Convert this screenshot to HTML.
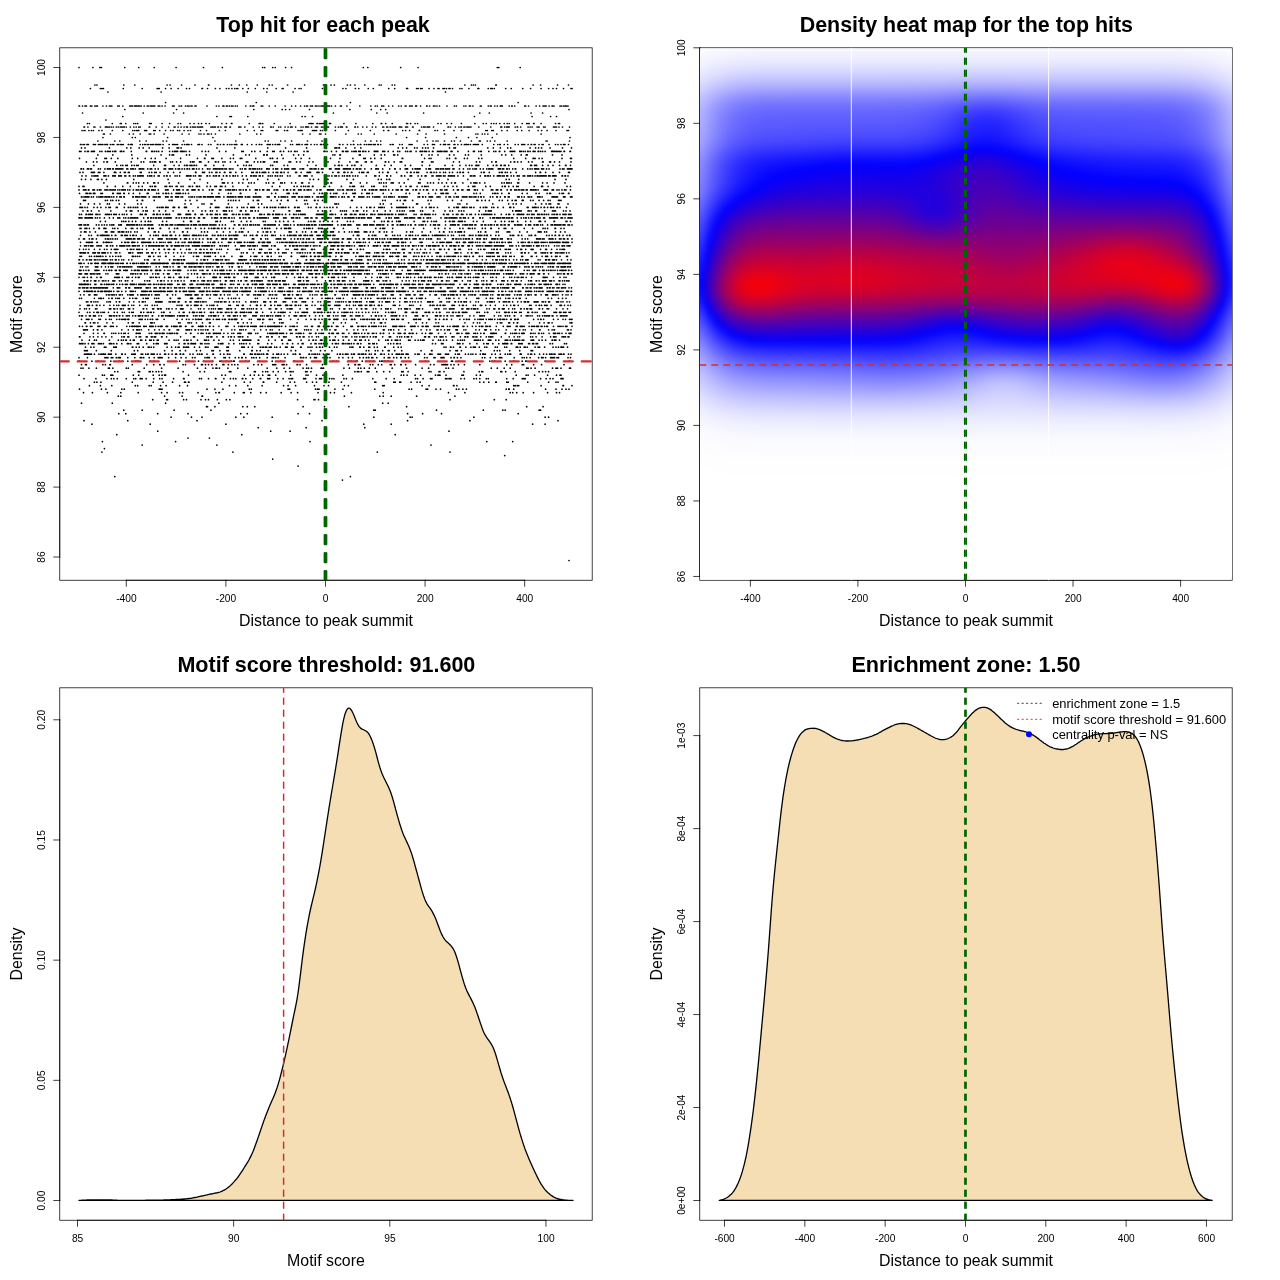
<!DOCTYPE html>
<html lang="en"><head><meta charset="utf-8"><title>Motif enrichment plots</title>
<style>
html,body{margin:0;padding:0;background:#fff}
#page{position:relative;width:1280px;height:1280px;overflow:hidden;background:#fff;font-family:'Liberation Sans', Arial, Helvetica, sans-serif}
#hw{position:absolute;left:700px;top:48px;width:532px;height:532px;overflow:hidden}
#heat{position:absolute;left:0;top:0;width:532px;height:532px;filter:blur(2.5px)}
#heat div{position:absolute;top:-20px;width:4px;height:572px;background-size:100% 532px;background-position:0 20px;background-repeat:no-repeat}
svg{position:absolute;left:0;top:0}
svg text{font-family:'Liberation Sans', Arial, Helvetica, sans-serif;fill:#000}
</style></head><body>
<div id="page">
<svg width="1280" height="1280" viewBox="0 0 1280 1280">
<rect x="699.76" y="47.81" width="532.43" height="532.43" fill="none" stroke="#000" stroke-width="0.75"/>
<text x="966.38" y="31.9" text-anchor="middle" font-weight="bold" font-size="21.43">Density heat map for the top hits</text>
<text x="965.98" y="625.5" text-anchor="middle" font-size="15.9">Distance to peak summit</text>
<text transform="translate(661.5,314.02) rotate(-90)" text-anchor="middle" font-size="15.9">Motif score</text>
<path d="M750.35 580.24H1180.6M750.35 580.24v5.98M857.91 580.24v5.98M965.48 580.24v5.98M1073.04 580.24v5.98M1180.6 580.24v5.98" fill="none" stroke="#000" stroke-width="0.75" stroke-linecap="square"/>
<text x="750.45" y="601.7" text-anchor="middle" font-size="10.2">-400</text>
<text x="858.01" y="601.7" text-anchor="middle" font-size="10.2">-200</text>
<text x="965.58" y="601.7" text-anchor="middle" font-size="10.2">0</text>
<text x="1073.14" y="601.7" text-anchor="middle" font-size="10.2">200</text>
<text x="1180.7" y="601.7" text-anchor="middle" font-size="10.2">400</text>
<path d="M699.76 576.46V47.81M699.76 576.46h-5.98M699.76 500.94h-5.98M699.76 425.42h-5.98M699.76 349.9h-5.98M699.76 274.38h-5.98M699.76 198.85h-5.98M699.76 123.33h-5.98M699.76 47.81h-5.98" fill="none" stroke="#000" stroke-width="0.75" stroke-linecap="square"/>
<text transform="translate(685.4,576.46) rotate(-90)" text-anchor="middle" font-size="10.2">86</text>
<text transform="translate(685.4,500.94) rotate(-90)" text-anchor="middle" font-size="10.2">88</text>
<text transform="translate(685.4,425.42) rotate(-90)" text-anchor="middle" font-size="10.2">90</text>
<text transform="translate(685.4,349.9) rotate(-90)" text-anchor="middle" font-size="10.2">92</text>
<text transform="translate(685.4,274.38) rotate(-90)" text-anchor="middle" font-size="10.2">94</text>
<text transform="translate(685.4,198.85) rotate(-90)" text-anchor="middle" font-size="10.2">96</text>
<text transform="translate(685.4,123.33) rotate(-90)" text-anchor="middle" font-size="10.2">98</text>
<text transform="translate(685.4,47.81) rotate(-90)" text-anchor="middle" font-size="10.2">100</text>
</svg>
<div id="hw"><div id="heat">
<div style="left:-16px;background-image:linear-gradient(#fbfbff,#fafaff,#f7f7ff,#f5f5ff,#f2f2ff,#efefff,#ebebff,#e6e6ff,#e1e1ff,#dbdbff,#d4d4ff,#cdcdff,#c6c6ff,#c0c0ff,#bbbbff,#b7b7ff,#b4b4ff,#b1b1ff,#afafff,#aeaeff,#acacff,#aaaaff,#a8a8ff,#a6a6ff,#a2a2ff,#9e9eff,#9999ff,#9494ff,#9090ff,#8c8cff,#8a8aff,#8888ff,#8686ff,#8484ff,#8181ff,#7e7eff,#7a7aff,#7676ff,#7171ff,#6b6bff,#6565ff,#5f5fff,#5959ff,#5353ff,#4e4eff,#4848ff,#4343ff,#3e3eff,#3939ff,#3434ff,#2f2fff,#2a2aff,#2525ff,#2020ff,#1b1bff,#1717ff,#1212ff,#0f0fff,#0c0cff,#0a0aff,#0b0bff,#0e0eff,#1313ff,#1a1aff,#2323ff,#2d2dff,#3838ff,#4343ff,#4d4dff,#5858ff,#6262ff,#6b6bff,#7575ff,#7e7eff,#8787ff,#9090ff,#9898ff,#a1a1ff,#a9a9ff,#b0b0ff,#b8b8ff,#bebeff,#c5c5ff,#cacaff,#d0d0ff,#d5d5ff,#dadaff,#dfdfff,#e3e3ff,#e8e8ff,#ececff,#efefff,#f2f2ff,#f5f5ff,#f7f7ff,#f9f9ff,#fafaff,#fbfbff,#fcfcff,#fdfdff,#fdfdff,#fefeff,#fefeff,#fefeff,#fefeff,#ffffff,#ffffff,#ffffff,#ffffff,#ffffff,#ffffff,#ffffff,#ffffff,#ffffff,#ffffff,#ffffff,#ffffff,#ffffff,#ffffff,#ffffff,#ffffff,#ffffff,#ffffff,#ffffff,#ffffff,#ffffff,#ffffff,#ffffff,#ffffff,#ffffff,#ffffff,#ffffff,#ffffff,#ffffff)"></div>
<div style="left:-12px;background-image:linear-gradient(#fbfbff,#fafaff,#f7f7ff,#f5f5ff,#f2f2ff,#efefff,#ebebff,#e6e6ff,#e1e1ff,#dbdbff,#d4d4ff,#cdcdff,#c6c6ff,#c0c0ff,#bbbbff,#b7b7ff,#b4b4ff,#b1b1ff,#afafff,#aeaeff,#acacff,#aaaaff,#a8a8ff,#a6a6ff,#a2a2ff,#9e9eff,#9999ff,#9494ff,#9090ff,#8c8cff,#8a8aff,#8888ff,#8686ff,#8484ff,#8181ff,#7e7eff,#7a7aff,#7676ff,#7171ff,#6b6bff,#6565ff,#5f5fff,#5959ff,#5353ff,#4e4eff,#4848ff,#4343ff,#3e3eff,#3939ff,#3434ff,#2f2fff,#2a2aff,#2525ff,#2020ff,#1b1bff,#1717ff,#1212ff,#0f0fff,#0c0cff,#0a0aff,#0b0bff,#0e0eff,#1313ff,#1a1aff,#2323ff,#2d2dff,#3838ff,#4343ff,#4d4dff,#5858ff,#6262ff,#6b6bff,#7575ff,#7e7eff,#8787ff,#9090ff,#9898ff,#a1a1ff,#a9a9ff,#b0b0ff,#b8b8ff,#bebeff,#c5c5ff,#cacaff,#d0d0ff,#d5d5ff,#dadaff,#dfdfff,#e3e3ff,#e8e8ff,#ececff,#efefff,#f2f2ff,#f5f5ff,#f7f7ff,#f9f9ff,#fafaff,#fbfbff,#fcfcff,#fdfdff,#fdfdff,#fefeff,#fefeff,#fefeff,#fefeff,#ffffff,#ffffff,#ffffff,#ffffff,#ffffff,#ffffff,#ffffff,#ffffff,#ffffff,#ffffff,#ffffff,#ffffff,#ffffff,#ffffff,#ffffff,#ffffff,#ffffff,#ffffff,#ffffff,#ffffff,#ffffff,#ffffff,#ffffff,#ffffff,#ffffff,#ffffff,#ffffff,#ffffff,#ffffff)"></div>
<div style="left:-8px;background-image:linear-gradient(#fbfbff,#fafaff,#f7f7ff,#f5f5ff,#f2f2ff,#efefff,#ebebff,#e6e6ff,#e1e1ff,#dbdbff,#d4d4ff,#cdcdff,#c6c6ff,#c0c0ff,#bbbbff,#b7b7ff,#b4b4ff,#b1b1ff,#afafff,#aeaeff,#acacff,#aaaaff,#a8a8ff,#a6a6ff,#a2a2ff,#9e9eff,#9999ff,#9494ff,#9090ff,#8c8cff,#8a8aff,#8888ff,#8686ff,#8484ff,#8181ff,#7e7eff,#7a7aff,#7676ff,#7171ff,#6b6bff,#6565ff,#5f5fff,#5959ff,#5353ff,#4e4eff,#4848ff,#4343ff,#3e3eff,#3939ff,#3434ff,#2f2fff,#2a2aff,#2525ff,#2020ff,#1b1bff,#1717ff,#1212ff,#0f0fff,#0c0cff,#0a0aff,#0b0bff,#0e0eff,#1313ff,#1a1aff,#2323ff,#2d2dff,#3838ff,#4343ff,#4d4dff,#5858ff,#6262ff,#6b6bff,#7575ff,#7e7eff,#8787ff,#9090ff,#9898ff,#a1a1ff,#a9a9ff,#b0b0ff,#b8b8ff,#bebeff,#c5c5ff,#cacaff,#d0d0ff,#d5d5ff,#dadaff,#dfdfff,#e3e3ff,#e8e8ff,#ececff,#efefff,#f2f2ff,#f5f5ff,#f7f7ff,#f9f9ff,#fafaff,#fbfbff,#fcfcff,#fdfdff,#fdfdff,#fefeff,#fefeff,#fefeff,#fefeff,#ffffff,#ffffff,#ffffff,#ffffff,#ffffff,#ffffff,#ffffff,#ffffff,#ffffff,#ffffff,#ffffff,#ffffff,#ffffff,#ffffff,#ffffff,#ffffff,#ffffff,#ffffff,#ffffff,#ffffff,#ffffff,#ffffff,#ffffff,#ffffff,#ffffff,#ffffff,#ffffff,#ffffff,#ffffff)"></div>
<div style="left:-4px;background-image:linear-gradient(#fbfbff,#fafaff,#f7f7ff,#f5f5ff,#f2f2ff,#efefff,#ebebff,#e6e6ff,#e1e1ff,#dbdbff,#d4d4ff,#cdcdff,#c6c6ff,#c0c0ff,#bbbbff,#b7b7ff,#b4b4ff,#b1b1ff,#afafff,#aeaeff,#acacff,#aaaaff,#a8a8ff,#a6a6ff,#a2a2ff,#9e9eff,#9999ff,#9494ff,#9090ff,#8c8cff,#8a8aff,#8888ff,#8686ff,#8484ff,#8181ff,#7e7eff,#7a7aff,#7676ff,#7171ff,#6b6bff,#6565ff,#5f5fff,#5959ff,#5353ff,#4e4eff,#4848ff,#4343ff,#3e3eff,#3939ff,#3434ff,#2f2fff,#2a2aff,#2525ff,#2020ff,#1b1bff,#1717ff,#1212ff,#0f0fff,#0c0cff,#0a0aff,#0b0bff,#0e0eff,#1313ff,#1a1aff,#2323ff,#2d2dff,#3838ff,#4343ff,#4d4dff,#5858ff,#6262ff,#6b6bff,#7575ff,#7e7eff,#8787ff,#9090ff,#9898ff,#a1a1ff,#a9a9ff,#b0b0ff,#b8b8ff,#bebeff,#c5c5ff,#cacaff,#d0d0ff,#d5d5ff,#dadaff,#dfdfff,#e3e3ff,#e8e8ff,#ececff,#efefff,#f2f2ff,#f5f5ff,#f7f7ff,#f9f9ff,#fafaff,#fbfbff,#fcfcff,#fdfdff,#fdfdff,#fefeff,#fefeff,#fefeff,#fefeff,#ffffff,#ffffff,#ffffff,#ffffff,#ffffff,#ffffff,#ffffff,#ffffff,#ffffff,#ffffff,#ffffff,#ffffff,#ffffff,#ffffff,#ffffff,#ffffff,#ffffff,#ffffff,#ffffff,#ffffff,#ffffff,#ffffff,#ffffff,#ffffff,#ffffff,#ffffff,#ffffff,#ffffff,#ffffff)"></div>
<div style="left:0px;background-image:linear-gradient(#fbfbff,#f9f9ff,#f7f7ff,#f5f5ff,#f2f2ff,#eeeeff,#eaeaff,#e5e5ff,#e0e0ff,#dadaff,#d3d3ff,#ccccff,#c5c5ff,#bebeff,#b9b9ff,#b4b4ff,#b1b1ff,#afafff,#adadff,#ababff,#aaaaff,#a8a8ff,#a6a6ff,#a3a3ff,#9f9fff,#9b9bff,#9696ff,#9191ff,#8d8dff,#8989ff,#8686ff,#8484ff,#8282ff,#8080ff,#7e7eff,#7b7bff,#7777ff,#7272ff,#6d6dff,#6767ff,#6161ff,#5a5aff,#5454ff,#4e4eff,#4949ff,#4343ff,#3e3eff,#3838ff,#3333ff,#2e2eff,#2929ff,#2424ff,#1f1fff,#1919ff,#1414ff,#0f0fff,#0b0bff,#0707ff,#0404ff,#0202ff,#0303ff,#0606ff,#0c0cff,#1313ff,#1c1cff,#2727ff,#3232ff,#3d3dff,#4848ff,#5353ff,#5d5dff,#6767ff,#7070ff,#7a7aff,#8383ff,#8c8cff,#9595ff,#9e9eff,#a6a6ff,#aeaeff,#b5b5ff,#bcbcff,#c3c3ff,#c9c9ff,#ceceff,#d4d4ff,#d9d9ff,#dedeff,#e2e2ff,#e7e7ff,#ebebff,#efefff,#f2f2ff,#f4f4ff,#f7f7ff,#f8f8ff,#fafaff,#fbfbff,#fcfcff,#fdfdff,#fdfdff,#fefeff,#fefeff,#fefeff,#fefeff,#ffffff,#ffffff,#ffffff,#ffffff,#ffffff,#ffffff,#ffffff,#ffffff,#ffffff,#ffffff,#ffffff,#ffffff,#ffffff,#ffffff,#ffffff,#ffffff,#ffffff,#ffffff,#ffffff,#ffffff,#ffffff,#ffffff,#ffffff,#ffffff,#ffffff,#ffffff,#ffffff,#ffffff,#ffffff)"></div>
<div style="left:4px;background-image:linear-gradient(#fbfbff,#f9f9ff,#f6f6ff,#f4f4ff,#f0f0ff,#ececff,#e8e8ff,#e2e2ff,#dcdcff,#d5d5ff,#ceceff,#c6c6ff,#bebeff,#b7b7ff,#b1b1ff,#acacff,#a8a8ff,#a6a6ff,#a4a4ff,#a2a2ff,#a0a0ff,#9e9eff,#9b9bff,#9898ff,#9494ff,#8f8fff,#8a8aff,#8484ff,#8080ff,#7c7cff,#7979ff,#7777ff,#7575ff,#7373ff,#7070ff,#6c6cff,#6868ff,#6363ff,#5d5dff,#5656ff,#4f4fff,#4848ff,#4141ff,#3a3aff,#3434ff,#2d2dff,#2727ff,#2121ff,#1c1cff,#1616ff,#1010ff,#0a0aff,#0404ff,#0200fd,#0800f7,#0d00f2,#1300ec,#1800e7,#1b00e4,#1d00e2,#1c00e3,#1900e6,#1300ec,#0b00f4,#0000ff,#0c0cff,#1818ff,#2525ff,#3232ff,#3e3eff,#4949ff,#5555ff,#5f5fff,#6a6aff,#7575ff,#7f7fff,#8989ff,#9393ff,#9c9cff,#a5a5ff,#adadff,#b5b5ff,#bcbcff,#c2c2ff,#c8c8ff,#ceceff,#d4d4ff,#dadaff,#dfdfff,#e4e4ff,#e9e9ff,#ededff,#f0f0ff,#f3f3ff,#f6f6ff,#f8f8ff,#f9f9ff,#fbfbff,#fcfcff,#fdfdff,#fdfdff,#fefeff,#fefeff,#fefeff,#fefeff,#ffffff,#ffffff,#ffffff,#ffffff,#ffffff,#ffffff,#ffffff,#ffffff,#ffffff,#ffffff,#ffffff,#ffffff,#ffffff,#ffffff,#ffffff,#ffffff,#ffffff,#ffffff,#ffffff,#ffffff,#ffffff,#ffffff,#ffffff,#ffffff,#ffffff,#ffffff,#ffffff,#ffffff,#ffffff)"></div>
<div style="left:8px;background-image:linear-gradient(#fafaff,#f8f8ff,#f6f6ff,#f2f2ff,#efefff,#eaeaff,#e5e5ff,#dfdfff,#d9d9ff,#d1d1ff,#c9c9ff,#c0c0ff,#b7b7ff,#afafff,#a9a9ff,#a3a3ff,#9f9fff,#9d9dff,#9a9aff,#9898ff,#9696ff,#9494ff,#9191ff,#8e8eff,#8a8aff,#8484ff,#7e7eff,#7878ff,#7373ff,#6f6fff,#6c6cff,#6a6aff,#6868ff,#6666ff,#6363ff,#5f5fff,#5a5aff,#5454ff,#4d4dff,#4646ff,#3e3eff,#3636ff,#2e2eff,#2727ff,#1f1fff,#1818ff,#1212ff,#0b0bff,#0404ff,#0200fd,#0900f6,#0f00f0,#1600e9,#1d00e2,#2300dc,#2a00d5,#3000cf,#3500ca,#3a00c5,#3c00c3,#3b00c4,#3800c7,#3100ce,#2800d7,#1c00e3,#0f00f0,#0100fe,#0d0dff,#1c1cff,#2929ff,#3636ff,#4343ff,#4f4fff,#5b5bff,#6666ff,#7272ff,#7d7dff,#8888ff,#9292ff,#9b9bff,#a4a4ff,#adadff,#b5b5ff,#bcbcff,#c3c3ff,#c9c9ff,#d0d0ff,#d6d6ff,#dcdcff,#e1e1ff,#e6e6ff,#ebebff,#efefff,#f2f2ff,#f5f5ff,#f7f7ff,#f9f9ff,#fafaff,#fbfbff,#fcfcff,#fdfdff,#fdfdff,#fefeff,#fefeff,#fefeff,#fefeff,#ffffff,#ffffff,#ffffff,#ffffff,#ffffff,#ffffff,#ffffff,#ffffff,#ffffff,#ffffff,#ffffff,#ffffff,#ffffff,#ffffff,#ffffff,#ffffff,#ffffff,#ffffff,#ffffff,#ffffff,#ffffff,#ffffff,#ffffff,#ffffff,#ffffff,#ffffff,#ffffff,#ffffff)"></div>
<div style="left:12px;background-image:linear-gradient(#fafaff,#f7f7ff,#f5f5ff,#f1f1ff,#ededff,#e8e8ff,#e3e3ff,#ddddff,#d5d5ff,#cdcdff,#c4c4ff,#bbbbff,#b1b1ff,#a9a9ff,#a1a1ff,#9b9bff,#9797ff,#9494ff,#9191ff,#8f8fff,#8d8dff,#8b8bff,#8888ff,#8484ff,#7f7fff,#7979ff,#7373ff,#6d6dff,#6767ff,#6363ff,#6060ff,#5e5eff,#5c5cff,#5959ff,#5656ff,#5252ff,#4d4dff,#4646ff,#3f3fff,#3737ff,#2e2eff,#2525ff,#1c1cff,#1414ff,#0c0cff,#0404ff,#0300fc,#0b00f4,#1200ed,#1900e6,#2000df,#2700d8,#2f00d0,#3600c9,#3e00c1,#4500ba,#4c00b3,#5200ad,#5700a8,#5a00a5,#5a00a5,#5600a9,#4f00b0,#4400bb,#3700c8,#2900d6,#1900e6,#0900f6,#0707ff,#1616ff,#2424ff,#3232ff,#3f3fff,#4c4cff,#5959ff,#6565ff,#7171ff,#7d7dff,#8888ff,#9393ff,#9c9cff,#a5a5ff,#aeaeff,#b6b6ff,#bdbdff,#c5c5ff,#cbcbff,#d2d2ff,#d8d8ff,#dedeff,#e4e4ff,#e9e9ff,#ededff,#f1f1ff,#f4f4ff,#f6f6ff,#f8f8ff,#fafaff,#fbfbff,#fcfcff,#fdfdff,#fdfdff,#fefeff,#fefeff,#fefeff,#fefeff,#ffffff,#ffffff,#ffffff,#ffffff,#ffffff,#ffffff,#ffffff,#ffffff,#ffffff,#ffffff,#ffffff,#ffffff,#ffffff,#ffffff,#ffffff,#ffffff,#ffffff,#ffffff,#ffffff,#ffffff,#ffffff,#ffffff,#ffffff,#ffffff,#ffffff,#ffffff,#ffffff,#ffffff)"></div>
<div style="left:16px;background-image:linear-gradient(#f9f9ff,#f7f7ff,#f4f4ff,#f0f0ff,#ececff,#e7e7ff,#e1e1ff,#dadaff,#d2d2ff,#c9c9ff,#c0c0ff,#b5b5ff,#ababff,#a2a2ff,#9a9aff,#9494ff,#8f8fff,#8c8cff,#8989ff,#8787ff,#8484ff,#8282ff,#7f7fff,#7b7bff,#7676ff,#7070ff,#6969ff,#6262ff,#5c5cff,#5858ff,#5454ff,#5252ff,#5050ff,#4e4eff,#4a4aff,#4646ff,#4040ff,#3a3aff,#3131ff,#2828ff,#1f1fff,#1515ff,#0c0cff,#0303ff,#0600f9,#0f00f0,#1700e8,#1e00e1,#2600d9,#2e00d1,#3600c9,#3e00c1,#4600b9,#4e00b1,#5600a9,#5f00a0,#660099,#6d0092,#73008c,#760089,#760089,#72008d,#6a0095,#5f00a0,#5100ae,#4100be,#3000cf,#1e00e1,#0d00f2,#0303ff,#1313ff,#2222ff,#3030ff,#3e3eff,#4c4cff,#5a5aff,#6767ff,#7373ff,#7f7fff,#8a8aff,#9595ff,#9f9fff,#a8a8ff,#b0b0ff,#b8b8ff,#c0c0ff,#c7c7ff,#ceceff,#d5d5ff,#dcdcff,#e2e2ff,#e7e7ff,#ececff,#f0f0ff,#f3f3ff,#f6f6ff,#f8f8ff,#f9f9ff,#fbfbff,#fcfcff,#fdfdff,#fdfdff,#fefeff,#fefeff,#fefeff,#fefeff,#ffffff,#ffffff,#ffffff,#ffffff,#ffffff,#ffffff,#ffffff,#ffffff,#ffffff,#ffffff,#ffffff,#ffffff,#ffffff,#ffffff,#ffffff,#ffffff,#ffffff,#ffffff,#ffffff,#ffffff,#ffffff,#ffffff,#ffffff,#ffffff,#ffffff,#ffffff,#ffffff,#ffffff)"></div>
<div style="left:20px;background-image:linear-gradient(#f9f9ff,#f6f6ff,#f3f3ff,#efefff,#ebebff,#e5e5ff,#dfdfff,#d8d8ff,#cfcfff,#c6c6ff,#bcbcff,#b1b1ff,#a6a6ff,#9c9cff,#9494ff,#8d8dff,#8888ff,#8484ff,#8282ff,#7f7fff,#7d7dff,#7a7aff,#7777ff,#7373ff,#6d6dff,#6666ff,#5f5fff,#5858ff,#5252ff,#4d4dff,#4a4aff,#4848ff,#4545ff,#4343ff,#4040ff,#3b3bff,#3535ff,#2e2eff,#2525ff,#1b1bff,#1111ff,#0707ff,#0400fb,#0d00f2,#1700e8,#2000df,#2800d7,#3100ce,#3900c6,#4100be,#4a00b5,#5200ad,#5b00a4,#64009b,#6d0092,#760089,#7e0081,#860079,#8c0073,#90006f,#90006f,#8c0073,#83007c,#770088,#680097,#5700a8,#4500ba,#3200cd,#1f00e0,#0e00f1,#0303ff,#1313ff,#2323ff,#3232ff,#4141ff,#4f4fff,#5d5dff,#6a6aff,#7777ff,#8383ff,#8e8eff,#9898ff,#a2a2ff,#ababff,#b4b4ff,#bcbcff,#c4c4ff,#cbcbff,#d3d3ff,#d9d9ff,#e0e0ff,#e5e5ff,#eaeaff,#efefff,#f2f2ff,#f5f5ff,#f7f7ff,#f9f9ff,#fafaff,#fcfcff,#fcfcff,#fdfdff,#fdfdff,#fefeff,#fefeff,#fefeff,#fefeff,#ffffff,#ffffff,#ffffff,#ffffff,#ffffff,#ffffff,#ffffff,#ffffff,#ffffff,#ffffff,#ffffff,#ffffff,#ffffff,#ffffff,#ffffff,#ffffff,#ffffff,#ffffff,#ffffff,#ffffff,#ffffff,#ffffff,#ffffff,#ffffff,#ffffff,#ffffff,#ffffff)"></div>
<div style="left:24px;background-image:linear-gradient(#f9f9ff,#f6f6ff,#f3f3ff,#eeeeff,#eaeaff,#e4e4ff,#ddddff,#d6d6ff,#cdcdff,#c3c3ff,#b8b8ff,#adadff,#a1a1ff,#9797ff,#8e8eff,#8787ff,#8282ff,#7e7eff,#7b7bff,#7878ff,#7676ff,#7373ff,#6f6fff,#6b6bff,#6565ff,#5e5eff,#5757ff,#4f4fff,#4949ff,#4444ff,#4040ff,#3e3eff,#3c3cff,#3939ff,#3636ff,#3131ff,#2b2bff,#2323ff,#1a1aff,#0f0fff,#0404ff,#0600f9,#1100ee,#1c00e3,#2600d9,#2f00d0,#3800c7,#4100be,#4a00b5,#5300ac,#5b00a4,#65009a,#6e0091,#780087,#81007e,#8b0074,#94006b,#9c0063,#a3005c,#a70058,#a70058,#a3005c,#9a0065,#8d0072,#7d0082,#6b0094,#5700a8,#4300bc,#3000cf,#1d00e2,#0b00f4,#0606ff,#1717ff,#2727ff,#3636ff,#4545ff,#5454ff,#6262ff,#6f6fff,#7c7cff,#8888ff,#9393ff,#9d9dff,#a6a6ff,#afafff,#b8b8ff,#c0c0ff,#c8c8ff,#d0d0ff,#d7d7ff,#dedeff,#e4e4ff,#e9e9ff,#eeeeff,#f1f1ff,#f4f4ff,#f7f7ff,#f9f9ff,#fafaff,#fbfbff,#fcfcff,#fdfdff,#fdfdff,#fefeff,#fefeff,#fefeff,#fefeff,#ffffff,#ffffff,#ffffff,#ffffff,#ffffff,#ffffff,#ffffff,#ffffff,#ffffff,#ffffff,#ffffff,#ffffff,#ffffff,#ffffff,#ffffff,#ffffff,#ffffff,#ffffff,#ffffff,#ffffff,#ffffff,#ffffff,#ffffff,#ffffff,#ffffff,#ffffff,#ffffff)"></div>
<div style="left:28px;background-image:linear-gradient(#f8f8ff,#f6f6ff,#f2f2ff,#eeeeff,#e9e9ff,#e3e3ff,#dcdcff,#d4d4ff,#cbcbff,#c0c0ff,#b5b5ff,#a9a9ff,#9d9dff,#9292ff,#8989ff,#8282ff,#7c7cff,#7878ff,#7575ff,#7272ff,#7070ff,#6d6dff,#6969ff,#6464ff,#5e5eff,#5757ff,#4f4fff,#4747ff,#4141ff,#3c3cff,#3838ff,#3636ff,#3333ff,#3131ff,#2d2dff,#2828ff,#2121ff,#1919ff,#1010ff,#0505ff,#0700f8,#1200ed,#1d00e2,#2800d7,#3300cc,#3c00c3,#4600b9,#4f00b0,#5800a7,#62009d,#6b0094,#75008a,#7f0080,#890076,#93006c,#9d0062,#a70058,#b0004f,#b70048,#bb0044,#bb0044,#b60049,#ad0052,#a0005f,#8f0070,#7c0083,#670098,#5200ad,#3e00c1,#2a00d5,#1700e8,#0500fa,#0c0cff,#1d1dff,#2d2dff,#3d3dff,#4c4cff,#5b5bff,#6969ff,#7676ff,#8282ff,#8e8eff,#9898ff,#a2a2ff,#ababff,#b4b4ff,#bdbdff,#c6c6ff,#ceceff,#d5d5ff,#dcdcff,#e3e3ff,#e8e8ff,#ededff,#f1f1ff,#f4f4ff,#f6f6ff,#f8f8ff,#fafaff,#fbfbff,#fcfcff,#fdfdff,#fdfdff,#fefeff,#fefeff,#fefeff,#fefeff,#ffffff,#ffffff,#ffffff,#ffffff,#ffffff,#ffffff,#ffffff,#ffffff,#ffffff,#ffffff,#ffffff,#ffffff,#ffffff,#ffffff,#ffffff,#ffffff,#ffffff,#ffffff,#ffffff,#ffffff,#ffffff,#ffffff,#ffffff,#ffffff,#ffffff,#ffffff,#ffffff)"></div>
<div style="left:32px;background-image:linear-gradient(#f8f8ff,#f5f5ff,#f2f2ff,#ededff,#e8e8ff,#e2e2ff,#dadaff,#d2d2ff,#c9c9ff,#bebeff,#b2b2ff,#a6a6ff,#9999ff,#8e8eff,#8585ff,#7d7dff,#7777ff,#7373ff,#7070ff,#6d6dff,#6a6aff,#6767ff,#6464ff,#5f5fff,#5959ff,#5151ff,#4949ff,#4141ff,#3a3aff,#3434ff,#3131ff,#2e2eff,#2c2cff,#2929ff,#2525ff,#2020ff,#1919ff,#1111ff,#0707ff,#0500fa,#1000ef,#1c00e3,#2800d7,#3300cc,#3e00c1,#4800b7,#5200ad,#5b00a4,#65009a,#6e0091,#780087,#82007d,#8d0072,#970068,#a2005d,#ac0053,#b60049,#c0003f,#c70038,#cc0033,#cc0033,#c70038,#be0041,#b0004f,#9e0061,#8a0075,#75008a,#5f00a0,#4900b6,#3500ca,#2100de,#0f00f0,#0303ff,#1515ff,#2626ff,#3636ff,#4646ff,#5555ff,#6363ff,#7171ff,#7d7dff,#8989ff,#9494ff,#9f9fff,#a8a8ff,#b1b1ff,#babaff,#c3c3ff,#ccccff,#d4d4ff,#dbdbff,#e2e2ff,#e7e7ff,#ececff,#f0f0ff,#f3f3ff,#f6f6ff,#f8f8ff,#fafaff,#fbfbff,#fcfcff,#fdfdff,#fdfdff,#fefeff,#fefeff,#fefeff,#fefeff,#ffffff,#ffffff,#ffffff,#ffffff,#ffffff,#ffffff,#ffffff,#ffffff,#ffffff,#ffffff,#ffffff,#ffffff,#ffffff,#ffffff,#ffffff,#ffffff,#ffffff,#ffffff,#ffffff,#ffffff,#ffffff,#ffffff,#ffffff,#ffffff,#ffffff,#ffffff,#ffffff)"></div>
<div style="left:36px;background-image:linear-gradient(#f8f8ff,#f5f5ff,#f1f1ff,#ededff,#e7e7ff,#e1e1ff,#d9d9ff,#d1d1ff,#c7c7ff,#bcbcff,#b0b0ff,#a3a3ff,#9797ff,#8b8bff,#8181ff,#7979ff,#7373ff,#6f6fff,#6c6cff,#6969ff,#6666ff,#6363ff,#5f5fff,#5a5aff,#5454ff,#4c4cff,#4343ff,#3b3bff,#3434ff,#2e2eff,#2a2aff,#2727ff,#2525ff,#2222ff,#1e1eff,#1818ff,#1212ff,#0909ff,#0100fe,#0d00f2,#1900e6,#2500da,#3100ce,#3c00c3,#4700b8,#5200ad,#5c00a3,#660099,#6f0090,#790086,#83007c,#8e0071,#980067,#a3005c,#ae0051,#b90046,#c3003c,#cd0032,#d5002a,#d90026,#d90026,#d5002a,#cb0034,#bd0042,#ab0054,#960069,#80007f,#690096,#5300ac,#3e00c1,#2a00d5,#1600e9,#0400fb,#0e0eff,#1f1fff,#3030ff,#4040ff,#5050ff,#5e5eff,#6c6cff,#7a7aff,#8686ff,#9191ff,#9b9bff,#a5a5ff,#afafff,#b8b8ff,#c1c1ff,#cacaff,#d2d2ff,#dadaff,#e1e1ff,#e6e6ff,#ebebff,#f0f0ff,#f3f3ff,#f6f6ff,#f8f8ff,#fafaff,#fbfbff,#fcfcff,#fdfdff,#fdfdff,#fefeff,#fefeff,#fefeff,#fefeff,#ffffff,#ffffff,#ffffff,#ffffff,#ffffff,#ffffff,#ffffff,#ffffff,#ffffff,#ffffff,#ffffff,#ffffff,#ffffff,#ffffff,#ffffff,#ffffff,#ffffff,#ffffff,#ffffff,#ffffff,#ffffff,#ffffff,#ffffff,#ffffff,#ffffff,#ffffff,#ffffff)"></div>
<div style="left:40px;background-image:linear-gradient(#f8f8ff,#f5f5ff,#f1f1ff,#ececff,#e7e7ff,#e0e0ff,#d9d9ff,#d0d0ff,#c6c6ff,#bbbbff,#aeaeff,#a1a1ff,#9494ff,#8888ff,#7e7eff,#7676ff,#7070ff,#6c6cff,#6868ff,#6565ff,#6262ff,#5f5fff,#5b5bff,#5656ff,#5050ff,#4848ff,#3f3fff,#3636ff,#2f2fff,#2929ff,#2525ff,#2222ff,#1f1fff,#1c1cff,#1717ff,#1212ff,#0b0bff,#0202ff,#0800f7,#1400eb,#2000df,#2c00d3,#3800c7,#4400bb,#4f00b0,#5a00a5,#64009b,#6e0091,#780087,#82007d,#8c0073,#970068,#a2005d,#ad0052,#b80047,#c3003c,#ce0031,#d70028,#df0020,#e4001b,#e4001b,#df0020,#d5002a,#c60039,#b4004b,#9f0060,#880077,#71008e,#5b00a4,#4500ba,#3000cf,#1d00e2,#0a00f5,#0808ff,#1a1aff,#2b2bff,#3c3cff,#4c4cff,#5b5bff,#6969ff,#7676ff,#8383ff,#8e8eff,#9999ff,#a3a3ff,#adadff,#b6b6ff,#c0c0ff,#c9c9ff,#d1d1ff,#d9d9ff,#e0e0ff,#e6e6ff,#ebebff,#efefff,#f3f3ff,#f6f6ff,#f8f8ff,#fafaff,#fbfbff,#fcfcff,#fdfdff,#fdfdff,#fefeff,#fefeff,#fefeff,#fefeff,#ffffff,#ffffff,#ffffff,#ffffff,#ffffff,#ffffff,#ffffff,#ffffff,#ffffff,#ffffff,#ffffff,#ffffff,#ffffff,#ffffff,#ffffff,#ffffff,#ffffff,#ffffff,#ffffff,#ffffff,#ffffff,#ffffff,#ffffff,#ffffff,#ffffff,#ffffff,#ffffff)"></div>
<div style="left:44px;background-image:linear-gradient(#f8f8ff,#f4f4ff,#f1f1ff,#ececff,#e6e6ff,#dfdfff,#d8d8ff,#cfcfff,#c5c5ff,#b9b9ff,#adadff,#9f9fff,#9292ff,#8686ff,#7c7cff,#7474ff,#6e6eff,#6969ff,#6666ff,#6363ff,#6060ff,#5c5cff,#5858ff,#5353ff,#4c4cff,#4444ff,#3b3bff,#3232ff,#2a2aff,#2424ff,#2020ff,#1d1dff,#1a1aff,#1616ff,#1212ff,#0c0cff,#0505ff,#0400fb,#0f00f0,#1a00e5,#2600d9,#3200cd,#3e00c1,#4a00b5,#5500aa,#60009f,#6a0095,#75008a,#7f0080,#890076,#93006c,#9e0061,#a90056,#b4004b,#bf0040,#ca0035,#d5002a,#df0020,#e70018,#eb0014,#eb0014,#e60019,#dc0023,#ce0031,#bb0044,#a60059,#8f0070,#770088,#60009f,#4a00b5,#3600c9,#2200dd,#0f00f0,#0404ff,#1616ff,#2727ff,#3838ff,#4848ff,#5858ff,#6666ff,#7474ff,#8080ff,#8c8cff,#9797ff,#a1a1ff,#ababff,#b5b5ff,#bebeff,#c7c7ff,#d0d0ff,#d8d8ff,#dfdfff,#e5e5ff,#ebebff,#efefff,#f3f3ff,#f5f5ff,#f8f8ff,#f9f9ff,#fbfbff,#fcfcff,#fdfdff,#fdfdff,#fefeff,#fefeff,#fefeff,#fefeff,#ffffff,#ffffff,#ffffff,#ffffff,#ffffff,#ffffff,#ffffff,#ffffff,#ffffff,#ffffff,#ffffff,#ffffff,#ffffff,#ffffff,#ffffff,#ffffff,#ffffff,#ffffff,#ffffff,#ffffff,#ffffff,#ffffff,#ffffff,#ffffff,#ffffff,#ffffff,#ffffff)"></div>
<div style="left:48px;background-image:linear-gradient(#f7f7ff,#f4f4ff,#f0f0ff,#ececff,#e6e6ff,#dfdfff,#d7d7ff,#ceceff,#c4c4ff,#b8b8ff,#acacff,#9e9eff,#9191ff,#8484ff,#7a7aff,#7272ff,#6c6cff,#6767ff,#6464ff,#6060ff,#5d5dff,#5a5aff,#5656ff,#5151ff,#4a4aff,#4141ff,#3838ff,#2f2fff,#2727ff,#2020ff,#1c1cff,#1818ff,#1515ff,#1111ff,#0d0dff,#0707ff,#0100fe,#0900f6,#1400eb,#1f00e0,#2b00d4,#3800c7,#4400bb,#4f00b0,#5a00a5,#65009a,#70008f,#7a0085,#84007b,#8e0071,#990066,#a3005c,#ae0051,#ba0045,#c5003a,#d0002f,#db0024,#e4001b,#ec0013,#f1000e,#f0000f,#eb0014,#e1001e,#d2002d,#bf0040,#aa0055,#93006c,#7c0083,#65009a,#4e00b1,#3900c6,#2500da,#1200ed,#0000ff,#1313ff,#2424ff,#3535ff,#4646ff,#5555ff,#6464ff,#7171ff,#7e7eff,#8a8aff,#9595ff,#9f9fff,#aaaaff,#b3b3ff,#bdbdff,#c6c6ff,#cfcfff,#d7d7ff,#dedeff,#e5e5ff,#eaeaff,#efefff,#f2f2ff,#f5f5ff,#f8f8ff,#f9f9ff,#fbfbff,#fcfcff,#fdfdff,#fdfdff,#fefeff,#fefeff,#fefeff,#fefeff,#ffffff,#ffffff,#ffffff,#ffffff,#ffffff,#ffffff,#ffffff,#ffffff,#ffffff,#ffffff,#ffffff,#ffffff,#ffffff,#ffffff,#ffffff,#ffffff,#ffffff,#ffffff,#ffffff,#ffffff,#ffffff,#ffffff,#ffffff,#ffffff,#ffffff,#ffffff,#ffffff)"></div>
<div style="left:52px;background-image:linear-gradient(#f7f7ff,#f4f4ff,#f0f0ff,#ebebff,#e5e5ff,#dfdfff,#d7d7ff,#ceceff,#c3c3ff,#b8b8ff,#ababff,#9d9dff,#8f8fff,#8383ff,#7878ff,#7070ff,#6a6aff,#6666ff,#6262ff,#5f5fff,#5c5cff,#5858ff,#5454ff,#4f4fff,#4848ff,#3f3fff,#3535ff,#2c2cff,#2424ff,#1d1dff,#1818ff,#1414ff,#1111ff,#0d0dff,#0808ff,#0202ff,#0500fa,#0e00f1,#1900e6,#2400db,#3000cf,#3c00c3,#4800b7,#5300ac,#5e00a1,#690096,#74008b,#7e0081,#880077,#92006d,#9d0062,#a70058,#b2004d,#be0041,#c90036,#d4002b,#de0021,#e80017,#ef0010,#f4000b,#f3000c,#ee0011,#e4001b,#d5002a,#c2003d,#ac0053,#95006a,#7e0081,#670098,#5100ae,#3c00c3,#2800d7,#1500ea,#0200fd,#1010ff,#2222ff,#3333ff,#4444ff,#5353ff,#6262ff,#7070ff,#7d7dff,#8888ff,#9494ff,#9e9eff,#a8a8ff,#b2b2ff,#bcbcff,#c5c5ff,#ceceff,#d7d7ff,#dedeff,#e4e4ff,#eaeaff,#eeeeff,#f2f2ff,#f5f5ff,#f7f7ff,#f9f9ff,#fbfbff,#fcfcff,#fdfdff,#fdfdff,#fefeff,#fefeff,#fefeff,#fefeff,#ffffff,#ffffff,#ffffff,#ffffff,#ffffff,#ffffff,#ffffff,#ffffff,#ffffff,#ffffff,#ffffff,#ffffff,#ffffff,#ffffff,#ffffff,#ffffff,#ffffff,#ffffff,#ffffff,#ffffff,#ffffff,#ffffff,#ffffff,#ffffff,#ffffff,#ffffff,#ffffff)"></div>
<div style="left:56px;background-image:linear-gradient(#f7f7ff,#f4f4ff,#f0f0ff,#ebebff,#e5e5ff,#dedeff,#d7d7ff,#cdcdff,#c3c3ff,#b7b7ff,#aaaaff,#9c9cff,#8f8fff,#8282ff,#7777ff,#6f6fff,#6969ff,#6464ff,#6161ff,#5d5dff,#5a5aff,#5757ff,#5353ff,#4d4dff,#4646ff,#3d3dff,#3434ff,#2a2aff,#2121ff,#1a1aff,#1515ff,#1111ff,#0d0dff,#0909ff,#0404ff,#0200fd,#0a00f5,#1200ed,#1d00e2,#2800d7,#3400cb,#4000bf,#4b00b4,#5700a8,#62009d,#6c0093,#770088,#81007e,#8b0074,#95006a,#a0005f,#aa0055,#b5004a,#c0003f,#cb0034,#d60029,#e0001f,#e90016,#f1000e,#f5000a,#f4000b,#ef0010,#e4001b,#d5002a,#c3003c,#ad0052,#970068,#7f0080,#690096,#5300ac,#3e00c1,#2a00d5,#1600e9,#0400fb,#0f0fff,#2121ff,#3232ff,#4242ff,#5252ff,#6161ff,#6e6eff,#7b7bff,#8787ff,#9393ff,#9d9dff,#a7a7ff,#b1b1ff,#bbbbff,#c5c5ff,#ceceff,#d6d6ff,#dedeff,#e4e4ff,#eaeaff,#eeeeff,#f2f2ff,#f5f5ff,#f7f7ff,#f9f9ff,#fbfbff,#fcfcff,#fcfcff,#fdfdff,#fefeff,#fefeff,#fefeff,#fefeff,#ffffff,#ffffff,#ffffff,#ffffff,#ffffff,#ffffff,#ffffff,#ffffff,#ffffff,#ffffff,#ffffff,#ffffff,#ffffff,#ffffff,#ffffff,#ffffff,#ffffff,#ffffff,#ffffff,#ffffff,#ffffff,#ffffff,#ffffff,#ffffff,#ffffff,#ffffff,#ffffff)"></div>
<div style="left:60px;background-image:linear-gradient(#f7f7ff,#f4f4ff,#f0f0ff,#ebebff,#e5e5ff,#dedeff,#d6d6ff,#cdcdff,#c3c3ff,#b7b7ff,#aaaaff,#9c9cff,#8e8eff,#8181ff,#7777ff,#6e6eff,#6868ff,#6363ff,#6060ff,#5d5dff,#5959ff,#5656ff,#5252ff,#4c4cff,#4545ff,#3c3cff,#3232ff,#2828ff,#1f1fff,#1818ff,#1313ff,#0e0eff,#0a0aff,#0606ff,#0000ff,#0600f9,#0d00f2,#1600e9,#2000df,#2b00d4,#3700c8,#4300bc,#4e00b1,#5900a6,#64009b,#6f0090,#790086,#83007c,#8d0072,#970068,#a2005d,#ac0053,#b70048,#c2003d,#cc0033,#d70028,#e1001e,#ea0015,#f1000e,#f4000b,#f4000b,#ee0011,#e4001b,#d5002a,#c2003d,#ad0052,#970068,#80007f,#690096,#5300ac,#3f00c0,#2b00d4,#1800e7,#0500fa,#0d0dff,#1f1fff,#3131ff,#4141ff,#5151ff,#6060ff,#6d6dff,#7a7aff,#8686ff,#9292ff,#9c9cff,#a7a7ff,#b1b1ff,#bbbbff,#c4c4ff,#cdcdff,#d6d6ff,#ddddff,#e4e4ff,#e9e9ff,#eeeeff,#f2f2ff,#f5f5ff,#f7f7ff,#f9f9ff,#fbfbff,#fcfcff,#fcfcff,#fdfdff,#fefeff,#fefeff,#fefeff,#fefeff,#ffffff,#ffffff,#ffffff,#ffffff,#ffffff,#ffffff,#ffffff,#ffffff,#ffffff,#ffffff,#ffffff,#ffffff,#ffffff,#ffffff,#ffffff,#ffffff,#ffffff,#ffffff,#ffffff,#ffffff,#ffffff,#ffffff,#ffffff,#ffffff,#ffffff,#ffffff,#ffffff)"></div>
<div style="left:64px;background-image:linear-gradient(#f7f7ff,#f4f4ff,#f0f0ff,#ebebff,#e5e5ff,#dedeff,#d6d6ff,#cdcdff,#c2c2ff,#b6b6ff,#a9a9ff,#9b9bff,#8e8eff,#8181ff,#7676ff,#6e6eff,#6767ff,#6363ff,#5f5fff,#5c5cff,#5959ff,#5555ff,#5151ff,#4b4bff,#4444ff,#3b3bff,#3131ff,#2727ff,#1e1eff,#1616ff,#1010ff,#0b0bff,#0707ff,#0202ff,#0300fc,#0900f6,#1100ee,#1a00e5,#2400db,#2e00d1,#3a00c5,#4500ba,#5000af,#5b00a4,#660099,#70008f,#7b0084,#85007a,#8f0070,#990066,#a3005c,#ad0052,#b80047,#c3003c,#cd0032,#d70028,#e1001e,#e90016,#f0000f,#f3000c,#f2000d,#ec0013,#e2001d,#d3002c,#c1003e,#ac0053,#960069,#7f0080,#690096,#5300ac,#3f00c0,#2b00d4,#1800e7,#0600f9,#0d0dff,#1f1fff,#3030ff,#4040ff,#5050ff,#5f5fff,#6d6dff,#7a7aff,#8686ff,#9191ff,#9c9cff,#a6a6ff,#b0b0ff,#babaff,#c4c4ff,#cdcdff,#d5d5ff,#ddddff,#e4e4ff,#e9e9ff,#eeeeff,#f2f2ff,#f5f5ff,#f7f7ff,#f9f9ff,#fbfbff,#fcfcff,#fcfcff,#fdfdff,#fefeff,#fefeff,#fefeff,#fefeff,#ffffff,#ffffff,#ffffff,#ffffff,#ffffff,#ffffff,#ffffff,#ffffff,#ffffff,#ffffff,#ffffff,#ffffff,#ffffff,#ffffff,#ffffff,#ffffff,#ffffff,#ffffff,#ffffff,#ffffff,#ffffff,#ffffff,#ffffff,#ffffff,#ffffff,#ffffff,#ffffff)"></div>
<div style="left:68px;background-image:linear-gradient(#f7f7ff,#f4f4ff,#f0f0ff,#ebebff,#e5e5ff,#dedeff,#d6d6ff,#cdcdff,#c2c2ff,#b6b6ff,#a9a9ff,#9b9bff,#8d8dff,#8181ff,#7676ff,#6d6dff,#6767ff,#6262ff,#5f5fff,#5b5bff,#5858ff,#5555ff,#5050ff,#4b4bff,#4343ff,#3a3aff,#3030ff,#2525ff,#1c1cff,#1414ff,#0e0eff,#0909ff,#0505ff,#0000ff,#0600f9,#0c00f3,#1400eb,#1d00e2,#2600d9,#3100ce,#3c00c3,#4700b8,#5200ad,#5d00a2,#670098,#72008d,#7c0083,#860079,#90006f,#9a0065,#a4005b,#ae0051,#b90046,#c3003c,#cd0032,#d70028,#e0001f,#e80017,#ee0011,#f1000e,#f0000f,#ea0015,#df0020,#d0002f,#be0041,#aa0055,#94006b,#7e0081,#680097,#5300ac,#3f00c0,#2b00d4,#1800e7,#0600f9,#0c0cff,#1e1eff,#2f2fff,#4040ff,#4f4fff,#5e5eff,#6c6cff,#7979ff,#8585ff,#9090ff,#9b9bff,#a5a5ff,#b0b0ff,#babaff,#c3c3ff,#cdcdff,#d5d5ff,#ddddff,#e4e4ff,#e9e9ff,#eeeeff,#f2f2ff,#f5f5ff,#f7f7ff,#f9f9ff,#fbfbff,#fcfcff,#fcfcff,#fdfdff,#fefeff,#fefeff,#fefeff,#fefeff,#ffffff,#ffffff,#ffffff,#ffffff,#ffffff,#ffffff,#ffffff,#ffffff,#ffffff,#ffffff,#ffffff,#ffffff,#ffffff,#ffffff,#ffffff,#ffffff,#ffffff,#ffffff,#ffffff,#ffffff,#ffffff,#ffffff,#ffffff,#ffffff,#ffffff,#ffffff,#ffffff)"></div>
<div style="left:72px;background-image:linear-gradient(#f7f7ff,#f4f4ff,#f0f0ff,#ebebff,#e5e5ff,#dedeff,#d6d6ff,#cdcdff,#c2c2ff,#b6b6ff,#a9a9ff,#9b9bff,#8d8dff,#8080ff,#7575ff,#6d6dff,#6767ff,#6262ff,#5e5eff,#5b5bff,#5858ff,#5454ff,#5050ff,#4a4aff,#4343ff,#3939ff,#2f2fff,#2424ff,#1b1bff,#1313ff,#0d0dff,#0707ff,#0202ff,#0300fc,#0900f6,#0f00f0,#1700e8,#1f00e0,#2900d6,#3300cc,#3e00c1,#4900b6,#5300ac,#5e00a1,#680097,#73008c,#7d0082,#870078,#90006f,#9a0065,#a4005b,#af0050,#b90046,#c3003c,#cc0033,#d60029,#de0021,#e60019,#ec0013,#ee0011,#ed0012,#e60019,#dc0023,#cd0032,#bc0043,#a70058,#92006d,#7c0083,#670098,#5200ad,#3e00c1,#2b00d4,#1800e7,#0600f9,#0c0cff,#1e1eff,#2f2fff,#3f3fff,#4f4fff,#5e5eff,#6c6cff,#7979ff,#8585ff,#9090ff,#9b9bff,#a5a5ff,#afafff,#b9b9ff,#c3c3ff,#ccccff,#d5d5ff,#ddddff,#e3e3ff,#e9e9ff,#eeeeff,#f2f2ff,#f5f5ff,#f7f7ff,#f9f9ff,#fbfbff,#fcfcff,#fcfcff,#fdfdff,#fefeff,#fefeff,#fefeff,#fefeff,#ffffff,#ffffff,#ffffff,#ffffff,#ffffff,#ffffff,#ffffff,#ffffff,#ffffff,#ffffff,#ffffff,#ffffff,#ffffff,#ffffff,#ffffff,#ffffff,#ffffff,#ffffff,#ffffff,#ffffff,#ffffff,#ffffff,#ffffff,#ffffff,#ffffff,#ffffff,#ffffff)"></div>
<div style="left:76px;background-image:linear-gradient(#f7f7ff,#f4f4ff,#f0f0ff,#ebebff,#e5e5ff,#dedeff,#d6d6ff,#cdcdff,#c2c2ff,#b6b6ff,#a9a9ff,#9b9bff,#8d8dff,#8080ff,#7575ff,#6d6dff,#6666ff,#6262ff,#5e5eff,#5b5bff,#5858ff,#5454ff,#5050ff,#4a4aff,#4242ff,#3939ff,#2e2eff,#2424ff,#1a1aff,#1212ff,#0b0bff,#0505ff,#0000ff,#0500fa,#0b00f4,#1100ee,#1900e6,#2100de,#2b00d4,#3500ca,#4000bf,#4a00b5,#5500aa,#5f00a0,#690096,#73008c,#7d0082,#870078,#91006e,#9b0064,#a5005a,#af0050,#b90046,#c2003d,#cc0033,#d5002a,#dd0022,#e4001b,#e90016,#eb0014,#e90016,#e3001c,#d90026,#ca0035,#b90046,#a5005a,#90006f,#7a0085,#65009a,#5100ae,#3d00c2,#2b00d4,#1800e7,#0600f9,#0c0cff,#1d1dff,#2f2fff,#3f3fff,#4f4fff,#5d5dff,#6b6bff,#7878ff,#8484ff,#8f8fff,#9a9aff,#a5a5ff,#afafff,#b9b9ff,#c3c3ff,#ccccff,#d5d5ff,#dcdcff,#e3e3ff,#e9e9ff,#eeeeff,#f2f2ff,#f5f5ff,#f7f7ff,#f9f9ff,#fbfbff,#fcfcff,#fcfcff,#fdfdff,#fefeff,#fefeff,#fefeff,#fefeff,#ffffff,#ffffff,#ffffff,#ffffff,#ffffff,#ffffff,#ffffff,#ffffff,#ffffff,#ffffff,#ffffff,#ffffff,#ffffff,#ffffff,#ffffff,#ffffff,#ffffff,#ffffff,#ffffff,#ffffff,#ffffff,#ffffff,#ffffff,#ffffff,#ffffff,#ffffff,#ffffff)"></div>
<div style="left:80px;background-image:linear-gradient(#f7f7ff,#f4f4ff,#f0f0ff,#ebebff,#e5e5ff,#dedeff,#d6d6ff,#cdcdff,#c2c2ff,#b6b6ff,#a9a9ff,#9b9bff,#8d8dff,#8080ff,#7575ff,#6d6dff,#6666ff,#6262ff,#5e5eff,#5b5bff,#5757ff,#5454ff,#4f4fff,#4949ff,#4242ff,#3838ff,#2e2eff,#2323ff,#1919ff,#1010ff,#0a0aff,#0404ff,#0200fd,#0700f8,#0d00f2,#1400eb,#1b00e4,#2300dc,#2d00d2,#3700c8,#4100be,#4b00b4,#5600a9,#60009f,#6a0095,#74008b,#7e0081,#870078,#91006e,#9b0064,#a5005a,#af0050,#b80047,#c2003d,#cb0034,#d3002c,#db0024,#e2001d,#e60019,#e80017,#e60019,#e0001f,#d5002a,#c70038,#b5004a,#a2005d,#8d0072,#780087,#64009b,#5000af,#3d00c2,#2a00d5,#1800e7,#0600f9,#0c0cff,#1d1dff,#2e2eff,#3f3fff,#4e4eff,#5d5dff,#6b6bff,#7878ff,#8484ff,#8f8fff,#9a9aff,#a4a4ff,#aeaeff,#b9b9ff,#c2c2ff,#ccccff,#d5d5ff,#dcdcff,#e3e3ff,#e9e9ff,#eeeeff,#f2f2ff,#f5f5ff,#f7f7ff,#f9f9ff,#fbfbff,#fcfcff,#fcfcff,#fdfdff,#fefeff,#fefeff,#fefeff,#fefeff,#ffffff,#ffffff,#ffffff,#ffffff,#ffffff,#ffffff,#ffffff,#ffffff,#ffffff,#ffffff,#ffffff,#ffffff,#ffffff,#ffffff,#ffffff,#ffffff,#ffffff,#ffffff,#ffffff,#ffffff,#ffffff,#ffffff,#ffffff,#ffffff,#ffffff,#ffffff,#ffffff)"></div>
<div style="left:84px;background-image:linear-gradient(#f7f7ff,#f4f4ff,#f0f0ff,#ebebff,#e5e5ff,#dedeff,#d6d6ff,#cdcdff,#c2c2ff,#b6b6ff,#a9a9ff,#9b9bff,#8d8dff,#8080ff,#7575ff,#6d6dff,#6666ff,#6262ff,#5e5eff,#5b5bff,#5757ff,#5353ff,#4f4fff,#4949ff,#4141ff,#3838ff,#2d2dff,#2222ff,#1818ff,#0f0fff,#0808ff,#0202ff,#0300fc,#0900f6,#0f00f0,#1500ea,#1d00e2,#2500da,#2e00d1,#3800c7,#4200bd,#4c00b3,#5600a9,#60009f,#6a0095,#74008b,#7e0081,#880077,#91006e,#9b0064,#a5005a,#ae0051,#b80047,#c1003e,#ca0035,#d2002d,#d90026,#e0001f,#e4001b,#e5001a,#e3001c,#dc0023,#d2002d,#c3003c,#b2004d,#9f0060,#8b0074,#760089,#62009d,#4f00b0,#3c00c3,#2a00d5,#1800e7,#0600f9,#0c0cff,#1d1dff,#2e2eff,#3e3eff,#4e4eff,#5d5dff,#6b6bff,#7777ff,#8383ff,#8f8fff,#9999ff,#a4a4ff,#aeaeff,#b8b8ff,#c2c2ff,#ccccff,#d4d4ff,#dcdcff,#e3e3ff,#e9e9ff,#eeeeff,#f2f2ff,#f5f5ff,#f7f7ff,#f9f9ff,#fbfbff,#fcfcff,#fcfcff,#fdfdff,#fefeff,#fefeff,#fefeff,#fefeff,#ffffff,#ffffff,#ffffff,#ffffff,#ffffff,#ffffff,#ffffff,#ffffff,#ffffff,#ffffff,#ffffff,#ffffff,#ffffff,#ffffff,#ffffff,#ffffff,#ffffff,#ffffff,#ffffff,#ffffff,#ffffff,#ffffff,#ffffff,#ffffff,#ffffff,#ffffff,#ffffff)"></div>
<div style="left:88px;background-image:linear-gradient(#f7f7ff,#f4f4ff,#f0f0ff,#ebebff,#e5e5ff,#dedeff,#d6d6ff,#cdcdff,#c2c2ff,#b6b6ff,#a8a8ff,#9a9aff,#8d8dff,#8080ff,#7575ff,#6d6dff,#6666ff,#6262ff,#5e5eff,#5a5aff,#5757ff,#5353ff,#4f4fff,#4949ff,#4141ff,#3737ff,#2c2cff,#2121ff,#1717ff,#0e0eff,#0707ff,#0101ff,#0500fa,#0a00f5,#1000ef,#1700e8,#1e00e1,#2700d8,#3000cf,#3900c6,#4300bc,#4d00b2,#5700a8,#61009e,#6b0094,#75008a,#7e0081,#880077,#92006d,#9b0064,#a5005a,#ae0051,#b80047,#c1003e,#c90036,#d1002e,#d80027,#de0021,#e1001e,#e2001d,#e0001f,#d90026,#ce0031,#c0003f,#af0050,#9c0063,#890076,#75008a,#61009e,#4e00b1,#3b00c4,#2900d6,#1700e8,#0600f9,#0c0cff,#1d1dff,#2e2eff,#3e3eff,#4e4eff,#5d5dff,#6a6aff,#7777ff,#8383ff,#8e8eff,#9999ff,#a4a4ff,#aeaeff,#b8b8ff,#c2c2ff,#cbcbff,#d4d4ff,#dcdcff,#e3e3ff,#e9e9ff,#eeeeff,#f2f2ff,#f5f5ff,#f7f7ff,#f9f9ff,#fbfbff,#fcfcff,#fcfcff,#fdfdff,#fefeff,#fefeff,#fefeff,#fefeff,#ffffff,#ffffff,#ffffff,#ffffff,#ffffff,#ffffff,#ffffff,#ffffff,#ffffff,#ffffff,#ffffff,#ffffff,#ffffff,#ffffff,#ffffff,#ffffff,#ffffff,#ffffff,#ffffff,#ffffff,#ffffff,#ffffff,#ffffff,#ffffff,#ffffff,#ffffff,#ffffff)"></div>
<div style="left:92px;background-image:linear-gradient(#f7f7ff,#f4f4ff,#f0f0ff,#ebebff,#e5e5ff,#dedeff,#d6d6ff,#cdcdff,#c2c2ff,#b6b6ff,#a8a8ff,#9a9aff,#8d8dff,#8080ff,#7575ff,#6c6cff,#6666ff,#6161ff,#5e5eff,#5a5aff,#5757ff,#5353ff,#4f4fff,#4949ff,#4141ff,#3737ff,#2c2cff,#2121ff,#1616ff,#0d0dff,#0606ff,#0000ff,#0600f9,#0c00f3,#1200ed,#1800e7,#2000df,#2800d7,#3100ce,#3a00c5,#4400bb,#4e00b1,#5800a7,#61009e,#6b0094,#75008a,#7e0081,#880077,#92006d,#9b0064,#a5005a,#ae0051,#b70048,#c0003f,#c80037,#d0002f,#d60029,#dc0023,#df0020,#e0001f,#dd0022,#d60029,#cb0034,#bd0042,#ac0053,#9a0065,#860079,#73008c,#5f00a0,#4c00b3,#3a00c5,#2800d7,#1700e8,#0500fa,#0c0cff,#1d1dff,#2e2eff,#3e3eff,#4e4eff,#5c5cff,#6a6aff,#7777ff,#8383ff,#8e8eff,#9999ff,#a3a3ff,#aeaeff,#b8b8ff,#c2c2ff,#cbcbff,#d4d4ff,#dcdcff,#e3e3ff,#e9e9ff,#eeeeff,#f2f2ff,#f5f5ff,#f7f7ff,#f9f9ff,#fbfbff,#fcfcff,#fcfcff,#fdfdff,#fefeff,#fefeff,#fefeff,#fefeff,#ffffff,#ffffff,#ffffff,#ffffff,#ffffff,#ffffff,#ffffff,#ffffff,#ffffff,#ffffff,#ffffff,#ffffff,#ffffff,#ffffff,#ffffff,#ffffff,#ffffff,#ffffff,#ffffff,#ffffff,#ffffff,#ffffff,#ffffff,#ffffff,#ffffff,#ffffff,#ffffff)"></div>
<div style="left:96px;background-image:linear-gradient(#f7f7ff,#f4f4ff,#f0f0ff,#ebebff,#e5e5ff,#dedeff,#d6d6ff,#cdcdff,#c2c2ff,#b6b6ff,#a8a8ff,#9a9aff,#8d8dff,#8080ff,#7575ff,#6c6cff,#6666ff,#6161ff,#5e5eff,#5a5aff,#5757ff,#5353ff,#4e4eff,#4848ff,#4040ff,#3636ff,#2b2bff,#2020ff,#1515ff,#0c0cff,#0505ff,#0100fe,#0700f8,#0d00f2,#1300ec,#1900e6,#2100de,#2900d6,#3200cd,#3b00c4,#4500ba,#4e00b1,#5800a7,#62009d,#6b0094,#75008a,#7f0080,#880077,#92006d,#9b0064,#a5005a,#ae0051,#b70048,#c0003f,#c80037,#cf0030,#d5002a,#da0025,#dd0022,#de0021,#da0025,#d3002c,#c90036,#bb0044,#aa0055,#980067,#84007b,#71008e,#5e00a1,#4b00b4,#3900c6,#2800d7,#1600e9,#0500fa,#0c0cff,#1d1dff,#2e2eff,#3e3eff,#4e4eff,#5c5cff,#6a6aff,#7777ff,#8383ff,#8e8eff,#9999ff,#a3a3ff,#adadff,#b8b8ff,#c2c2ff,#cbcbff,#d4d4ff,#dcdcff,#e3e3ff,#e9e9ff,#eeeeff,#f2f2ff,#f5f5ff,#f7f7ff,#f9f9ff,#fbfbff,#fcfcff,#fcfcff,#fdfdff,#fefeff,#fefeff,#fefeff,#fefeff,#ffffff,#ffffff,#ffffff,#ffffff,#ffffff,#ffffff,#ffffff,#ffffff,#ffffff,#ffffff,#ffffff,#ffffff,#ffffff,#ffffff,#ffffff,#ffffff,#ffffff,#ffffff,#ffffff,#ffffff,#ffffff,#ffffff,#ffffff,#ffffff,#ffffff,#ffffff,#ffffff)"></div>
<div style="left:100px;background-image:linear-gradient(#f7f7ff,#f4f4ff,#f0f0ff,#ebebff,#e5e5ff,#dedeff,#d6d6ff,#cdcdff,#c2c2ff,#b6b6ff,#a8a8ff,#9a9aff,#8d8dff,#8080ff,#7575ff,#6c6cff,#6666ff,#6161ff,#5e5eff,#5a5aff,#5757ff,#5353ff,#4e4eff,#4848ff,#4040ff,#3636ff,#2b2bff,#1f1fff,#1515ff,#0c0cff,#0404ff,#0200fd,#0800f7,#0e00f1,#1400eb,#1a00e5,#2200dd,#2a00d5,#3200cd,#3c00c3,#4500ba,#4f00b0,#5800a7,#62009d,#6c0093,#75008a,#7f0080,#880077,#92006d,#9b0064,#a5005a,#ae0051,#b70048,#c0003f,#c70038,#ce0031,#d4002b,#d90026,#dc0023,#dc0023,#d80027,#d1002e,#c60039,#b80047,#a80057,#960069,#83007c,#70008f,#5d00a2,#4a00b5,#3900c6,#2700d8,#1600e9,#0500fa,#0c0cff,#1d1dff,#2e2eff,#3e3eff,#4d4dff,#5c5cff,#6a6aff,#7676ff,#8282ff,#8d8dff,#9898ff,#a3a3ff,#adadff,#b7b7ff,#c1c1ff,#cbcbff,#d4d4ff,#dcdcff,#e3e3ff,#e9e9ff,#eeeeff,#f1f1ff,#f5f5ff,#f7f7ff,#f9f9ff,#fbfbff,#fcfcff,#fcfcff,#fdfdff,#fefeff,#fefeff,#fefeff,#fefeff,#ffffff,#ffffff,#ffffff,#ffffff,#ffffff,#ffffff,#ffffff,#ffffff,#ffffff,#ffffff,#ffffff,#ffffff,#ffffff,#ffffff,#ffffff,#ffffff,#ffffff,#ffffff,#ffffff,#ffffff,#ffffff,#ffffff,#ffffff,#ffffff,#ffffff,#ffffff,#ffffff)"></div>
<div style="left:104px;background-image:linear-gradient(#f7f7ff,#f4f4ff,#f0f0ff,#ebebff,#e5e5ff,#dedeff,#d6d6ff,#cdcdff,#c2c2ff,#b6b6ff,#a8a8ff,#9a9aff,#8d8dff,#8080ff,#7575ff,#6c6cff,#6666ff,#6161ff,#5e5eff,#5a5aff,#5757ff,#5353ff,#4e4eff,#4848ff,#3f3fff,#3535ff,#2a2aff,#1e1eff,#1414ff,#0b0bff,#0303ff,#0300fc,#0900f6,#0f00f0,#1500ea,#1b00e4,#2300dc,#2a00d5,#3300cc,#3c00c3,#4600b9,#4f00b0,#5900a6,#62009d,#6c0093,#75008a,#7f0080,#890076,#92006d,#9c0063,#a5005a,#ae0051,#b70048,#c0003f,#c70038,#ce0031,#d4002b,#d80027,#db0024,#da0025,#d70028,#cf0030,#c4003b,#b60049,#a60059,#94006b,#81007e,#6e0091,#5c00a3,#4a00b5,#3800c7,#2700d8,#1600e9,#0500fa,#0c0cff,#1d1dff,#2e2eff,#3e3eff,#4d4dff,#5c5cff,#6969ff,#7676ff,#8282ff,#8d8dff,#9898ff,#a2a2ff,#adadff,#b7b7ff,#c1c1ff,#cbcbff,#d4d4ff,#dcdcff,#e3e3ff,#e9e9ff,#ededff,#f1f1ff,#f5f5ff,#f7f7ff,#f9f9ff,#fbfbff,#fcfcff,#fcfcff,#fdfdff,#fefeff,#fefeff,#fefeff,#fefeff,#ffffff,#ffffff,#ffffff,#ffffff,#ffffff,#ffffff,#ffffff,#ffffff,#ffffff,#ffffff,#ffffff,#ffffff,#ffffff,#ffffff,#ffffff,#ffffff,#ffffff,#ffffff,#ffffff,#ffffff,#ffffff,#ffffff,#ffffff,#ffffff,#ffffff,#ffffff,#ffffff)"></div>
<div style="left:108px;background-image:linear-gradient(#f7f7ff,#f4f4ff,#f0f0ff,#ebebff,#e5e5ff,#dedeff,#d6d6ff,#cdcdff,#c2c2ff,#b6b6ff,#a8a8ff,#9a9aff,#8d8dff,#8080ff,#7575ff,#6c6cff,#6666ff,#6161ff,#5e5eff,#5a5aff,#5656ff,#5353ff,#4e4eff,#4747ff,#3f3fff,#3535ff,#2929ff,#1e1eff,#1313ff,#0a0aff,#0202ff,#0400fb,#0a00f5,#1000ef,#1600e9,#1c00e3,#2300dc,#2b00d4,#3300cc,#3d00c2,#4600b9,#4f00b0,#5900a6,#62009d,#6c0093,#760089,#7f0080,#890076,#92006d,#9c0063,#a5005a,#af0050,#b80047,#c0003f,#c80037,#ce0031,#d4002b,#d80027,#da0025,#d90026,#d5002a,#ce0031,#c3003c,#b5004a,#a4005b,#93006c,#80007f,#6d0092,#5b00a4,#4900b6,#3800c7,#2700d8,#1600e9,#0500fa,#0c0cff,#1d1dff,#2e2eff,#3e3eff,#4d4dff,#5c5cff,#6969ff,#7676ff,#8282ff,#8d8dff,#9898ff,#a2a2ff,#adadff,#b7b7ff,#c1c1ff,#cbcbff,#d4d4ff,#dcdcff,#e3e3ff,#e9e9ff,#ededff,#f1f1ff,#f5f5ff,#f7f7ff,#f9f9ff,#fbfbff,#fcfcff,#fcfcff,#fdfdff,#fefeff,#fefeff,#fefeff,#fefeff,#ffffff,#ffffff,#ffffff,#ffffff,#ffffff,#ffffff,#ffffff,#ffffff,#ffffff,#ffffff,#ffffff,#ffffff,#ffffff,#ffffff,#ffffff,#ffffff,#ffffff,#ffffff,#ffffff,#ffffff,#ffffff,#ffffff,#ffffff,#ffffff,#ffffff,#ffffff,#ffffff)"></div>
<div style="left:112px;background-image:linear-gradient(#f7f7ff,#f4f4ff,#f0f0ff,#ebebff,#e5e5ff,#dedeff,#d6d6ff,#cdcdff,#c2c2ff,#b6b6ff,#a8a8ff,#9a9aff,#8d8dff,#8080ff,#7575ff,#6c6cff,#6666ff,#6161ff,#5d5dff,#5a5aff,#5656ff,#5252ff,#4d4dff,#4747ff,#3f3fff,#3434ff,#2929ff,#1d1dff,#1212ff,#0909ff,#0101ff,#0500fa,#0b00f4,#1100ee,#1600e9,#1d00e2,#2400db,#2c00d3,#3400cb,#3d00c2,#4600b9,#5000af,#5900a6,#63009c,#6c0093,#760089,#7f0080,#890076,#93006c,#9c0063,#a60059,#af0050,#b80047,#c0003f,#c80037,#ce0031,#d4002b,#d80027,#da0025,#d90026,#d4002b,#cd0032,#c1003e,#b3004c,#a3005c,#91006e,#7f0080,#6c0093,#5a00a5,#4800b7,#3700c8,#2600d9,#1500ea,#0500fa,#0c0cff,#1d1dff,#2e2eff,#3e3eff,#4d4dff,#5b5bff,#6969ff,#7575ff,#8181ff,#8c8cff,#9797ff,#a2a2ff,#acacff,#b7b7ff,#c1c1ff,#cbcbff,#d4d4ff,#dcdcff,#e3e3ff,#e9e9ff,#ededff,#f1f1ff,#f5f5ff,#f7f7ff,#f9f9ff,#fbfbff,#fcfcff,#fcfcff,#fdfdff,#fefeff,#fefeff,#fefeff,#fefeff,#ffffff,#ffffff,#ffffff,#ffffff,#ffffff,#ffffff,#ffffff,#ffffff,#ffffff,#ffffff,#ffffff,#ffffff,#ffffff,#ffffff,#ffffff,#ffffff,#ffffff,#ffffff,#ffffff,#ffffff,#ffffff,#ffffff,#ffffff,#ffffff,#ffffff,#ffffff,#ffffff)"></div>
<div style="left:116px;background-image:linear-gradient(#f7f7ff,#f4f4ff,#f0f0ff,#ebebff,#e5e5ff,#dedeff,#d6d6ff,#cdcdff,#c2c2ff,#b6b6ff,#a8a8ff,#9a9aff,#8d8dff,#8080ff,#7575ff,#6c6cff,#6666ff,#6161ff,#5d5dff,#5a5aff,#5656ff,#5252ff,#4d4dff,#4747ff,#3e3eff,#3434ff,#2828ff,#1c1cff,#1111ff,#0808ff,#0000ff,#0600f9,#0c00f3,#1100ee,#1700e8,#1d00e2,#2400db,#2c00d3,#3400cb,#3d00c2,#4600b9,#5000af,#5900a6,#63009c,#6c0093,#760089,#80007f,#890076,#93006c,#9d0062,#a60059,#b0004f,#b90046,#c1003e,#c80037,#cf0030,#d4002b,#d80027,#d90026,#d80027,#d4002b,#cc0033,#c1003e,#b3004c,#a2005d,#91006e,#7e0081,#6c0093,#5a00a5,#4800b7,#3700c8,#2600d9,#1500ea,#0400fb,#0c0cff,#1d1dff,#2e2eff,#3d3dff,#4c4cff,#5b5bff,#6868ff,#7575ff,#8181ff,#8c8cff,#9797ff,#a1a1ff,#acacff,#b6b6ff,#c1c1ff,#cacaff,#d3d3ff,#dbdbff,#e3e3ff,#e8e8ff,#ededff,#f1f1ff,#f5f5ff,#f7f7ff,#f9f9ff,#fbfbff,#fcfcff,#fcfcff,#fdfdff,#fefeff,#fefeff,#fefeff,#fefeff,#ffffff,#ffffff,#ffffff,#ffffff,#ffffff,#ffffff,#ffffff,#ffffff,#ffffff,#ffffff,#ffffff,#ffffff,#ffffff,#ffffff,#ffffff,#ffffff,#ffffff,#ffffff,#ffffff,#ffffff,#ffffff,#ffffff,#ffffff,#ffffff,#ffffff,#ffffff,#ffffff)"></div>
<div style="left:120px;background-image:linear-gradient(#f7f7ff,#f4f4ff,#f0f0ff,#ebebff,#e5e5ff,#dedeff,#d6d6ff,#cdcdff,#c2c2ff,#b6b6ff,#a8a8ff,#9a9aff,#8d8dff,#8080ff,#7575ff,#6c6cff,#6666ff,#6161ff,#5d5dff,#5a5aff,#5656ff,#5252ff,#4d4dff,#4646ff,#3e3eff,#3333ff,#2727ff,#1b1bff,#1010ff,#0707ff,#0100fe,#0700f8,#0d00f2,#1200ed,#1800e7,#1e00e1,#2500da,#2c00d3,#3500ca,#3d00c2,#4700b8,#5000af,#5900a6,#63009c,#6c0093,#760089,#80007f,#890076,#93006c,#9d0062,#a70058,#b0004f,#b90046,#c2003d,#c90036,#cf0030,#d5002a,#d80027,#da0025,#d80027,#d4002b,#cb0034,#c0003f,#b2004d,#a2005d,#90006f,#7e0081,#6b0094,#5900a6,#4700b8,#3600c9,#2600d9,#1500ea,#0400fb,#0c0cff,#1d1dff,#2e2eff,#3d3dff,#4c4cff,#5b5bff,#6868ff,#7575ff,#8080ff,#8c8cff,#9696ff,#a1a1ff,#acacff,#b6b6ff,#c0c0ff,#cacaff,#d3d3ff,#dbdbff,#e2e2ff,#e8e8ff,#ededff,#f1f1ff,#f5f5ff,#f7f7ff,#f9f9ff,#fbfbff,#fcfcff,#fcfcff,#fdfdff,#fefeff,#fefeff,#fefeff,#fefeff,#ffffff,#ffffff,#ffffff,#ffffff,#ffffff,#ffffff,#ffffff,#ffffff,#ffffff,#ffffff,#ffffff,#ffffff,#ffffff,#ffffff,#ffffff,#ffffff,#ffffff,#ffffff,#ffffff,#ffffff,#ffffff,#ffffff,#ffffff,#ffffff,#ffffff,#ffffff,#ffffff)"></div>
<div style="left:124px;background-image:linear-gradient(#f7f7ff,#f4f4ff,#f0f0ff,#ebebff,#e5e5ff,#dedeff,#d6d6ff,#cdcdff,#c2c2ff,#b6b6ff,#a8a8ff,#9a9aff,#8d8dff,#8080ff,#7575ff,#6c6cff,#6666ff,#6161ff,#5d5dff,#5a5aff,#5656ff,#5252ff,#4d4dff,#4646ff,#3d3dff,#3333ff,#2727ff,#1b1bff,#1010ff,#0606ff,#0100fe,#0800f7,#0d00f2,#1300ec,#1800e7,#1e00e1,#2500da,#2d00d2,#3500ca,#3e00c1,#4700b8,#5000af,#5900a6,#63009c,#6c0093,#760089,#80007f,#8a0075,#94006b,#9d0062,#a70058,#b1004e,#ba0045,#c2003d,#ca0035,#d0002f,#d5002a,#d90026,#da0025,#d90026,#d4002b,#cb0034,#c0003f,#b2004d,#a1005e,#8f0070,#7d0082,#6b0094,#5900a6,#4700b8,#3600c9,#2600d9,#1500ea,#0400fb,#0c0cff,#1d1dff,#2d2dff,#3d3dff,#4c4cff,#5a5aff,#6868ff,#7474ff,#8080ff,#8b8bff,#9696ff,#a1a1ff,#ababff,#b6b6ff,#c0c0ff,#cacaff,#d3d3ff,#dbdbff,#e2e2ff,#e8e8ff,#ededff,#f1f1ff,#f5f5ff,#f7f7ff,#f9f9ff,#fbfbff,#fcfcff,#fcfcff,#fdfdff,#fefeff,#fefeff,#fefeff,#fefeff,#ffffff,#ffffff,#ffffff,#ffffff,#ffffff,#ffffff,#ffffff,#ffffff,#ffffff,#ffffff,#ffffff,#ffffff,#ffffff,#ffffff,#ffffff,#ffffff,#ffffff,#ffffff,#ffffff,#ffffff,#ffffff,#ffffff,#ffffff,#ffffff,#ffffff,#ffffff,#ffffff)"></div>
<div style="left:128px;background-image:linear-gradient(#f7f7ff,#f4f4ff,#f0f0ff,#ebebff,#e5e5ff,#dedeff,#d6d6ff,#cdcdff,#c2c2ff,#b6b6ff,#a8a8ff,#9a9aff,#8d8dff,#8080ff,#7575ff,#6c6cff,#6666ff,#6161ff,#5d5dff,#5a5aff,#5656ff,#5252ff,#4c4cff,#4646ff,#3d3dff,#3232ff,#2626ff,#1a1aff,#0f0fff,#0505ff,#0200fd,#0800f7,#0e00f1,#1300ec,#1900e6,#1f00e0,#2600d9,#2d00d2,#3500ca,#3e00c1,#4700b8,#5000af,#5a00a5,#63009c,#6d0092,#760089,#80007f,#8a0075,#94006b,#9e0061,#a80057,#b2004d,#bb0044,#c3003c,#cb0034,#d1002e,#d60029,#d90026,#db0024,#d90026,#d4002b,#cb0034,#c0003f,#b1004e,#a1005e,#8f0070,#7d0082,#6a0095,#5800a7,#4700b8,#3600c9,#2500da,#1500ea,#0400fb,#0c0cff,#1d1dff,#2d2dff,#3d3dff,#4c4cff,#5a5aff,#6767ff,#7474ff,#7f7fff,#8b8bff,#9696ff,#a0a0ff,#ababff,#b6b6ff,#c0c0ff,#cacaff,#d3d3ff,#dbdbff,#e2e2ff,#e8e8ff,#ededff,#f1f1ff,#f5f5ff,#f7f7ff,#f9f9ff,#fbfbff,#fcfcff,#fcfcff,#fdfdff,#fefeff,#fefeff,#fefeff,#fefeff,#ffffff,#ffffff,#ffffff,#ffffff,#ffffff,#ffffff,#ffffff,#ffffff,#ffffff,#ffffff,#ffffff,#ffffff,#ffffff,#ffffff,#ffffff,#ffffff,#ffffff,#ffffff,#ffffff,#ffffff,#ffffff,#ffffff,#ffffff,#ffffff,#ffffff,#ffffff,#ffffff)"></div>
<div style="left:132px;background-image:linear-gradient(#f7f7ff,#f4f4ff,#f0f0ff,#ebebff,#e5e5ff,#dedeff,#d6d6ff,#cdcdff,#c2c2ff,#b6b6ff,#a8a8ff,#9a9aff,#8d8dff,#8080ff,#7575ff,#6c6cff,#6666ff,#6161ff,#5d5dff,#5a5aff,#5656ff,#5151ff,#4c4cff,#4545ff,#3c3cff,#3232ff,#2525ff,#1919ff,#0e0eff,#0505ff,#0300fc,#0900f6,#0f00f0,#1400eb,#1900e6,#1f00e0,#2600d9,#2d00d2,#3500ca,#3e00c1,#4700b8,#5000af,#5a00a5,#63009c,#6d0092,#760089,#80007f,#8a0075,#94006b,#9e0061,#a80057,#b2004d,#bc0043,#c4003b,#cc0033,#d2002d,#d70028,#da0025,#db0024,#da0025,#d4002b,#cc0033,#c0003f,#b1004e,#a1005e,#8f0070,#7c0083,#6a0095,#5800a7,#4700b8,#3600c9,#2500da,#1500ea,#0400fb,#0c0cff,#1d1dff,#2d2dff,#3c3cff,#4b4bff,#5959ff,#6767ff,#7373ff,#7f7fff,#8a8aff,#9595ff,#a0a0ff,#ababff,#b5b5ff,#c0c0ff,#cacaff,#d3d3ff,#dbdbff,#e2e2ff,#e8e8ff,#ededff,#f1f1ff,#f5f5ff,#f7f7ff,#f9f9ff,#fbfbff,#fcfcff,#fcfcff,#fdfdff,#fefeff,#fefeff,#fefeff,#fefeff,#ffffff,#ffffff,#ffffff,#ffffff,#ffffff,#ffffff,#ffffff,#ffffff,#ffffff,#ffffff,#ffffff,#ffffff,#ffffff,#ffffff,#ffffff,#ffffff,#ffffff,#ffffff,#ffffff,#ffffff,#ffffff,#ffffff,#ffffff,#ffffff,#ffffff,#ffffff,#ffffff)"></div>
<div style="left:136px;background-image:linear-gradient(#f7f7ff,#f4f4ff,#f0f0ff,#ebebff,#e5e5ff,#dedeff,#d6d6ff,#cdcdff,#c2c2ff,#b6b6ff,#a8a8ff,#9a9aff,#8d8dff,#8080ff,#7575ff,#6c6cff,#6666ff,#6161ff,#5d5dff,#5959ff,#5656ff,#5151ff,#4c4cff,#4545ff,#3c3cff,#3131ff,#2525ff,#1919ff,#0d0dff,#0404ff,#0400fb,#0a00f5,#0f00f0,#1400eb,#1a00e5,#2000df,#2600d9,#2d00d2,#3500ca,#3e00c1,#4700b8,#5000af,#5a00a5,#63009c,#6d0092,#770088,#80007f,#8a0075,#95006a,#9f0060,#a90056,#b3004c,#bc0043,#c5003a,#cc0033,#d3002c,#d80027,#db0024,#dc0023,#da0025,#d5002a,#cc0033,#c0003f,#b1004e,#a1005e,#8f0070,#7c0083,#6a0095,#5800a7,#4700b8,#3600c9,#2500da,#1500ea,#0400fb,#0c0cff,#1d1dff,#2d2dff,#3c3cff,#4b4bff,#5959ff,#6666ff,#7373ff,#7e7eff,#8a8aff,#9595ff,#a0a0ff,#aaaaff,#b5b5ff,#c0c0ff,#cacaff,#d3d3ff,#dbdbff,#e2e2ff,#e8e8ff,#ededff,#f1f1ff,#f5f5ff,#f7f7ff,#f9f9ff,#fbfbff,#fcfcff,#fcfcff,#fdfdff,#fefeff,#fefeff,#fefeff,#fefeff,#ffffff,#ffffff,#ffffff,#ffffff,#ffffff,#ffffff,#ffffff,#ffffff,#ffffff,#ffffff,#ffffff,#ffffff,#ffffff,#ffffff,#ffffff,#ffffff,#ffffff,#ffffff,#ffffff,#ffffff,#ffffff,#ffffff,#ffffff,#ffffff,#ffffff,#ffffff,#ffffff)"></div>
<div style="left:140px;background-image:linear-gradient(#f7f7ff,#f4f4ff,#f0f0ff,#ebebff,#e5e5ff,#dedeff,#d6d6ff,#cdcdff,#c2c2ff,#b6b6ff,#a8a8ff,#9a9aff,#8d8dff,#8080ff,#7575ff,#6c6cff,#6666ff,#6161ff,#5d5dff,#5959ff,#5656ff,#5151ff,#4c4cff,#4545ff,#3c3cff,#3131ff,#2424ff,#1818ff,#0d0dff,#0404ff,#0400fb,#0a00f5,#1000ef,#1500ea,#1a00e5,#2000df,#2600d9,#2e00d1,#3600c9,#3e00c1,#4700b8,#5000af,#5a00a5,#63009c,#6d0092,#770088,#81007e,#8b0074,#95006a,#9f0060,#a90056,#b3004c,#bd0042,#c60039,#cd0032,#d4002b,#d90026,#dc0023,#dd0022,#db0024,#d5002a,#cc0033,#c0003f,#b1004e,#a1005e,#8f0070,#7c0083,#6a0095,#5800a7,#4700b8,#3600c9,#2500da,#1500ea,#0500fa,#0c0cff,#1c1cff,#2c2cff,#3c3cff,#4a4aff,#5858ff,#6565ff,#7272ff,#7e7eff,#8989ff,#9494ff,#9f9fff,#aaaaff,#b5b5ff,#bfbfff,#cacaff,#d3d3ff,#dbdbff,#e2e2ff,#e8e8ff,#ededff,#f1f1ff,#f5f5ff,#f7f7ff,#f9f9ff,#fbfbff,#fcfcff,#fcfcff,#fdfdff,#fefeff,#fefeff,#fefeff,#fefeff,#ffffff,#ffffff,#ffffff,#ffffff,#ffffff,#ffffff,#ffffff,#ffffff,#ffffff,#ffffff,#ffffff,#ffffff,#ffffff,#ffffff,#ffffff,#ffffff,#ffffff,#ffffff,#ffffff,#ffffff,#ffffff,#ffffff,#ffffff,#ffffff,#ffffff,#ffffff,#ffffff)"></div>
<div style="left:144px;background-image:linear-gradient(#f7f7ff,#f4f4ff,#f0f0ff,#ebebff,#e5e5ff,#dedeff,#d6d6ff,#cdcdff,#c2c2ff,#b6b6ff,#a8a8ff,#9a9aff,#8d8dff,#8080ff,#7575ff,#6c6cff,#6666ff,#6161ff,#5d5dff,#5959ff,#5555ff,#5151ff,#4c4cff,#4545ff,#3b3bff,#3030ff,#2424ff,#1818ff,#0c0cff,#0303ff,#0500fa,#0b00f4,#1000ef,#1500ea,#1a00e5,#2000df,#2600d9,#2e00d1,#3600c9,#3e00c1,#4700b8,#5000af,#5a00a5,#63009c,#6d0092,#770088,#81007e,#8b0074,#95006a,#9f0060,#aa0055,#b4004b,#bd0042,#c60039,#ce0031,#d4002b,#d90026,#dc0023,#dd0022,#db0024,#d60029,#cd0032,#c0003f,#b1004e,#a1005e,#8f0070,#7c0083,#6a0095,#5800a7,#4700b8,#3600c9,#2500da,#1500ea,#0500fa,#0c0cff,#1c1cff,#2c2cff,#3b3bff,#4a4aff,#5858ff,#6565ff,#7171ff,#7d7dff,#8888ff,#9494ff,#9f9fff,#aaaaff,#b5b5ff,#bfbfff,#c9c9ff,#d3d3ff,#dbdbff,#e2e2ff,#e8e8ff,#ededff,#f1f1ff,#f5f5ff,#f7f7ff,#f9f9ff,#fbfbff,#fcfcff,#fcfcff,#fdfdff,#fefeff,#fefeff,#fefeff,#fefeff,#ffffff,#ffffff,#ffffff,#ffffff,#ffffff,#ffffff,#ffffff,#ffffff,#ffffff,#ffffff,#ffffff,#ffffff,#ffffff,#ffffff,#ffffff,#ffffff,#ffffff,#ffffff,#ffffff,#ffffff,#ffffff,#ffffff,#ffffff,#ffffff,#ffffff,#ffffff,#ffffff)"></div>
<div style="left:148px;background-image:linear-gradient(#f7f7ff,#f4f4ff,#f0f0ff,#ebebff,#e5e5ff,#dedeff,#d6d6ff,#cdcdff,#c2c2ff,#b6b6ff,#a8a8ff,#9a9aff,#8c8cff,#8080ff,#7575ff,#6c6cff,#6666ff,#6161ff,#5d5dff,#5959ff,#5555ff,#5151ff,#4b4bff,#4444ff,#3b3bff,#3030ff,#2424ff,#1717ff,#0c0cff,#0303ff,#0500fa,#0b00f4,#1000ef,#1500ea,#1b00e4,#2000df,#2700d8,#2e00d1,#3600c9,#3e00c1,#4700b8,#5000af,#5a00a5,#63009c,#6d0092,#770088,#81007e,#8b0074,#95006a,#a0005f,#aa0055,#b4004b,#be0041,#c70038,#ce0031,#d5002a,#da0025,#dd0022,#de0021,#dc0023,#d60029,#cd0032,#c1003e,#b2004d,#a1005e,#8f0070,#7c0083,#6a0095,#5800a7,#4600b9,#3600c9,#2500da,#1500ea,#0500fa,#0c0cff,#1c1cff,#2c2cff,#3b3bff,#4949ff,#5757ff,#6464ff,#7171ff,#7c7cff,#8888ff,#9393ff,#9e9eff,#a9a9ff,#b4b4ff,#bfbfff,#c9c9ff,#d3d3ff,#dbdbff,#e2e2ff,#e8e8ff,#ededff,#f1f1ff,#f5f5ff,#f7f7ff,#f9f9ff,#fbfbff,#fcfcff,#fcfcff,#fdfdff,#fefeff,#fefeff,#fefeff,#fefeff,#ffffff,#ffffff,#ffffff,#ffffff,#ffffff,#ffffff,#ffffff,#ffffff,#ffffff,#ffffff,#ffffff,#ffffff,#ffffff,#ffffff,#ffffff,#ffffff,#ffffff,#ffffff,#ffffff,#ffffff,#ffffff,#ffffff,#ffffff,#ffffff,#ffffff,#ffffff,#ffffff)"></div>
<div style="left:152px;background-image:linear-gradient(#f7f7ff,#f4f4ff,#f0f0ff,#ebebff,#e5e5ff,#dedeff,#d6d6ff,#cdcdff,#c2c2ff,#b6b6ff,#a8a8ff,#9a9aff,#8c8cff,#8080ff,#7575ff,#6c6cff,#6666ff,#6161ff,#5d5dff,#5959ff,#5555ff,#5151ff,#4b4bff,#4444ff,#3b3bff,#3030ff,#2424ff,#1717ff,#0c0cff,#0202ff,#0500fa,#0b00f4,#1100ee,#1600e9,#1b00e4,#2000df,#2700d8,#2e00d1,#3600c9,#3e00c1,#4700b8,#5000af,#5a00a5,#63009c,#6d0092,#770088,#81007e,#8b0074,#95006a,#a0005f,#aa0055,#b4004b,#be0041,#c70038,#cf0030,#d5002a,#da0025,#dd0022,#de0021,#dc0023,#d60029,#cd0032,#c1003e,#b2004d,#a1005e,#8f0070,#7c0083,#6a0095,#5800a7,#4600b9,#3600c9,#2500da,#1500ea,#0500fa,#0c0cff,#1c1cff,#2b2bff,#3a3aff,#4949ff,#5757ff,#6464ff,#7070ff,#7c7cff,#8787ff,#9292ff,#9e9eff,#a9a9ff,#b4b4ff,#bfbfff,#c9c9ff,#d3d3ff,#dbdbff,#e2e2ff,#e8e8ff,#ededff,#f1f1ff,#f5f5ff,#f7f7ff,#f9f9ff,#fbfbff,#fcfcff,#fcfcff,#fdfdff,#fefeff,#fefeff,#fefeff,#fefeff,#ffffff,#ffffff,#ffffff,#ffffff,#ffffff,#ffffff,#ffffff,#ffffff,#ffffff,#ffffff,#ffffff,#ffffff,#ffffff,#ffffff,#ffffff,#ffffff,#ffffff,#ffffff,#ffffff,#ffffff,#ffffff,#ffffff,#ffffff,#ffffff,#ffffff,#ffffff,#ffffff)"></div>
<div style="left:156px;background-image:linear-gradient(#f7f7ff,#f4f4ff,#f0f0ff,#ebebff,#e5e5ff,#dedeff,#d6d6ff,#cdcdff,#c2c2ff,#b6b6ff,#a8a8ff,#9a9aff,#8c8cff,#8080ff,#7575ff,#6c6cff,#6666ff,#6161ff,#5d5dff,#5959ff,#5555ff,#5151ff,#4b4bff,#4444ff,#3b3bff,#3030ff,#2323ff,#1717ff,#0c0cff,#0202ff,#0500fa,#0b00f4,#1100ee,#1600e9,#1b00e4,#2000df,#2700d8,#2e00d1,#3600c9,#3e00c1,#4700b8,#5000af,#5a00a5,#63009c,#6d0092,#770088,#81007e,#8b0074,#95006a,#a0005f,#aa0055,#b4004b,#be0041,#c70038,#cf0030,#d5002a,#da0025,#dd0022,#de0021,#dc0023,#d60029,#cd0032,#c0003f,#b1004e,#a1005e,#8e0071,#7c0083,#6a0095,#5800a7,#4600b9,#3600c9,#2500da,#1500ea,#0500fa,#0b0bff,#1b1bff,#2b2bff,#3a3aff,#4848ff,#5656ff,#6363ff,#6f6fff,#7b7bff,#8686ff,#9292ff,#9d9dff,#a8a8ff,#b4b4ff,#bfbfff,#c9c9ff,#d3d3ff,#dbdbff,#e2e2ff,#e8e8ff,#ededff,#f1f1ff,#f5f5ff,#f7f7ff,#f9f9ff,#fbfbff,#fcfcff,#fcfcff,#fdfdff,#fefeff,#fefeff,#fefeff,#fefeff,#ffffff,#ffffff,#ffffff,#ffffff,#ffffff,#ffffff,#ffffff,#ffffff,#ffffff,#ffffff,#ffffff,#ffffff,#ffffff,#ffffff,#ffffff,#ffffff,#ffffff,#ffffff,#ffffff,#ffffff,#ffffff,#ffffff,#ffffff,#ffffff,#ffffff,#ffffff,#ffffff)"></div>
<div style="left:160px;background-image:linear-gradient(#f7f7ff,#f4f4ff,#f0f0ff,#ebebff,#e5e5ff,#dedeff,#d6d6ff,#cdcdff,#c2c2ff,#b6b6ff,#a8a8ff,#9a9aff,#8c8cff,#8080ff,#7575ff,#6c6cff,#6666ff,#6161ff,#5d5dff,#5959ff,#5555ff,#5151ff,#4b4bff,#4444ff,#3b3bff,#3030ff,#2323ff,#1717ff,#0c0cff,#0202ff,#0500fa,#0b00f4,#1100ee,#1600e9,#1b00e4,#2100de,#2700d8,#2e00d1,#3600c9,#3e00c1,#4700b8,#5000af,#5a00a5,#63009c,#6d0092,#770088,#81007e,#8b0074,#95006a,#a0005f,#aa0055,#b4004b,#be0041,#c70038,#cf0030,#d5002a,#da0025,#dd0022,#de0021,#dc0023,#d60029,#cd0032,#c0003f,#b1004e,#a0005f,#8e0071,#7c0083,#690096,#5700a8,#4600b9,#3500ca,#2500da,#1500ea,#0500fa,#0b0bff,#1b1bff,#2b2bff,#3a3aff,#4848ff,#5555ff,#6262ff,#6e6eff,#7a7aff,#8686ff,#9191ff,#9d9dff,#a8a8ff,#b4b4ff,#bfbfff,#c9c9ff,#d3d3ff,#dbdbff,#e2e2ff,#e8e8ff,#ededff,#f1f1ff,#f5f5ff,#f7f7ff,#f9f9ff,#fbfbff,#fcfcff,#fcfcff,#fdfdff,#fefeff,#fefeff,#fefeff,#fefeff,#ffffff,#ffffff,#ffffff,#ffffff,#ffffff,#ffffff,#ffffff,#ffffff,#ffffff,#ffffff,#ffffff,#ffffff,#ffffff,#ffffff,#ffffff,#ffffff,#ffffff,#ffffff,#ffffff,#ffffff,#ffffff,#ffffff,#ffffff,#ffffff,#ffffff,#ffffff,#ffffff)"></div>
<div style="left:164px;background-image:linear-gradient(#f7f7ff,#f4f4ff,#f0f0ff,#ebebff,#e5e5ff,#dedeff,#d6d6ff,#cdcdff,#c2c2ff,#b6b6ff,#a8a8ff,#9a9aff,#8c8cff,#8080ff,#7575ff,#6c6cff,#6666ff,#6161ff,#5d5dff,#5959ff,#5555ff,#5151ff,#4b4bff,#4444ff,#3b3bff,#3030ff,#2323ff,#1717ff,#0c0cff,#0202ff,#0500fa,#0b00f4,#1100ee,#1600e9,#1b00e4,#2000df,#2700d8,#2e00d1,#3600c9,#3e00c1,#4700b8,#5000af,#5900a6,#63009c,#6c0093,#760089,#81007e,#8b0074,#95006a,#9f0060,#aa0055,#b4004b,#be0041,#c60039,#ce0031,#d5002a,#d90026,#dd0022,#dd0022,#db0024,#d5002a,#cc0033,#c0003f,#b1004e,#a0005f,#8e0071,#7b0084,#690096,#5700a8,#4600b9,#3500ca,#2500da,#1500ea,#0500fa,#0b0bff,#1b1bff,#2b2bff,#3939ff,#4747ff,#5555ff,#6262ff,#6e6eff,#7a7aff,#8585ff,#9191ff,#9c9cff,#a8a8ff,#b3b3ff,#bebeff,#c9c9ff,#d3d3ff,#dbdbff,#e2e2ff,#e8e8ff,#ededff,#f1f1ff,#f5f5ff,#f7f7ff,#f9f9ff,#fbfbff,#fcfcff,#fcfcff,#fdfdff,#fefeff,#fefeff,#fefeff,#fefeff,#ffffff,#ffffff,#ffffff,#ffffff,#ffffff,#ffffff,#ffffff,#ffffff,#ffffff,#ffffff,#ffffff,#ffffff,#ffffff,#ffffff,#ffffff,#ffffff,#ffffff,#ffffff,#ffffff,#ffffff,#ffffff,#ffffff,#ffffff,#ffffff,#ffffff,#ffffff,#ffffff)"></div>
<div style="left:168px;background-image:linear-gradient(#f7f7ff,#f4f4ff,#f0f0ff,#ebebff,#e5e5ff,#dedeff,#d6d6ff,#cdcdff,#c2c2ff,#b6b6ff,#a8a8ff,#9a9aff,#8c8cff,#8080ff,#7575ff,#6c6cff,#6666ff,#6161ff,#5d5dff,#5959ff,#5555ff,#5151ff,#4b4bff,#4444ff,#3b3bff,#3030ff,#2323ff,#1717ff,#0c0cff,#0202ff,#0500fa,#0b00f4,#1100ee,#1600e9,#1b00e4,#2000df,#2700d8,#2e00d1,#3500ca,#3e00c1,#4700b8,#5000af,#5900a6,#62009d,#6c0093,#760089,#80007f,#8a0075,#95006a,#9f0060,#a90056,#b4004b,#bd0042,#c60039,#ce0031,#d4002b,#d90026,#dc0023,#dd0022,#db0024,#d5002a,#cc0033,#bf0040,#b0004f,#a0005f,#8e0071,#7b0084,#690096,#5700a8,#4600b9,#3500ca,#2500da,#1500ea,#0500fa,#0b0bff,#1b1bff,#2a2aff,#3939ff,#4747ff,#5454ff,#6161ff,#6d6dff,#7979ff,#8585ff,#9090ff,#9c9cff,#a8a8ff,#b3b3ff,#bebeff,#c9c9ff,#d3d3ff,#dbdbff,#e2e2ff,#e8e8ff,#ededff,#f1f1ff,#f5f5ff,#f7f7ff,#f9f9ff,#fbfbff,#fcfcff,#fcfcff,#fdfdff,#fefeff,#fefeff,#fefeff,#fefeff,#ffffff,#ffffff,#ffffff,#ffffff,#ffffff,#ffffff,#ffffff,#ffffff,#ffffff,#ffffff,#ffffff,#ffffff,#ffffff,#ffffff,#ffffff,#ffffff,#ffffff,#ffffff,#ffffff,#ffffff,#ffffff,#ffffff,#ffffff,#ffffff,#ffffff,#ffffff,#ffffff)"></div>
<div style="left:172px;background-image:linear-gradient(#f7f7ff,#f4f4ff,#f0f0ff,#ebebff,#e5e5ff,#dedeff,#d6d6ff,#cdcdff,#c2c2ff,#b6b6ff,#a8a8ff,#9a9aff,#8c8cff,#8080ff,#7575ff,#6c6cff,#6666ff,#6161ff,#5d5dff,#5959ff,#5555ff,#5151ff,#4b4bff,#4444ff,#3b3bff,#3030ff,#2424ff,#1717ff,#0c0cff,#0303ff,#0500fa,#0b00f4,#1000ef,#1600e9,#1b00e4,#2000df,#2600d9,#2d00d2,#3500ca,#3d00c2,#4600b9,#4f00b0,#5900a6,#62009d,#6c0093,#760089,#80007f,#8a0075,#94006b,#9f0060,#a90056,#b3004c,#bc0043,#c5003a,#cd0032,#d3002c,#d80027,#db0024,#dc0023,#da0025,#d4002b,#cb0034,#bf0040,#b0004f,#9f0060,#8d0072,#7b0084,#680097,#5600a9,#4500ba,#3500ca,#2400db,#1400eb,#0400fb,#0b0bff,#1b1bff,#2a2aff,#3939ff,#4646ff,#5454ff,#6161ff,#6d6dff,#7979ff,#8484ff,#9090ff,#9c9cff,#a7a7ff,#b3b3ff,#bebeff,#c9c9ff,#d3d3ff,#dbdbff,#e2e2ff,#e8e8ff,#ededff,#f1f1ff,#f5f5ff,#f7f7ff,#f9f9ff,#fbfbff,#fcfcff,#fcfcff,#fdfdff,#fefeff,#fefeff,#fefeff,#fefeff,#ffffff,#ffffff,#ffffff,#ffffff,#ffffff,#ffffff,#ffffff,#ffffff,#ffffff,#ffffff,#ffffff,#ffffff,#ffffff,#ffffff,#ffffff,#ffffff,#ffffff,#ffffff,#ffffff,#ffffff,#ffffff,#ffffff,#ffffff,#ffffff,#ffffff,#ffffff,#ffffff)"></div>
<div style="left:176px;background-image:linear-gradient(#f7f7ff,#f4f4ff,#f0f0ff,#ebebff,#e5e5ff,#dedeff,#d6d6ff,#cdcdff,#c2c2ff,#b6b6ff,#a8a8ff,#9a9aff,#8c8cff,#8080ff,#7575ff,#6c6cff,#6666ff,#6161ff,#5d5dff,#5959ff,#5555ff,#5151ff,#4b4bff,#4444ff,#3b3bff,#3030ff,#2424ff,#1717ff,#0c0cff,#0303ff,#0500fa,#0b00f4,#1000ef,#1500ea,#1b00e4,#2000df,#2600d9,#2d00d2,#3500ca,#3d00c2,#4600b9,#4f00b0,#5800a7,#61009e,#6b0094,#75008a,#7f0080,#890076,#94006b,#9e0061,#a80057,#b2004d,#bc0043,#c4003b,#cc0033,#d2002d,#d70028,#da0025,#db0024,#d90026,#d3002c,#ca0035,#be0041,#af0050,#9e0061,#8d0072,#7a0085,#680097,#5600a9,#4500ba,#3400cb,#2400db,#1400eb,#0400fb,#0c0cff,#1b1bff,#2a2aff,#3838ff,#4646ff,#5353ff,#6060ff,#6c6cff,#7878ff,#8484ff,#9090ff,#9b9bff,#a7a7ff,#b3b3ff,#bebeff,#c9c9ff,#d3d3ff,#dbdbff,#e2e2ff,#e8e8ff,#ededff,#f2f2ff,#f5f5ff,#f7f7ff,#f9f9ff,#fbfbff,#fcfcff,#fcfcff,#fdfdff,#fefeff,#fefeff,#fefeff,#fefeff,#ffffff,#ffffff,#ffffff,#ffffff,#ffffff,#ffffff,#ffffff,#ffffff,#ffffff,#ffffff,#ffffff,#ffffff,#ffffff,#ffffff,#ffffff,#ffffff,#ffffff,#ffffff,#ffffff,#ffffff,#ffffff,#ffffff,#ffffff,#ffffff,#ffffff,#ffffff,#ffffff)"></div>
<div style="left:180px;background-image:linear-gradient(#f7f7ff,#f4f4ff,#f0f0ff,#ebebff,#e5e5ff,#dedeff,#d6d6ff,#cdcdff,#c2c2ff,#b6b6ff,#a8a8ff,#9a9aff,#8c8cff,#8080ff,#7575ff,#6c6cff,#6565ff,#6161ff,#5d5dff,#5959ff,#5555ff,#5151ff,#4b4bff,#4444ff,#3b3bff,#3030ff,#2424ff,#1818ff,#0c0cff,#0303ff,#0500fa,#0b00f4,#1000ef,#1500ea,#1a00e5,#2000df,#2600d9,#2d00d2,#3400cb,#3c00c3,#4500ba,#4e00b1,#5700a8,#60009f,#6a0095,#74008b,#7e0081,#890076,#93006c,#9d0062,#a80057,#b1004e,#bb0044,#c3003c,#cb0034,#d1002e,#d5002a,#d90026,#d90026,#d70028,#d2002d,#c90036,#bd0042,#ae0051,#9e0061,#8c0073,#790086,#670098,#5500aa,#4400bb,#3300cc,#2300dc,#1300ec,#0400fb,#0c0cff,#1b1bff,#2a2aff,#3838ff,#4646ff,#5353ff,#6060ff,#6c6cff,#7878ff,#8484ff,#8f8fff,#9b9bff,#a7a7ff,#b3b3ff,#bebeff,#c9c9ff,#d3d3ff,#dbdbff,#e2e2ff,#e9e9ff,#eeeeff,#f2f2ff,#f5f5ff,#f7f7ff,#f9f9ff,#fbfbff,#fcfcff,#fcfcff,#fdfdff,#fefeff,#fefeff,#fefeff,#fefeff,#ffffff,#ffffff,#ffffff,#ffffff,#ffffff,#ffffff,#ffffff,#ffffff,#ffffff,#ffffff,#ffffff,#ffffff,#ffffff,#ffffff,#ffffff,#ffffff,#ffffff,#ffffff,#ffffff,#ffffff,#ffffff,#ffffff,#ffffff,#ffffff,#ffffff,#ffffff,#ffffff)"></div>
<div style="left:184px;background-image:linear-gradient(#f7f7ff,#f4f4ff,#f0f0ff,#ebebff,#e5e5ff,#dedeff,#d6d6ff,#cdcdff,#c2c2ff,#b6b6ff,#a8a8ff,#9a9aff,#8c8cff,#7f7fff,#7575ff,#6c6cff,#6565ff,#6060ff,#5c5cff,#5959ff,#5555ff,#5050ff,#4b4bff,#4444ff,#3b3bff,#3030ff,#2424ff,#1818ff,#0d0dff,#0303ff,#0400fb,#0b00f4,#1000ef,#1500ea,#1a00e5,#2000df,#2600d9,#2c00d3,#3300cc,#3b00c4,#4300bc,#4c00b3,#5500aa,#5f00a0,#680097,#73008c,#7d0082,#880077,#92006d,#9c0063,#a70058,#b1004e,#ba0045,#c2003d,#c90036,#cf0030,#d4002b,#d70028,#d80027,#d60029,#d1002e,#c80037,#bc0043,#ad0052,#9d0062,#8b0074,#790086,#660099,#5400ab,#4300bc,#3200cd,#2200dd,#1300ec,#0300fc,#0c0cff,#1c1cff,#2a2aff,#3838ff,#4646ff,#5353ff,#6060ff,#6c6cff,#7878ff,#8484ff,#8f8fff,#9b9bff,#a7a7ff,#b3b3ff,#bebeff,#c9c9ff,#d3d3ff,#dbdbff,#e3e3ff,#e9e9ff,#eeeeff,#f2f2ff,#f5f5ff,#f7f7ff,#f9f9ff,#fbfbff,#fcfcff,#fcfcff,#fdfdff,#fefeff,#fefeff,#fefeff,#fefeff,#ffffff,#ffffff,#ffffff,#ffffff,#ffffff,#ffffff,#ffffff,#ffffff,#ffffff,#ffffff,#ffffff,#ffffff,#ffffff,#ffffff,#ffffff,#ffffff,#ffffff,#ffffff,#ffffff,#ffffff,#ffffff,#ffffff,#ffffff,#ffffff,#ffffff,#ffffff,#ffffff)"></div>
<div style="left:188px;background-image:linear-gradient(#f7f7ff,#f4f4ff,#f0f0ff,#ebebff,#e5e5ff,#dedeff,#d6d6ff,#ccccff,#c2c2ff,#b6b6ff,#a8a8ff,#9a9aff,#8c8cff,#7f7fff,#7474ff,#6c6cff,#6565ff,#6060ff,#5c5cff,#5959ff,#5555ff,#5050ff,#4b4bff,#4444ff,#3b3bff,#3030ff,#2424ff,#1818ff,#0d0dff,#0303ff,#0400fb,#0b00f4,#1000ef,#1500ea,#1a00e5,#1f00e0,#2500da,#2b00d4,#3200cd,#3a00c5,#4200bd,#4a00b5,#5300ac,#5d00a2,#670098,#71008e,#7c0083,#860079,#91006e,#9b0064,#a60059,#b0004f,#b90046,#c1003e,#c80037,#ce0031,#d3002c,#d60029,#d70028,#d5002a,#d0002f,#c70038,#bb0044,#ad0052,#9c0063,#8a0075,#770088,#65009a,#5300ac,#4200bd,#3100ce,#2100de,#1200ed,#0200fd,#0d0dff,#1c1cff,#2b2bff,#3939ff,#4646ff,#5353ff,#6060ff,#6c6cff,#7878ff,#8484ff,#8f8fff,#9b9bff,#a7a7ff,#b3b3ff,#bebeff,#c9c9ff,#d3d3ff,#dbdbff,#e3e3ff,#e9e9ff,#eeeeff,#f2f2ff,#f5f5ff,#f7f7ff,#f9f9ff,#fbfbff,#fcfcff,#fcfcff,#fdfdff,#fefeff,#fefeff,#fefeff,#fefeff,#ffffff,#ffffff,#ffffff,#ffffff,#ffffff,#ffffff,#ffffff,#ffffff,#ffffff,#ffffff,#ffffff,#ffffff,#ffffff,#ffffff,#ffffff,#ffffff,#ffffff,#ffffff,#ffffff,#ffffff,#ffffff,#ffffff,#ffffff,#ffffff,#ffffff,#ffffff,#ffffff)"></div>
<div style="left:192px;background-image:linear-gradient(#f7f7ff,#f4f4ff,#f0f0ff,#ebebff,#e5e5ff,#dedeff,#d6d6ff,#ccccff,#c2c2ff,#b6b6ff,#a8a8ff,#9a9aff,#8c8cff,#7f7fff,#7474ff,#6c6cff,#6565ff,#6060ff,#5c5cff,#5858ff,#5454ff,#5050ff,#4b4bff,#4444ff,#3b3bff,#3030ff,#2424ff,#1818ff,#0d0dff,#0303ff,#0400fb,#0b00f4,#1000ef,#1500ea,#1a00e5,#1f00e0,#2400db,#2a00d5,#3100ce,#3800c7,#4000bf,#4800b7,#5100ae,#5a00a5,#64009b,#6f0090,#7a0085,#85007a,#90006f,#9a0065,#a5005a,#af0050,#b80047,#c0003f,#c70038,#cd0032,#d1002e,#d4002b,#d5002a,#d4002b,#ce0031,#c60039,#ba0045,#ab0054,#9b0064,#890076,#760089,#64009b,#5100ae,#4000bf,#3000cf,#2000df,#1000ef,#0100fe,#0e0eff,#1d1dff,#2b2bff,#3939ff,#4646ff,#5353ff,#6060ff,#6c6cff,#7878ff,#8484ff,#9090ff,#9b9bff,#a7a7ff,#b3b3ff,#bfbfff,#c9c9ff,#d3d3ff,#dbdbff,#e3e3ff,#e9e9ff,#eeeeff,#f2f2ff,#f5f5ff,#f7f7ff,#f9f9ff,#fbfbff,#fcfcff,#fcfcff,#fdfdff,#fefeff,#fefeff,#fefeff,#fefeff,#ffffff,#ffffff,#ffffff,#ffffff,#ffffff,#ffffff,#ffffff,#ffffff,#ffffff,#ffffff,#ffffff,#ffffff,#ffffff,#ffffff,#ffffff,#ffffff,#ffffff,#ffffff,#ffffff,#ffffff,#ffffff,#ffffff,#ffffff,#ffffff,#ffffff,#ffffff,#ffffff)"></div>
<div style="left:196px;background-image:linear-gradient(#f7f7ff,#f4f4ff,#f0f0ff,#ebebff,#e5e5ff,#dedeff,#d6d6ff,#ccccff,#c2c2ff,#b6b6ff,#a8a8ff,#9a9aff,#8c8cff,#7f7fff,#7474ff,#6b6bff,#6565ff,#6060ff,#5c5cff,#5858ff,#5454ff,#5050ff,#4a4aff,#4343ff,#3b3bff,#3030ff,#2424ff,#1818ff,#0c0cff,#0303ff,#0500fa,#0b00f4,#1000ef,#1500ea,#1a00e5,#1f00e0,#2400db,#2900d6,#2f00d0,#3600c9,#3d00c2,#4500ba,#4e00b1,#5700a8,#61009e,#6c0093,#780087,#83007c,#8e0071,#990066,#a4005b,#ad0052,#b70048,#bf0040,#c60039,#cb0034,#d0002f,#d3002c,#d4002b,#d2002d,#cd0032,#c5003a,#b90046,#aa0055,#9a0065,#870078,#75008a,#62009d,#5000af,#3e00c1,#2e00d1,#1e00e1,#0f00f0,#0000ff,#0f0fff,#1e1eff,#2c2cff,#3939ff,#4747ff,#5454ff,#6060ff,#6c6cff,#7878ff,#8484ff,#9090ff,#9c9cff,#a8a8ff,#b4b4ff,#bfbfff,#cacaff,#d3d3ff,#dcdcff,#e3e3ff,#e9e9ff,#eeeeff,#f2f2ff,#f5f5ff,#f7f7ff,#f9f9ff,#fbfbff,#fcfcff,#fcfcff,#fdfdff,#fefeff,#fefeff,#fefeff,#fefeff,#ffffff,#ffffff,#ffffff,#ffffff,#ffffff,#ffffff,#ffffff,#ffffff,#ffffff,#ffffff,#ffffff,#ffffff,#ffffff,#ffffff,#ffffff,#ffffff,#ffffff,#ffffff,#ffffff,#ffffff,#ffffff,#ffffff,#ffffff,#ffffff,#ffffff,#ffffff,#ffffff)"></div>
<div style="left:200px;background-image:linear-gradient(#f7f7ff,#f4f4ff,#f0f0ff,#ebebff,#e5e5ff,#dedeff,#d6d6ff,#ccccff,#c2c2ff,#b6b6ff,#a8a8ff,#9a9aff,#8c8cff,#7f7fff,#7474ff,#6b6bff,#6464ff,#5f5fff,#5b5bff,#5757ff,#5353ff,#4f4fff,#4a4aff,#4343ff,#3a3aff,#2f2fff,#2323ff,#1717ff,#0c0cff,#0303ff,#0500fa,#0b00f4,#1000ef,#1500ea,#1a00e5,#1e00e1,#2300dc,#2800d7,#2d00d2,#3300cc,#3a00c5,#4100be,#4a00b5,#5300ac,#5e00a1,#690096,#75008a,#81007e,#8c0073,#980067,#a2005d,#ac0053,#b5004a,#be0041,#c4003b,#ca0035,#cf0030,#d2002d,#d3002c,#d1002e,#cc0033,#c3003c,#b80047,#a90056,#980067,#860079,#73008c,#60009f,#4e00b1,#3c00c3,#2b00d4,#1c00e3,#0d00f2,#0202ff,#1010ff,#1f1fff,#2d2dff,#3a3aff,#4747ff,#5454ff,#6161ff,#6d6dff,#7979ff,#8585ff,#9090ff,#9c9cff,#a8a8ff,#b4b4ff,#bfbfff,#cacaff,#d3d3ff,#dcdcff,#e3e3ff,#e9e9ff,#eeeeff,#f2f2ff,#f5f5ff,#f7f7ff,#f9f9ff,#fbfbff,#fcfcff,#fcfcff,#fdfdff,#fefeff,#fefeff,#fefeff,#fefeff,#ffffff,#ffffff,#ffffff,#ffffff,#ffffff,#ffffff,#ffffff,#ffffff,#ffffff,#ffffff,#ffffff,#ffffff,#ffffff,#ffffff,#ffffff,#ffffff,#ffffff,#ffffff,#ffffff,#ffffff,#ffffff,#ffffff,#ffffff,#ffffff,#ffffff,#ffffff,#ffffff)"></div>
<div style="left:204px;background-image:linear-gradient(#f7f7ff,#f4f4ff,#f0f0ff,#ebebff,#e5e5ff,#dedeff,#d6d6ff,#ccccff,#c2c2ff,#b6b6ff,#a8a8ff,#9a9aff,#8c8cff,#7f7fff,#7474ff,#6b6bff,#6464ff,#5f5fff,#5b5bff,#5757ff,#5353ff,#4e4eff,#4949ff,#4242ff,#3939ff,#2f2fff,#2323ff,#1616ff,#0b0bff,#0202ff,#0600f9,#0c00f3,#1100ee,#1600e9,#1a00e5,#1e00e1,#2200dd,#2600d9,#2b00d4,#3000cf,#3600c9,#3d00c2,#4600b9,#4f00b0,#5a00a5,#660099,#72008d,#7e0081,#8a0075,#960069,#a1005e,#ab0054,#b4004b,#bc0043,#c3003c,#c90036,#cd0032,#d1002e,#d2002d,#d0002f,#cb0034,#c2003d,#b70048,#a80057,#970068,#84007b,#71008e,#5e00a1,#4b00b4,#3900c6,#2900d6,#1900e6,#0a00f5,#0404ff,#1212ff,#2020ff,#2e2eff,#3b3bff,#4848ff,#5555ff,#6161ff,#6d6dff,#7979ff,#8585ff,#9191ff,#9d9dff,#a9a9ff,#b4b4ff,#c0c0ff,#cacaff,#d4d4ff,#dcdcff,#e3e3ff,#e9e9ff,#eeeeff,#f2f2ff,#f5f5ff,#f7f7ff,#f9f9ff,#fbfbff,#fcfcff,#fcfcff,#fdfdff,#fefeff,#fefeff,#fefeff,#fefeff,#ffffff,#ffffff,#ffffff,#ffffff,#ffffff,#ffffff,#ffffff,#ffffff,#ffffff,#ffffff,#ffffff,#ffffff,#ffffff,#ffffff,#ffffff,#ffffff,#ffffff,#ffffff,#ffffff,#ffffff,#ffffff,#ffffff,#ffffff,#ffffff,#ffffff,#ffffff,#ffffff)"></div>
<div style="left:208px;background-image:linear-gradient(#f7f7ff,#f4f4ff,#f0f0ff,#ebebff,#e5e5ff,#dedeff,#d6d6ff,#ccccff,#c2c2ff,#b5b5ff,#a8a8ff,#9a9aff,#8c8cff,#7e7eff,#7373ff,#6a6aff,#6363ff,#5e5eff,#5a5aff,#5656ff,#5252ff,#4d4dff,#4848ff,#4141ff,#3939ff,#2e2eff,#2222ff,#1616ff,#0a0aff,#0101ff,#0700f8,#0d00f2,#1200ed,#1600e9,#1a00e5,#1e00e1,#2100de,#2500da,#2900d6,#2d00d2,#3300cc,#3900c6,#4100be,#4b00b4,#5600a9,#62009d,#6f0090,#7c0083,#880077,#94006b,#a0005f,#aa0055,#b3004c,#bb0044,#c2003d,#c80037,#cc0033,#cf0030,#d0002f,#cf0030,#ca0035,#c1003e,#b5004a,#a70058,#95006a,#82007d,#6f0090,#5b00a4,#4800b7,#3600c9,#2600d9,#1600e9,#0800f7,#0606ff,#1414ff,#2222ff,#2f2fff,#3c3cff,#4949ff,#5656ff,#6262ff,#6e6eff,#7a7aff,#8686ff,#9292ff,#9e9eff,#a9a9ff,#b5b5ff,#c0c0ff,#cacaff,#d4d4ff,#dcdcff,#e3e3ff,#e9e9ff,#eeeeff,#f2f2ff,#f5f5ff,#f7f7ff,#f9f9ff,#fbfbff,#fcfcff,#fcfcff,#fdfdff,#fefeff,#fefeff,#fefeff,#fefeff,#ffffff,#ffffff,#ffffff,#ffffff,#ffffff,#ffffff,#ffffff,#ffffff,#ffffff,#ffffff,#ffffff,#ffffff,#ffffff,#ffffff,#ffffff,#ffffff,#ffffff,#ffffff,#ffffff,#ffffff,#ffffff,#ffffff,#ffffff,#ffffff,#ffffff,#ffffff,#ffffff)"></div>
<div style="left:212px;background-image:linear-gradient(#f7f7ff,#f4f4ff,#f0f0ff,#ebebff,#e5e5ff,#dedeff,#d6d6ff,#ccccff,#c2c2ff,#b5b5ff,#a8a8ff,#9999ff,#8b8bff,#7e7eff,#7373ff,#6a6aff,#6363ff,#5d5dff,#5959ff,#5555ff,#5151ff,#4c4cff,#4747ff,#4040ff,#3737ff,#2d2dff,#2020ff,#1414ff,#0909ff,#0000ff,#0800f7,#0e00f1,#1300ec,#1700e8,#1b00e4,#1e00e1,#2100de,#2300dc,#2600d9,#2a00d5,#2f00d0,#3500ca,#3c00c3,#4600b9,#5100ae,#5e00a1,#6b0094,#790086,#860079,#93006c,#9e0061,#a90056,#b2004d,#ba0045,#c1003e,#c70038,#cb0034,#ce0031,#cf0030,#ce0031,#c90036,#c0003f,#b4004b,#a5005a,#94006b,#80007f,#6c0093,#5800a7,#4500ba,#3300cc,#2200dd,#1300ec,#0500fa,#0909ff,#1616ff,#2323ff,#3030ff,#3d3dff,#4a4aff,#5757ff,#6363ff,#6f6fff,#7b7bff,#8787ff,#9393ff,#9e9eff,#aaaaff,#b5b5ff,#c1c1ff,#cbcbff,#d4d4ff,#dcdcff,#e3e3ff,#e9e9ff,#eeeeff,#f2f2ff,#f5f5ff,#f7f7ff,#f9f9ff,#fbfbff,#fcfcff,#fcfcff,#fdfdff,#fefeff,#fefeff,#fefeff,#fefeff,#ffffff,#ffffff,#ffffff,#ffffff,#ffffff,#ffffff,#ffffff,#ffffff,#ffffff,#ffffff,#ffffff,#ffffff,#ffffff,#ffffff,#ffffff,#ffffff,#ffffff,#ffffff,#ffffff,#ffffff,#ffffff,#ffffff,#ffffff,#ffffff,#ffffff,#ffffff,#ffffff)"></div>
<div style="left:216px;background-image:linear-gradient(#f7f7ff,#f4f4ff,#f0f0ff,#ebebff,#e5e5ff,#dedeff,#d6d6ff,#ccccff,#c2c2ff,#b5b5ff,#a8a8ff,#9999ff,#8b8bff,#7e7eff,#7272ff,#6969ff,#6262ff,#5c5cff,#5858ff,#5454ff,#4f4fff,#4b4bff,#4646ff,#3f3fff,#3636ff,#2b2bff,#1f1fff,#1313ff,#0808ff,#0200fd,#0a00f5,#0f00f0,#1400eb,#1800e7,#1b00e4,#1e00e1,#2000df,#2200dd,#2400db,#2700d8,#2b00d4,#3000cf,#3700c8,#4100be,#4d00b2,#5a00a5,#680097,#760089,#84007b,#91006e,#9d0062,#a80057,#b1004e,#b90046,#c0003f,#c60039,#ca0035,#cd0032,#ce0031,#cd0032,#c80037,#bf0040,#b3004c,#a4005b,#92006d,#7e0081,#6a0095,#5500aa,#4200bd,#2f00d0,#1f00e0,#0f00f0,#0200fd,#0c0cff,#1919ff,#2525ff,#3232ff,#3e3eff,#4b4bff,#5858ff,#6464ff,#7070ff,#7c7cff,#8888ff,#9494ff,#9f9fff,#ababff,#b6b6ff,#c1c1ff,#cbcbff,#d4d4ff,#ddddff,#e3e3ff,#e9e9ff,#eeeeff,#f2f2ff,#f5f5ff,#f7f7ff,#f9f9ff,#fbfbff,#fcfcff,#fcfcff,#fdfdff,#fefeff,#fefeff,#fefeff,#fefeff,#ffffff,#ffffff,#ffffff,#ffffff,#ffffff,#ffffff,#ffffff,#ffffff,#ffffff,#ffffff,#ffffff,#ffffff,#ffffff,#ffffff,#ffffff,#ffffff,#ffffff,#ffffff,#ffffff,#ffffff,#ffffff,#ffffff,#ffffff,#ffffff,#ffffff,#ffffff,#ffffff)"></div>
<div style="left:220px;background-image:linear-gradient(#f7f7ff,#f4f4ff,#f0f0ff,#ebebff,#e5e5ff,#dedeff,#d6d6ff,#ccccff,#c1c1ff,#b5b5ff,#a7a7ff,#9999ff,#8a8aff,#7d7dff,#7171ff,#6868ff,#6161ff,#5b5bff,#5656ff,#5252ff,#4e4eff,#4949ff,#4444ff,#3d3dff,#3434ff,#2929ff,#1d1dff,#1111ff,#0606ff,#0400fb,#0b00f4,#1100ee,#1600e9,#1a00e5,#1d00e2,#1f00e0,#2000df,#2100de,#2200dd,#2400db,#2700d8,#2c00d3,#3300cc,#3d00c2,#4900b6,#5600a9,#65009a,#74008b,#82007d,#90006f,#9c0063,#a70058,#b0004f,#b90046,#bf0040,#c5003a,#c90036,#cc0033,#ce0031,#cc0033,#c70038,#be0041,#b2004d,#a2005d,#90006f,#7c0083,#670098,#5200ad,#3e00c1,#2c00d3,#1b00e4,#0c00f3,#0202ff,#0f0fff,#1b1bff,#2727ff,#3434ff,#4040ff,#4c4cff,#5959ff,#6565ff,#7272ff,#7d7dff,#8989ff,#9595ff,#a0a0ff,#acacff,#b7b7ff,#c2c2ff,#ccccff,#d5d5ff,#ddddff,#e4e4ff,#e9e9ff,#eeeeff,#f2f2ff,#f5f5ff,#f7f7ff,#f9f9ff,#fbfbff,#fcfcff,#fcfcff,#fdfdff,#fefeff,#fefeff,#fefeff,#fefeff,#ffffff,#ffffff,#ffffff,#ffffff,#ffffff,#ffffff,#ffffff,#ffffff,#ffffff,#ffffff,#ffffff,#ffffff,#ffffff,#ffffff,#ffffff,#ffffff,#ffffff,#ffffff,#ffffff,#ffffff,#ffffff,#ffffff,#ffffff,#ffffff,#ffffff,#ffffff,#ffffff)"></div>
<div style="left:224px;background-image:linear-gradient(#f7f7ff,#f4f4ff,#f0f0ff,#ebebff,#e5e5ff,#dedeff,#d6d6ff,#ccccff,#c1c1ff,#b5b5ff,#a7a7ff,#9999ff,#8a8aff,#7c7cff,#7070ff,#6767ff,#5f5fff,#5959ff,#5555ff,#5050ff,#4c4cff,#4747ff,#4242ff,#3b3bff,#3232ff,#2727ff,#1b1bff,#0f0fff,#0303ff,#0600f9,#0e00f1,#1400eb,#1800e7,#1c00e3,#1e00e1,#2000df,#2000df,#2100de,#2100de,#2200dd,#2400db,#2900d6,#2f00d0,#3900c6,#4500ba,#5300ac,#62009d,#72008d,#80007f,#8e0071,#9b0064,#a60059,#af0050,#b80047,#bf0040,#c4003b,#c90036,#cc0033,#cd0032,#cb0034,#c60039,#bd0042,#b1004e,#a1005e,#8e0071,#7a0085,#64009b,#4f00b0,#3a00c5,#2800d7,#1700e8,#0800f7,#0606ff,#1212ff,#1e1eff,#2a2aff,#3535ff,#4141ff,#4e4eff,#5a5aff,#6767ff,#7373ff,#7f7fff,#8b8bff,#9696ff,#a2a2ff,#adadff,#b8b8ff,#c2c2ff,#ccccff,#d5d5ff,#ddddff,#e4e4ff,#e9e9ff,#eeeeff,#f2f2ff,#f5f5ff,#f7f7ff,#f9f9ff,#fbfbff,#fcfcff,#fcfcff,#fdfdff,#fefeff,#fefeff,#fefeff,#fefeff,#ffffff,#ffffff,#ffffff,#ffffff,#ffffff,#ffffff,#ffffff,#ffffff,#ffffff,#ffffff,#ffffff,#ffffff,#ffffff,#ffffff,#ffffff,#ffffff,#ffffff,#ffffff,#ffffff,#ffffff,#ffffff,#ffffff,#ffffff,#ffffff,#ffffff,#ffffff,#ffffff)"></div>
<div style="left:228px;background-image:linear-gradient(#f7f7ff,#f4f4ff,#f0f0ff,#ebebff,#e5e5ff,#dedeff,#d6d6ff,#ccccff,#c1c1ff,#b5b5ff,#a7a7ff,#9898ff,#8989ff,#7b7bff,#6f6fff,#6565ff,#5d5dff,#5757ff,#5252ff,#4e4eff,#4a4aff,#4545ff,#3f3fff,#3939ff,#3030ff,#2525ff,#1818ff,#0c0cff,#0101ff,#0900f6,#1000ef,#1600e9,#1b00e4,#1e00e1,#2000df,#2100de,#2100de,#2100de,#2100de,#2100de,#2300dc,#2600d9,#2d00d2,#3600c9,#4200bd,#5100ae,#60009f,#70008f,#7f0080,#8d0072,#9a0065,#a5005a,#af0050,#b70048,#be0041,#c3003c,#c80037,#cb0034,#cc0033,#ca0035,#c5003a,#bc0043,#b0004f,#a0005f,#8d0072,#780087,#62009d,#4c00b3,#3700c8,#2400db,#1300ec,#0400fb,#0909ff,#1515ff,#2020ff,#2c2cff,#3737ff,#4343ff,#4f4fff,#5c5cff,#6868ff,#7474ff,#8080ff,#8c8cff,#9898ff,#a3a3ff,#aeaeff,#b9b9ff,#c3c3ff,#cdcdff,#d6d6ff,#ddddff,#e4e4ff,#eaeaff,#eeeeff,#f2f2ff,#f5f5ff,#f7f7ff,#f9f9ff,#fbfbff,#fcfcff,#fcfcff,#fdfdff,#fefeff,#fefeff,#fefeff,#fefeff,#ffffff,#ffffff,#ffffff,#ffffff,#ffffff,#ffffff,#ffffff,#ffffff,#ffffff,#ffffff,#ffffff,#ffffff,#ffffff,#ffffff,#ffffff,#ffffff,#ffffff,#ffffff,#ffffff,#ffffff,#ffffff,#ffffff,#ffffff,#ffffff,#ffffff,#ffffff,#ffffff)"></div>
<div style="left:232px;background-image:linear-gradient(#f7f7ff,#f4f4ff,#f0f0ff,#ebebff,#e5e5ff,#dedeff,#d6d6ff,#ccccff,#c1c1ff,#b5b5ff,#a7a7ff,#9898ff,#8888ff,#7a7aff,#6e6eff,#6363ff,#5b5bff,#5555ff,#5050ff,#4b4bff,#4747ff,#4242ff,#3d3dff,#3636ff,#2d2dff,#2222ff,#1616ff,#0909ff,#0200fd,#0c00f3,#1300ec,#1900e6,#1d00e2,#2000df,#2200dd,#2300dc,#2300dc,#2200dd,#2100de,#2100de,#2200dd,#2500da,#2b00d4,#3500ca,#4100be,#4f00b0,#5f00a0,#6f0090,#7e0081,#8c0073,#990066,#a4005b,#ae0051,#b60049,#bd0042,#c3003c,#c70038,#ca0035,#cb0034,#ca0035,#c4003b,#bb0044,#af0050,#9e0061,#8b0074,#760089,#5f00a0,#4900b6,#3300cc,#2000df,#0f00f0,#0000ff,#0c0cff,#1818ff,#2323ff,#2e2eff,#3939ff,#4545ff,#5151ff,#5d5dff,#6a6aff,#7676ff,#8282ff,#8e8eff,#9999ff,#a4a4ff,#afafff,#babaff,#c4c4ff,#cdcdff,#d6d6ff,#dedeff,#e4e4ff,#eaeaff,#eeeeff,#f2f2ff,#f5f5ff,#f7f7ff,#f9f9ff,#fbfbff,#fcfcff,#fcfcff,#fdfdff,#fefeff,#fefeff,#fefeff,#fefeff,#ffffff,#ffffff,#ffffff,#ffffff,#ffffff,#ffffff,#ffffff,#ffffff,#ffffff,#ffffff,#ffffff,#ffffff,#ffffff,#ffffff,#ffffff,#ffffff,#ffffff,#ffffff,#ffffff,#ffffff,#ffffff,#ffffff,#ffffff,#ffffff,#ffffff,#ffffff,#ffffff)"></div>
<div style="left:236px;background-image:linear-gradient(#f7f7ff,#f4f4ff,#f0f0ff,#ebebff,#e5e5ff,#dedeff,#d6d6ff,#ccccff,#c1c1ff,#b4b4ff,#a6a6ff,#9797ff,#8888ff,#7979ff,#6c6cff,#6262ff,#5959ff,#5353ff,#4d4dff,#4949ff,#4444ff,#3f3fff,#3a3aff,#3333ff,#2a2aff,#1f1fff,#1313ff,#0606ff,#0500fa,#0f00f0,#1600e9,#1c00e3,#2000df,#2300dc,#2500da,#2600d9,#2500da,#2400db,#2300dc,#2200dd,#2300dc,#2600d9,#2b00d4,#3400cb,#4000bf,#4f00b0,#5e00a1,#6e0091,#7d0082,#8b0074,#980067,#a3005c,#ad0052,#b5004a,#bc0043,#c2003d,#c60039,#c90036,#ca0035,#c90036,#c4003b,#bb0044,#ae0051,#9d0062,#8a0075,#74008b,#5d00a2,#4600b9,#3000cf,#1d00e2,#0b00f4,#0303ff,#1010ff,#1b1bff,#2525ff,#3030ff,#3b3bff,#4646ff,#5353ff,#5f5fff,#6c6cff,#7878ff,#8484ff,#9090ff,#9b9bff,#a6a6ff,#b0b0ff,#bbbbff,#c5c5ff,#ceceff,#d6d6ff,#dedeff,#e4e4ff,#eaeaff,#eeeeff,#f2f2ff,#f5f5ff,#f7f7ff,#f9f9ff,#fbfbff,#fcfcff,#fcfcff,#fdfdff,#fefeff,#fefeff,#fefeff,#fefeff,#ffffff,#ffffff,#ffffff,#ffffff,#ffffff,#ffffff,#ffffff,#ffffff,#ffffff,#ffffff,#ffffff,#ffffff,#ffffff,#ffffff,#ffffff,#ffffff,#ffffff,#ffffff,#ffffff,#ffffff,#ffffff,#ffffff,#ffffff,#ffffff,#ffffff,#ffffff,#ffffff)"></div>
<div style="left:240px;background-image:linear-gradient(#f7f7ff,#f4f4ff,#f0f0ff,#ebebff,#e5e5ff,#dedeff,#d5d5ff,#ccccff,#c1c1ff,#b4b4ff,#a6a6ff,#9696ff,#8686ff,#7878ff,#6a6aff,#5f5fff,#5757ff,#5050ff,#4a4aff,#4545ff,#4141ff,#3c3cff,#3636ff,#3030ff,#2727ff,#1c1cff,#0f0fff,#0303ff,#0900f6,#1200ed,#1a00e5,#2000df,#2400db,#2700d8,#2800d7,#2900d6,#2800d7,#2600d9,#2500da,#2400db,#2500da,#2700d8,#2d00d2,#3600c9,#4100be,#4f00b0,#5f00a0,#6e0091,#7d0082,#8b0074,#980067,#a3005c,#ac0053,#b4004b,#bb0044,#c1003e,#c5003a,#c90036,#ca0035,#c80037,#c3003c,#ba0045,#ad0052,#9c0063,#880077,#72008d,#5b00a4,#4300bc,#2d00d2,#1a00e5,#0900f6,#0606ff,#1212ff,#1d1dff,#2727ff,#3232ff,#3d3dff,#4848ff,#5454ff,#6161ff,#6e6eff,#7a7aff,#8686ff,#9292ff,#9d9dff,#a8a8ff,#b2b2ff,#bcbcff,#c6c6ff,#cfcfff,#d7d7ff,#dedeff,#e5e5ff,#eaeaff,#eeeeff,#f2f2ff,#f5f5ff,#f7f7ff,#f9f9ff,#fbfbff,#fcfcff,#fcfcff,#fdfdff,#fefeff,#fefeff,#fefeff,#fefeff,#ffffff,#ffffff,#ffffff,#ffffff,#ffffff,#ffffff,#ffffff,#ffffff,#ffffff,#ffffff,#ffffff,#ffffff,#ffffff,#ffffff,#ffffff,#ffffff,#ffffff,#ffffff,#ffffff,#ffffff,#ffffff,#ffffff,#ffffff,#ffffff,#ffffff,#ffffff,#ffffff)"></div>
<div style="left:244px;background-image:linear-gradient(#f7f7ff,#f4f4ff,#f0f0ff,#ebebff,#e5e5ff,#dedeff,#d5d5ff,#ccccff,#c1c1ff,#b4b4ff,#a5a5ff,#9595ff,#8585ff,#7676ff,#6868ff,#5d5dff,#5454ff,#4d4dff,#4747ff,#4242ff,#3d3dff,#3838ff,#3333ff,#2c2cff,#2323ff,#1818ff,#0c0cff,#0100fe,#0c00f3,#1600e9,#1d00e2,#2300dc,#2700d8,#2a00d5,#2c00d3,#2c00d3,#2b00d4,#2a00d5,#2800d7,#2800d7,#2800d7,#2b00d4,#3000cf,#3800c7,#4400bb,#5100ae,#60009f,#6f0090,#7e0081,#8b0074,#970068,#a2005d,#ac0053,#b4004b,#ba0045,#c0003f,#c4003b,#c80037,#c90036,#c70038,#c2003d,#b90046,#ac0053,#9b0064,#870078,#71008e,#5900a6,#4200bd,#2b00d4,#1700e8,#0600f9,#0808ff,#1414ff,#1f1fff,#2929ff,#3333ff,#3e3eff,#4a4aff,#5656ff,#6363ff,#7070ff,#7c7cff,#8888ff,#9494ff,#9f9fff,#a9a9ff,#b4b4ff,#bdbdff,#c7c7ff,#cfcfff,#d7d7ff,#dfdfff,#e5e5ff,#eaeaff,#eeeeff,#f2f2ff,#f5f5ff,#f7f7ff,#f9f9ff,#fbfbff,#fcfcff,#fcfcff,#fdfdff,#fefeff,#fefeff,#fefeff,#fefeff,#ffffff,#ffffff,#ffffff,#ffffff,#ffffff,#ffffff,#ffffff,#ffffff,#ffffff,#ffffff,#ffffff,#ffffff,#ffffff,#ffffff,#ffffff,#ffffff,#ffffff,#ffffff,#ffffff,#ffffff,#ffffff,#ffffff,#ffffff,#ffffff,#ffffff,#ffffff,#ffffff)"></div>
<div style="left:248px;background-image:linear-gradient(#f7f7ff,#f4f4ff,#f0f0ff,#ebebff,#e5e5ff,#dedeff,#d5d5ff,#ccccff,#c0c0ff,#b3b3ff,#a4a4ff,#9494ff,#8484ff,#7474ff,#6666ff,#5a5aff,#5151ff,#4949ff,#4343ff,#3e3eff,#3939ff,#3535ff,#2f2fff,#2828ff,#2020ff,#1515ff,#0808ff,#0400fb,#1000ef,#1900e6,#2100de,#2700d8,#2b00d4,#2e00d1,#2f00d0,#3000cf,#2f00d0,#2e00d1,#2d00d2,#2c00d3,#2c00d3,#2f00d0,#3400cb,#3c00c3,#4700b8,#5400ab,#62009d,#70008f,#7e0081,#8b0074,#970068,#a2005d,#ab0054,#b3004c,#b90046,#bf0040,#c3003c,#c70038,#c80037,#c70038,#c2003d,#b90046,#ac0053,#9b0064,#870078,#70008f,#5800a7,#4000bf,#2a00d5,#1600e9,#0500fa,#0a0aff,#1616ff,#2020ff,#2a2aff,#3535ff,#4040ff,#4b4bff,#5858ff,#6565ff,#7272ff,#7f7fff,#8b8bff,#9696ff,#a1a1ff,#acacff,#b5b5ff,#bfbfff,#c8c8ff,#d0d0ff,#d8d8ff,#dfdfff,#e5e5ff,#eaeaff,#efefff,#f2f2ff,#f5f5ff,#f7f7ff,#f9f9ff,#fbfbff,#fcfcff,#fcfcff,#fdfdff,#fefeff,#fefeff,#fefeff,#fefeff,#ffffff,#ffffff,#ffffff,#ffffff,#ffffff,#ffffff,#ffffff,#ffffff,#ffffff,#ffffff,#ffffff,#ffffff,#ffffff,#ffffff,#ffffff,#ffffff,#ffffff,#ffffff,#ffffff,#ffffff,#ffffff,#ffffff,#ffffff,#ffffff,#ffffff,#ffffff,#ffffff)"></div>
<div style="left:252px;background-image:linear-gradient(#f7f7ff,#f4f4ff,#f0f0ff,#ebebff,#e5e5ff,#dedeff,#d5d5ff,#ccccff,#c0c0ff,#b3b3ff,#a4a4ff,#9494ff,#8383ff,#7373ff,#6464ff,#5858ff,#4d4dff,#4646ff,#3f3fff,#3a3aff,#3535ff,#3131ff,#2b2bff,#2525ff,#1c1cff,#1111ff,#0505ff,#0700f8,#1300ec,#1d00e2,#2400db,#2a00d5,#2e00d1,#3100ce,#3300cc,#3400cb,#3300cc,#3200cd,#3100ce,#3100ce,#3200cd,#3400cb,#3a00c5,#4100be,#4b00b4,#5700a8,#65009a,#72008d,#7f0080,#8c0073,#970068,#a1005e,#aa0055,#b1004e,#b80047,#be0041,#c2003d,#c60039,#c70038,#c60039,#c1003e,#b80047,#ab0054,#9a0065,#860079,#70008f,#5800a7,#4000bf,#2900d6,#1500ea,#0400fb,#0a0aff,#1717ff,#2121ff,#2b2bff,#3636ff,#4141ff,#4d4dff,#5959ff,#6767ff,#7474ff,#8181ff,#8d8dff,#9999ff,#a4a4ff,#aeaeff,#b7b7ff,#c0c0ff,#c9c9ff,#d1d1ff,#d9d9ff,#dfdfff,#e5e5ff,#eaeaff,#efefff,#f2f2ff,#f5f5ff,#f7f7ff,#f9f9ff,#fbfbff,#fcfcff,#fcfcff,#fdfdff,#fefeff,#fefeff,#fefeff,#fefeff,#ffffff,#ffffff,#ffffff,#ffffff,#ffffff,#ffffff,#ffffff,#ffffff,#ffffff,#ffffff,#ffffff,#ffffff,#ffffff,#ffffff,#ffffff,#ffffff,#ffffff,#ffffff,#ffffff,#ffffff,#ffffff,#ffffff,#ffffff,#ffffff,#ffffff,#ffffff,#ffffff)"></div>
<div style="left:256px;background-image:linear-gradient(#f7f7ff,#f4f4ff,#f0f0ff,#ebebff,#e5e5ff,#dedeff,#d5d5ff,#cbcbff,#c0c0ff,#b2b2ff,#a3a3ff,#9393ff,#8181ff,#7171ff,#6262ff,#5555ff,#4a4aff,#4242ff,#3b3bff,#3636ff,#3131ff,#2d2dff,#2828ff,#2121ff,#1919ff,#0e0eff,#0202ff,#0b00f4,#1600e9,#2000df,#2800d7,#2d00d2,#3200cd,#3500ca,#3700c8,#3700c8,#3700c8,#3700c8,#3700c8,#3700c8,#3800c7,#3a00c5,#3f00c0,#4700b8,#5000af,#5b00a4,#680097,#74008b,#80007f,#8c0073,#970068,#a0005f,#a90056,#b0004f,#b70048,#bc0043,#c1003e,#c5003a,#c60039,#c5003a,#c0003f,#b80047,#ab0054,#9a0065,#860079,#70008f,#5800a7,#4000bf,#2a00d5,#1600e9,#0400fb,#0a0aff,#1616ff,#2121ff,#2c2cff,#3636ff,#4242ff,#4e4eff,#5b5bff,#6969ff,#7777ff,#8484ff,#9090ff,#9c9cff,#a6a6ff,#b0b0ff,#b9b9ff,#c2c2ff,#cacaff,#d2d2ff,#d9d9ff,#e0e0ff,#e6e6ff,#ebebff,#efefff,#f2f2ff,#f5f5ff,#f7f7ff,#f9f9ff,#fbfbff,#fcfcff,#fcfcff,#fdfdff,#fefeff,#fefeff,#fefeff,#fefeff,#ffffff,#ffffff,#ffffff,#ffffff,#ffffff,#ffffff,#ffffff,#ffffff,#ffffff,#ffffff,#ffffff,#ffffff,#ffffff,#ffffff,#ffffff,#ffffff,#ffffff,#ffffff,#ffffff,#ffffff,#ffffff,#ffffff,#ffffff,#ffffff,#ffffff,#ffffff,#ffffff)"></div>
<div style="left:260px;background-image:linear-gradient(#f7f7ff,#f4f4ff,#f0f0ff,#ebebff,#e5e5ff,#dedeff,#d5d5ff,#cbcbff,#c0c0ff,#b2b2ff,#a3a3ff,#9292ff,#8080ff,#6f6fff,#5f5fff,#5252ff,#4747ff,#3e3eff,#3838ff,#3232ff,#2d2dff,#2929ff,#2424ff,#1e1eff,#1515ff,#0b0bff,#0100fe,#0e00f1,#1900e6,#2300dc,#2b00d4,#3000cf,#3500ca,#3800c7,#3a00c5,#3b00c4,#3c00c3,#3c00c3,#3c00c3,#3c00c3,#3e00c1,#4100be,#4500ba,#4c00b3,#5500aa,#60009f,#6b0094,#760089,#82007d,#8c0073,#960069,#9f0060,#a80057,#af0050,#b5004a,#bb0044,#c0003f,#c3003c,#c5003a,#c4003b,#c0003f,#b70048,#ab0054,#9a0065,#860079,#70008f,#5800a7,#4100be,#2b00d4,#1700e8,#0500fa,#0909ff,#1616ff,#2121ff,#2c2cff,#3737ff,#4343ff,#4f4fff,#5d5dff,#6b6bff,#7979ff,#8787ff,#9393ff,#9f9fff,#a9a9ff,#b3b3ff,#bcbcff,#c4c4ff,#ccccff,#d3d3ff,#dadaff,#e0e0ff,#e6e6ff,#ebebff,#efefff,#f2f2ff,#f5f5ff,#f7f7ff,#f9f9ff,#fbfbff,#fcfcff,#fcfcff,#fdfdff,#fefeff,#fefeff,#fefeff,#fefeff,#ffffff,#ffffff,#ffffff,#ffffff,#ffffff,#ffffff,#ffffff,#ffffff,#ffffff,#ffffff,#ffffff,#ffffff,#ffffff,#ffffff,#ffffff,#ffffff,#ffffff,#ffffff,#ffffff,#ffffff,#ffffff,#ffffff,#ffffff,#ffffff,#ffffff,#ffffff,#ffffff)"></div>
<div style="left:264px;background-image:linear-gradient(#f7f7ff,#f4f4ff,#f0f0ff,#ebebff,#e5e5ff,#ddddff,#d5d5ff,#cbcbff,#bfbfff,#b2b2ff,#a2a2ff,#9191ff,#7f7fff,#6d6dff,#5d5dff,#4f4fff,#4444ff,#3b3bff,#3434ff,#2e2eff,#2a2aff,#2525ff,#2121ff,#1b1bff,#1212ff,#0808ff,#0400fb,#1000ef,#1c00e3,#2600d9,#2d00d2,#3300cc,#3800c7,#3b00c4,#3d00c2,#3f00c0,#3f00c0,#4000bf,#4100be,#4200bd,#4400bb,#4700b8,#4c00b3,#5200ad,#5a00a5,#64009b,#6e0091,#780087,#83007c,#8d0072,#960069,#9e0061,#a60059,#ad0052,#b4004b,#b90046,#be0041,#c2003d,#c4003b,#c3003c,#bf0040,#b70048,#ab0054,#9a0065,#870078,#71008e,#5a00a5,#4200bd,#2c00d3,#1800e7,#0700f8,#0808ff,#1414ff,#2020ff,#2b2bff,#3737ff,#4343ff,#5050ff,#5f5fff,#6d6dff,#7c7cff,#8a8aff,#9696ff,#a2a2ff,#acacff,#b6b6ff,#bebeff,#c6c6ff,#cdcdff,#d4d4ff,#dbdbff,#e1e1ff,#e6e6ff,#ebebff,#efefff,#f2f2ff,#f5f5ff,#f7f7ff,#f9f9ff,#fbfbff,#fcfcff,#fcfcff,#fdfdff,#fefeff,#fefeff,#fefeff,#fefeff,#ffffff,#ffffff,#ffffff,#ffffff,#ffffff,#ffffff,#ffffff,#ffffff,#ffffff,#ffffff,#ffffff,#ffffff,#ffffff,#ffffff,#ffffff,#ffffff,#ffffff,#ffffff,#ffffff,#ffffff,#ffffff,#ffffff,#ffffff,#ffffff,#ffffff,#ffffff,#ffffff)"></div>
<div style="left:268px;background-image:linear-gradient(#f7f7ff,#f4f4ff,#f0f0ff,#ebebff,#e5e5ff,#ddddff,#d5d5ff,#cbcbff,#bfbfff,#b1b1ff,#a1a1ff,#9090ff,#7e7eff,#6c6cff,#5b5bff,#4d4dff,#4141ff,#3838ff,#3131ff,#2b2bff,#2626ff,#2222ff,#1e1eff,#1818ff,#1010ff,#0606ff,#0600f9,#1300ec,#1e00e1,#2800d7,#2f00d0,#3500ca,#3a00c5,#3d00c2,#4000bf,#4200bd,#4300bc,#4400bb,#4500ba,#4700b8,#4900b6,#4d00b2,#5100ae,#5700a8,#5f00a0,#670098,#71008e,#7a0085,#84007b,#8d0072,#95006a,#9d0062,#a5005a,#ac0053,#b2004d,#b80047,#bd0042,#c1003e,#c3003c,#c2003d,#be0041,#b60049,#ab0054,#9b0064,#880077,#72008d,#5b00a4,#4400bb,#2f00d0,#1b00e4,#0a00f5,#0505ff,#1212ff,#1e1eff,#2a2aff,#3636ff,#4444ff,#5252ff,#6060ff,#7070ff,#7f7fff,#8d8dff,#9a9aff,#a5a5ff,#afafff,#b8b8ff,#c0c0ff,#c8c8ff,#cfcfff,#d5d5ff,#dcdcff,#e1e1ff,#e6e6ff,#ebebff,#efefff,#f2f2ff,#f5f5ff,#f7f7ff,#f9f9ff,#fbfbff,#fcfcff,#fcfcff,#fdfdff,#fefeff,#fefeff,#fefeff,#fefeff,#ffffff,#ffffff,#ffffff,#ffffff,#ffffff,#ffffff,#ffffff,#ffffff,#ffffff,#ffffff,#ffffff,#ffffff,#ffffff,#ffffff,#ffffff,#ffffff,#ffffff,#ffffff,#ffffff,#ffffff,#ffffff,#ffffff,#ffffff,#ffffff,#ffffff,#ffffff,#ffffff)"></div>
<div style="left:272px;background-image:linear-gradient(#f7f7ff,#f4f4ff,#f0f0ff,#ebebff,#e5e5ff,#ddddff,#d5d5ff,#cbcbff,#bfbfff,#b1b1ff,#a1a1ff,#8f8fff,#7d7dff,#6a6aff,#5a5aff,#4b4bff,#3f3fff,#3535ff,#2e2eff,#2828ff,#2424ff,#2020ff,#1b1bff,#1616ff,#0e0eff,#0404ff,#0800f7,#1400eb,#2000df,#2900d6,#3100ce,#3700c8,#3c00c3,#3f00c0,#4200bd,#4400bb,#4600b9,#4700b8,#4900b6,#4b00b4,#4e00b1,#5200ad,#5600a9,#5c00a3,#63009c,#6b0094,#73008c,#7c0083,#84007b,#8c0073,#94006b,#9c0063,#a3005c,#aa0055,#b0004f,#b60049,#bb0044,#bf0040,#c1003e,#c1003e,#be0041,#b60049,#ab0054,#9b0064,#890076,#74008b,#5d00a2,#4700b8,#3200cd,#1e00e1,#0d00f2,#0202ff,#1010ff,#1c1cff,#2929ff,#3636ff,#4444ff,#5252ff,#6262ff,#7272ff,#8181ff,#9090ff,#9d9dff,#a8a8ff,#b2b2ff,#bbbbff,#c3c3ff,#cacaff,#d0d0ff,#d6d6ff,#dcdcff,#e2e2ff,#e7e7ff,#ebebff,#efefff,#f2f2ff,#f5f5ff,#f8f8ff,#f9f9ff,#fbfbff,#fcfcff,#fcfcff,#fdfdff,#fefeff,#fefeff,#fefeff,#fefeff,#ffffff,#ffffff,#ffffff,#ffffff,#ffffff,#ffffff,#ffffff,#ffffff,#ffffff,#ffffff,#ffffff,#ffffff,#ffffff,#ffffff,#ffffff,#ffffff,#ffffff,#ffffff,#ffffff,#ffffff,#ffffff,#ffffff,#ffffff,#ffffff,#ffffff,#ffffff,#ffffff)"></div>
<div style="left:276px;background-image:linear-gradient(#f7f7ff,#f4f4ff,#f0f0ff,#ebebff,#e5e5ff,#ddddff,#d5d5ff,#cbcbff,#bfbfff,#b1b1ff,#a1a1ff,#8f8fff,#7c7cff,#6969ff,#5858ff,#4949ff,#3d3dff,#3333ff,#2c2cff,#2626ff,#2222ff,#1e1eff,#1919ff,#1414ff,#0c0cff,#0202ff,#0900f6,#1500ea,#2100de,#2a00d5,#3200cd,#3800c7,#3d00c2,#4000bf,#4300bc,#4600b9,#4800b7,#4a00b5,#4c00b3,#4f00b0,#5200ad,#5600a9,#5a00a5,#60009f,#660099,#6d0092,#75008a,#7d0082,#85007a,#8c0073,#93006c,#9b0064,#a2005d,#a80057,#ae0051,#b4004b,#b90046,#be0041,#c0003f,#c0003f,#bd0042,#b60049,#ab0054,#9c0063,#8a0075,#75008a,#60009f,#4a00b5,#3500ca,#2200dd,#1000ef,#0100fe,#0d0dff,#1a1aff,#2727ff,#3535ff,#4444ff,#5353ff,#6363ff,#7474ff,#8484ff,#9393ff,#a0a0ff,#acacff,#b5b5ff,#bebeff,#c5c5ff,#ccccff,#d2d2ff,#d8d8ff,#ddddff,#e2e2ff,#e7e7ff,#ebebff,#efefff,#f3f3ff,#f5f5ff,#f8f8ff,#f9f9ff,#fbfbff,#fcfcff,#fcfcff,#fdfdff,#fefeff,#fefeff,#fefeff,#fefeff,#ffffff,#ffffff,#ffffff,#ffffff,#ffffff,#ffffff,#ffffff,#ffffff,#ffffff,#ffffff,#ffffff,#ffffff,#ffffff,#ffffff,#ffffff,#ffffff,#ffffff,#ffffff,#ffffff,#ffffff,#ffffff,#ffffff,#ffffff,#ffffff,#ffffff,#ffffff,#ffffff)"></div>
<div style="left:280px;background-image:linear-gradient(#f7f7ff,#f4f4ff,#f0f0ff,#ebebff,#e5e5ff,#ddddff,#d5d5ff,#cbcbff,#bfbfff,#b1b1ff,#a0a0ff,#8e8eff,#7b7bff,#6969ff,#5757ff,#4848ff,#3c3cff,#3232ff,#2a2aff,#2525ff,#2020ff,#1c1cff,#1818ff,#1313ff,#0b0bff,#0202ff,#0a00f5,#1600e9,#2100de,#2b00d4,#3300cc,#3800c7,#3d00c2,#4100be,#4400bb,#4700b8,#4900b6,#4c00b3,#4f00b0,#5200ad,#5500aa,#5900a6,#5e00a1,#63009c,#690096,#70008f,#770088,#7e0081,#85007a,#8c0073,#92006d,#990066,#a0005f,#a60059,#ad0052,#b2004d,#b80047,#bc0043,#bf0040,#bf0040,#bc0043,#b60049,#ab0054,#9d0062,#8b0074,#770088,#62009d,#4d00b2,#3800c7,#2500da,#1400eb,#0500fa,#0a0aff,#1717ff,#2525ff,#3434ff,#4444ff,#5454ff,#6565ff,#7676ff,#8686ff,#9595ff,#a3a3ff,#afafff,#b8b8ff,#c0c0ff,#c7c7ff,#ceceff,#d3d3ff,#d9d9ff,#dedeff,#e3e3ff,#e7e7ff,#ececff,#efefff,#f3f3ff,#f5f5ff,#f8f8ff,#f9f9ff,#fbfbff,#fcfcff,#fcfcff,#fdfdff,#fefeff,#fefeff,#fefeff,#fefeff,#ffffff,#ffffff,#ffffff,#ffffff,#ffffff,#ffffff,#ffffff,#ffffff,#ffffff,#ffffff,#ffffff,#ffffff,#ffffff,#ffffff,#ffffff,#ffffff,#ffffff,#ffffff,#ffffff,#ffffff,#ffffff,#ffffff,#ffffff,#ffffff,#ffffff,#ffffff,#ffffff)"></div>
<div style="left:284px;background-image:linear-gradient(#f7f7ff,#f4f4ff,#f0f0ff,#ebebff,#e5e5ff,#ddddff,#d5d5ff,#cbcbff,#bfbfff,#b1b1ff,#a0a0ff,#8e8eff,#7b7bff,#6868ff,#5757ff,#4848ff,#3b3bff,#3131ff,#2a2aff,#2424ff,#2020ff,#1c1cff,#1818ff,#1313ff,#0b0bff,#0101ff,#0a00f5,#1600e9,#2100de,#2b00d4,#3200cd,#3800c7,#3d00c2,#4100be,#4400bb,#4700b8,#4a00b5,#4d00b2,#5000af,#5400ab,#5800a7,#5c00a3,#60009f,#65009a,#6b0094,#71008e,#780087,#7e0081,#84007b,#8b0074,#91006e,#980067,#9e0061,#a5005a,#ab0054,#b1004e,#b60049,#bb0044,#be0041,#bf0040,#bc0043,#b5004a,#ab0054,#9d0062,#8c0073,#790086,#65009a,#5000af,#3c00c3,#2900d6,#1800e7,#0800f7,#0606ff,#1515ff,#2323ff,#3333ff,#4343ff,#5454ff,#6666ff,#7878ff,#8888ff,#9898ff,#a6a6ff,#b1b1ff,#bbbbff,#c3c3ff,#c9c9ff,#cfcfff,#d4d4ff,#d9d9ff,#dedeff,#e3e3ff,#e8e8ff,#ececff,#efefff,#f3f3ff,#f5f5ff,#f8f8ff,#f9f9ff,#fbfbff,#fcfcff,#fcfcff,#fdfdff,#fefeff,#fefeff,#fefeff,#fefeff,#ffffff,#ffffff,#ffffff,#ffffff,#ffffff,#ffffff,#ffffff,#ffffff,#ffffff,#ffffff,#ffffff,#ffffff,#ffffff,#ffffff,#ffffff,#ffffff,#ffffff,#ffffff,#ffffff,#ffffff,#ffffff,#ffffff,#ffffff,#ffffff,#ffffff,#ffffff,#ffffff)"></div>
<div style="left:288px;background-image:linear-gradient(#f7f7ff,#f4f4ff,#f0f0ff,#ebebff,#e5e5ff,#ddddff,#d5d5ff,#cbcbff,#bfbfff,#b1b1ff,#a0a0ff,#8e8eff,#7b7bff,#6868ff,#5757ff,#4848ff,#3b3bff,#3131ff,#2a2aff,#2424ff,#2020ff,#1c1cff,#1818ff,#1313ff,#0c0cff,#0202ff,#0900f6,#1500ea,#2000df,#2a00d5,#3100ce,#3700c8,#3c00c3,#4000bf,#4400bb,#4700b8,#4a00b5,#4d00b2,#5100ae,#5500aa,#5900a6,#5d00a2,#62009d,#670098,#6d0092,#72008d,#780087,#7e0081,#84007b,#8a0075,#90006f,#970068,#9d0062,#a3005c,#a90056,#af0050,#b5004a,#ba0045,#bd0042,#be0041,#bb0044,#b5004a,#ab0054,#9e0061,#8e0071,#7b0084,#670098,#5300ac,#3f00c0,#2d00d2,#1c00e3,#0c00f3,#0303ff,#1212ff,#2222ff,#3232ff,#4343ff,#5555ff,#6767ff,#7979ff,#8a8aff,#9a9aff,#a8a8ff,#b4b4ff,#bdbdff,#c5c5ff,#cbcbff,#d1d1ff,#d6d6ff,#dadaff,#dfdfff,#e4e4ff,#e8e8ff,#ececff,#f0f0ff,#f3f3ff,#f5f5ff,#f8f8ff,#f9f9ff,#fbfbff,#fcfcff,#fcfcff,#fdfdff,#fefeff,#fefeff,#fefeff,#fefeff,#ffffff,#ffffff,#ffffff,#ffffff,#ffffff,#ffffff,#ffffff,#ffffff,#ffffff,#ffffff,#ffffff,#ffffff,#ffffff,#ffffff,#ffffff,#ffffff,#ffffff,#ffffff,#ffffff,#ffffff,#ffffff,#ffffff,#ffffff,#ffffff,#ffffff,#ffffff,#ffffff)"></div>
<div style="left:292px;background-image:linear-gradient(#f7f7ff,#f4f4ff,#f0f0ff,#ebebff,#e5e5ff,#ddddff,#d5d5ff,#cbcbff,#bfbfff,#b1b1ff,#a0a0ff,#8e8eff,#7b7bff,#6969ff,#5757ff,#4848ff,#3c3cff,#3232ff,#2b2bff,#2525ff,#2121ff,#1d1dff,#1919ff,#1414ff,#0d0dff,#0303ff,#0800f7,#1400eb,#1f00e0,#2800d7,#3000cf,#3600c9,#3b00c4,#3f00c0,#4300bc,#4600b9,#4900b6,#4d00b2,#5100ae,#5500aa,#5a00a5,#5e00a1,#63009c,#680097,#6d0092,#73008c,#790086,#7e0081,#84007b,#8a0075,#8f0070,#95006a,#9c0063,#a2005d,#a80057,#ae0051,#b4004b,#b90046,#bc0043,#bd0042,#bb0044,#b5004a,#ac0053,#9f0060,#8f0070,#7d0082,#6a0095,#5600a9,#4300bc,#3100ce,#2000df,#1000ef,#0000ff,#1010ff,#2020ff,#3131ff,#4242ff,#5555ff,#6868ff,#7a7aff,#8c8cff,#9c9cff,#aaaaff,#b5b5ff,#bfbfff,#c6c6ff,#cdcdff,#d2d2ff,#d6d6ff,#dbdbff,#dfdfff,#e4e4ff,#e8e8ff,#ececff,#f0f0ff,#f3f3ff,#f5f5ff,#f8f8ff,#f9f9ff,#fbfbff,#fcfcff,#fcfcff,#fdfdff,#fefeff,#fefeff,#fefeff,#fefeff,#ffffff,#ffffff,#ffffff,#ffffff,#ffffff,#ffffff,#ffffff,#ffffff,#ffffff,#ffffff,#ffffff,#ffffff,#ffffff,#ffffff,#ffffff,#ffffff,#ffffff,#ffffff,#ffffff,#ffffff,#ffffff,#ffffff,#ffffff,#ffffff,#ffffff,#ffffff,#ffffff)"></div>
<div style="left:296px;background-image:linear-gradient(#f7f7ff,#f4f4ff,#f0f0ff,#ebebff,#e5e5ff,#ddddff,#d5d5ff,#cbcbff,#bfbfff,#b1b1ff,#a1a1ff,#8f8fff,#7c7cff,#6969ff,#5858ff,#4949ff,#3d3dff,#3434ff,#2c2cff,#2727ff,#2323ff,#1f1fff,#1b1bff,#1616ff,#0f0fff,#0505ff,#0600f9,#1200ed,#1d00e2,#2600d9,#2e00d1,#3400cb,#3900c6,#3d00c2,#4100be,#4500ba,#4800b7,#4c00b3,#5000af,#5500aa,#5a00a5,#5f00a0,#64009b,#690096,#6e0091,#73008c,#790086,#7e0081,#83007c,#890076,#8f0070,#95006a,#9b0064,#a1005e,#a70058,#ad0052,#b3004c,#b80047,#bb0044,#bd0042,#bb0044,#b5004a,#ac0053,#a0005f,#90006f,#7f0080,#6c0093,#5900a6,#4600b9,#3400cb,#2300dc,#1300ec,#0300fc,#0d0dff,#1e1eff,#2f2fff,#4242ff,#5555ff,#6868ff,#7b7bff,#8d8dff,#9d9dff,#ababff,#b7b7ff,#c0c0ff,#c8c8ff,#ceceff,#d3d3ff,#d7d7ff,#dbdbff,#e0e0ff,#e4e4ff,#e8e8ff,#ececff,#f0f0ff,#f3f3ff,#f5f5ff,#f8f8ff,#f9f9ff,#fbfbff,#fcfcff,#fcfcff,#fdfdff,#fefeff,#fefeff,#fefeff,#fefeff,#ffffff,#ffffff,#ffffff,#ffffff,#ffffff,#ffffff,#ffffff,#ffffff,#ffffff,#ffffff,#ffffff,#ffffff,#ffffff,#ffffff,#ffffff,#ffffff,#ffffff,#ffffff,#ffffff,#ffffff,#ffffff,#ffffff,#ffffff,#ffffff,#ffffff,#ffffff,#ffffff)"></div>
<div style="left:300px;background-image:linear-gradient(#f7f7ff,#f4f4ff,#f0f0ff,#ebebff,#e5e5ff,#ddddff,#d5d5ff,#cbcbff,#bfbfff,#b1b1ff,#a1a1ff,#8f8fff,#7d7dff,#6a6aff,#5a5aff,#4b4bff,#3f3fff,#3636ff,#2f2fff,#2929ff,#2525ff,#2121ff,#1d1dff,#1818ff,#1111ff,#0707ff,#0400fb,#0f00f0,#1a00e5,#2400db,#2b00d4,#3100ce,#3600c9,#3b00c4,#3f00c0,#4300bc,#4700b8,#4b00b4,#4f00b0,#5400ab,#5900a6,#5e00a1,#63009c,#690096,#6e0091,#73008c,#790086,#7e0081,#83007c,#890076,#8e0071,#94006b,#9a0065,#a0005f,#a60059,#ac0053,#b2004d,#b70048,#bb0044,#bd0042,#bb0044,#b5004a,#ad0052,#a0005f,#91006e,#80007f,#6e0091,#5b00a4,#4900b6,#3700c8,#2600d9,#1600e9,#0600f9,#0b0bff,#1c1cff,#2e2eff,#4141ff,#5454ff,#6868ff,#7b7bff,#8d8dff,#9d9dff,#ababff,#b7b7ff,#c1c1ff,#c8c8ff,#ceceff,#d3d3ff,#d7d7ff,#dcdcff,#e0e0ff,#e4e4ff,#e8e8ff,#ececff,#f0f0ff,#f3f3ff,#f5f5ff,#f8f8ff,#f9f9ff,#fbfbff,#fcfcff,#fcfcff,#fdfdff,#fefeff,#fefeff,#fefeff,#fefeff,#ffffff,#ffffff,#ffffff,#ffffff,#ffffff,#ffffff,#ffffff,#ffffff,#ffffff,#ffffff,#ffffff,#ffffff,#ffffff,#ffffff,#ffffff,#ffffff,#ffffff,#ffffff,#ffffff,#ffffff,#ffffff,#ffffff,#ffffff,#ffffff,#ffffff,#ffffff,#ffffff)"></div>
<div style="left:304px;background-image:linear-gradient(#f7f7ff,#f4f4ff,#f0f0ff,#ebebff,#e5e5ff,#ddddff,#d5d5ff,#cbcbff,#bfbfff,#b1b1ff,#a1a1ff,#9090ff,#7e7eff,#6c6cff,#5b5bff,#4d4dff,#4141ff,#3838ff,#3232ff,#2c2cff,#2828ff,#2424ff,#2020ff,#1b1bff,#1414ff,#0a0aff,#0100fe,#0d00f2,#1700e8,#2100de,#2800d7,#2e00d1,#3300cc,#3800c7,#3c00c3,#4000bf,#4400bb,#4900b6,#4e00b1,#5300ac,#5800a7,#5e00a1,#63009c,#680097,#6e0091,#73008c,#780087,#7e0081,#83007c,#880077,#8e0071,#94006b,#9a0065,#a0005f,#a60059,#ac0053,#b2004d,#b70048,#bb0044,#bd0042,#bb0044,#b60049,#ad0052,#a1005e,#92006d,#82007d,#70008f,#5d00a2,#4b00b4,#3a00c5,#2900d6,#1800e7,#0800f7,#0909ff,#1a1aff,#2d2dff,#4040ff,#5454ff,#6767ff,#7b7bff,#8d8dff,#9d9dff,#ababff,#b7b7ff,#c1c1ff,#c8c8ff,#ceceff,#d3d3ff,#d7d7ff,#dcdcff,#e0e0ff,#e4e4ff,#e8e8ff,#ececff,#f0f0ff,#f3f3ff,#f5f5ff,#f8f8ff,#f9f9ff,#fbfbff,#fcfcff,#fcfcff,#fdfdff,#fefeff,#fefeff,#fefeff,#fefeff,#ffffff,#ffffff,#ffffff,#ffffff,#ffffff,#ffffff,#ffffff,#ffffff,#ffffff,#ffffff,#ffffff,#ffffff,#ffffff,#ffffff,#ffffff,#ffffff,#ffffff,#ffffff,#ffffff,#ffffff,#ffffff,#ffffff,#ffffff,#ffffff,#ffffff,#ffffff,#ffffff)"></div>
<div style="left:308px;background-image:linear-gradient(#f7f7ff,#f4f4ff,#f0f0ff,#ebebff,#e5e5ff,#ddddff,#d5d5ff,#cbcbff,#bfbfff,#b1b1ff,#a2a2ff,#9090ff,#7f7fff,#6d6dff,#5d5dff,#4f4fff,#4444ff,#3b3bff,#3535ff,#3030ff,#2b2bff,#2828ff,#2323ff,#1e1eff,#1717ff,#0d0dff,#0202ff,#0900f6,#1400eb,#1d00e2,#2500da,#2b00d4,#3000cf,#3500ca,#3900c6,#3d00c2,#4200bd,#4700b8,#4c00b3,#5200ad,#5700a8,#5d00a2,#62009d,#680097,#6d0092,#73008c,#780087,#7e0081,#83007c,#880077,#8e0071,#94006b,#9a0065,#a0005f,#a60059,#ac0053,#b2004d,#b70048,#bb0044,#bd0042,#bb0044,#b60049,#ae0051,#a2005d,#93006c,#83007c,#71008e,#5f00a0,#4d00b2,#3c00c3,#2b00d4,#1b00e4,#0a00f5,#0707ff,#1919ff,#2c2cff,#3f3fff,#5353ff,#6767ff,#7a7aff,#8c8cff,#9d9dff,#ababff,#b7b7ff,#c0c0ff,#c8c8ff,#ceceff,#d3d3ff,#d7d7ff,#dcdcff,#e0e0ff,#e4e4ff,#e8e8ff,#ececff,#f0f0ff,#f3f3ff,#f5f5ff,#f8f8ff,#f9f9ff,#fbfbff,#fcfcff,#fcfcff,#fdfdff,#fefeff,#fefeff,#fefeff,#fefeff,#ffffff,#ffffff,#ffffff,#ffffff,#ffffff,#ffffff,#ffffff,#ffffff,#ffffff,#ffffff,#ffffff,#ffffff,#ffffff,#ffffff,#ffffff,#ffffff,#ffffff,#ffffff,#ffffff,#ffffff,#ffffff,#ffffff,#ffffff,#ffffff,#ffffff,#ffffff,#ffffff)"></div>
<div style="left:312px;background-image:linear-gradient(#f7f7ff,#f4f4ff,#f0f0ff,#ebebff,#e5e5ff,#ddddff,#d5d5ff,#cbcbff,#bfbfff,#b2b2ff,#a2a2ff,#9191ff,#8080ff,#6f6fff,#5f5fff,#5252ff,#4747ff,#3f3fff,#3838ff,#3333ff,#2f2fff,#2b2bff,#2727ff,#2121ff,#1a1aff,#1111ff,#0505ff,#0600f9,#1100ee,#1a00e5,#2100de,#2700d8,#2c00d3,#3100ce,#3600c9,#3a00c5,#3f00c0,#4400bb,#4a00b5,#5000af,#5600a9,#5c00a3,#62009d,#670098,#6d0092,#73008c,#780087,#7e0081,#83007c,#890076,#8e0071,#94006b,#9a0065,#a0005f,#a70058,#ad0052,#b3004c,#b80047,#bc0043,#bd0042,#bc0043,#b70048,#ae0051,#a3005c,#94006b,#84007b,#73008c,#61009e,#4f00b0,#3e00c1,#2d00d2,#1d00e2,#0c00f3,#0505ff,#1818ff,#2b2bff,#3e3eff,#5252ff,#6666ff,#7979ff,#8b8bff,#9b9bff,#aaaaff,#b5b5ff,#bfbfff,#c7c7ff,#cdcdff,#d2d2ff,#d7d7ff,#dbdbff,#e0e0ff,#e4e4ff,#e8e8ff,#ececff,#f0f0ff,#f3f3ff,#f5f5ff,#f8f8ff,#f9f9ff,#fbfbff,#fcfcff,#fcfcff,#fdfdff,#fefeff,#fefeff,#fefeff,#fefeff,#ffffff,#ffffff,#ffffff,#ffffff,#ffffff,#ffffff,#ffffff,#ffffff,#ffffff,#ffffff,#ffffff,#ffffff,#ffffff,#ffffff,#ffffff,#ffffff,#ffffff,#ffffff,#ffffff,#ffffff,#ffffff,#ffffff,#ffffff,#ffffff,#ffffff,#ffffff,#ffffff)"></div>
<div style="left:316px;background-image:linear-gradient(#f7f7ff,#f4f4ff,#f0f0ff,#ebebff,#e5e5ff,#ddddff,#d5d5ff,#cbcbff,#c0c0ff,#b2b2ff,#a3a3ff,#9292ff,#8181ff,#7070ff,#6161ff,#5454ff,#4a4aff,#4242ff,#3c3cff,#3737ff,#3333ff,#2f2fff,#2a2aff,#2525ff,#1d1dff,#1414ff,#0909ff,#0200fd,#0d00f2,#1600e9,#1e00e1,#2400db,#2900d6,#2e00d1,#3200cd,#3700c8,#3c00c3,#4200bd,#4800b7,#4e00b1,#5400ab,#5a00a5,#61009e,#670098,#6d0092,#72008d,#780087,#7e0081,#83007c,#890076,#8f0070,#95006a,#9b0064,#a1005e,#a80057,#ae0051,#b4004b,#b90046,#bd0042,#be0041,#bc0043,#b70048,#af0050,#a3005c,#95006a,#85007a,#74008b,#62009d,#5100ae,#4000bf,#2f00d0,#1e00e1,#0d00f2,#0404ff,#1616ff,#2929ff,#3d3dff,#5151ff,#6565ff,#7878ff,#8a8aff,#9a9aff,#a8a8ff,#b4b4ff,#bdbdff,#c5c5ff,#ccccff,#d1d1ff,#d6d6ff,#dbdbff,#dfdfff,#e4e4ff,#e8e8ff,#ececff,#f0f0ff,#f3f3ff,#f5f5ff,#f8f8ff,#f9f9ff,#fbfbff,#fcfcff,#fcfcff,#fdfdff,#fefeff,#fefeff,#fefeff,#fefeff,#ffffff,#ffffff,#ffffff,#ffffff,#ffffff,#ffffff,#ffffff,#ffffff,#ffffff,#ffffff,#ffffff,#ffffff,#ffffff,#ffffff,#ffffff,#ffffff,#ffffff,#ffffff,#ffffff,#ffffff,#ffffff,#ffffff,#ffffff,#ffffff,#ffffff,#ffffff,#ffffff)"></div>
<div style="left:320px;background-image:linear-gradient(#f7f7ff,#f4f4ff,#f0f0ff,#ebebff,#e5e5ff,#ddddff,#d5d5ff,#cbcbff,#c0c0ff,#b2b2ff,#a3a3ff,#9393ff,#8282ff,#7272ff,#6363ff,#5757ff,#4d4dff,#4545ff,#3f3fff,#3a3aff,#3636ff,#3232ff,#2e2eff,#2828ff,#2121ff,#1717ff,#0c0cff,#0101ff,#0900f6,#1200ed,#1a00e5,#2000df,#2500da,#2a00d5,#2f00d0,#3400cb,#3900c6,#3f00c0,#4500ba,#4c00b3,#5300ac,#5900a6,#60009f,#660099,#6c0093,#72008d,#780087,#7e0081,#84007b,#8a0075,#90006f,#960069,#9c0063,#a3005c,#a90056,#af0050,#b5004a,#ba0045,#be0041,#bf0040,#bd0042,#b80047,#b0004f,#a4005b,#960069,#860079,#75008a,#63009c,#5200ad,#4100be,#3000cf,#2000df,#0f00f0,#0303ff,#1515ff,#2828ff,#3c3cff,#4f4fff,#6363ff,#7676ff,#8888ff,#9898ff,#a6a6ff,#b2b2ff,#bbbbff,#c3c3ff,#cacaff,#d0d0ff,#d5d5ff,#dadaff,#dfdfff,#e3e3ff,#e8e8ff,#ececff,#f0f0ff,#f3f3ff,#f5f5ff,#f8f8ff,#f9f9ff,#fbfbff,#fcfcff,#fcfcff,#fdfdff,#fefeff,#fefeff,#fefeff,#fefeff,#ffffff,#ffffff,#ffffff,#ffffff,#ffffff,#ffffff,#ffffff,#ffffff,#ffffff,#ffffff,#ffffff,#ffffff,#ffffff,#ffffff,#ffffff,#ffffff,#ffffff,#ffffff,#ffffff,#ffffff,#ffffff,#ffffff,#ffffff,#ffffff,#ffffff,#ffffff,#ffffff)"></div>
<div style="left:324px;background-image:linear-gradient(#f7f7ff,#f4f4ff,#f0f0ff,#ebebff,#e5e5ff,#ddddff,#d5d5ff,#cbcbff,#c0c0ff,#b3b3ff,#a4a4ff,#9494ff,#8383ff,#7373ff,#6565ff,#5959ff,#5050ff,#4848ff,#4343ff,#3e3eff,#3a3aff,#3636ff,#3131ff,#2c2cff,#2424ff,#1b1bff,#1010ff,#0505ff,#0600f9,#0f00f0,#1600e9,#1c00e3,#2200dd,#2700d8,#2c00d3,#3100ce,#3700c8,#3d00c2,#4300bc,#4a00b5,#5100ae,#5800a7,#5f00a0,#65009a,#6c0093,#72008d,#790086,#7f0080,#85007a,#8b0074,#91006e,#970068,#9e0061,#a4005b,#ab0054,#b1004e,#b60049,#bb0044,#bf0040,#c0003f,#be0041,#b90046,#b0004f,#a5005a,#960069,#870078,#760089,#64009b,#5300ac,#4200bd,#3100ce,#2100de,#1000ef,#0202ff,#1414ff,#2727ff,#3b3bff,#4e4eff,#6161ff,#7474ff,#8686ff,#9595ff,#a3a3ff,#afafff,#b9b9ff,#c1c1ff,#c8c8ff,#ceceff,#d4d4ff,#d9d9ff,#dedeff,#e3e3ff,#e8e8ff,#ececff,#f0f0ff,#f3f3ff,#f5f5ff,#f8f8ff,#f9f9ff,#fbfbff,#fcfcff,#fcfcff,#fdfdff,#fefeff,#fefeff,#fefeff,#fefeff,#ffffff,#ffffff,#ffffff,#ffffff,#ffffff,#ffffff,#ffffff,#ffffff,#ffffff,#ffffff,#ffffff,#ffffff,#ffffff,#ffffff,#ffffff,#ffffff,#ffffff,#ffffff,#ffffff,#ffffff,#ffffff,#ffffff,#ffffff,#ffffff,#ffffff,#ffffff,#ffffff)"></div>
<div style="left:328px;background-image:linear-gradient(#f7f7ff,#f4f4ff,#f0f0ff,#ebebff,#e5e5ff,#ddddff,#d5d5ff,#cbcbff,#c0c0ff,#b3b3ff,#a4a4ff,#9494ff,#8484ff,#7575ff,#6767ff,#5b5bff,#5252ff,#4b4bff,#4646ff,#4141ff,#3d3dff,#3939ff,#3535ff,#2f2fff,#2828ff,#1e1eff,#1313ff,#0808ff,#0200fd,#0b00f4,#1200ed,#1900e6,#1e00e1,#2300dc,#2800d7,#2e00d1,#3400cb,#3a00c5,#4100be,#4800b7,#4f00b0,#5700a8,#5e00a1,#65009a,#6b0094,#72008d,#790086,#7f0080,#860079,#8c0073,#93006c,#990066,#a0005f,#a60059,#ad0052,#b3004c,#b80047,#bd0042,#c0003f,#c1003e,#bf0040,#ba0045,#b1004e,#a5005a,#970068,#870078,#760089,#65009a,#5400ab,#4300bc,#3200cd,#2100de,#1000ef,#0101ff,#1313ff,#2626ff,#3a3aff,#4d4dff,#6060ff,#7272ff,#8383ff,#9393ff,#a1a1ff,#adadff,#b7b7ff,#bfbfff,#c6c6ff,#cdcdff,#d3d3ff,#d8d8ff,#dedeff,#e3e3ff,#e7e7ff,#ececff,#efefff,#f3f3ff,#f5f5ff,#f8f8ff,#f9f9ff,#fbfbff,#fcfcff,#fcfcff,#fdfdff,#fefeff,#fefeff,#fefeff,#fefeff,#ffffff,#ffffff,#ffffff,#ffffff,#ffffff,#ffffff,#ffffff,#ffffff,#ffffff,#ffffff,#ffffff,#ffffff,#ffffff,#ffffff,#ffffff,#ffffff,#ffffff,#ffffff,#ffffff,#ffffff,#ffffff,#ffffff,#ffffff,#ffffff,#ffffff,#ffffff,#ffffff)"></div>
<div style="left:332px;background-image:linear-gradient(#f7f7ff,#f4f4ff,#f0f0ff,#ebebff,#e5e5ff,#ddddff,#d5d5ff,#cbcbff,#c0c0ff,#b3b3ff,#a5a5ff,#9595ff,#8585ff,#7676ff,#6969ff,#5d5dff,#5555ff,#4e4eff,#4949ff,#4444ff,#4040ff,#3c3cff,#3838ff,#3232ff,#2b2bff,#2121ff,#1616ff,#0b0bff,#0101ff,#0800f7,#0f00f0,#1500ea,#1a00e5,#2000df,#2500da,#2b00d4,#3100ce,#3800c7,#3f00c0,#4600b9,#4e00b1,#5500aa,#5d00a2,#64009b,#6b0094,#72008d,#790086,#80007f,#870078,#8e0071,#94006b,#9b0064,#a2005d,#a90056,#af0050,#b5004a,#ba0045,#bf0040,#c2003d,#c3003c,#c0003f,#bb0044,#b2004d,#a60059,#980067,#880077,#770088,#65009a,#5400ab,#4300bc,#3300cc,#2200dd,#1100ee,#0101ff,#1313ff,#2525ff,#3838ff,#4b4bff,#5e5eff,#7070ff,#8181ff,#9090ff,#9e9eff,#aaaaff,#b4b4ff,#bdbdff,#c4c4ff,#cbcbff,#d2d2ff,#d8d8ff,#ddddff,#e2e2ff,#e7e7ff,#ececff,#efefff,#f3f3ff,#f5f5ff,#f8f8ff,#f9f9ff,#fbfbff,#fcfcff,#fcfcff,#fdfdff,#fefeff,#fefeff,#fefeff,#fefeff,#ffffff,#ffffff,#ffffff,#ffffff,#ffffff,#ffffff,#ffffff,#ffffff,#ffffff,#ffffff,#ffffff,#ffffff,#ffffff,#ffffff,#ffffff,#ffffff,#ffffff,#ffffff,#ffffff,#ffffff,#ffffff,#ffffff,#ffffff,#ffffff,#ffffff,#ffffff,#ffffff)"></div>
<div style="left:336px;background-image:linear-gradient(#f7f7ff,#f4f4ff,#f0f0ff,#ebebff,#e5e5ff,#ddddff,#d5d5ff,#ccccff,#c0c0ff,#b3b3ff,#a5a5ff,#9595ff,#8686ff,#7777ff,#6a6aff,#5f5fff,#5757ff,#5050ff,#4b4bff,#4747ff,#4343ff,#3f3fff,#3a3aff,#3535ff,#2d2dff,#2424ff,#1919ff,#0e0eff,#0404ff,#0400fb,#0c00f3,#1200ed,#1700e8,#1d00e2,#2200dd,#2800d7,#2e00d1,#3500ca,#3d00c2,#4400bb,#4c00b3,#5400ab,#5c00a3,#64009b,#6b0094,#73008c,#7a0085,#81007e,#880077,#8f0070,#960069,#9d0062,#a4005b,#ab0054,#b1004e,#b70048,#bc0043,#c1003e,#c4003b,#c4003b,#c2003d,#bc0043,#b3004c,#a70058,#980067,#880077,#770088,#660099,#5500aa,#4400bb,#3300cc,#2200dd,#1100ee,#0000ff,#1212ff,#2525ff,#3737ff,#4a4aff,#5c5cff,#6e6eff,#7f7fff,#8e8eff,#9b9bff,#a7a7ff,#b1b1ff,#babaff,#c2c2ff,#cacaff,#d0d0ff,#d7d7ff,#ddddff,#e2e2ff,#e7e7ff,#ebebff,#efefff,#f3f3ff,#f5f5ff,#f8f8ff,#f9f9ff,#fbfbff,#fcfcff,#fcfcff,#fdfdff,#fefeff,#fefeff,#fefeff,#fefeff,#ffffff,#ffffff,#ffffff,#ffffff,#ffffff,#ffffff,#ffffff,#ffffff,#ffffff,#ffffff,#ffffff,#ffffff,#ffffff,#ffffff,#ffffff,#ffffff,#ffffff,#ffffff,#ffffff,#ffffff,#ffffff,#ffffff,#ffffff,#ffffff,#ffffff,#ffffff,#ffffff)"></div>
<div style="left:340px;background-image:linear-gradient(#f7f7ff,#f4f4ff,#f0f0ff,#ebebff,#e5e5ff,#dedeff,#d5d5ff,#ccccff,#c0c0ff,#b4b4ff,#a5a5ff,#9696ff,#8686ff,#7878ff,#6b6bff,#6161ff,#5959ff,#5252ff,#4d4dff,#4949ff,#4545ff,#4141ff,#3d3dff,#3737ff,#3030ff,#2626ff,#1c1cff,#1111ff,#0707ff,#0100fe,#0900f6,#0f00f0,#1400eb,#1a00e5,#1f00e0,#2500da,#2c00d3,#3300cc,#3b00c4,#4300bc,#4b00b4,#5300ac,#5b00a4,#63009c,#6b0094,#73008c,#7b0084,#82007d,#8a0075,#91006e,#980067,#a0005f,#a70058,#ad0052,#b4004b,#ba0045,#bf0040,#c3003c,#c60039,#c60039,#c3003c,#bd0042,#b3004c,#a70058,#990066,#880077,#770088,#660099,#5500aa,#4400bb,#3300cc,#2200dd,#1200ed,#0000ff,#1212ff,#2424ff,#3636ff,#4949ff,#5b5bff,#6c6cff,#7c7cff,#8b8bff,#9999ff,#a5a5ff,#afafff,#b8b8ff,#c1c1ff,#c8c8ff,#cfcfff,#d6d6ff,#dcdcff,#e2e2ff,#e7e7ff,#ebebff,#efefff,#f3f3ff,#f5f5ff,#f8f8ff,#f9f9ff,#fbfbff,#fcfcff,#fcfcff,#fdfdff,#fefeff,#fefeff,#fefeff,#fefeff,#ffffff,#ffffff,#ffffff,#ffffff,#ffffff,#ffffff,#ffffff,#ffffff,#ffffff,#ffffff,#ffffff,#ffffff,#ffffff,#ffffff,#ffffff,#ffffff,#ffffff,#ffffff,#ffffff,#ffffff,#ffffff,#ffffff,#ffffff,#ffffff,#ffffff,#ffffff,#ffffff)"></div>
<div style="left:344px;background-image:linear-gradient(#f7f7ff,#f4f4ff,#f0f0ff,#ebebff,#e5e5ff,#dedeff,#d5d5ff,#ccccff,#c0c0ff,#b4b4ff,#a5a5ff,#9696ff,#8787ff,#7979ff,#6c6cff,#6262ff,#5a5aff,#5454ff,#4f4fff,#4b4bff,#4747ff,#4343ff,#3f3fff,#3939ff,#3232ff,#2929ff,#1e1eff,#1414ff,#0a0aff,#0101ff,#0600f9,#0c00f3,#1100ee,#1700e8,#1d00e2,#2300dc,#2a00d5,#3100ce,#3900c6,#4100be,#4a00b5,#5200ad,#5a00a5,#63009c,#6b0094,#73008c,#7b0084,#83007c,#8b0074,#93006c,#9a0065,#a2005d,#a90056,#b0004f,#b60049,#bc0043,#c1003e,#c5003a,#c80037,#c80037,#c4003b,#be0041,#b4004b,#a80057,#990066,#880077,#770088,#660099,#5500aa,#4400bb,#3300cc,#2200dd,#1200ed,#0000ff,#1111ff,#2323ff,#3636ff,#4848ff,#5959ff,#6a6aff,#7a7aff,#8989ff,#9696ff,#a2a2ff,#adadff,#b6b6ff,#bfbfff,#c7c7ff,#ceceff,#d5d5ff,#dcdcff,#e1e1ff,#e7e7ff,#ebebff,#efefff,#f3f3ff,#f5f5ff,#f8f8ff,#f9f9ff,#fbfbff,#fcfcff,#fcfcff,#fdfdff,#fefeff,#fefeff,#fefeff,#fefeff,#ffffff,#ffffff,#ffffff,#ffffff,#ffffff,#ffffff,#ffffff,#ffffff,#ffffff,#ffffff,#ffffff,#ffffff,#ffffff,#ffffff,#ffffff,#ffffff,#ffffff,#ffffff,#ffffff,#ffffff,#ffffff,#ffffff,#ffffff,#ffffff,#ffffff,#ffffff,#ffffff)"></div>
<div style="left:348px;background-image:linear-gradient(#f7f7ff,#f4f4ff,#f0f0ff,#ebebff,#e5e5ff,#dedeff,#d5d5ff,#ccccff,#c1c1ff,#b4b4ff,#a6a6ff,#9797ff,#8787ff,#7979ff,#6d6dff,#6363ff,#5b5bff,#5555ff,#5151ff,#4d4dff,#4949ff,#4545ff,#4141ff,#3b3bff,#3434ff,#2b2bff,#2020ff,#1616ff,#0c0cff,#0404ff,#0300fc,#0900f6,#0f00f0,#1400eb,#1a00e5,#2100de,#2800d7,#2f00d0,#3700c8,#4000bf,#4800b7,#5100ae,#5a00a5,#62009d,#6b0094,#74008b,#7c0083,#84007b,#8d0072,#95006a,#9d0062,#a4005b,#ac0053,#b3004c,#b90046,#bf0040,#c3003c,#c70038,#c90036,#c90036,#c60039,#bf0040,#b5004a,#a80057,#990066,#880077,#770088,#660099,#5400ab,#4300bc,#3200cd,#2200dd,#1100ee,#0000ff,#1111ff,#2323ff,#3535ff,#4747ff,#5858ff,#6969ff,#7878ff,#8787ff,#9494ff,#a0a0ff,#ababff,#b4b4ff,#bdbdff,#c5c5ff,#cdcdff,#d4d4ff,#dbdbff,#e1e1ff,#e6e6ff,#ebebff,#efefff,#f3f3ff,#f5f5ff,#f8f8ff,#f9f9ff,#fbfbff,#fcfcff,#fcfcff,#fdfdff,#fefeff,#fefeff,#fefeff,#fefeff,#ffffff,#ffffff,#ffffff,#ffffff,#ffffff,#ffffff,#ffffff,#ffffff,#ffffff,#ffffff,#ffffff,#ffffff,#ffffff,#ffffff,#ffffff,#ffffff,#ffffff,#ffffff,#ffffff,#ffffff,#ffffff,#ffffff,#ffffff,#ffffff,#ffffff,#ffffff,#ffffff)"></div>
<div style="left:352px;background-image:linear-gradient(#f7f7ff,#f4f4ff,#f0f0ff,#ebebff,#e5e5ff,#dedeff,#d5d5ff,#ccccff,#c1c1ff,#b4b4ff,#a6a6ff,#9797ff,#8888ff,#7a7aff,#6e6eff,#6464ff,#5c5cff,#5656ff,#5252ff,#4e4eff,#4a4aff,#4747ff,#4242ff,#3d3dff,#3636ff,#2d2dff,#2222ff,#1818ff,#0e0eff,#0606ff,#0100fe,#0700f8,#0c00f3,#1200ed,#1800e7,#1f00e0,#2600d9,#2d00d2,#3600c9,#3e00c1,#4700b8,#5000af,#5900a6,#62009d,#6b0094,#74008b,#7d0082,#85007a,#8e0071,#970068,#9f0060,#a70058,#af0050,#b60049,#bc0043,#c1003e,#c60039,#c90036,#cb0034,#cb0034,#c70038,#c0003f,#b5004a,#a80057,#990066,#880077,#770088,#65009a,#5300ac,#4200bd,#3200cd,#2100de,#1100ee,#0000ff,#1111ff,#2323ff,#3535ff,#4646ff,#5757ff,#6767ff,#7777ff,#8585ff,#9292ff,#9e9eff,#a9a9ff,#b3b3ff,#bcbcff,#c4c4ff,#ccccff,#d4d4ff,#dbdbff,#e1e1ff,#e6e6ff,#ebebff,#efefff,#f3f3ff,#f5f5ff,#f8f8ff,#f9f9ff,#fbfbff,#fcfcff,#fcfcff,#fdfdff,#fefeff,#fefeff,#fefeff,#fefeff,#ffffff,#ffffff,#ffffff,#ffffff,#ffffff,#ffffff,#ffffff,#ffffff,#ffffff,#ffffff,#ffffff,#ffffff,#ffffff,#ffffff,#ffffff,#ffffff,#ffffff,#ffffff,#ffffff,#ffffff,#ffffff,#ffffff,#ffffff,#ffffff,#ffffff,#ffffff,#ffffff)"></div>
<div style="left:356px;background-image:linear-gradient(#f7f7ff,#f4f4ff,#f0f0ff,#ebebff,#e5e5ff,#dedeff,#d5d5ff,#ccccff,#c1c1ff,#b4b4ff,#a6a6ff,#9797ff,#8888ff,#7a7aff,#6e6eff,#6464ff,#5d5dff,#5757ff,#5353ff,#4f4fff,#4b4bff,#4848ff,#4343ff,#3e3eff,#3737ff,#2e2eff,#2424ff,#1a1aff,#1010ff,#0808ff,#0101ff,#0500fa,#0a00f5,#1000ef,#1600e9,#1d00e2,#2400db,#2c00d3,#3400cb,#3d00c2,#4600b9,#5000af,#5900a6,#62009d,#6b0094,#74008b,#7e0081,#870078,#90006f,#990066,#a1005e,#aa0055,#b1004e,#b80047,#be0041,#c4003b,#c80037,#cb0034,#cd0032,#cc0033,#c80037,#c0003f,#b60049,#a80057,#990066,#880077,#760089,#64009b,#5200ad,#4100be,#3100ce,#2000df,#1000ef,#0101ff,#1212ff,#2323ff,#3434ff,#4545ff,#5656ff,#6666ff,#7575ff,#8383ff,#9090ff,#9c9cff,#a7a7ff,#b1b1ff,#babaff,#c3c3ff,#cbcbff,#d3d3ff,#dadaff,#e1e1ff,#e6e6ff,#ebebff,#efefff,#f3f3ff,#f5f5ff,#f8f8ff,#f9f9ff,#fbfbff,#fcfcff,#fcfcff,#fdfdff,#fefeff,#fefeff,#fefeff,#fefeff,#ffffff,#ffffff,#ffffff,#ffffff,#ffffff,#ffffff,#ffffff,#ffffff,#ffffff,#ffffff,#ffffff,#ffffff,#ffffff,#ffffff,#ffffff,#ffffff,#ffffff,#ffffff,#ffffff,#ffffff,#ffffff,#ffffff,#ffffff,#ffffff,#ffffff,#ffffff,#ffffff)"></div>
<div style="left:360px;background-image:linear-gradient(#f7f7ff,#f4f4ff,#f0f0ff,#ebebff,#e5e5ff,#dedeff,#d5d5ff,#ccccff,#c1c1ff,#b4b4ff,#a6a6ff,#9797ff,#8888ff,#7a7aff,#6f6fff,#6565ff,#5d5dff,#5858ff,#5454ff,#5050ff,#4c4cff,#4949ff,#4545ff,#3f3fff,#3838ff,#2f2fff,#2626ff,#1b1bff,#1212ff,#0a0aff,#0303ff,#0300fc,#0800f7,#0e00f1,#1400eb,#1b00e4,#2200dd,#2a00d5,#3300cc,#3c00c3,#4600b9,#4f00b0,#5900a6,#62009d,#6b0094,#75008a,#7e0081,#880077,#91006e,#9b0064,#a4005b,#ac0053,#b4004b,#bb0044,#c1003e,#c60039,#cb0034,#cd0032,#cf0030,#cd0032,#c90036,#c1003e,#b60049,#a80057,#980067,#870078,#75008a,#63009c,#5100ae,#4000bf,#2f00d0,#1f00e0,#0f00f0,#0202ff,#1212ff,#2323ff,#3434ff,#4545ff,#5555ff,#6565ff,#7474ff,#8282ff,#8f8fff,#9b9bff,#a6a6ff,#b0b0ff,#b9b9ff,#c2c2ff,#cbcbff,#d3d3ff,#dadaff,#e0e0ff,#e6e6ff,#ebebff,#efefff,#f2f2ff,#f5f5ff,#f8f8ff,#f9f9ff,#fbfbff,#fcfcff,#fcfcff,#fdfdff,#fefeff,#fefeff,#fefeff,#fefeff,#ffffff,#ffffff,#ffffff,#ffffff,#ffffff,#ffffff,#ffffff,#ffffff,#ffffff,#ffffff,#ffffff,#ffffff,#ffffff,#ffffff,#ffffff,#ffffff,#ffffff,#ffffff,#ffffff,#ffffff,#ffffff,#ffffff,#ffffff,#ffffff,#ffffff,#ffffff,#ffffff)"></div>
<div style="left:364px;background-image:linear-gradient(#f7f7ff,#f4f4ff,#f0f0ff,#ebebff,#e5e5ff,#dedeff,#d5d5ff,#ccccff,#c1c1ff,#b4b4ff,#a6a6ff,#9797ff,#8888ff,#7b7bff,#6f6fff,#6565ff,#5e5eff,#5858ff,#5454ff,#5050ff,#4d4dff,#4949ff,#4545ff,#4040ff,#3939ff,#3131ff,#2727ff,#1d1dff,#1414ff,#0c0cff,#0505ff,#0100fe,#0700f8,#0c00f3,#1300ec,#1900e6,#2100de,#2900d6,#3200cd,#3b00c4,#4500ba,#4f00b0,#5800a7,#62009d,#6c0093,#75008a,#7f0080,#890076,#93006c,#9d0062,#a60059,#af0050,#b70048,#be0041,#c4003b,#c90036,#cd0032,#cf0030,#d0002f,#cf0030,#ca0035,#c1003e,#b60049,#a70058,#970068,#85007a,#73008c,#61009e,#4f00b0,#3e00c1,#2d00d2,#1d00e2,#0d00f2,#0303ff,#1313ff,#2424ff,#3434ff,#4545ff,#5555ff,#6464ff,#7373ff,#8181ff,#8e8eff,#9999ff,#a4a4ff,#afafff,#b8b8ff,#c2c2ff,#cacaff,#d2d2ff,#dadaff,#e0e0ff,#e6e6ff,#ebebff,#efefff,#f2f2ff,#f5f5ff,#f8f8ff,#f9f9ff,#fbfbff,#fcfcff,#fcfcff,#fdfdff,#fefeff,#fefeff,#fefeff,#fefeff,#ffffff,#ffffff,#ffffff,#ffffff,#ffffff,#ffffff,#ffffff,#ffffff,#ffffff,#ffffff,#ffffff,#ffffff,#ffffff,#ffffff,#ffffff,#ffffff,#ffffff,#ffffff,#ffffff,#ffffff,#ffffff,#ffffff,#ffffff,#ffffff,#ffffff,#ffffff,#ffffff)"></div>
<div style="left:368px;background-image:linear-gradient(#f7f7ff,#f4f4ff,#f0f0ff,#ebebff,#e5e5ff,#dedeff,#d5d5ff,#ccccff,#c1c1ff,#b4b4ff,#a6a6ff,#9797ff,#8989ff,#7b7bff,#6f6fff,#6565ff,#5e5eff,#5959ff,#5555ff,#5151ff,#4d4dff,#4a4aff,#4646ff,#4141ff,#3a3aff,#3232ff,#2828ff,#1e1eff,#1515ff,#0d0dff,#0606ff,#0101ff,#0500fa,#0b00f4,#1100ee,#1800e7,#2000df,#2800d7,#3100ce,#3a00c5,#4400bb,#4e00b1,#5800a7,#62009d,#6c0093,#760089,#80007f,#8b0074,#95006a,#9f0060,#a90056,#b2004d,#ba0045,#c1003e,#c70038,#cb0034,#cf0030,#d1002e,#d2002d,#d0002f,#ca0035,#c1003e,#b5004a,#a60059,#960069,#84007b,#71008e,#5e00a1,#4c00b3,#3b00c4,#2a00d5,#1a00e5,#0b00f4,#0505ff,#1515ff,#2525ff,#3535ff,#4545ff,#5454ff,#6464ff,#7272ff,#8080ff,#8d8dff,#9898ff,#a3a3ff,#aeaeff,#b8b8ff,#c1c1ff,#cacaff,#d2d2ff,#d9d9ff,#e0e0ff,#e6e6ff,#ebebff,#efefff,#f2f2ff,#f5f5ff,#f8f8ff,#f9f9ff,#fbfbff,#fcfcff,#fcfcff,#fdfdff,#fefeff,#fefeff,#fefeff,#fefeff,#ffffff,#ffffff,#ffffff,#ffffff,#ffffff,#ffffff,#ffffff,#ffffff,#ffffff,#ffffff,#ffffff,#ffffff,#ffffff,#ffffff,#ffffff,#ffffff,#ffffff,#ffffff,#ffffff,#ffffff,#ffffff,#ffffff,#ffffff,#ffffff,#ffffff,#ffffff,#ffffff)"></div>
<div style="left:372px;background-image:linear-gradient(#f7f7ff,#f4f4ff,#f0f0ff,#ebebff,#e5e5ff,#dedeff,#d5d5ff,#ccccff,#c1c1ff,#b4b4ff,#a6a6ff,#9797ff,#8989ff,#7b7bff,#6f6fff,#6666ff,#5e5eff,#5959ff,#5555ff,#5151ff,#4e4eff,#4b4bff,#4747ff,#4242ff,#3b3bff,#3333ff,#2929ff,#1f1fff,#1616ff,#0f0fff,#0808ff,#0202ff,#0400fb,#0900f6,#1000ef,#1700e8,#1e00e1,#2700d8,#3000cf,#3a00c5,#4400bb,#4e00b1,#5800a7,#62009d,#6c0093,#770088,#81007e,#8c0073,#970068,#a2005d,#ac0053,#b5004a,#bd0042,#c4003b,#ca0035,#ce0031,#d1002e,#d3002c,#d3002c,#d1002e,#cb0034,#c1003e,#b5004a,#a5005a,#94006b,#81007e,#6e0091,#5b00a4,#4900b6,#3800c7,#2700d8,#1700e8,#0800f7,#0707ff,#1616ff,#2626ff,#3535ff,#4545ff,#5454ff,#6363ff,#7171ff,#7f7fff,#8c8cff,#9797ff,#a2a2ff,#adadff,#b7b7ff,#c0c0ff,#c9c9ff,#d2d2ff,#d9d9ff,#e0e0ff,#e6e6ff,#ebebff,#efefff,#f2f2ff,#f5f5ff,#f8f8ff,#f9f9ff,#fbfbff,#fcfcff,#fcfcff,#fdfdff,#fefeff,#fefeff,#fefeff,#fefeff,#ffffff,#ffffff,#ffffff,#ffffff,#ffffff,#ffffff,#ffffff,#ffffff,#ffffff,#ffffff,#ffffff,#ffffff,#ffffff,#ffffff,#ffffff,#ffffff,#ffffff,#ffffff,#ffffff,#ffffff,#ffffff,#ffffff,#ffffff,#ffffff,#ffffff,#ffffff,#ffffff)"></div>
<div style="left:376px;background-image:linear-gradient(#f7f7ff,#f4f4ff,#f0f0ff,#ebebff,#e5e5ff,#dedeff,#d5d5ff,#ccccff,#c1c1ff,#b4b4ff,#a6a6ff,#9797ff,#8989ff,#7b7bff,#6f6fff,#6666ff,#5f5fff,#5959ff,#5555ff,#5252ff,#4e4eff,#4b4bff,#4747ff,#4242ff,#3c3cff,#3333ff,#2a2aff,#2020ff,#1717ff,#1010ff,#0909ff,#0303ff,#0200fd,#0800f7,#0e00f1,#1600e9,#1d00e2,#2600d9,#2f00d0,#3900c6,#4300bc,#4d00b2,#5700a8,#62009d,#6c0093,#770088,#82007d,#8e0071,#990066,#a4005b,#ae0051,#b80047,#c0003f,#c70038,#cc0033,#d1002e,#d3002c,#d5002a,#d5002a,#d1002e,#cb0034,#c1003e,#b4004b,#a4005b,#92006d,#7f0080,#6b0094,#5800a7,#4500ba,#3400cb,#2300dc,#1400eb,#0500fa,#0a0aff,#1818ff,#2727ff,#3636ff,#4545ff,#5454ff,#6363ff,#7171ff,#7e7eff,#8b8bff,#9797ff,#a2a2ff,#acacff,#b6b6ff,#c0c0ff,#c9c9ff,#d1d1ff,#d9d9ff,#e0e0ff,#e6e6ff,#ebebff,#efefff,#f2f2ff,#f5f5ff,#f8f8ff,#f9f9ff,#fbfbff,#fcfcff,#fcfcff,#fdfdff,#fefeff,#fefeff,#fefeff,#fefeff,#ffffff,#ffffff,#ffffff,#ffffff,#ffffff,#ffffff,#ffffff,#ffffff,#ffffff,#ffffff,#ffffff,#ffffff,#ffffff,#ffffff,#ffffff,#ffffff,#ffffff,#ffffff,#ffffff,#ffffff,#ffffff,#ffffff,#ffffff,#ffffff,#ffffff,#ffffff,#ffffff)"></div>
<div style="left:380px;background-image:linear-gradient(#f7f7ff,#f4f4ff,#f0f0ff,#ebebff,#e5e5ff,#ddddff,#d5d5ff,#ccccff,#c1c1ff,#b4b4ff,#a6a6ff,#9797ff,#8989ff,#7b7bff,#6f6fff,#6666ff,#5f5fff,#5959ff,#5555ff,#5252ff,#4e4eff,#4b4bff,#4747ff,#4343ff,#3c3cff,#3434ff,#2b2bff,#2121ff,#1818ff,#1111ff,#0a0aff,#0505ff,#0100fe,#0700f8,#0d00f2,#1400eb,#1c00e3,#2500da,#2e00d1,#3800c7,#4200bd,#4d00b2,#5700a8,#62009d,#6d0092,#780087,#84007b,#8f0070,#9b0064,#a70058,#b1004e,#bb0044,#c4003b,#ca0035,#cf0030,#d3002c,#d60029,#d70028,#d60029,#d2002d,#cb0034,#c0003f,#b2004d,#a2005d,#8f0070,#7b0084,#680097,#5400ab,#4100be,#3000cf,#1f00e0,#1000ef,#0200fd,#0d0dff,#1b1bff,#2929ff,#3737ff,#4646ff,#5454ff,#6262ff,#7070ff,#7d7dff,#8a8aff,#9696ff,#a1a1ff,#ababff,#b6b6ff,#bfbfff,#c8c8ff,#d1d1ff,#d9d9ff,#e0e0ff,#e6e6ff,#ebebff,#efefff,#f2f2ff,#f5f5ff,#f8f8ff,#f9f9ff,#fbfbff,#fcfcff,#fcfcff,#fdfdff,#fefeff,#fefeff,#fefeff,#fefeff,#ffffff,#ffffff,#ffffff,#ffffff,#ffffff,#ffffff,#ffffff,#ffffff,#ffffff,#ffffff,#ffffff,#ffffff,#ffffff,#ffffff,#ffffff,#ffffff,#ffffff,#ffffff,#ffffff,#ffffff,#ffffff,#ffffff,#ffffff,#ffffff,#ffffff,#ffffff,#ffffff)"></div>
<div style="left:384px;background-image:linear-gradient(#f7f7ff,#f4f4ff,#f0f0ff,#ebebff,#e5e5ff,#ddddff,#d5d5ff,#ccccff,#c1c1ff,#b4b4ff,#a6a6ff,#9797ff,#8989ff,#7b7bff,#6f6fff,#6666ff,#5f5fff,#5959ff,#5555ff,#5252ff,#4f4fff,#4c4cff,#4848ff,#4343ff,#3d3dff,#3535ff,#2b2bff,#2222ff,#1919ff,#1212ff,#0b0bff,#0606ff,#0000ff,#0600f9,#0c00f3,#1300ec,#1b00e4,#2400db,#2e00d1,#3800c7,#4200bd,#4c00b3,#5700a8,#62009d,#6d0092,#790086,#85007a,#91006e,#9d0062,#a90056,#b5004a,#bf0040,#c70038,#ce0031,#d2002d,#d60029,#d80027,#d80027,#d70028,#d3002c,#cb0034,#bf0040,#b1004e,#9f0060,#8c0073,#780087,#64009b,#5000af,#3d00c2,#2b00d4,#1b00e4,#0c00f3,#0202ff,#1010ff,#1d1dff,#2a2aff,#3838ff,#4646ff,#5454ff,#6262ff,#7070ff,#7d7dff,#8989ff,#9595ff,#a0a0ff,#ababff,#b5b5ff,#bfbfff,#c8c8ff,#d1d1ff,#d9d9ff,#e0e0ff,#e6e6ff,#ebebff,#efefff,#f2f2ff,#f5f5ff,#f8f8ff,#f9f9ff,#fbfbff,#fcfcff,#fcfcff,#fdfdff,#fefeff,#fefeff,#fefeff,#fefeff,#ffffff,#ffffff,#ffffff,#ffffff,#ffffff,#ffffff,#ffffff,#ffffff,#ffffff,#ffffff,#ffffff,#ffffff,#ffffff,#ffffff,#ffffff,#ffffff,#ffffff,#ffffff,#ffffff,#ffffff,#ffffff,#ffffff,#ffffff,#ffffff,#ffffff,#ffffff,#ffffff)"></div>
<div style="left:388px;background-image:linear-gradient(#f7f7ff,#f4f4ff,#f0f0ff,#ebebff,#e5e5ff,#ddddff,#d5d5ff,#ccccff,#c1c1ff,#b4b4ff,#a6a6ff,#9797ff,#8989ff,#7b7bff,#6f6fff,#6666ff,#5f5fff,#5a5aff,#5555ff,#5252ff,#4f4fff,#4c4cff,#4848ff,#4343ff,#3d3dff,#3535ff,#2c2cff,#2323ff,#1a1aff,#1313ff,#0c0cff,#0707ff,#0101ff,#0500fa,#0b00f4,#1300ec,#1b00e4,#2300dc,#2d00d2,#3700c8,#4200bd,#4c00b3,#5700a8,#62009d,#6d0092,#7a0085,#860079,#93006c,#a0005f,#ac0053,#b80047,#c2003d,#cb0034,#d1002e,#d5002a,#d80027,#da0025,#da0025,#d80027,#d3002c,#ca0035,#be0041,#af0050,#9d0062,#890076,#74008b,#60009f,#4b00b4,#3800c7,#2700d8,#1600e9,#0800f7,#0606ff,#1313ff,#1f1fff,#2c2cff,#3939ff,#4646ff,#5454ff,#6262ff,#6f6fff,#7c7cff,#8888ff,#9494ff,#9f9fff,#aaaaff,#b4b4ff,#bebeff,#c8c8ff,#d0d0ff,#d8d8ff,#dfdfff,#e5e5ff,#ebebff,#efefff,#f2f2ff,#f5f5ff,#f8f8ff,#f9f9ff,#fbfbff,#fcfcff,#fcfcff,#fdfdff,#fefeff,#fefeff,#fefeff,#fefeff,#ffffff,#ffffff,#ffffff,#ffffff,#ffffff,#ffffff,#ffffff,#ffffff,#ffffff,#ffffff,#ffffff,#ffffff,#ffffff,#ffffff,#ffffff,#ffffff,#ffffff,#ffffff,#ffffff,#ffffff,#ffffff,#ffffff,#ffffff,#ffffff,#ffffff,#ffffff,#ffffff)"></div>
<div style="left:392px;background-image:linear-gradient(#f7f7ff,#f4f4ff,#f0f0ff,#ebebff,#e5e5ff,#ddddff,#d5d5ff,#ccccff,#c1c1ff,#b4b4ff,#a6a6ff,#9797ff,#8989ff,#7b7bff,#6f6fff,#6666ff,#5f5fff,#5a5aff,#5656ff,#5252ff,#4f4fff,#4c4cff,#4848ff,#4444ff,#3e3eff,#3636ff,#2d2dff,#2323ff,#1b1bff,#1414ff,#0d0dff,#0808ff,#0202ff,#0400fb,#0a00f5,#1200ed,#1a00e5,#2300dc,#2c00d3,#3700c8,#4100be,#4c00b3,#5700a8,#62009d,#6e0091,#7a0085,#870078,#95006a,#a2005d,#af0050,#bb0044,#c60039,#ce0031,#d4002b,#d90026,#db0024,#dc0023,#db0024,#d90026,#d3002c,#ca0035,#bd0042,#ad0052,#9a0065,#860079,#71008e,#5b00a4,#4700b8,#3400cb,#2200dd,#1200ed,#0400fb,#0909ff,#1515ff,#2121ff,#2e2eff,#3a3aff,#4747ff,#5454ff,#6161ff,#6e6eff,#7b7bff,#8787ff,#9393ff,#9e9eff,#a9a9ff,#b4b4ff,#bebeff,#c7c7ff,#d0d0ff,#d8d8ff,#dfdfff,#e5e5ff,#ebebff,#efefff,#f2f2ff,#f5f5ff,#f8f8ff,#f9f9ff,#fbfbff,#fcfcff,#fcfcff,#fdfdff,#fefeff,#fefeff,#fefeff,#fefeff,#ffffff,#ffffff,#ffffff,#ffffff,#ffffff,#ffffff,#ffffff,#ffffff,#ffffff,#ffffff,#ffffff,#ffffff,#ffffff,#ffffff,#ffffff,#ffffff,#ffffff,#ffffff,#ffffff,#ffffff,#ffffff,#ffffff,#ffffff,#ffffff,#ffffff,#ffffff,#ffffff)"></div>
<div style="left:396px;background-image:linear-gradient(#f7f7ff,#f4f4ff,#f0f0ff,#ebebff,#e5e5ff,#ddddff,#d5d5ff,#ccccff,#c1c1ff,#b4b4ff,#a6a6ff,#9797ff,#8989ff,#7b7bff,#6f6fff,#6666ff,#5f5fff,#5a5aff,#5656ff,#5252ff,#4f4fff,#4c4cff,#4949ff,#4444ff,#3e3eff,#3636ff,#2d2dff,#2424ff,#1c1cff,#1414ff,#0e0eff,#0808ff,#0303ff,#0300fc,#0a00f5,#1100ee,#1900e6,#2200dd,#2c00d3,#3600c9,#4100be,#4c00b3,#5700a8,#62009d,#6e0091,#7b0084,#880077,#960069,#a4005b,#b2004d,#be0041,#c90036,#d2002d,#d80027,#db0024,#dd0022,#de0021,#dd0022,#da0025,#d4002b,#ca0035,#bc0043,#ab0054,#980067,#82007d,#6d0092,#5800a7,#4300bc,#3000cf,#1e00e1,#0e00f1,#0000ff,#0c0cff,#1818ff,#2323ff,#2f2fff,#3b3bff,#4747ff,#5454ff,#6161ff,#6e6eff,#7a7aff,#8686ff,#9292ff,#9d9dff,#a8a8ff,#b3b3ff,#bdbdff,#c7c7ff,#d0d0ff,#d8d8ff,#dfdfff,#e5e5ff,#ebebff,#efefff,#f2f2ff,#f5f5ff,#f8f8ff,#f9f9ff,#fbfbff,#fcfcff,#fcfcff,#fdfdff,#fefeff,#fefeff,#fefeff,#fefeff,#ffffff,#ffffff,#ffffff,#ffffff,#ffffff,#ffffff,#ffffff,#ffffff,#ffffff,#ffffff,#ffffff,#ffffff,#ffffff,#ffffff,#ffffff,#ffffff,#ffffff,#ffffff,#ffffff,#ffffff,#ffffff,#ffffff,#ffffff,#ffffff,#ffffff,#ffffff,#ffffff)"></div>
<div style="left:400px;background-image:linear-gradient(#f7f7ff,#f4f4ff,#f0f0ff,#ebebff,#e5e5ff,#ddddff,#d5d5ff,#ccccff,#c1c1ff,#b4b4ff,#a6a6ff,#9797ff,#8989ff,#7b7bff,#6f6fff,#6666ff,#5f5fff,#5a5aff,#5656ff,#5252ff,#4f4fff,#4c4cff,#4949ff,#4444ff,#3e3eff,#3737ff,#2e2eff,#2525ff,#1c1cff,#1515ff,#0f0fff,#0909ff,#0404ff,#0200fd,#0900f6,#1000ef,#1800e7,#2100de,#2b00d4,#3600c9,#4000bf,#4b00b4,#5700a8,#62009d,#6f0090,#7c0083,#8a0075,#980067,#a70058,#b5004a,#c1003e,#cc0033,#d5002a,#db0024,#de0021,#e0001f,#e0001f,#de0021,#db0024,#d4002b,#c90036,#bb0044,#a90056,#95006a,#80007f,#6a0095,#5400ab,#4000bf,#2d00d2,#1b00e4,#0b00f4,#0202ff,#0f0fff,#1a1aff,#2525ff,#3030ff,#3b3bff,#4747ff,#5454ff,#6060ff,#6d6dff,#7979ff,#8585ff,#9191ff,#9c9cff,#a7a7ff,#b2b2ff,#bcbcff,#c6c6ff,#d0d0ff,#d8d8ff,#dfdfff,#e5e5ff,#eaeaff,#efefff,#f2f2ff,#f5f5ff,#f8f8ff,#f9f9ff,#fbfbff,#fcfcff,#fcfcff,#fdfdff,#fefeff,#fefeff,#fefeff,#fefeff,#ffffff,#ffffff,#ffffff,#ffffff,#ffffff,#ffffff,#ffffff,#ffffff,#ffffff,#ffffff,#ffffff,#ffffff,#ffffff,#ffffff,#ffffff,#ffffff,#ffffff,#ffffff,#ffffff,#ffffff,#ffffff,#ffffff,#ffffff,#ffffff,#ffffff,#ffffff,#ffffff)"></div>
<div style="left:404px;background-image:linear-gradient(#f7f7ff,#f4f4ff,#f0f0ff,#ebebff,#e5e5ff,#ddddff,#d5d5ff,#ccccff,#c1c1ff,#b4b4ff,#a6a6ff,#9797ff,#8989ff,#7b7bff,#6f6fff,#6666ff,#5f5fff,#5a5aff,#5656ff,#5353ff,#5050ff,#4d4dff,#4949ff,#4545ff,#3f3fff,#3737ff,#2e2eff,#2525ff,#1d1dff,#1616ff,#1010ff,#0a0aff,#0404ff,#0100fe,#0800f7,#0f00f0,#1800e7,#2100de,#2b00d4,#3500ca,#4000bf,#4b00b4,#5700a8,#62009d,#6f0090,#7c0083,#8b0074,#9a0065,#a90056,#b70048,#c4003b,#cf0030,#d80027,#de0021,#e1001e,#e2001d,#e2001d,#e0001f,#db0024,#d4002b,#c90036,#ba0045,#a80057,#93006c,#7d0082,#670098,#5200ad,#3d00c2,#2a00d5,#1900e6,#0900f6,#0404ff,#1010ff,#1b1bff,#2626ff,#3030ff,#3c3cff,#4747ff,#5353ff,#6060ff,#6c6cff,#7878ff,#8484ff,#9090ff,#9b9bff,#a6a6ff,#b1b1ff,#bcbcff,#c6c6ff,#cfcfff,#d8d8ff,#dfdfff,#e5e5ff,#eaeaff,#efefff,#f2f2ff,#f5f5ff,#f8f8ff,#f9f9ff,#fbfbff,#fcfcff,#fcfcff,#fdfdff,#fefeff,#fefeff,#fefeff,#fefeff,#ffffff,#ffffff,#ffffff,#ffffff,#ffffff,#ffffff,#ffffff,#ffffff,#ffffff,#ffffff,#ffffff,#ffffff,#ffffff,#ffffff,#ffffff,#ffffff,#ffffff,#ffffff,#ffffff,#ffffff,#ffffff,#ffffff,#ffffff,#ffffff,#ffffff,#ffffff,#ffffff)"></div>
<div style="left:408px;background-image:linear-gradient(#f7f7ff,#f4f4ff,#f0f0ff,#ebebff,#e5e5ff,#ddddff,#d5d5ff,#ccccff,#c1c1ff,#b4b4ff,#a6a6ff,#9797ff,#8989ff,#7b7bff,#6f6fff,#6666ff,#5f5fff,#5a5aff,#5656ff,#5353ff,#5050ff,#4d4dff,#4949ff,#4545ff,#3f3fff,#3838ff,#2f2fff,#2626ff,#1e1eff,#1616ff,#1010ff,#0b0bff,#0505ff,#0100fe,#0700f8,#0f00f0,#1700e8,#2000df,#2a00d5,#3500ca,#4000bf,#4b00b4,#5700a8,#63009c,#6f0090,#7d0082,#8c0073,#9b0064,#aa0055,#b90046,#c70038,#d2002d,#da0025,#e0001f,#e3001c,#e4001b,#e3001c,#e1001e,#dc0023,#d4002b,#c90036,#b90046,#a70058,#92006d,#7b0084,#65009a,#5000af,#3c00c3,#2900d6,#1800e7,#0800f7,#0505ff,#1111ff,#1c1cff,#2626ff,#3030ff,#3b3bff,#4747ff,#5252ff,#5f5fff,#6b6bff,#7777ff,#8383ff,#8f8fff,#9a9aff,#a5a5ff,#b0b0ff,#bbbbff,#c5c5ff,#cfcfff,#d7d7ff,#dfdfff,#e5e5ff,#eaeaff,#efefff,#f2f2ff,#f5f5ff,#f8f8ff,#f9f9ff,#fbfbff,#fcfcff,#fcfcff,#fdfdff,#fefeff,#fefeff,#fefeff,#fefeff,#ffffff,#ffffff,#ffffff,#ffffff,#ffffff,#ffffff,#ffffff,#ffffff,#ffffff,#ffffff,#ffffff,#ffffff,#ffffff,#ffffff,#ffffff,#ffffff,#ffffff,#ffffff,#ffffff,#ffffff,#ffffff,#ffffff,#ffffff,#ffffff,#ffffff,#ffffff,#ffffff)"></div>
<div style="left:412px;background-image:linear-gradient(#f7f7ff,#f4f4ff,#f0f0ff,#ebebff,#e5e5ff,#ddddff,#d5d5ff,#ccccff,#c1c1ff,#b4b4ff,#a6a6ff,#9797ff,#8989ff,#7b7bff,#6f6fff,#6666ff,#5f5fff,#5a5aff,#5656ff,#5353ff,#5050ff,#4d4dff,#4a4aff,#4545ff,#3f3fff,#3838ff,#2f2fff,#2626ff,#1e1eff,#1717ff,#1111ff,#0b0bff,#0606ff,#0000ff,#0700f8,#0e00f1,#1700e8,#2000df,#2a00d5,#3400cb,#3f00c0,#4b00b4,#5600a9,#63009c,#70008f,#7d0082,#8c0073,#9c0063,#ac0053,#bb0044,#c90036,#d4002b,#dd0022,#e2001d,#e5001a,#e60019,#e4001b,#e2001d,#dd0022,#d5002a,#c90036,#b90046,#a60059,#91006e,#7b0084,#65009a,#4f00b0,#3b00c4,#2900d6,#1800e7,#0900f6,#0505ff,#1010ff,#1b1bff,#2525ff,#3030ff,#3b3bff,#4646ff,#5151ff,#5e5eff,#6a6aff,#7676ff,#8282ff,#8d8dff,#9999ff,#a4a4ff,#afafff,#babaff,#c5c5ff,#ceceff,#d7d7ff,#dedeff,#e5e5ff,#eaeaff,#efefff,#f2f2ff,#f5f5ff,#f8f8ff,#f9f9ff,#fbfbff,#fcfcff,#fcfcff,#fdfdff,#fefeff,#fefeff,#fefeff,#fefeff,#ffffff,#ffffff,#ffffff,#ffffff,#ffffff,#ffffff,#ffffff,#ffffff,#ffffff,#ffffff,#ffffff,#ffffff,#ffffff,#ffffff,#ffffff,#ffffff,#ffffff,#ffffff,#ffffff,#ffffff,#ffffff,#ffffff,#ffffff,#ffffff,#ffffff,#ffffff,#ffffff)"></div>
<div style="left:416px;background-image:linear-gradient(#f7f7ff,#f4f4ff,#f0f0ff,#ebebff,#e5e5ff,#dedeff,#d5d5ff,#ccccff,#c1c1ff,#b4b4ff,#a6a6ff,#9797ff,#8989ff,#7b7bff,#7070ff,#6666ff,#5f5fff,#5a5aff,#5656ff,#5353ff,#5050ff,#4d4dff,#4a4aff,#4646ff,#4040ff,#3838ff,#3030ff,#2727ff,#1f1fff,#1818ff,#1111ff,#0c0cff,#0606ff,#0000ff,#0600f9,#0e00f1,#1600e9,#1f00e0,#2900d6,#3400cb,#3f00c0,#4b00b4,#5600a9,#63009c,#70008f,#7e0081,#8d0072,#9d0062,#ad0052,#bc0043,#ca0035,#d60029,#de0021,#e4001b,#e60019,#e70018,#e60019,#e3001c,#de0021,#d5002a,#c90036,#b90046,#a60059,#91006e,#7a0085,#65009a,#5000af,#3c00c3,#2a00d5,#1900e6,#0a00f5,#0303ff,#0f0fff,#1a1aff,#2424ff,#2f2fff,#3a3aff,#4545ff,#5050ff,#5c5cff,#6868ff,#7474ff,#8080ff,#8c8cff,#9797ff,#a3a3ff,#aeaeff,#b9b9ff,#c4c4ff,#ceceff,#d7d7ff,#dedeff,#e5e5ff,#eaeaff,#efefff,#f2f2ff,#f5f5ff,#f8f8ff,#f9f9ff,#fbfbff,#fcfcff,#fcfcff,#fdfdff,#fefeff,#fefeff,#fefeff,#fefeff,#ffffff,#ffffff,#ffffff,#ffffff,#ffffff,#ffffff,#ffffff,#ffffff,#ffffff,#ffffff,#ffffff,#ffffff,#ffffff,#ffffff,#ffffff,#ffffff,#ffffff,#ffffff,#ffffff,#ffffff,#ffffff,#ffffff,#ffffff,#ffffff,#ffffff,#ffffff,#ffffff)"></div>
<div style="left:420px;background-image:linear-gradient(#f7f7ff,#f4f4ff,#f0f0ff,#ebebff,#e5e5ff,#dedeff,#d5d5ff,#ccccff,#c1c1ff,#b4b4ff,#a6a6ff,#9797ff,#8989ff,#7b7bff,#7070ff,#6666ff,#5f5fff,#5a5aff,#5656ff,#5353ff,#5050ff,#4d4dff,#4a4aff,#4646ff,#4040ff,#3939ff,#3030ff,#2727ff,#1f1fff,#1818ff,#1212ff,#0c0cff,#0707ff,#0101ff,#0600f9,#0d00f2,#1600e9,#1f00e0,#2900d6,#3400cb,#3f00c0,#4a00b5,#5600a9,#63009c,#70008f,#7e0081,#8d0072,#9d0062,#ad0052,#bd0042,#cb0034,#d70028,#df0020,#e5001a,#e70018,#e80017,#e60019,#e4001b,#de0021,#d60029,#ca0035,#ba0045,#a60059,#91006e,#7b0084,#660099,#5100ae,#3e00c1,#2c00d3,#1c00e3,#0d00f2,#0000ff,#0c0cff,#1818ff,#2222ff,#2d2dff,#3838ff,#4343ff,#4f4fff,#5b5bff,#6767ff,#7373ff,#7f7fff,#8a8aff,#9696ff,#a2a2ff,#adadff,#b8b8ff,#c3c3ff,#cdcdff,#d6d6ff,#dedeff,#e5e5ff,#eaeaff,#efefff,#f2f2ff,#f5f5ff,#f7f7ff,#f9f9ff,#fbfbff,#fcfcff,#fcfcff,#fdfdff,#fefeff,#fefeff,#fefeff,#fefeff,#ffffff,#ffffff,#ffffff,#ffffff,#ffffff,#ffffff,#ffffff,#ffffff,#ffffff,#ffffff,#ffffff,#ffffff,#ffffff,#ffffff,#ffffff,#ffffff,#ffffff,#ffffff,#ffffff,#ffffff,#ffffff,#ffffff,#ffffff,#ffffff,#ffffff,#ffffff,#ffffff)"></div>
<div style="left:424px;background-image:linear-gradient(#f7f7ff,#f4f4ff,#f0f0ff,#ebebff,#e5e5ff,#dedeff,#d5d5ff,#ccccff,#c1c1ff,#b4b4ff,#a6a6ff,#9898ff,#8989ff,#7b7bff,#7070ff,#6666ff,#6060ff,#5a5aff,#5757ff,#5353ff,#5151ff,#4e4eff,#4b4bff,#4646ff,#4040ff,#3939ff,#3030ff,#2828ff,#2020ff,#1818ff,#1212ff,#0d0dff,#0707ff,#0101ff,#0500fa,#0d00f2,#1500ea,#1f00e0,#2900d6,#3400cb,#3f00c0,#4a00b5,#5600a9,#63009c,#70008f,#7e0081,#8d0072,#9d0062,#ad0052,#bd0042,#cb0034,#d70028,#e0001f,#e5001a,#e80017,#e80017,#e70018,#e4001b,#df0020,#d70028,#cb0034,#bb0044,#a80057,#93006c,#7d0082,#680097,#5400ab,#4100be,#2f00d0,#1f00e0,#1000ef,#0300fc,#0909ff,#1515ff,#2020ff,#2b2bff,#3636ff,#4242ff,#4e4eff,#5a5aff,#6565ff,#7171ff,#7d7dff,#8989ff,#9595ff,#a0a0ff,#acacff,#b8b8ff,#c3c3ff,#cdcdff,#d6d6ff,#dedeff,#e5e5ff,#eaeaff,#efefff,#f2f2ff,#f5f5ff,#f7f7ff,#f9f9ff,#fbfbff,#fcfcff,#fcfcff,#fdfdff,#fefeff,#fefeff,#fefeff,#fefeff,#ffffff,#ffffff,#ffffff,#ffffff,#ffffff,#ffffff,#ffffff,#ffffff,#ffffff,#ffffff,#ffffff,#ffffff,#ffffff,#ffffff,#ffffff,#ffffff,#ffffff,#ffffff,#ffffff,#ffffff,#ffffff,#ffffff,#ffffff,#ffffff,#ffffff,#ffffff,#ffffff)"></div>
<div style="left:428px;background-image:linear-gradient(#f7f7ff,#f4f4ff,#f0f0ff,#ebebff,#e5e5ff,#dedeff,#d5d5ff,#ccccff,#c1c1ff,#b4b4ff,#a6a6ff,#9898ff,#8989ff,#7b7bff,#7070ff,#6767ff,#6060ff,#5b5bff,#5757ff,#5454ff,#5151ff,#4e4eff,#4b4bff,#4747ff,#4141ff,#3939ff,#3131ff,#2828ff,#2020ff,#1919ff,#1313ff,#0d0dff,#0808ff,#0202ff,#0500fa,#0d00f2,#1500ea,#1e00e1,#2900d6,#3300cc,#3f00c0,#4a00b5,#5600a9,#62009d,#70008f,#7e0081,#8d0072,#9d0062,#ad0052,#bd0042,#cb0034,#d60029,#df0020,#e5001a,#e80017,#e90016,#e80017,#e5001a,#e0001f,#d80027,#cc0033,#bc0043,#aa0055,#95006a,#80007f,#6b0094,#5700a8,#4500ba,#3400cb,#2400db,#1500ea,#0700f8,#0505ff,#1111ff,#1d1dff,#2828ff,#3434ff,#4040ff,#4c4cff,#5858ff,#6464ff,#7070ff,#7b7bff,#8787ff,#9393ff,#9f9fff,#ababff,#b7b7ff,#c2c2ff,#ccccff,#d6d6ff,#dedeff,#e4e4ff,#eaeaff,#efefff,#f2f2ff,#f5f5ff,#f7f7ff,#f9f9ff,#fbfbff,#fcfcff,#fcfcff,#fdfdff,#fefeff,#fefeff,#fefeff,#fefeff,#ffffff,#ffffff,#ffffff,#ffffff,#ffffff,#ffffff,#ffffff,#ffffff,#ffffff,#ffffff,#ffffff,#ffffff,#ffffff,#ffffff,#ffffff,#ffffff,#ffffff,#ffffff,#ffffff,#ffffff,#ffffff,#ffffff,#ffffff,#ffffff,#ffffff,#ffffff,#ffffff)"></div>
<div style="left:432px;background-image:linear-gradient(#f7f7ff,#f4f4ff,#f0f0ff,#ebebff,#e5e5ff,#dedeff,#d5d5ff,#ccccff,#c1c1ff,#b4b4ff,#a6a6ff,#9898ff,#8989ff,#7c7cff,#7070ff,#6767ff,#6060ff,#5b5bff,#5757ff,#5454ff,#5151ff,#4e4eff,#4b4bff,#4747ff,#4141ff,#3a3aff,#3131ff,#2828ff,#2020ff,#1919ff,#1313ff,#0e0eff,#0808ff,#0202ff,#0500fa,#0c00f3,#1500ea,#1e00e1,#2800d7,#3300cc,#3e00c1,#4a00b5,#5600a9,#62009d,#6f0090,#7d0082,#8c0073,#9c0063,#ac0053,#bc0043,#ca0035,#d5002a,#de0021,#e4001b,#e70018,#e80017,#e80017,#e60019,#e1001e,#da0025,#ce0031,#bf0040,#ac0053,#980067,#83007c,#6f0090,#5b00a4,#4900b6,#3800c7,#2900d6,#1a00e5,#0c00f3,#0101ff,#0d0dff,#1919ff,#2626ff,#3232ff,#3e3eff,#4a4aff,#5656ff,#6262ff,#6e6eff,#7a7aff,#8686ff,#9292ff,#9e9eff,#aaaaff,#b6b6ff,#c1c1ff,#ccccff,#d5d5ff,#ddddff,#e4e4ff,#eaeaff,#efefff,#f2f2ff,#f5f5ff,#f7f7ff,#f9f9ff,#fbfbff,#fcfcff,#fcfcff,#fdfdff,#fefeff,#fefeff,#fefeff,#fefeff,#ffffff,#ffffff,#ffffff,#ffffff,#ffffff,#ffffff,#ffffff,#ffffff,#ffffff,#ffffff,#ffffff,#ffffff,#ffffff,#ffffff,#ffffff,#ffffff,#ffffff,#ffffff,#ffffff,#ffffff,#ffffff,#ffffff,#ffffff,#ffffff,#ffffff,#ffffff,#ffffff)"></div>
<div style="left:436px;background-image:linear-gradient(#f7f7ff,#f4f4ff,#f0f0ff,#ebebff,#e5e5ff,#dedeff,#d5d5ff,#ccccff,#c1c1ff,#b4b4ff,#a6a6ff,#9898ff,#8989ff,#7c7cff,#7070ff,#6767ff,#6060ff,#5b5bff,#5757ff,#5454ff,#5151ff,#4e4eff,#4b4bff,#4747ff,#4141ff,#3a3aff,#3131ff,#2929ff,#2121ff,#1919ff,#1313ff,#0e0eff,#0808ff,#0202ff,#0500fa,#0c00f3,#1500ea,#1e00e1,#2800d7,#3300cc,#3e00c1,#4a00b5,#5600a9,#62009d,#6f0090,#7d0082,#8c0073,#9b0064,#ab0054,#ba0045,#c80037,#d3002c,#dd0022,#e3001c,#e60019,#e80017,#e80017,#e60019,#e2001d,#db0024,#d0002f,#c1003e,#af0050,#9c0063,#870078,#73008c,#60009f,#4e00b1,#3e00c1,#2e00d1,#1f00e0,#1100ee,#0400fb,#0909ff,#1616ff,#2323ff,#2f2fff,#3c3cff,#4848ff,#5555ff,#6161ff,#6d6dff,#7878ff,#8484ff,#9090ff,#9c9cff,#a9a9ff,#b5b5ff,#c1c1ff,#cbcbff,#d5d5ff,#ddddff,#e4e4ff,#eaeaff,#eeeeff,#f2f2ff,#f5f5ff,#f7f7ff,#f9f9ff,#fbfbff,#fcfcff,#fcfcff,#fdfdff,#fefeff,#fefeff,#fefeff,#fefeff,#ffffff,#ffffff,#ffffff,#ffffff,#ffffff,#ffffff,#ffffff,#ffffff,#ffffff,#ffffff,#ffffff,#ffffff,#ffffff,#ffffff,#ffffff,#ffffff,#ffffff,#ffffff,#ffffff,#ffffff,#ffffff,#ffffff,#ffffff,#ffffff,#ffffff,#ffffff,#ffffff)"></div>
<div style="left:440px;background-image:linear-gradient(#f7f7ff,#f4f4ff,#f0f0ff,#ebebff,#e5e5ff,#dedeff,#d5d5ff,#ccccff,#c1c1ff,#b4b4ff,#a6a6ff,#9898ff,#8989ff,#7c7cff,#7070ff,#6767ff,#6060ff,#5b5bff,#5757ff,#5454ff,#5252ff,#4f4fff,#4c4cff,#4747ff,#4242ff,#3a3aff,#3232ff,#2929ff,#2121ff,#1a1aff,#1414ff,#0e0eff,#0808ff,#0202ff,#0400fb,#0c00f3,#1400eb,#1e00e1,#2800d7,#3300cc,#3e00c1,#4a00b5,#5500aa,#62009d,#6e0091,#7c0083,#8b0074,#9a0065,#a90056,#b80047,#c5003a,#d1002e,#da0025,#e1001e,#e5001a,#e70018,#e80017,#e70018,#e4001b,#de0021,#d3002c,#c5003a,#b3004c,#a0005f,#8c0073,#780087,#65009a,#5400ab,#4300bc,#3400cb,#2500da,#1700e8,#0900f6,#0404ff,#1212ff,#1f1fff,#2d2dff,#3a3aff,#4646ff,#5353ff,#5f5fff,#6b6bff,#7777ff,#8383ff,#8f8fff,#9b9bff,#a8a8ff,#b4b4ff,#c0c0ff,#cbcbff,#d5d5ff,#ddddff,#e4e4ff,#eaeaff,#eeeeff,#f2f2ff,#f5f5ff,#f7f7ff,#f9f9ff,#fbfbff,#fcfcff,#fcfcff,#fdfdff,#fefeff,#fefeff,#fefeff,#fefeff,#ffffff,#ffffff,#ffffff,#ffffff,#ffffff,#ffffff,#ffffff,#ffffff,#ffffff,#ffffff,#ffffff,#ffffff,#ffffff,#ffffff,#ffffff,#ffffff,#ffffff,#ffffff,#ffffff,#ffffff,#ffffff,#ffffff,#ffffff,#ffffff,#ffffff,#ffffff,#ffffff)"></div>
<div style="left:444px;background-image:linear-gradient(#f7f7ff,#f4f4ff,#f0f0ff,#ebebff,#e5e5ff,#dedeff,#d5d5ff,#ccccff,#c1c1ff,#b4b4ff,#a7a7ff,#9898ff,#8989ff,#7c7cff,#7070ff,#6767ff,#6060ff,#5b5bff,#5858ff,#5555ff,#5252ff,#4f4fff,#4c4cff,#4848ff,#4242ff,#3a3aff,#3232ff,#2929ff,#2121ff,#1a1aff,#1414ff,#0e0eff,#0909ff,#0303ff,#0400fb,#0c00f3,#1400eb,#1e00e1,#2800d7,#3300cc,#3e00c1,#4900b6,#5500aa,#61009e,#6e0091,#7b0084,#890076,#980067,#a70058,#b5004a,#c3003c,#ce0031,#d80027,#df0020,#e3001c,#e60019,#e80017,#e80017,#e60019,#e0001f,#d60029,#c80037,#b80047,#a5005a,#91006e,#7d0082,#6a0095,#5900a6,#4900b6,#3900c6,#2b00d4,#1c00e3,#0f00f0,#0100fe,#0e0eff,#1c1cff,#2a2aff,#3737ff,#4444ff,#5151ff,#5e5eff,#6a6aff,#7676ff,#8282ff,#8e8eff,#9a9aff,#a7a7ff,#b3b3ff,#bfbfff,#cbcbff,#d4d4ff,#ddddff,#e4e4ff,#eaeaff,#eeeeff,#f2f2ff,#f5f5ff,#f7f7ff,#f9f9ff,#fbfbff,#fcfcff,#fcfcff,#fdfdff,#fefeff,#fefeff,#fefeff,#fefeff,#ffffff,#ffffff,#ffffff,#ffffff,#ffffff,#ffffff,#ffffff,#ffffff,#ffffff,#ffffff,#ffffff,#ffffff,#ffffff,#ffffff,#ffffff,#ffffff,#ffffff,#ffffff,#ffffff,#ffffff,#ffffff,#ffffff,#ffffff,#ffffff,#ffffff,#ffffff,#ffffff)"></div>
<div style="left:448px;background-image:linear-gradient(#f7f7ff,#f4f4ff,#f0f0ff,#ebebff,#e5e5ff,#dedeff,#d5d5ff,#ccccff,#c1c1ff,#b4b4ff,#a7a7ff,#9898ff,#8a8aff,#7c7cff,#7171ff,#6868ff,#6161ff,#5c5cff,#5858ff,#5555ff,#5252ff,#4f4fff,#4c4cff,#4848ff,#4242ff,#3b3bff,#3232ff,#2929ff,#2121ff,#1a1aff,#1414ff,#0e0eff,#0909ff,#0303ff,#0400fb,#0c00f3,#1400eb,#1e00e1,#2800d7,#3300cc,#3e00c1,#4900b6,#5500aa,#61009e,#6d0092,#7a0085,#880077,#960069,#a4005b,#b2004d,#bf0040,#cb0034,#d4002b,#dc0023,#e1001e,#e5001a,#e80017,#e90016,#e80017,#e3001c,#da0025,#cd0032,#bc0043,#aa0055,#960069,#82007d,#70008f,#5e00a1,#4e00b1,#3f00c0,#3000cf,#2200dd,#1400eb,#0600f9,#0909ff,#1818ff,#2727ff,#3535ff,#4343ff,#5050ff,#5c5cff,#6868ff,#7474ff,#8181ff,#8d8dff,#9999ff,#a6a6ff,#b3b3ff,#bfbfff,#cacaff,#d4d4ff,#ddddff,#e4e4ff,#eaeaff,#eeeeff,#f2f2ff,#f5f5ff,#f7f7ff,#f9f9ff,#fbfbff,#fcfcff,#fcfcff,#fdfdff,#fefeff,#fefeff,#fefeff,#fefeff,#ffffff,#ffffff,#ffffff,#ffffff,#ffffff,#ffffff,#ffffff,#ffffff,#ffffff,#ffffff,#ffffff,#ffffff,#ffffff,#ffffff,#ffffff,#ffffff,#ffffff,#ffffff,#ffffff,#ffffff,#ffffff,#ffffff,#ffffff,#ffffff,#ffffff,#ffffff,#ffffff)"></div>
<div style="left:452px;background-image:linear-gradient(#f7f7ff,#f4f4ff,#f0f0ff,#ebebff,#e5e5ff,#dedeff,#d5d5ff,#ccccff,#c1c1ff,#b5b5ff,#a7a7ff,#9898ff,#8a8aff,#7c7cff,#7171ff,#6868ff,#6161ff,#5c5cff,#5858ff,#5555ff,#5353ff,#5050ff,#4d4dff,#4848ff,#4343ff,#3b3bff,#3232ff,#2a2aff,#2121ff,#1a1aff,#1414ff,#0f0fff,#0909ff,#0303ff,#0400fb,#0c00f3,#1400eb,#1e00e1,#2800d7,#3200cd,#3e00c1,#4900b6,#5400ab,#60009f,#6c0093,#790086,#860079,#94006b,#a1005e,#af0050,#bb0044,#c70038,#d1002e,#d90026,#df0020,#e4001b,#e80017,#ea0015,#ea0015,#e60019,#de0021,#d1002e,#c1003e,#af0050,#9b0064,#880077,#75008a,#64009b,#5400ab,#4400bb,#3600c9,#2800d7,#1900e6,#0a00f5,#0505ff,#1414ff,#2424ff,#3232ff,#4141ff,#4e4eff,#5b5bff,#6767ff,#7474ff,#8080ff,#8c8cff,#9999ff,#a6a6ff,#b2b2ff,#bfbfff,#cacaff,#d4d4ff,#ddddff,#e4e4ff,#eaeaff,#eeeeff,#f2f2ff,#f5f5ff,#f7f7ff,#f9f9ff,#fbfbff,#fcfcff,#fcfcff,#fdfdff,#fefeff,#fefeff,#fefeff,#fefeff,#ffffff,#ffffff,#ffffff,#ffffff,#ffffff,#ffffff,#ffffff,#ffffff,#ffffff,#ffffff,#ffffff,#ffffff,#ffffff,#ffffff,#ffffff,#ffffff,#ffffff,#ffffff,#ffffff,#ffffff,#ffffff,#ffffff,#ffffff,#ffffff,#ffffff,#ffffff,#ffffff)"></div>
<div style="left:456px;background-image:linear-gradient(#f7f7ff,#f4f4ff,#f0f0ff,#ebebff,#e5e5ff,#dedeff,#d6d6ff,#ccccff,#c1c1ff,#b5b5ff,#a7a7ff,#9898ff,#8a8aff,#7d7dff,#7171ff,#6868ff,#6262ff,#5d5dff,#5959ff,#5656ff,#5353ff,#5050ff,#4d4dff,#4949ff,#4343ff,#3b3bff,#3333ff,#2a2aff,#2222ff,#1b1bff,#1414ff,#0f0fff,#0909ff,#0303ff,#0400fb,#0b00f4,#1400eb,#1d00e2,#2700d8,#3200cd,#3d00c2,#4800b7,#5400ab,#5f00a0,#6b0094,#770088,#84007b,#91006e,#9e0061,#ab0054,#b70048,#c2003d,#cc0033,#d5002a,#dd0022,#e3001c,#e80017,#eb0014,#ec0013,#e90016,#e2001d,#d60029,#c60039,#b4004b,#a0005f,#8d0072,#7a0085,#690096,#5800a7,#4900b6,#3b00c4,#2d00d2,#1f00e0,#0f00f0,#0000ff,#1111ff,#2121ff,#3030ff,#3f3fff,#4d4dff,#5a5aff,#6767ff,#7373ff,#7f7fff,#8c8cff,#9898ff,#a5a5ff,#b2b2ff,#bfbfff,#cacaff,#d4d4ff,#ddddff,#e4e4ff,#eaeaff,#eeeeff,#f2f2ff,#f5f5ff,#f7f7ff,#f9f9ff,#fbfbff,#fcfcff,#fcfcff,#fdfdff,#fefeff,#fefeff,#fefeff,#fefeff,#ffffff,#ffffff,#ffffff,#ffffff,#ffffff,#ffffff,#ffffff,#ffffff,#ffffff,#ffffff,#ffffff,#ffffff,#ffffff,#ffffff,#ffffff,#ffffff,#ffffff,#ffffff,#ffffff,#ffffff,#ffffff,#ffffff,#ffffff,#ffffff,#ffffff,#ffffff,#ffffff)"></div>
<div style="left:460px;background-image:linear-gradient(#f7f7ff,#f4f4ff,#f0f0ff,#ebebff,#e5e5ff,#dedeff,#d6d6ff,#ccccff,#c1c1ff,#b5b5ff,#a7a7ff,#9999ff,#8a8aff,#7d7dff,#7272ff,#6969ff,#6262ff,#5d5dff,#5959ff,#5656ff,#5454ff,#5151ff,#4e4eff,#4949ff,#4444ff,#3c3cff,#3333ff,#2a2aff,#2222ff,#1b1bff,#1515ff,#0f0fff,#0909ff,#0303ff,#0400fb,#0b00f4,#1400eb,#1d00e2,#2700d8,#3200cd,#3d00c2,#4800b7,#5300ac,#5e00a1,#6a0095,#760089,#82007d,#8e0071,#9a0065,#a60059,#b2004d,#bd0042,#c80037,#d1002e,#da0025,#e1001e,#e70018,#ec0013,#ee0011,#ec0013,#e5001a,#da0025,#cb0034,#b90046,#a5005a,#91006e,#7e0081,#6d0092,#5d00a2,#4e00b1,#4000bf,#3200cd,#2300dc,#1400eb,#0400fb,#0d0dff,#1e1eff,#2e2eff,#3d3dff,#4c4cff,#5959ff,#6666ff,#7373ff,#7f7fff,#8c8cff,#9898ff,#a5a5ff,#b2b2ff,#bfbfff,#cacaff,#d4d4ff,#ddddff,#e4e4ff,#eaeaff,#eeeeff,#f2f2ff,#f5f5ff,#f8f8ff,#f9f9ff,#fbfbff,#fcfcff,#fcfcff,#fdfdff,#fefeff,#fefeff,#fefeff,#fefeff,#ffffff,#ffffff,#ffffff,#ffffff,#ffffff,#ffffff,#ffffff,#ffffff,#ffffff,#ffffff,#ffffff,#ffffff,#ffffff,#ffffff,#ffffff,#ffffff,#ffffff,#ffffff,#ffffff,#ffffff,#ffffff,#ffffff,#ffffff,#ffffff,#ffffff,#ffffff,#ffffff)"></div>
<div style="left:464px;background-image:linear-gradient(#f7f7ff,#f4f4ff,#f0f0ff,#ebebff,#e5e5ff,#dedeff,#d6d6ff,#ccccff,#c2c2ff,#b5b5ff,#a8a8ff,#9999ff,#8b8bff,#7e7eff,#7272ff,#6969ff,#6363ff,#5e5eff,#5a5aff,#5757ff,#5454ff,#5252ff,#4e4eff,#4a4aff,#4444ff,#3d3dff,#3434ff,#2b2bff,#2323ff,#1b1bff,#1515ff,#0f0fff,#0a0aff,#0404ff,#0300fc,#0b00f4,#1300ec,#1c00e3,#2600d9,#3100ce,#3c00c3,#4700b8,#5200ad,#5d00a2,#680097,#73008c,#7f0080,#8a0075,#960069,#a2005d,#ad0052,#b80047,#c3003c,#cd0032,#d60029,#df0020,#e60019,#ec0013,#ef0010,#ef0010,#e90016,#de0021,#cf0030,#bd0042,#a90056,#95006a,#82007d,#71008e,#61009e,#5200ad,#4400bb,#3600c9,#2800d7,#1800e7,#0800f7,#0a0aff,#1b1bff,#2c2cff,#3c3cff,#4b4bff,#5959ff,#6666ff,#7373ff,#7f7fff,#8c8cff,#9999ff,#a6a6ff,#b2b2ff,#bfbfff,#cacaff,#d4d4ff,#ddddff,#e4e4ff,#eaeaff,#eeeeff,#f2f2ff,#f5f5ff,#f8f8ff,#f9f9ff,#fbfbff,#fcfcff,#fcfcff,#fdfdff,#fefeff,#fefeff,#fefeff,#fefeff,#ffffff,#ffffff,#ffffff,#ffffff,#ffffff,#ffffff,#ffffff,#ffffff,#ffffff,#ffffff,#ffffff,#ffffff,#ffffff,#ffffff,#ffffff,#ffffff,#ffffff,#ffffff,#ffffff,#ffffff,#ffffff,#ffffff,#ffffff,#ffffff,#ffffff,#ffffff,#ffffff)"></div>
<div style="left:468px;background-image:linear-gradient(#f7f7ff,#f4f4ff,#f0f0ff,#ebebff,#e5e5ff,#dedeff,#d6d6ff,#cdcdff,#c2c2ff,#b6b6ff,#a8a8ff,#9a9aff,#8c8cff,#7e7eff,#7373ff,#6a6aff,#6464ff,#5f5fff,#5b5bff,#5858ff,#5555ff,#5353ff,#4f4fff,#4b4bff,#4545ff,#3d3dff,#3535ff,#2c2cff,#2323ff,#1c1cff,#1616ff,#1010ff,#0b0bff,#0404ff,#0200fd,#0a00f5,#1200ed,#1b00e4,#2500da,#3000cf,#3b00c4,#4500ba,#5000af,#5b00a4,#660099,#71008e,#7c0083,#860079,#91006e,#9c0063,#a70058,#b2004d,#bd0042,#c80037,#d2002d,#dc0023,#e5001a,#ec0013,#f0000f,#f0000f,#eb0014,#e1001e,#d2002d,#c0003f,#ac0053,#980067,#85007a,#73008c,#63009c,#5500aa,#4700b8,#3a00c5,#2b00d4,#1c00e3,#0b00f4,#0707ff,#1a1aff,#2b2bff,#3c3cff,#4b4bff,#5959ff,#6767ff,#7373ff,#8080ff,#8c8cff,#9999ff,#a6a6ff,#b3b3ff,#bfbfff,#cacaff,#d4d4ff,#ddddff,#e4e4ff,#eaeaff,#efefff,#f2f2ff,#f5f5ff,#f8f8ff,#f9f9ff,#fbfbff,#fcfcff,#fdfdff,#fdfdff,#fefeff,#fefeff,#fefeff,#fefeff,#ffffff,#ffffff,#ffffff,#ffffff,#ffffff,#ffffff,#ffffff,#ffffff,#ffffff,#ffffff,#ffffff,#ffffff,#ffffff,#ffffff,#ffffff,#ffffff,#ffffff,#ffffff,#ffffff,#ffffff,#ffffff,#ffffff,#ffffff,#ffffff,#ffffff,#ffffff,#ffffff)"></div>
<div style="left:472px;background-image:linear-gradient(#f7f7ff,#f4f4ff,#f0f0ff,#ebebff,#e5e5ff,#dedeff,#d6d6ff,#cdcdff,#c2c2ff,#b6b6ff,#a9a9ff,#9a9aff,#8c8cff,#7f7fff,#7474ff,#6b6bff,#6565ff,#6060ff,#5c5cff,#5959ff,#5757ff,#5454ff,#5151ff,#4c4cff,#4646ff,#3f3fff,#3636ff,#2d2dff,#2525ff,#1d1dff,#1717ff,#1111ff,#0c0cff,#0606ff,#0100fe,#0900f6,#1100ee,#1a00e5,#2400db,#2e00d1,#3900c6,#4400bb,#4e00b1,#5900a6,#63009c,#6d0092,#780087,#82007d,#8c0073,#960069,#a1005e,#ac0053,#b70048,#c2003d,#cd0032,#d80027,#e2001d,#ea0015,#f0000f,#f1000e,#ed0012,#e3001c,#d4002b,#c2003d,#ae0051,#9a0065,#860079,#75008a,#65009a,#5700a8,#4900b6,#3c00c3,#2e00d1,#1e00e1,#0c00f3,#0606ff,#1919ff,#2a2aff,#3c3cff,#4c4cff,#5a5aff,#6868ff,#7575ff,#8181ff,#8e8eff,#9a9aff,#a7a7ff,#b4b4ff,#c0c0ff,#cbcbff,#d5d5ff,#ddddff,#e4e4ff,#eaeaff,#efefff,#f2f2ff,#f5f5ff,#f8f8ff,#f9f9ff,#fbfbff,#fcfcff,#fdfdff,#fdfdff,#fefeff,#fefeff,#fefeff,#fefeff,#ffffff,#ffffff,#ffffff,#ffffff,#ffffff,#ffffff,#ffffff,#ffffff,#ffffff,#ffffff,#ffffff,#ffffff,#ffffff,#ffffff,#ffffff,#ffffff,#ffffff,#ffffff,#ffffff,#ffffff,#ffffff,#ffffff,#ffffff,#ffffff,#ffffff,#ffffff,#ffffff)"></div>
<div style="left:476px;background-image:linear-gradient(#f7f7ff,#f4f4ff,#f0f0ff,#ebebff,#e5e5ff,#dfdfff,#d7d7ff,#cdcdff,#c3c3ff,#b7b7ff,#a9a9ff,#9b9bff,#8d8dff,#8181ff,#7676ff,#6d6dff,#6666ff,#6262ff,#5e5eff,#5b5bff,#5858ff,#5555ff,#5252ff,#4e4eff,#4848ff,#4040ff,#3737ff,#2e2eff,#2626ff,#1f1fff,#1818ff,#1313ff,#0d0dff,#0707ff,#0000ff,#0700f8,#0f00f0,#1800e7,#2200dd,#2c00d3,#3600c9,#4100be,#4b00b4,#5600a9,#60009f,#690096,#73008c,#7d0082,#860079,#90006f,#9a0065,#a5005a,#b0004f,#bb0044,#c70038,#d3002c,#de0021,#e70018,#ee0011,#f0000f,#ec0013,#e3001c,#d4002b,#c2003d,#ae0051,#990066,#860079,#74008b,#65009a,#5700a8,#4a00b5,#3c00c3,#2e00d1,#1e00e1,#0d00f2,#0606ff,#1919ff,#2b2bff,#3d3dff,#4d4dff,#5c5cff,#6969ff,#7676ff,#8383ff,#8f8fff,#9c9cff,#a8a8ff,#b5b5ff,#c1c1ff,#ccccff,#d5d5ff,#dedeff,#e5e5ff,#eaeaff,#efefff,#f3f3ff,#f5f5ff,#f8f8ff,#f9f9ff,#fbfbff,#fcfcff,#fdfdff,#fdfdff,#fefeff,#fefeff,#fefeff,#fefeff,#ffffff,#ffffff,#ffffff,#ffffff,#ffffff,#ffffff,#ffffff,#ffffff,#ffffff,#ffffff,#ffffff,#ffffff,#ffffff,#ffffff,#ffffff,#ffffff,#ffffff,#ffffff,#ffffff,#ffffff,#ffffff,#ffffff,#ffffff,#ffffff,#ffffff,#ffffff,#ffffff)"></div>
<div style="left:480px;background-image:linear-gradient(#f7f7ff,#f4f4ff,#f0f0ff,#ebebff,#e6e6ff,#dfdfff,#d7d7ff,#ceceff,#c4c4ff,#b8b8ff,#aaaaff,#9d9dff,#8f8fff,#8282ff,#7777ff,#6f6fff,#6868ff,#6464ff,#6060ff,#5d5dff,#5a5aff,#5757ff,#5454ff,#5050ff,#4a4aff,#4242ff,#3a3aff,#3131ff,#2828ff,#2121ff,#1b1bff,#1515ff,#0f0fff,#0909ff,#0303ff,#0500fa,#0d00f2,#1500ea,#1f00e0,#2900d6,#3300cc,#3e00c1,#4800b7,#5200ad,#5b00a4,#65009a,#6e0091,#770088,#80007f,#890076,#92006d,#9d0062,#a80057,#b4004b,#c0003f,#cd0032,#d80027,#e3001c,#ea0015,#ec0013,#e90016,#e0001f,#d2002d,#c0003f,#ac0053,#970068,#84007b,#72008d,#63009c,#5500aa,#4800b7,#3b00c4,#2d00d2,#1d00e2,#0c00f3,#0707ff,#1a1aff,#2d2dff,#3f3fff,#4f4fff,#5e5eff,#6c6cff,#7979ff,#8585ff,#9191ff,#9e9eff,#aaaaff,#b6b6ff,#c2c2ff,#ccccff,#d6d6ff,#dedeff,#e5e5ff,#ebebff,#efefff,#f3f3ff,#f6f6ff,#f8f8ff,#f9f9ff,#fbfbff,#fcfcff,#fdfdff,#fdfdff,#fefeff,#fefeff,#fefeff,#fefeff,#ffffff,#ffffff,#ffffff,#ffffff,#ffffff,#ffffff,#ffffff,#ffffff,#ffffff,#ffffff,#ffffff,#ffffff,#ffffff,#ffffff,#ffffff,#ffffff,#ffffff,#ffffff,#ffffff,#ffffff,#ffffff,#ffffff,#ffffff,#ffffff,#ffffff,#ffffff,#ffffff)"></div>
<div style="left:484px;background-image:linear-gradient(#f8f8ff,#f4f4ff,#f1f1ff,#ececff,#e6e6ff,#dfdfff,#d8d8ff,#cfcfff,#c4c4ff,#b9b9ff,#acacff,#9e9eff,#9191ff,#8484ff,#7979ff,#7171ff,#6b6bff,#6666ff,#6363ff,#6060ff,#5d5dff,#5a5aff,#5757ff,#5252ff,#4d4dff,#4545ff,#3c3cff,#3333ff,#2b2bff,#2424ff,#1e1eff,#1818ff,#1212ff,#0c0cff,#0606ff,#0100fe,#0900f6,#1200ed,#1b00e4,#2500da,#2f00d0,#3900c6,#4300bc,#4c00b3,#5600a9,#5f00a0,#670098,#70008f,#780087,#81007e,#8a0075,#94006b,#9f0060,#ab0054,#b80047,#c5003a,#d1002e,#dc0023,#e3001c,#e60019,#e3001c,#db0024,#cd0032,#bb0044,#a70058,#93006c,#7f0080,#6e0091,#5e00a1,#5100ae,#4400bb,#3700c8,#2900d6,#1a00e5,#0800f7,#0b0bff,#1e1eff,#3030ff,#4242ff,#5252ff,#6161ff,#6f6fff,#7c7cff,#8888ff,#9494ff,#a0a0ff,#acacff,#b8b8ff,#c3c3ff,#ceceff,#d7d7ff,#dfdfff,#e5e5ff,#ebebff,#efefff,#f3f3ff,#f6f6ff,#f8f8ff,#fafaff,#fbfbff,#fcfcff,#fdfdff,#fdfdff,#fefeff,#fefeff,#fefeff,#fefeff,#ffffff,#ffffff,#ffffff,#ffffff,#ffffff,#ffffff,#ffffff,#ffffff,#ffffff,#ffffff,#ffffff,#ffffff,#ffffff,#ffffff,#ffffff,#ffffff,#ffffff,#ffffff,#ffffff,#ffffff,#ffffff,#ffffff,#ffffff,#ffffff,#ffffff,#ffffff,#ffffff)"></div>
<div style="left:488px;background-image:linear-gradient(#f8f8ff,#f5f5ff,#f1f1ff,#ececff,#e7e7ff,#e0e0ff,#d8d8ff,#d0d0ff,#c6c6ff,#babaff,#adadff,#a0a0ff,#9393ff,#8787ff,#7c7cff,#7474ff,#6e6eff,#6969ff,#6666ff,#6363ff,#6060ff,#5d5dff,#5a5aff,#5656ff,#5050ff,#4848ff,#4040ff,#3737ff,#2f2fff,#2828ff,#2121ff,#1c1cff,#1616ff,#1010ff,#0a0aff,#0303ff,#0500fa,#0d00f2,#1600e9,#2000df,#2a00d5,#3300cc,#3d00c2,#4600b9,#4f00b0,#5800a7,#60009f,#680097,#70008f,#780087,#80007f,#8a0075,#95006a,#a1005e,#ae0051,#bb0044,#c70038,#d2002d,#da0025,#dd0022,#da0025,#d2002d,#c4003b,#b3004c,#a0005f,#8b0074,#780087,#670098,#5800a7,#4a00b5,#3d00c2,#3100ce,#2300dc,#1400eb,#0200fd,#1010ff,#2323ff,#3535ff,#4646ff,#5757ff,#6565ff,#7373ff,#7f7fff,#8b8bff,#9797ff,#a3a3ff,#aeaeff,#babaff,#c5c5ff,#cfcfff,#d8d8ff,#e0e0ff,#e6e6ff,#ebebff,#f0f0ff,#f3f3ff,#f6f6ff,#f8f8ff,#fafaff,#fbfbff,#fcfcff,#fdfdff,#fdfdff,#fefeff,#fefeff,#fefeff,#fefeff,#ffffff,#ffffff,#ffffff,#ffffff,#ffffff,#ffffff,#ffffff,#ffffff,#ffffff,#ffffff,#ffffff,#ffffff,#ffffff,#ffffff,#ffffff,#ffffff,#ffffff,#ffffff,#ffffff,#ffffff,#ffffff,#ffffff,#ffffff,#ffffff,#ffffff,#ffffff,#ffffff)"></div>
<div style="left:492px;background-image:linear-gradient(#f8f8ff,#f5f5ff,#f1f1ff,#ededff,#e7e7ff,#e1e1ff,#d9d9ff,#d1d1ff,#c7c7ff,#bcbcff,#afafff,#a2a2ff,#9595ff,#8a8aff,#7f7fff,#7777ff,#7171ff,#6d6dff,#6a6aff,#6767ff,#6464ff,#6161ff,#5e5eff,#5a5aff,#5454ff,#4d4dff,#4444ff,#3c3cff,#3333ff,#2c2cff,#2626ff,#2121ff,#1b1bff,#1616ff,#0f0fff,#0909ff,#0101ff,#0700f8,#1000ef,#1900e6,#2300dc,#2c00d3,#3500ca,#3e00c1,#4700b8,#4f00b0,#5700a8,#5e00a1,#660099,#6e0091,#760089,#7f0080,#8a0075,#960069,#a2005d,#af0050,#bb0044,#c5003a,#cd0032,#d0002f,#ce0031,#c60039,#b90046,#a80057,#95006a,#82007d,#6f0090,#5e00a1,#4f00b0,#4100be,#3500ca,#2800d7,#1a00e5,#0b00f4,#0606ff,#1717ff,#2a2aff,#3b3bff,#4c4cff,#5c5cff,#6a6aff,#7878ff,#8484ff,#9090ff,#9b9bff,#a6a6ff,#b1b1ff,#bcbcff,#c7c7ff,#d0d0ff,#d9d9ff,#e1e1ff,#e7e7ff,#ececff,#f0f0ff,#f3f3ff,#f6f6ff,#f8f8ff,#fafaff,#fbfbff,#fcfcff,#fdfdff,#fdfdff,#fefeff,#fefeff,#fefeff,#fefeff,#ffffff,#ffffff,#ffffff,#ffffff,#ffffff,#ffffff,#ffffff,#ffffff,#ffffff,#ffffff,#ffffff,#ffffff,#ffffff,#ffffff,#ffffff,#ffffff,#ffffff,#ffffff,#ffffff,#ffffff,#ffffff,#ffffff,#ffffff,#ffffff,#ffffff,#ffffff,#ffffff)"></div>
<div style="left:496px;background-image:linear-gradient(#f8f8ff,#f5f5ff,#f2f2ff,#ededff,#e8e8ff,#e2e2ff,#dbdbff,#d2d2ff,#c9c9ff,#bebeff,#b2b2ff,#a5a5ff,#9999ff,#8d8dff,#8383ff,#7c7cff,#7676ff,#7272ff,#6e6eff,#6c6cff,#6969ff,#6666ff,#6363ff,#5f5fff,#5959ff,#5252ff,#4a4aff,#4141ff,#3939ff,#3232ff,#2c2cff,#2727ff,#2222ff,#1c1cff,#1616ff,#1010ff,#0808ff,#0000ff,#0800f7,#1100ee,#1a00e5,#2300dc,#2c00d3,#3500ca,#3d00c2,#4500ba,#4d00b2,#5400ab,#5b00a4,#62009d,#6a0095,#73008c,#7d0082,#880077,#94006b,#a0005f,#ac0053,#b60049,#bd0042,#c0003f,#be0041,#b60049,#aa0055,#9a0065,#880077,#75008a,#63009c,#5200ad,#4300bc,#3600c9,#2900d6,#1d00e2,#0f00f0,#0100fe,#1010ff,#2121ff,#3232ff,#4343ff,#5353ff,#6363ff,#7070ff,#7d7dff,#8989ff,#9494ff,#9f9fff,#aaaaff,#b5b5ff,#bfbfff,#c9c9ff,#d2d2ff,#dbdbff,#e2e2ff,#e8e8ff,#ededff,#f1f1ff,#f4f4ff,#f6f6ff,#f8f8ff,#fafaff,#fbfbff,#fcfcff,#fdfdff,#fdfdff,#fefeff,#fefeff,#fefeff,#fefeff,#ffffff,#ffffff,#ffffff,#ffffff,#ffffff,#ffffff,#ffffff,#ffffff,#ffffff,#ffffff,#ffffff,#ffffff,#ffffff,#ffffff,#ffffff,#ffffff,#ffffff,#ffffff,#ffffff,#ffffff,#ffffff,#ffffff,#ffffff,#ffffff,#ffffff,#ffffff,#ffffff)"></div>
<div style="left:500px;background-image:linear-gradient(#f8f8ff,#f6f6ff,#f2f2ff,#eeeeff,#e9e9ff,#e3e3ff,#dcdcff,#d4d4ff,#cbcbff,#c0c0ff,#b5b5ff,#a9a9ff,#9d9dff,#9292ff,#8888ff,#8181ff,#7b7bff,#7777ff,#7474ff,#7171ff,#6f6fff,#6c6cff,#6969ff,#6565ff,#5f5fff,#5858ff,#5050ff,#4848ff,#4040ff,#3939ff,#3434ff,#2e2eff,#2929ff,#2424ff,#1e1eff,#1818ff,#1111ff,#0909ff,#0101ff,#0700f8,#1000ef,#1900e6,#2100de,#2a00d5,#3200cd,#3900c6,#4000bf,#4700b8,#4e00b1,#5500aa,#5d00a2,#65009a,#6f0090,#790086,#84007b,#90006f,#9a0065,#a4005b,#aa0055,#ad0052,#ab0054,#a4005b,#980067,#890076,#770088,#65009a,#5400ab,#4400bb,#3500ca,#2800d7,#1c00e3,#0f00f0,#0200fd,#0c0cff,#1b1bff,#2c2cff,#3c3cff,#4c4cff,#5c5cff,#6a6aff,#7777ff,#8484ff,#8f8fff,#9a9aff,#a4a4ff,#aeaeff,#b8b8ff,#c2c2ff,#ccccff,#d4d4ff,#dcdcff,#e3e3ff,#e9e9ff,#ededff,#f1f1ff,#f4f4ff,#f7f7ff,#f9f9ff,#fafaff,#fbfbff,#fcfcff,#fdfdff,#fdfdff,#fefeff,#fefeff,#fefeff,#fefeff,#ffffff,#ffffff,#ffffff,#ffffff,#ffffff,#ffffff,#ffffff,#ffffff,#ffffff,#ffffff,#ffffff,#ffffff,#ffffff,#ffffff,#ffffff,#ffffff,#ffffff,#ffffff,#ffffff,#ffffff,#ffffff,#ffffff,#ffffff,#ffffff,#ffffff,#ffffff,#ffffff)"></div>
<div style="left:504px;background-image:linear-gradient(#f9f9ff,#f6f6ff,#f3f3ff,#efefff,#eaeaff,#e4e4ff,#ddddff,#d6d6ff,#cdcdff,#c3c3ff,#b8b8ff,#adadff,#a1a1ff,#9797ff,#8d8dff,#8686ff,#8181ff,#7d7dff,#7a7aff,#7878ff,#7575ff,#7373ff,#7070ff,#6c6cff,#6666ff,#6060ff,#5858ff,#5050ff,#4848ff,#4242ff,#3c3cff,#3737ff,#3232ff,#2d2dff,#2828ff,#2222ff,#1b1bff,#1414ff,#0c0cff,#0404ff,#0400fb,#0d00f2,#1500ea,#1d00e2,#2400db,#2b00d4,#3200cd,#3900c6,#3f00c0,#4600b9,#4d00b2,#5500aa,#5e00a1,#680097,#72008d,#7c0083,#860079,#8e0071,#94006b,#970068,#94006b,#8e0071,#83007c,#74008b,#64009b,#5300ac,#4300bc,#3300cc,#2500da,#1800e7,#0c00f3,#0000ff,#0d0dff,#1a1aff,#2929ff,#3838ff,#4848ff,#5757ff,#6565ff,#7373ff,#7f7fff,#8b8bff,#9595ff,#9f9fff,#a9a9ff,#b3b3ff,#bcbcff,#c6c6ff,#cfcfff,#d7d7ff,#dedeff,#e4e4ff,#eaeaff,#eeeeff,#f2f2ff,#f5f5ff,#f7f7ff,#f9f9ff,#fafaff,#fbfbff,#fcfcff,#fdfdff,#fdfdff,#fefeff,#fefeff,#fefeff,#fefeff,#ffffff,#ffffff,#ffffff,#ffffff,#ffffff,#ffffff,#ffffff,#ffffff,#ffffff,#ffffff,#ffffff,#ffffff,#ffffff,#ffffff,#ffffff,#ffffff,#ffffff,#ffffff,#ffffff,#ffffff,#ffffff,#ffffff,#ffffff,#ffffff,#ffffff,#ffffff,#ffffff)"></div>
<div style="left:508px;background-image:linear-gradient(#f9f9ff,#f7f7ff,#f3f3ff,#efefff,#ebebff,#e5e5ff,#dfdfff,#d8d8ff,#d0d0ff,#c6c6ff,#bcbcff,#b1b1ff,#a6a6ff,#9c9cff,#9494ff,#8d8dff,#8888ff,#8484ff,#8181ff,#7f7fff,#7d7dff,#7a7aff,#7777ff,#7474ff,#6e6eff,#6868ff,#6060ff,#5959ff,#5252ff,#4b4bff,#4646ff,#4141ff,#3d3dff,#3838ff,#3333ff,#2d2dff,#2727ff,#2020ff,#1919ff,#1111ff,#0909ff,#0101ff,#0600f9,#0e00f1,#1500ea,#1c00e3,#2200dd,#2900d6,#2f00d0,#3500ca,#3c00c3,#4400bb,#4c00b3,#5500aa,#5e00a1,#670098,#6f0090,#770088,#7c0083,#7e0081,#7b0084,#75008a,#6b0094,#5e00a1,#4f00b0,#3f00c0,#2f00d0,#2100de,#1300ec,#0700f8,#0505ff,#1111ff,#1d1dff,#2929ff,#3737ff,#4545ff,#5454ff,#6262ff,#6f6fff,#7c7cff,#8787ff,#9292ff,#9c9cff,#a6a6ff,#afafff,#b8b8ff,#c1c1ff,#c9c9ff,#d2d2ff,#d9d9ff,#e0e0ff,#e6e6ff,#ebebff,#efefff,#f2f2ff,#f5f5ff,#f7f7ff,#f9f9ff,#fbfbff,#fcfcff,#fcfcff,#fdfdff,#fefeff,#fefeff,#fefeff,#fefeff,#ffffff,#ffffff,#ffffff,#ffffff,#ffffff,#ffffff,#ffffff,#ffffff,#ffffff,#ffffff,#ffffff,#ffffff,#ffffff,#ffffff,#ffffff,#ffffff,#ffffff,#ffffff,#ffffff,#ffffff,#ffffff,#ffffff,#ffffff,#ffffff,#ffffff,#ffffff,#ffffff,#ffffff)"></div>
<div style="left:512px;background-image:linear-gradient(#f9f9ff,#f7f7ff,#f4f4ff,#f0f0ff,#ececff,#e7e7ff,#e1e1ff,#dbdbff,#d3d3ff,#cacaff,#c0c0ff,#b6b6ff,#acacff,#a2a2ff,#9a9aff,#9494ff,#8f8fff,#8c8cff,#8989ff,#8787ff,#8585ff,#8383ff,#8080ff,#7c7cff,#7777ff,#7171ff,#6a6aff,#6363ff,#5c5cff,#5656ff,#5151ff,#4d4dff,#4848ff,#4444ff,#3f3fff,#3a3aff,#3434ff,#2d2dff,#2727ff,#2020ff,#1818ff,#1111ff,#0a0aff,#0303ff,#0400fb,#0a00f5,#1100ee,#1700e8,#1d00e2,#2300dc,#2900d6,#3000cf,#3800c7,#3f00c0,#4700b8,#4f00b0,#5700a8,#5d00a2,#61009e,#62009d,#60009f,#5a00a5,#5100ae,#4500ba,#3700c8,#2900d6,#1a00e5,#0d00f2,#0000ff,#0c0cff,#1717ff,#2222ff,#2e2eff,#3a3aff,#4646ff,#5454ff,#6161ff,#6e6eff,#7a7aff,#8686ff,#9090ff,#9a9aff,#a4a4ff,#adadff,#b5b5ff,#bdbdff,#c6c6ff,#cdcdff,#d5d5ff,#dcdcff,#e2e2ff,#e8e8ff,#ececff,#f0f0ff,#f3f3ff,#f6f6ff,#f8f8ff,#fafaff,#fbfbff,#fcfcff,#fdfdff,#fdfdff,#fefeff,#fefeff,#fefeff,#fefeff,#ffffff,#ffffff,#ffffff,#ffffff,#ffffff,#ffffff,#ffffff,#ffffff,#ffffff,#ffffff,#ffffff,#ffffff,#ffffff,#ffffff,#ffffff,#ffffff,#ffffff,#ffffff,#ffffff,#ffffff,#ffffff,#ffffff,#ffffff,#ffffff,#ffffff,#ffffff,#ffffff,#ffffff)"></div>
<div style="left:516px;background-image:linear-gradient(#fafaff,#f8f8ff,#f5f5ff,#f2f2ff,#eeeeff,#e9e9ff,#e3e3ff,#ddddff,#d6d6ff,#ceceff,#c5c5ff,#bbbbff,#b2b2ff,#a9a9ff,#a2a2ff,#9c9cff,#9898ff,#9494ff,#9292ff,#9090ff,#8e8eff,#8c8cff,#8989ff,#8686ff,#8181ff,#7b7bff,#7575ff,#6e6eff,#6868ff,#6262ff,#5e5eff,#5959ff,#5555ff,#5151ff,#4c4cff,#4848ff,#4242ff,#3c3cff,#3636ff,#3030ff,#2929ff,#2222ff,#1c1cff,#1515ff,#0f0fff,#0909ff,#0303ff,#0300fc,#0900f6,#0f00f0,#1400eb,#1b00e4,#2100de,#2800d7,#2f00d0,#3600c9,#3c00c3,#4100be,#4500ba,#4500ba,#4300bc,#3e00c1,#3500ca,#2b00d4,#1e00e1,#1100ee,#0400fb,#0808ff,#1414ff,#2020ff,#2a2aff,#3535ff,#3f3fff,#4b4bff,#5656ff,#6262ff,#6e6eff,#7a7aff,#8585ff,#9090ff,#9a9aff,#a3a3ff,#ababff,#b4b4ff,#bbbbff,#c3c3ff,#cacaff,#d2d2ff,#d8d8ff,#dfdfff,#e4e4ff,#e9e9ff,#eeeeff,#f1f1ff,#f4f4ff,#f7f7ff,#f8f8ff,#fafaff,#fbfbff,#fcfcff,#fdfdff,#fdfdff,#fefeff,#fefeff,#fefeff,#fefeff,#ffffff,#ffffff,#ffffff,#ffffff,#ffffff,#ffffff,#ffffff,#ffffff,#ffffff,#ffffff,#ffffff,#ffffff,#ffffff,#ffffff,#ffffff,#ffffff,#ffffff,#ffffff,#ffffff,#ffffff,#ffffff,#ffffff,#ffffff,#ffffff,#ffffff,#ffffff,#ffffff,#ffffff)"></div>
<div style="left:520px;background-image:linear-gradient(#fafaff,#f8f8ff,#f6f6ff,#f3f3ff,#efefff,#ebebff,#e6e6ff,#e0e0ff,#d9d9ff,#d2d2ff,#cacaff,#c1c1ff,#b8b8ff,#b0b0ff,#aaaaff,#a4a4ff,#a0a0ff,#9d9dff,#9b9bff,#9999ff,#9797ff,#9595ff,#9393ff,#9090ff,#8c8cff,#8686ff,#8080ff,#7a7aff,#7474ff,#6f6fff,#6b6bff,#6767ff,#6363ff,#5f5fff,#5b5bff,#5757ff,#5252ff,#4c4cff,#4747ff,#4141ff,#3b3bff,#3434ff,#2e2eff,#2828ff,#2323ff,#1d1dff,#1717ff,#1212ff,#0d0dff,#0707ff,#0202ff,#0400fb,#0a00f5,#1000ef,#1500ea,#1b00e4,#2000df,#2400db,#2700d8,#2800d7,#2500da,#2000df,#1900e6,#0f00f0,#0400fb,#0707ff,#1313ff,#1f1fff,#2929ff,#3434ff,#3e3eff,#4747ff,#5151ff,#5c5cff,#6666ff,#7171ff,#7c7cff,#8686ff,#9090ff,#9a9aff,#a3a3ff,#ababff,#b3b3ff,#bbbbff,#c2c2ff,#c9c9ff,#cfcfff,#d6d6ff,#dcdcff,#e2e2ff,#e7e7ff,#ebebff,#efefff,#f2f2ff,#f5f5ff,#f7f7ff,#f9f9ff,#fafaff,#fcfcff,#fcfcff,#fdfdff,#fdfdff,#fefeff,#fefeff,#fefeff,#fefeff,#ffffff,#ffffff,#ffffff,#ffffff,#ffffff,#ffffff,#ffffff,#ffffff,#ffffff,#ffffff,#ffffff,#ffffff,#ffffff,#ffffff,#ffffff,#ffffff,#ffffff,#ffffff,#ffffff,#ffffff,#ffffff,#ffffff,#ffffff,#ffffff,#ffffff,#ffffff,#ffffff,#ffffff)"></div>
<div style="left:524px;background-image:linear-gradient(#fbfbff,#f9f9ff,#f7f7ff,#f4f4ff,#f0f0ff,#ededff,#e8e8ff,#e3e3ff,#ddddff,#d6d6ff,#cfcfff,#c7c7ff,#bfbfff,#b8b8ff,#b2b2ff,#adadff,#a9a9ff,#a7a7ff,#a5a5ff,#a3a3ff,#a1a1ff,#a0a0ff,#9d9dff,#9a9aff,#9797ff,#9292ff,#8c8cff,#8787ff,#8181ff,#7d7dff,#7979ff,#7575ff,#7272ff,#6e6eff,#6a6aff,#6666ff,#6262ff,#5d5dff,#5858ff,#5353ff,#4d4dff,#4848ff,#4242ff,#3d3dff,#3737ff,#3232ff,#2d2dff,#2828ff,#2323ff,#1e1eff,#1919ff,#1414ff,#0f0fff,#0a0aff,#0505ff,#0101ff,#0400fb,#0700f8,#0900f6,#0900f6,#0700f8,#0300fc,#0404ff,#0c0cff,#1616ff,#2020ff,#2b2bff,#3535ff,#3f3fff,#4848ff,#5151ff,#5a5aff,#6363ff,#6d6dff,#7676ff,#8080ff,#8a8aff,#9393ff,#9c9cff,#a5a5ff,#adadff,#b4b4ff,#bbbbff,#c2c2ff,#c8c8ff,#ceceff,#d4d4ff,#dadaff,#e0e0ff,#e5e5ff,#e9e9ff,#ededff,#f1f1ff,#f4f4ff,#f6f6ff,#f8f8ff,#fafaff,#fbfbff,#fcfcff,#fdfdff,#fdfdff,#fefeff,#fefeff,#fefeff,#fefeff,#ffffff,#ffffff,#ffffff,#ffffff,#ffffff,#ffffff,#ffffff,#ffffff,#ffffff,#ffffff,#ffffff,#ffffff,#ffffff,#ffffff,#ffffff,#ffffff,#ffffff,#ffffff,#ffffff,#ffffff,#ffffff,#ffffff,#ffffff,#ffffff,#ffffff,#ffffff,#ffffff,#ffffff,#ffffff)"></div>
<div style="left:528px;background-image:linear-gradient(#fbfbff,#fafaff,#f7f7ff,#f5f5ff,#f2f2ff,#efefff,#ebebff,#e6e6ff,#e1e1ff,#dbdbff,#d4d4ff,#cdcdff,#c6c6ff,#c0c0ff,#babaff,#b6b6ff,#b3b3ff,#b0b0ff,#afafff,#adadff,#ababff,#aaaaff,#a8a8ff,#a5a5ff,#a2a2ff,#9d9dff,#9898ff,#9393ff,#8f8fff,#8a8aff,#8787ff,#8484ff,#8080ff,#7d7dff,#7a7aff,#7676ff,#7272ff,#6e6eff,#6a6aff,#6565ff,#6060ff,#5b5bff,#5656ff,#5151ff,#4d4dff,#4848ff,#4343ff,#3f3fff,#3a3aff,#3636ff,#3232ff,#2d2dff,#2929ff,#2424ff,#2020ff,#1c1cff,#1919ff,#1717ff,#1515ff,#1515ff,#1717ff,#1b1bff,#2121ff,#2828ff,#3030ff,#3939ff,#4343ff,#4c4cff,#5454ff,#5d5dff,#6565ff,#6d6dff,#7575ff,#7d7dff,#8686ff,#8e8eff,#9797ff,#9f9fff,#a7a7ff,#afafff,#b6b6ff,#bdbdff,#c3c3ff,#c9c9ff,#cfcfff,#d4d4ff,#d9d9ff,#dedeff,#e3e3ff,#e8e8ff,#ececff,#efefff,#f2f2ff,#f5f5ff,#f7f7ff,#f9f9ff,#fafaff,#fbfbff,#fcfcff,#fdfdff,#fdfdff,#fefeff,#fefeff,#fefeff,#fefeff,#ffffff,#ffffff,#ffffff,#ffffff,#ffffff,#ffffff,#ffffff,#ffffff,#ffffff,#ffffff,#ffffff,#ffffff,#ffffff,#ffffff,#ffffff,#ffffff,#ffffff,#ffffff,#ffffff,#ffffff,#ffffff,#ffffff,#ffffff,#ffffff,#ffffff,#ffffff,#ffffff,#ffffff,#ffffff)"></div>
<div style="left:532px;background-image:linear-gradient(#fbfbff,#fafaff,#f8f8ff,#f5f5ff,#f2f2ff,#efefff,#ebebff,#e7e7ff,#e2e2ff,#dcdcff,#d5d5ff,#cfcfff,#c8c8ff,#c2c2ff,#bcbcff,#b8b8ff,#b5b5ff,#b3b3ff,#b1b1ff,#afafff,#aeaeff,#acacff,#aaaaff,#a8a8ff,#a5a5ff,#a0a0ff,#9b9bff,#9797ff,#9292ff,#8e8eff,#8a8aff,#8787ff,#8484ff,#8181ff,#7e7eff,#7a7aff,#7777ff,#7373ff,#6e6eff,#6969ff,#6565ff,#6060ff,#5b5bff,#5757ff,#5252ff,#4d4dff,#4949ff,#4545ff,#4040ff,#3c3cff,#3838ff,#3333ff,#2f2fff,#2b2bff,#2727ff,#2323ff,#2020ff,#1e1eff,#1c1cff,#1c1cff,#1e1eff,#2222ff,#2828ff,#2f2fff,#3737ff,#3f3fff,#4848ff,#5151ff,#5a5aff,#6262ff,#6a6aff,#7272ff,#7979ff,#8181ff,#8a8aff,#9292ff,#9a9aff,#a2a2ff,#aaaaff,#b1b1ff,#b8b8ff,#bfbfff,#c5c5ff,#cbcbff,#d0d0ff,#d5d5ff,#dbdbff,#dfdfff,#e4e4ff,#e8e8ff,#ececff,#f0f0ff,#f3f3ff,#f5f5ff,#f7f7ff,#f9f9ff,#fafaff,#fbfbff,#fcfcff,#fdfdff,#fdfdff,#fefeff,#fefeff,#fefeff,#fefeff,#ffffff,#ffffff,#ffffff,#ffffff,#ffffff,#ffffff,#ffffff,#ffffff,#ffffff,#ffffff,#ffffff,#ffffff,#ffffff,#ffffff,#ffffff,#ffffff,#ffffff,#ffffff,#ffffff,#ffffff,#ffffff,#ffffff,#ffffff,#ffffff,#ffffff,#ffffff,#ffffff,#ffffff,#ffffff)"></div>
<div style="left:536px;background-image:linear-gradient(#fbfbff,#fafaff,#f8f8ff,#f5f5ff,#f2f2ff,#efefff,#ebebff,#e7e7ff,#e2e2ff,#dcdcff,#d5d5ff,#cfcfff,#c8c8ff,#c2c2ff,#bcbcff,#b8b8ff,#b5b5ff,#b3b3ff,#b1b1ff,#afafff,#aeaeff,#acacff,#aaaaff,#a8a8ff,#a5a5ff,#a0a0ff,#9b9bff,#9797ff,#9292ff,#8e8eff,#8a8aff,#8787ff,#8484ff,#8181ff,#7e7eff,#7a7aff,#7777ff,#7373ff,#6e6eff,#6969ff,#6565ff,#6060ff,#5b5bff,#5757ff,#5252ff,#4d4dff,#4949ff,#4545ff,#4040ff,#3c3cff,#3838ff,#3333ff,#2f2fff,#2b2bff,#2727ff,#2323ff,#2020ff,#1e1eff,#1c1cff,#1c1cff,#1e1eff,#2222ff,#2828ff,#2f2fff,#3737ff,#3f3fff,#4848ff,#5151ff,#5a5aff,#6262ff,#6a6aff,#7272ff,#7979ff,#8181ff,#8a8aff,#9292ff,#9a9aff,#a2a2ff,#aaaaff,#b1b1ff,#b8b8ff,#bfbfff,#c5c5ff,#cbcbff,#d0d0ff,#d5d5ff,#dbdbff,#dfdfff,#e4e4ff,#e8e8ff,#ececff,#f0f0ff,#f3f3ff,#f5f5ff,#f7f7ff,#f9f9ff,#fafaff,#fbfbff,#fcfcff,#fdfdff,#fdfdff,#fefeff,#fefeff,#fefeff,#fefeff,#ffffff,#ffffff,#ffffff,#ffffff,#ffffff,#ffffff,#ffffff,#ffffff,#ffffff,#ffffff,#ffffff,#ffffff,#ffffff,#ffffff,#ffffff,#ffffff,#ffffff,#ffffff,#ffffff,#ffffff,#ffffff,#ffffff,#ffffff,#ffffff,#ffffff,#ffffff,#ffffff,#ffffff,#ffffff)"></div>
<div style="left:540px;background-image:linear-gradient(#fbfbff,#fafaff,#f8f8ff,#f5f5ff,#f2f2ff,#efefff,#ebebff,#e7e7ff,#e2e2ff,#dcdcff,#d5d5ff,#cfcfff,#c8c8ff,#c2c2ff,#bcbcff,#b8b8ff,#b5b5ff,#b3b3ff,#b1b1ff,#afafff,#aeaeff,#acacff,#aaaaff,#a8a8ff,#a5a5ff,#a0a0ff,#9b9bff,#9797ff,#9292ff,#8e8eff,#8a8aff,#8787ff,#8484ff,#8181ff,#7e7eff,#7a7aff,#7777ff,#7373ff,#6e6eff,#6969ff,#6565ff,#6060ff,#5b5bff,#5757ff,#5252ff,#4d4dff,#4949ff,#4545ff,#4040ff,#3c3cff,#3838ff,#3333ff,#2f2fff,#2b2bff,#2727ff,#2323ff,#2020ff,#1e1eff,#1c1cff,#1c1cff,#1e1eff,#2222ff,#2828ff,#2f2fff,#3737ff,#3f3fff,#4848ff,#5151ff,#5a5aff,#6262ff,#6a6aff,#7272ff,#7979ff,#8181ff,#8a8aff,#9292ff,#9a9aff,#a2a2ff,#aaaaff,#b1b1ff,#b8b8ff,#bfbfff,#c5c5ff,#cbcbff,#d0d0ff,#d5d5ff,#dbdbff,#dfdfff,#e4e4ff,#e8e8ff,#ececff,#f0f0ff,#f3f3ff,#f5f5ff,#f7f7ff,#f9f9ff,#fafaff,#fbfbff,#fcfcff,#fdfdff,#fdfdff,#fefeff,#fefeff,#fefeff,#fefeff,#ffffff,#ffffff,#ffffff,#ffffff,#ffffff,#ffffff,#ffffff,#ffffff,#ffffff,#ffffff,#ffffff,#ffffff,#ffffff,#ffffff,#ffffff,#ffffff,#ffffff,#ffffff,#ffffff,#ffffff,#ffffff,#ffffff,#ffffff,#ffffff,#ffffff,#ffffff,#ffffff,#ffffff,#ffffff)"></div>
<div style="left:544px;background-image:linear-gradient(#fbfbff,#fafaff,#f8f8ff,#f5f5ff,#f2f2ff,#efefff,#ebebff,#e7e7ff,#e2e2ff,#dcdcff,#d5d5ff,#cfcfff,#c8c8ff,#c2c2ff,#bcbcff,#b8b8ff,#b5b5ff,#b3b3ff,#b1b1ff,#afafff,#aeaeff,#acacff,#aaaaff,#a8a8ff,#a5a5ff,#a0a0ff,#9b9bff,#9797ff,#9292ff,#8e8eff,#8a8aff,#8787ff,#8484ff,#8181ff,#7e7eff,#7a7aff,#7777ff,#7373ff,#6e6eff,#6969ff,#6565ff,#6060ff,#5b5bff,#5757ff,#5252ff,#4d4dff,#4949ff,#4545ff,#4040ff,#3c3cff,#3838ff,#3333ff,#2f2fff,#2b2bff,#2727ff,#2323ff,#2020ff,#1e1eff,#1c1cff,#1c1cff,#1e1eff,#2222ff,#2828ff,#2f2fff,#3737ff,#3f3fff,#4848ff,#5151ff,#5a5aff,#6262ff,#6a6aff,#7272ff,#7979ff,#8181ff,#8a8aff,#9292ff,#9a9aff,#a2a2ff,#aaaaff,#b1b1ff,#b8b8ff,#bfbfff,#c5c5ff,#cbcbff,#d0d0ff,#d5d5ff,#dbdbff,#dfdfff,#e4e4ff,#e8e8ff,#ececff,#f0f0ff,#f3f3ff,#f5f5ff,#f7f7ff,#f9f9ff,#fafaff,#fbfbff,#fcfcff,#fdfdff,#fdfdff,#fefeff,#fefeff,#fefeff,#fefeff,#ffffff,#ffffff,#ffffff,#ffffff,#ffffff,#ffffff,#ffffff,#ffffff,#ffffff,#ffffff,#ffffff,#ffffff,#ffffff,#ffffff,#ffffff,#ffffff,#ffffff,#ffffff,#ffffff,#ffffff,#ffffff,#ffffff,#ffffff,#ffffff,#ffffff,#ffffff,#ffffff,#ffffff,#ffffff)"></div>
</div></div>
<svg width="1280" height="1280" viewBox="0 0 1280 1280">
<defs>
<clipPath id="c1"><rect x="59.76" y="47.81" width="532.43" height="532.43"/></clipPath>
<clipPath id="c2"><rect x="699.76" y="47.81" width="532.43" height="532.43"/></clipPath>
<clipPath id="c3"><rect x="59.76" y="687.81" width="532.43" height="532.43"/></clipPath>
<clipPath id="c4"><rect x="699.76" y="687.81" width="532.43" height="532.43"/></clipPath>
</defs>
<path d="M114.8 476.6h.01m235.59 0h.01M101.9 452.1h.01m130.99 0h.01m144.39 0h.01m72.69 0h.01M104.4 448.6h.01M102.4 441.6h.01m73.19 0h.01m134.39 0h.01m176.79 0h.01m25.89 0h.01M116.8 434.7h.01m124.99 0h.01m153.39 0h.01M142.2 445.1h.01m74.69 0h.01m214.09 0h.01M157.7 431.2h.01m112.99 0h.01m19.39 0h.01m158.89 0h.01M188 438.1h.01m21.39 0h.01M258.2 427.7h.01m47.89 0h.01m58.69 0h.01M272.7 459.1h.01M298.1 466.1h.01M342.4 480.1h.01M91.9 424.2h.01m58.29 0h.01m75.69 0h.01m137.89 0h.01m27.39 0h.01m141.39 0h.01m12.49 0h.01M84 420.7h.01m43.79 0h.01m69.19 0h.01m124.99 0h.01m85.59 0h.01m62.29 0h.01m88.09 0h.01M504.7 455.6h.01M569 560.5h.01M171.1 417.2h.01m20.39 0h.01m10.49 0h.01m33.79 0h.01m7.99 0h.01m28.39 0h.01m101.59 0h.01m36.29 0h.01m1.99 0h.01m61.79 0h.01m71.19 0h.01m3.49 0h.01M118.8 413.7h.01m6.99 0h.01m31.89 0h.01m30.29 0h.01m52.79 0h.01m6.49 0h.01m50.79 0h.01m11.39 0h.01m98.09 0h.01m14.99 0h.01m18.89 0h.01m76.69 0h.01M123.8 410.2h.01m18.39 0h.01m31.89 0h.01m36.79 0h.01m162.89 0h.01m1.49 0h.01m61.19 0h.01m46.79 0h.01m19.49 0h.01m2.39 0h.01m33.89 0h.01m1.49 0h.01M206.5 406.7h.01m0.99 0h.01m7.39 0h.01m27.89 0h.01m4.49 0h.01m7.49 0h.01m48.29 0h.01m21.39 0h.01m24.39 0h.01m57.69 0h.01m120.09 0h.01m16.39 0h.01M81.5 403.2h.01m30.79 0h.01m53.29 0h.01m53.29 0h.01m163.79 0h.01m5.49 0h.01M152.7 399.7h.01m13.89 0h.01m0.99 0h.01m15.99 0h.01m2.89 0h.01m14.49 0h.01m4.49 0h.01m2.99 0h.01m8.89 0h.01m8.99 0h.01m3.49 0h.01m67.69 0h.01m16.39 0h.01m0.99 0h.01m3.49 0h.01m5.99 0h.01m125.49 0h.01m44.29 0h.01m11.89 0h.01M118.3 396.2h.01m2.49 0h.01m43.79 0h.01m17.49 0h.01m19.89 0h.01m0.49 0h.01m141.89 0h.01m35.39 0h.01m3.39 0h.01m7.99 0h.01m25.39 0h.01m38.29 0h.01M83.5 392.7h.01m8.89 0h.01m14.99 0h.01m13.39 0h.01m17.39 0h.01m23.39 0h.01m5.49 0h.01m12.49 0h.01m2.99 0h.01m15.39 0h.01m17.89 0h.01m2.99 0h.01m0.49 0h.01m14.89 0h.01m8.99 0h.01m0.99 0h.01m6.49 0h.01m9.89 0h.01m5.49 0h.01m14.99 0h.01m9.89 0h.01m6.49 0h.01m20.39 0h.01m12.49 0h.01m3.89 0h.01m16.99 0h.01m31.79 0h.01m65.29 0h.01m16.39 0h.01m45.29 0h.01m2.49 0h.01m3.99 0h.01m6.49 0h.01m10.39 0h.01m13.99 0h.01m8.89 0h.01m2.99 0h.01M79.5 389.2h.01m21.89 0h.01m4.49 0h.01m15.89 0h.01m2.49 0h.01m34.89 0h.01m1.39 0h.01m1.49 0h.01m44.89 0h.01m7.89 0h.01m7.99 0h.01m26.39 0h.01m1.99 0h.01m36.79 0h.01m1.49 0h.01m25.89 0h.01m1.99 0h.01m1.49 0h.01m15.89 0h.01m7.99 0h.01m31.89 0h.01m34.29 0h.01m2.49 0h.01m14.49 0h.01m1.49 0h.01m8.39 0h.01m4.49 0h.01m15.89 0h.01m2.49 0h.01m3.99 0h.01m3.49 0h.01m39.79 0h.01m2.49 0h.01m0.49 0h.01m4.49 0h.01m31.89 0h.01m10.39 0h.01m5.99 0h.01m3.99 0h.01m2.99 0h.01M89.4 385.7h.01m10.99 0h.01m11.39 0h.01m23.49 0h.01m2.39 0h.01m11.49 0h.01m1.99 0h.01m9.39 0h.01m5.49 0h.01m13.49 0h.01m7.89 0h.01m41.89 0h.01m6.39 0h.01m11.99 0h.01m14.39 0h.01m21.39 0h.01m4.49 0h.01m7.49 0h.01m18.89 0h.01m9.49 0h.01m4.49 0h.01m15.89 0h.01m3.99 0h.01m34.29 0h.01m1.49 0h.01m37.89 0h.01m6.99 0h.01m24.39 0h.01m0.49 0h.01m2.89 0h.01m56.79 0h.01m1.49 0h.01m1.99 0h.01m1.49 0h.01m22.39 0h.01m21.89 0h.01m0.49 0h.01m8.49 0h.01M94.4 382.2h.01m2.49 0h.01m3.99 0h.01m31.39 0h.01m20.89 0h.01m9.89 0h.01m9.49 0h.01m11.89 0h.01m0.99 0h.01m2.99 0h.01m0.49 0h.01m32.89 0h.01m22.39 0h.01m5.99 0h.01m12.89 0h.01m0.49 0h.01m12.99 0h.01m13.39 0h.01m4.49 0h.01m11.99 0h.01m5.89 0h.01m3.99 0h.01m7.99 0h.01m4.49 0h.01m12.39 0h.01m33.39 0h.01m0.99 0h.01m17.89 0h.01m1.49 0h.01m4.49 0h.01m0.99 0h.01m10.39 0h.01m5.99 0h.01m2.99 0h.01m59.69 0h.01m3.99 0h.01m4.99 0h.01m6.99 0h.01m0.49 0h.01m10.39 0h.01m1.49 0h.01m19.49 0h.01m20.89 0h.01m7.39 0h.01m1.99 0h.01M84 378.7h.01m11.89 0h.01m10.99 0h.01m4.39 0h.01m2.49 0h.01m3.49 0h.01m8.99 0h.01m7.49 0h.01m1.89 0h.01m4.49 0h.01m0.49 0h.01m1.49 0h.01m3.99 0h.01m7.49 0h.01m5.99 0h.01m2.39 0h.01m11.49 0h.01m9.99 0h.01m0.49 0h.01m15.39 0h.01m1.99 0h.01m6.99 0h.01m6.89 0h.01m0.49 0h.01m7.99 0h.01m6.49 0h.01m2.99 0h.01m2.39 0h.01m6.49 0h.01m0.49 0h.01m2.99 0h.01m6.99 0h.01m7.39 0h.01m0.49 0h.01m6.99 0h.01m1.49 0h.01m0.49 0h.01m7.99 0h.01m5.39 0h.01m5.99 0h.01m1.99 0h.01m1.49 0h.01m10.99 0h.01m1.49 0h.01m0.49 0h.01m10.39 0h.01m3.49 0h.01m1.49 0h.01m0.49 0h.01m7.99 0h.01m2.39 0h.01m1.99 0h.01m9.99 0h.01m2.49 0h.01m5.99 0h.01m20.39 0h.01m13.39 0h.01m7.99 0h.01m21.39 0h.01m1.99 0h.01m5.49 0h.01m7.39 0h.01m1.49 0h.01m13.49 0h.01m1.49 0h.01m1.99 0h.01m0.99 0h.01m0.99 0h.01m9.89 0h.01m3.49 0h.01m9.49 0h.01m2.49 0h.01m3.39 0h.01m6.49 0h.01m1.99 0h.01m18.39 0h.01m6.49 0h.01m8.99 0h.01m1.49 0h.01m1.49 0h.01m15.39 0h.01m5.49 0h.01m3.99 0h.01m2.89 0h.01m7.99 0h.01m0.49 0h.01m0.99 0h.01m0.49 0h.01M79 375.2h.01m23.39 0h.01m1.99 0h.01m6.39 0h.01m0.49 0h.01m1.49 0h.01m20.49 0h.01m5.39 0h.01m14.49 0h.01m5.99 0h.01m2.89 0h.01m2.49 0h.01m0.49 0h.01m0.49 0h.01m22.89 0h.01m33.39 0h.01m3.49 0h.01m18.89 0h.01m5.99 0h.01m3.99 0h.01m4.39 0h.01m3.99 0h.01m5.49 0h.01m1.49 0h.01m5.99 0h.01m14.89 0h.01m15.49 0h.01m1.89 0h.01m8.49 0h.01m6.49 0h.01m19.89 0h.01m58.29 0h.01m2.49 0h.01m3.39 0h.01m7.99 0h.01m5.49 0h.01m14.89 0h.01m2.49 0h.01m0.99 0h.01m0.99 0h.01m5.99 0h.01m15.89 0h.01m1.49 0h.01m12.99 0h.01m3.89 0h.01m35.89 0h.01m9.99 0h.01m1.89 0h.01m6.49 0h.01m12.99 0h.01m8.89 0h.01m3.49 0h.01m0.99 0h.01M114.8 371.7h.01m2.99 0h.01m20.39 0h.01m1.49 0h.01m9.49 0h.01m0.99 0h.01m2.49 0h.01m3.49 0h.01m2.49 0h.01m2.89 0h.01m21.49 0h.01m16.89 0h.01m4.49 0h.01m24.89 0h.01m1.49 0h.01m23.39 0h.01m0.99 0h.01m7.39 0h.01m2.99 0h.01m1.99 0h.01m5.49 0h.01m4.99 0h.01m7.39 0h.01m4.49 0h.01m0.99 0h.01m1.99 0h.01m12.49 0h.01m1.49 0h.01m3.89 0h.01m14.99 0h.01m28.89 0h.01m2.39 0h.01m1.49 0h.01m2.49 0h.01m5.99 0h.01m1.49 0h.01m7.99 0h.01m6.89 0h.01m5.99 0h.01m11.99 0h.01m1.49 0h.01m4.89 0h.01m20.99 0h.01m1.89 0h.01m7.99 0h.01m0.99 0h.01m3.99 0h.01m19.89 0h.01m15.39 0h.01m2.49 0h.01m0.99 0h.01m17.99 0h.01m0.99 0h.01m3.89 0h.01m9.49 0h.01m23.89 0h.01m3.49 0h.01m2.99 0h.01m2.99 0h.01M81 368.2h.01m1.99 0h.01m5.89 0h.01m7.49 0h.01m11.99 0h.01m0.99 0h.01m3.39 0h.01m13.49 0h.01m1.99 0h.01m15.89 0h.01m17.39 0h.01m16.49 0h.01m19.39 0h.01m7.99 0h.01m7.39 0h.01m2.99 0h.01m0.99 0h.01m2.49 0h.01m8.49 0h.01m9.89 0h.01m9.99 0h.01m19.39 0h.01m9.49 0h.01m7.39 0h.01m5.49 0h.01m13.49 0h.01m3.49 0h.01m1.89 0h.01m2.99 0h.01m9.49 0h.01m0.99 0h.01m1.49 0h.01m20.39 0h.01m5.49 0h.01m8.89 0h.01m2.49 0h.01m3.49 0h.01m4.99 0h.01m5.99 0h.01m16.89 0h.01m14.39 0h.01m15.49 0h.01m6.49 0h.01m17.39 0h.01m2.49 0h.01m4.49 0h.01m38.29 0h.01m5.99 0h.01m6.89 0h.01m5.99 0h.01m16.49 0h.01m1.39 0h.01m2.99 0h.01m3.99 0h.01m17.39 0h.01m3.49 0h.01m1.49 0h.01m3.49 0h.01m8.49 0h.01m0.99 0h.01M81.5 364.7h.01m3.99 0h.01m0.89 0h.01m16.49 0h.01m2.49 0h.01m4.49 0h.01m0.49 0h.01m21.89 0h.01m14.39 0h.01m6.99 0h.01m5.99 0h.01m0.39 0h.01m3.99 0h.01m18.99 0h.01m2.39 0h.01m8.99 0h.01m6.99 0h.01m0.99 0h.01m2.99 0h.01m2.99 0h.01m3.39 0h.01m4.49 0h.01m6.49 0h.01m0.49 0h.01m0.49 0h.01m4.49 0h.01m3.49 0h.01m2.89 0h.01m2.99 0h.01m15.99 0h.01m4.39 0h.01m3.49 0h.01m10.99 0h.01m1.49 0h.01m1.49 0h.01m6.49 0h.01m1.39 0h.01m0.49 0h.01m2.49 0h.01m10.49 0h.01m0.49 0h.01m2.49 0h.01m6.49 0h.01m15.89 0h.01m25.89 0h.01m6.49 0h.01m0.49 0h.01m2.89 0h.01m1.49 0h.01m10.49 0h.01m2.49 0h.01m5.49 0h.01m3.39 0h.01m8.49 0h.01m0.99 0h.01m3.49 0h.01m5.99 0h.01m0.49 0h.01m4.39 0h.01m9.99 0h.01m14.89 0h.01m3.49 0h.01m7.99 0h.01m1.49 0h.01m0.49 0h.01m0.99 0h.01m0.49 0h.01m0.49 0h.01m1.49 0h.01m3.49 0h.01m2.99 0h.01m4.39 0h.01m5.99 0h.01m15.39 0h.01m26.89 0h.01m4.99 0h.01m10.49 0h.01m1.49 0h.01m9.89 0h.01m7.99 0h.01m22.39 0h.01M79.5 361.2h.01m12.39 0h.01m5.99 0h.01m12.89 0h.01m8.49 0h.01m3.49 0h.01m4.99 0h.01m7.89 0h.01m1.49 0h.01m1.49 0h.01m11.49 0h.01m3.49 0h.01m25.89 0h.01m9.39 0h.01m9.49 0h.01m4.99 0h.01m8.89 0h.01m7.49 0h.01m1.49 0h.01m4.99 0h.01m4.99 0h.01m1.99 0h.01m0.89 0h.01m11.49 0h.01m3.49 0h.01m9.89 0h.01m12.99 0h.01m8.49 0h.01m12.89 0h.01m0.99 0h.01m7.49 0h.01m30.79 0h.01m3.49 0h.01m12.49 0h.01m2.49 0h.01m4.49 0h.01m1.39 0h.01m4.99 0h.01m3.99 0h.01m3.49 0h.01m3.49 0h.01m6.49 0h.01m1.89 0h.01m0.49 0h.01m1.99 0h.01m0.99 0h.01m2.49 0h.01m0.49 0h.01m37.39 0h.01m25.89 0h.01m0.99 0h.01m6.39 0h.01m30.89 0h.01m2.49 0h.01m2.49 0h.01m10.39 0h.01m8.49 0h.01m8.49 0h.01m3.49 0h.01m0.49 0h.01m18.89 0h.01m24.39 0h.01M79 357.7h.01m8.39 0h.01m17.49 0h.01m1.49 0h.01m1.49 0h.01m3.39 0h.01m1.49 0h.01m3.49 0h.01m1.99 0h.01m0.99 0h.01m0.99 0h.01m7.49 0h.01m6.99 0h.01m5.39 0h.01m1.49 0h.01m1.99 0h.01m5.49 0h.01m4.99 0h.01m3.99 0h.01m1.49 0h.01m0.39 0h.01m0.99 0h.01m0.99 0h.01m6.49 0h.01m6.99 0h.01m5.49 0h.01m4.89 0h.01m6.49 0h.01m2.49 0h.01m9.99 0h.01m1.99 0h.01m0.49 0h.01m0.49 0h.01m0.49 0h.01m0.89 0h.01m5.49 0h.01m8.99 0h.01m1.49 0h.01m3.99 0h.01m5.89 0h.01m3.49 0h.01m2.99 0h.01m0.49 0h.01m3.49 0h.01m5.99 0h.01m1.99 0h.01m2.49 0h.01m3.39 0h.01m7.49 0h.01m4.99 0h.01m1.49 0h.01m1.99 0h.01m2.49 0h.01m6.89 0h.01m15.49 0h.01m0.49 0h.01m1.99 0h.01m0.49 0h.01m2.49 0h.01m4.39 0h.01m3.99 0h.01m0.49 0h.01m1.49 0h.01m6.49 0h.01m4.49 0h.01m2.49 0h.01m8.89 0h.01m3.99 0h.01m5.49 0h.01m3.99 0h.01m7.39 0h.01m3.49 0h.01m2.99 0h.01m1.99 0h.01m0.49 0h.01m2.99 0h.01m0.99 0h.01m3.99 0h.01m7.39 0h.01m3.99 0h.01m1.49 0h.01m3.99 0h.01m2.99 0h.01m3.99 0h.01m0.49 0h.01m3.99 0h.01m3.39 0h.01m15.99 0h.01m2.49 0h.01m6.89 0h.01m0.99 0h.01m5.99 0h.01m0.99 0h.01m0.99 0h.01m0.49 0h.01m0.49 0h.01m6.99 0h.01m2.99 0h.01m0.39 0h.01m2.99 0h.01m3.49 0h.01m21.39 0h.01m2.49 0h.01m5.49 0h.01m5.49 0h.01m3.49 0h.01m0.99 0h.01m1.49 0h.01m12.39 0h.01m7.99 0h.01m1.99 0h.01m2.49 0h.01m3.39 0h.01m8.49 0h.01m2.99 0h.01m0.49 0h.01m0.99 0h.01m2.49 0h.01m4.99 0h.01m0.99 0h.01m0.49 0h.01m1.39 0h.01m0.99 0h.01m2.49 0h.01m1.49 0h.01m9.49 0h.01m2.49 0h.01M84.5 354.2h.01m1.49 0h.01m0.89 0h.01m0.99 0h.01m0.49 0h.01m1.49 0h.01m1.49 0h.01m2.99 0h.01m4.49 0h.01m1.99 0h.01m0.99 0h.01m1.49 0h.01m0.49 0h.01m1.49 0h.01m2.99 0h.01m0.49 0h.01m1.49 0h.01m0.89 0h.01m4.49 0h.01m5.99 0h.01m0.49 0h.01m2.99 0h.01m6.49 0h.01m1.49 0h.01m1.49 0h.01m0.49 0h.01m5.89 0h.01m1.49 0h.01m2.99 0h.01m1.99 0h.01m0.49 0h.01m2.99 0h.01m0.99 0h.01m1.49 0h.01m0.49 0h.01m2.99 0h.01m2.89 0h.01m4.49 0h.01m0.99 0h.01m2.99 0h.01m3.49 0h.01m3.49 0h.01m0.49 0h.01m0.49 0h.01m3.49 0h.01m0.49 0h.01m2.49 0h.01m0.49 0h.01m6.39 0h.01m2.99 0h.01m4.49 0h.01m1.99 0h.01m1.99 0h.01m0.49 0h.01m4.99 0h.01m5.89 0h.01m0.49 0h.01m6.99 0h.01m3.49 0h.01m3.49 0h.01m0.49 0h.01m1.99 0h.01m13.89 0h.01m0.49 0h.01m5.99 0h.01m0.49 0h.01m1.49 0h.01m2.49 0h.01m0.99 0h.01m1.99 0h.01m1.39 0h.01m1.99 0h.01m1.99 0h.01m0.49 0h.01m2.99 0h.01m0.49 0h.01m0.49 0h.01m5.49 0h.01m3.49 0h.01m1.49 0h.01m0.49 0h.01m2.49 0h.01m2.89 0h.01m3.49 0h.01m5.49 0h.01m1.99 0h.01m0.49 0h.01m3.99 0h.01m0.49 0h.01m8.89 0h.01m0.49 0h.01m2.49 0h.01m1.99 0h.01m1.49 0h.01m1.99 0h.01m1.99 0h.01m3.99 0h.01m2.49 0h.01m1.49 0h.01m1.49 0h.01m8.39 0h.01m2.49 0h.01m0.49 0h.01m2.49 0h.01m2.49 0h.01m0.99 0h.01m1.49 0h.01m3.49 0h.01m1.99 0h.01m0.49 0h.01m0.49 0h.01m3.89 0h.01m1.49 0h.01m1.99 0h.01m0.99 0h.01m0.49 0h.01m1.99 0h.01m0.49 0h.01m3.49 0h.01m1.99 0h.01m3.49 0h.01m0.49 0h.01m5.39 0h.01m0.99 0h.01m2.49 0h.01m4.49 0h.01m3.49 0h.01m3.99 0h.01m0.99 0h.01m0.99 0h.01m1.49 0h.01m1.99 0h.01m1.49 0h.01m2.89 0h.01m0.49 0h.01m0.49 0h.01m0.99 0h.01m6.99 0h.01m2.49 0h.01m1.49 0h.01m5.49 0h.01m4.99 0h.01m0.89 0h.01m1.49 0h.01m5.99 0h.01m0.99 0h.01m1.49 0h.01m4.99 0h.01m1.49 0h.01m1.49 0h.01m6.89 0h.01m2.49 0h.01m1.49 0h.01m5.99 0h.01m2.99 0h.01m2.49 0h.01m1.99 0h.01m2.99 0h.01m4.39 0h.01m2.49 0h.01m0.49 0h.01m0.49 0h.01m1.49 0h.01m6.49 0h.01m3.49 0h.01m4.99 0h.01m4.89 0h.01m2.49 0h.01m1.99 0h.01m0.99 0h.01m9.49 0h.01m0.49 0h.01m0.49 0h.01m6.89 0h.01m2.49 0h.01m0.99 0h.01m2.99 0h.01m4.99 0h.01m3.99 0h.01m2.99 0h.01m2.99 0h.01m1.49 0h.01m0.99 0h.01m1.89 0h.01m0.99 0h.01m3.99 0h.01m1.49 0h.01m0.99 0h.01m1.99 0h.01m0.49 0h.01m4.49 0h.01m2.49 0h.01M84.5 350.7h.01m1.49 0h.01m1.39 0h.01m8.99 0h.01m14.89 0h.01m22.99 0h.01m3.39 0h.01m26.89 0h.01m7.49 0h.01m7.99 0h.01m5.39 0h.01m10.99 0h.01m3.99 0h.01m11.39 0h.01m1.49 0h.01m6.49 0h.01m6.99 0h.01m1.49 0h.01m11.39 0h.01m11.99 0h.01m0.49 0h.01m4.49 0h.01m3.39 0h.01m7.99 0h.01m22.89 0h.01m4.49 0h.01m15.39 0h.01m9.49 0h.01m4.49 0h.01m6.89 0h.01m34.39 0h.01m2.49 0h.01m6.49 0h.01m2.49 0h.01m4.89 0h.01m5.49 0h.01m0.99 0h.01m5.49 0h.01m6.99 0h.01m19.39 0h.01m10.39 0h.01m0.49 0h.01m17.99 0h.01m5.89 0h.01m1.49 0h.01m3.99 0h.01m19.39 0h.01m13.49 0h.01m2.99 0h.01m2.49 0h.01m9.89 0h.01m9.99 0h.01m11.39 0h.01m1.49 0h.01M85.5 347.2h.01m5.39 0h.01m2.99 0h.01m10.49 0h.01m1.49 0h.01m7.89 0h.01m1.49 0h.01m0.99 0h.01m15.99 0h.01m0.49 0h.01m3.39 0h.01m2.99 0h.01m3.99 0h.01m4.99 0h.01m0.99 0h.01m1.99 0h.01m2.49 0h.01m13.39 0h.01m4.49 0h.01m3.99 0h.01m2.49 0h.01m0.99 0h.01m4.49 0h.01m0.49 0h.01m1.89 0h.01m0.99 0h.01m1.49 0h.01m5.99 0h.01m4.99 0h.01m5.99 0h.01m0.49 0h.01m1.99 0h.01m6.89 0h.01m0.99 0h.01m0.49 0h.01m0.49 0h.01m0.99 0h.01m8.99 0h.01m0.49 0h.01m0.99 0h.01m13.39 0h.01m0.99 0h.01m1.49 0h.01m3.99 0h.01m3.99 0h.01m7.89 0h.01m1.99 0h.01m1.49 0h.01m1.99 0h.01m0.99 0h.01m2.49 0h.01m1.49 0h.01m0.49 0h.01m3.49 0h.01m1.99 0h.01m3.49 0h.01m5.39 0h.01m0.49 0h.01m0.99 0h.01m4.49 0h.01m1.49 0h.01m7.49 0h.01m0.49 0h.01m6.89 0h.01m1.99 0h.01m1.99 0h.01m4.49 0h.01m2.99 0h.01m0.49 0h.01m2.49 0h.01m6.99 0h.01m4.89 0h.01m2.49 0h.01m12.99 0h.01m1.99 0h.01m0.99 0h.01m6.89 0h.01m0.49 0h.01m3.49 0h.01m4.99 0h.01m0.99 0h.01m4.49 0h.01m2.99 0h.01m7.39 0h.01m0.49 0h.01m8.49 0h.01m4.49 0h.01m2.99 0h.01m42.79 0h.01m1.99 0h.01m4.49 0h.01m0.49 0h.01m2.49 0h.01m6.39 0h.01m0.49 0h.01m5.49 0h.01m4.99 0h.01m2.49 0h.01m0.49 0h.01m1.49 0h.01m3.89 0h.01m5.49 0h.01m1.99 0h.01m8.49 0h.01m1.99 0h.01m7.39 0h.01m1.99 0h.01m9.49 0h.01m0.99 0h.01m0.49 0h.01m2.49 0h.01m3.99 0h.01m0.99 0h.01m1.99 0h.01m7.89 0h.01m2.99 0h.01m1.49 0h.01m4.99 0h.01m8.39 0h.01m2.99 0h.01m2.49 0h.01m2.49 0h.01m0.49 0h.01m0.49 0h.01m1.49 0h.01m3.99 0h.01M79.5 343.7h.01m0.49 0h.01m1.49 0h.01m0.49 0h.01m0.99 0h.01m1.99 0h.01m3.39 0h.01m3.49 0h.01m0.99 0h.01m0.99 0h.01m4.49 0h.01m1.49 0h.01m1.49 0h.01m1.99 0h.01m5.99 0h.01m0.99 0h.01m0.39 0h.01m0.99 0h.01m1.99 0h.01m2.99 0h.01m4.99 0h.01m5.49 0h.01m0.49 0h.01m0.99 0h.01m1.99 0h.01m6.39 0h.01m1.49 0h.01m7.99 0h.01m6.99 0h.01m2.49 0h.01m0.49 0h.01m0.99 0h.01m0.49 0h.01m6.39 0h.01m0.49 0h.01m1.49 0h.01m0.49 0h.01m11.99 0h.01m4.99 0h.01m0.89 0h.01m2.99 0h.01m0.49 0h.01m2.49 0h.01m0.49 0h.01m0.49 0h.01m1.49 0h.01m1.49 0h.01m0.49 0h.01m4.99 0h.01m0.49 0h.01m0.99 0h.01m2.99 0h.01m1.99 0h.01m1.89 0h.01m9.49 0h.01m1.99 0h.01m1.49 0h.01m0.49 0h.01m0.49 0h.01m5.99 0h.01m4.89 0h.01m5.99 0h.01m1.99 0h.01m1.99 0h.01m2.49 0h.01m3.49 0h.01m7.99 0h.01m0.89 0h.01m8.99 0h.01m3.99 0h.01m10.89 0h.01m4.49 0h.01m0.49 0h.01m4.99 0h.01m5.49 0h.01m3.99 0h.01m0.49 0h.01m0.49 0h.01m7.89 0h.01m3.99 0h.01m0.99 0h.01m2.99 0h.01m1.99 0h.01m0.49 0h.01m1.99 0h.01m3.49 0h.01m5.39 0h.01m2.99 0h.01m0.99 0h.01m1.99 0h.01m3.99 0h.01m0.99 0h.01m0.49 0h.01m1.99 0h.01m1.99 0h.01m1.49 0h.01m1.99 0h.01m2.49 0h.01m3.39 0h.01m0.99 0h.01m2.49 0h.01m7.99 0h.01m0.99 0h.01m2.99 0h.01m1.49 0h.01m2.49 0h.01m11.39 0h.01m2.49 0h.01m2.99 0h.01m2.99 0h.01m0.99 0h.01m2.49 0h.01m32.29 0h.01m2.99 0h.01m5.99 0h.01m0.49 0h.01m0.99 0h.01m14.39 0h.01m0.49 0h.01m1.49 0h.01m0.49 0h.01m2.99 0h.01m6.99 0h.01m6.99 0h.01m6.89 0h.01m2.99 0h.01m1.49 0h.01m4.49 0h.01m5.99 0h.01m3.99 0h.01m1.39 0h.01m0.49 0h.01m0.49 0h.01m0.49 0h.01m0.49 0h.01m0.99 0h.01m0.49 0h.01m3.49 0h.01m0.49 0h.01m6.99 0h.01m0.99 0h.01m1.49 0h.01m0.99 0h.01m6.39 0h.01m0.99 0h.01m2.99 0h.01m0.99 0h.01m2.49 0h.01m0.99 0h.01m0.49 0h.01m12.49 0h.01m2.39 0h.01m11.99 0h.01m1.99 0h.01M82 340.2h.01m7.39 0h.01m4.99 0h.01m1.99 0h.01m12.99 0h.01m8.89 0h.01m2.99 0h.01m1.99 0h.01m2.49 0h.01m0.49 0h.01m3.99 0h.01m2.99 0h.01m0.99 0h.01m6.39 0h.01m0.99 0h.01m3.99 0h.01m3.99 0h.01m1.49 0h.01m2.49 0h.01m3.49 0h.01m0.99 0h.01m10.89 0h.01m4.99 0h.01m1.99 0h.01m1.99 0h.01m5.99 0h.01m2.39 0h.01m1.49 0h.01m2.99 0h.01m6.49 0h.01m6.99 0h.01m0.49 0h.01m1.49 0h.01m1.99 0h.01m5.39 0h.01m4.99 0h.01m11.49 0h.01m2.99 0h.01m5.89 0h.01m3.49 0h.01m1.49 0h.01m0.49 0h.01m0.99 0h.01m0.99 0h.01m0.49 0h.01m1.49 0h.01m1.49 0h.01m0.49 0h.01m7.39 0h.01m0.49 0h.01m9.99 0h.01m6.49 0h.01m6.49 0h.01m0.49 0h.01m6.39 0h.01m0.49 0h.01m1.49 0h.01m10.49 0h.01m7.89 0h.01m3.99 0h.01m0.49 0h.01m2.49 0h.01m4.49 0h.01m0.99 0h.01m0.49 0h.01m2.99 0h.01m0.99 0h.01m3.99 0h.01m2.89 0h.01m0.99 0h.01m0.99 0h.01m3.49 0h.01m4.99 0h.01m5.49 0h.01m5.99 0h.01m0.99 0h.01m3.89 0h.01m1.49 0h.01m3.99 0h.01m3.49 0h.01m9.99 0h.01m6.89 0h.01m1.99 0h.01m0.49 0h.01m3.49 0h.01m3.49 0h.01m0.99 0h.01m1.49 0h.01m2.49 0h.01m8.39 0h.01m1.49 0h.01m4.99 0h.01m2.99 0h.01m2.49 0h.01m1.99 0h.01m0.99 0h.01m0.49 0h.01m8.89 0h.01m5.49 0h.01m1.99 0h.01m2.99 0h.01m2.99 0h.01m5.99 0h.01m5.39 0h.01m2.49 0h.01m1.99 0h.01m1.99 0h.01m9.99 0h.01m0.99 0h.01m1.49 0h.01m1.49 0h.01m1.89 0h.01m2.49 0h.01m5.49 0h.01m1.49 0h.01m0.99 0h.01m4.99 0h.01m2.99 0h.01m6.39 0h.01m1.49 0h.01m0.99 0h.01m2.49 0h.01m2.49 0h.01m1.99 0h.01m0.99 0h.01m1.49 0h.01m0.99 0h.01m1.49 0h.01m2.49 0h.01m1.49 0h.01m7.39 0h.01m1.49 0h.01m0.99 0h.01m5.49 0h.01m2.99 0h.01m3.49 0h.01m6.49 0h.01m0.39 0h.01m1.99 0h.01m0.49 0h.01m0.99 0h.01m3.49 0h.01M79.5 336.8h.01m0.49 0h.01m9.89 0h.01m3.49 0h.01m4.49 0h.01m3.99 0h.01m3.99 0h.01m5.89 0h.01m9.99 0h.01m1.99 0h.01m0.49 0h.01m3.49 0h.01m0.99 0h.01m7.39 0h.01m2.99 0h.01m1.49 0h.01m5.49 0h.01m0.99 0h.01m3.99 0h.01m0.99 0h.01m1.99 0h.01m0.49 0h.01m0.99 0h.01m5.89 0h.01m0.49 0h.01m4.49 0h.01m13.99 0h.01m12.89 0h.01m0.99 0h.01m12.49 0h.01m1.49 0h.01m2.39 0h.01m0.49 0h.01m0.49 0h.01m4.99 0h.01m5.99 0h.01m0.49 0h.01m4.99 0h.01m2.49 0h.01m0.49 0h.01m2.89 0h.01m3.99 0h.01m1.49 0h.01m0.49 0h.01m1.99 0h.01m0.49 0h.01m4.99 0h.01m12.39 0h.01m0.49 0h.01m5.99 0h.01m1.49 0h.01m3.49 0h.01m0.49 0h.01m6.99 0h.01m4.39 0h.01m0.99 0h.01m1.49 0h.01m10.49 0h.01m0.49 0h.01m2.49 0h.01m0.49 0h.01m2.99 0h.01m0.99 0h.01m4.89 0h.01m2.99 0h.01m4.49 0h.01m1.99 0h.01m10.99 0h.01m5.89 0h.01m7.49 0h.01m2.49 0h.01m1.49 0h.01m4.99 0h.01m2.99 0h.01m1.89 0h.01m2.99 0h.01m2.49 0h.01m0.99 0h.01m1.49 0h.01m2.49 0h.01m2.99 0h.01m2.99 0h.01m1.99 0h.01m0.99 0h.01m6.39 0h.01m6.49 0h.01m0.99 0h.01m0.49 0h.01m6.49 0h.01m2.49 0h.01m1.99 0h.01m2.99 0h.01m2.39 0h.01m0.99 0h.01m0.49 0h.01m2.99 0h.01m12.99 0h.01m0.49 0h.01m0.49 0h.01m2.99 0h.01m0.99 0h.01m4.89 0h.01m1.99 0h.01m3.49 0h.01m0.99 0h.01m0.49 0h.01m1.49 0h.01m2.99 0h.01m5.99 0h.01m0.49 0h.01m1.49 0h.01m6.39 0h.01m4.49 0h.01m0.49 0h.01m1.99 0h.01m0.49 0h.01m4.99 0h.01m0.99 0h.01m1.99 0h.01m0.99 0h.01m3.89 0h.01m5.49 0h.01m2.49 0h.01m1.49 0h.01m0.49 0h.01m0.49 0h.01m1.49 0h.01m8.49 0h.01m7.89 0h.01m4.99 0h.01m3.49 0h.01m1.99 0h.01m10.89 0h.01m1.99 0h.01m3.49 0h.01m5.99 0h.01m8.49 0h.01m2.89 0h.01m0.99 0h.01m1.49 0h.01m5.99 0h.01m1.49 0h.01m0.49 0h.01m1.49 0h.01m2.49 0h.01m0.99 0h.01M84 333.3h.01m9.39 0h.01m4.49 0h.01m5.99 0h.01m0.49 0h.01m7.39 0h.01m1.99 0h.01m1.99 0h.01m2.99 0h.01m2.49 0h.01m2.49 0h.01m1.49 0h.01m2.99 0h.01m7.89 0h.01m0.49 0h.01m1.49 0h.01m1.49 0h.01m0.49 0h.01m8.99 0h.01m1.99 0h.01m0.49 0h.01m3.49 0h.01m0.99 0h.01m0.99 0h.01m1.99 0h.01m0.89 0h.01m1.99 0h.01m0.49 0h.01m0.49 0h.01m0.99 0h.01m2.99 0h.01m1.99 0h.01m0.99 0h.01m0.99 0h.01m1.49 0h.01m1.99 0h.01m1.99 0h.01m0.99 0h.01m8.39 0h.01m4.49 0h.01m0.49 0h.01m6.99 0h.01m2.99 0h.01m0.49 0h.01m1.49 0h.01m3.49 0h.01m2.39 0h.01m0.99 0h.01m3.49 0h.01m0.99 0h.01m1.49 0h.01m0.99 0h.01m1.49 0h.01m1.49 0h.01m0.49 0h.01m3.49 0h.01m3.99 0h.01m3.99 0h.01m1.89 0h.01m3.99 0h.01m1.49 0h.01m0.49 0h.01m0.99 0h.01m7.49 0h.01m0.99 0h.01m0.49 0h.01m0.99 0h.01m0.49 0h.01m4.49 0h.01m1.99 0h.01m9.89 0h.01m1.99 0h.01m0.99 0h.01m0.99 0h.01m0.99 0h.01m0.99 0h.01m1.49 0h.01m0.49 0h.01m0.49 0h.01m0.49 0h.01m0.49 0h.01m0.49 0h.01m1.99 0h.01m0.49 0h.01m1.49 0h.01m1.39 0h.01m0.49 0h.01m2.99 0h.01m3.99 0h.01m1.49 0h.01m3.99 0h.01m1.99 0h.01m0.99 0h.01m1.49 0h.01m0.49 0h.01m2.49 0h.01m5.89 0h.01m1.49 0h.01m4.49 0h.01m0.49 0h.01m2.99 0h.01m1.99 0h.01m0.99 0h.01m1.49 0h.01m5.49 0h.01m0.49 0h.01m2.39 0h.01m0.49 0h.01m0.99 0h.01m3.49 0h.01m0.99 0h.01m0.49 0h.01m3.99 0h.01m1.49 0h.01m4.99 0h.01m4.99 0h.01m0.49 0h.01m0.49 0h.01m0.49 0h.01m1.39 0h.01m1.99 0h.01m2.99 0h.01m2.99 0h.01m2.99 0h.01m0.99 0h.01m3.49 0h.01m1.49 0h.01m2.49 0h.01m3.99 0h.01m0.39 0h.01m2.49 0h.01m0.49 0h.01m5.49 0h.01m4.49 0h.01m4.49 0h.01m0.99 0h.01m1.49 0h.01m3.49 0h.01m0.99 0h.01m3.89 0h.01m0.99 0h.01m1.99 0h.01m0.99 0h.01m3.49 0h.01m5.49 0h.01m3.49 0h.01m3.99 0h.01m0.89 0h.01m0.49 0h.01m0.99 0h.01m6.49 0h.01m6.49 0h.01m5.49 0h.01m6.39 0h.01m0.49 0h.01m1.49 0h.01m2.99 0h.01m3.99 0h.01m0.49 0h.01m0.99 0h.01m0.99 0h.01m0.49 0h.01m4.99 0h.01m1.49 0h.01m1.99 0h.01m3.39 0h.01m2.99 0h.01m0.49 0h.01m6.49 0h.01m0.99 0h.01m0.49 0h.01m0.99 0h.01m0.49 0h.01m0.99 0h.01m1.49 0h.01m8.89 0h.01m0.49 0h.01m4.99 0h.01m1.99 0h.01m1.99 0h.01m0.49 0h.01m1.49 0h.01m2.49 0h.01m2.49 0h.01m0.99 0h.01m0.49 0h.01m0.49 0h.01m0.49 0h.01m6.39 0h.01m0.49 0h.01m1.99 0h.01m1.99 0h.01m3.49 0h.01m0.49 0h.01m2.49 0h.01m1.99 0h.01m5.49 0h.01m4.39 0h.01m0.49 0h.01m0.99 0h.01m0.49 0h.01m1.99 0h.01m1.49 0h.01m0.49 0h.01m2.49 0h.01m3.99 0h.01m2.99 0h.01m0.49 0h.01m0.99 0h.01m0.49 0h.01M83.5 329.8h.01m0.99 0h.01m0.99 0h.01m1.39 0h.01m0.49 0h.01m5.99 0h.01m3.99 0h.01m0.49 0h.01m3.99 0h.01m19.89 0h.01m6.49 0h.01m4.99 0h.01m3.39 0h.01m0.49 0h.01m0.49 0h.01m1.49 0h.01m1.99 0h.01m7.49 0h.01m5.99 0h.01m4.49 0h.01m4.89 0h.01m4.99 0h.01m0.49 0h.01m7.49 0h.01m1.49 0h.01m7.39 0h.01m0.99 0h.01m0.49 0h.01m1.49 0h.01m0.49 0h.01m1.99 0h.01m3.49 0h.01m0.49 0h.01m2.99 0h.01m2.49 0h.01m1.99 0h.01m2.49 0h.01m1.99 0h.01m0.49 0h.01m5.39 0h.01m7.99 0h.01m10.49 0h.01m2.89 0h.01m4.99 0h.01m1.49 0h.01m1.99 0h.01m2.49 0h.01m8.49 0h.01m6.39 0h.01m5.49 0h.01m3.99 0h.01m1.99 0h.01m6.99 0h.01m10.39 0h.01m1.49 0h.01m4.49 0h.01m0.49 0h.01m0.49 0h.01m7.99 0h.01m1.99 0h.01m1.89 0h.01m2.49 0h.01m6.49 0h.01m4.49 0h.01m2.99 0h.01m1.99 0h.01m2.99 0h.01m4.89 0h.01m0.99 0h.01m10.99 0h.01m6.99 0h.01m3.89 0h.01m5.49 0h.01m2.99 0h.01m16.89 0h.01m0.99 0h.01m4.49 0h.01m1.99 0h.01m0.49 0h.01m2.49 0h.01m4.99 0h.01m6.49 0h.01m6.39 0h.01m9.49 0h.01m5.49 0h.01m3.39 0h.01m6.99 0h.01m0.99 0h.01m2.99 0h.01m3.49 0h.01m2.99 0h.01m1.49 0h.01m0.49 0h.01m6.39 0h.01m0.49 0h.01m0.99 0h.01m6.49 0h.01m1.99 0h.01m9.99 0h.01m3.39 0h.01m5.49 0h.01m0.99 0h.01m0.49 0h.01m4.49 0h.01m4.99 0h.01m2.99 0h.01m7.39 0h.01m8.99 0h.01m0.49 0h.01m3.99 0h.01m3.49 0h.01m1.99 0h.01m6.39 0h.01m7.99 0h.01m0.49 0h.01m8.49 0h.01m3.49 0h.01m1.89 0h.01m0.49 0h.01m12.99 0h.01m0.99 0h.01m2.49 0h.01M79.5 326.3h.01m2.99 0h.01m3.89 0h.01m0.49 0h.01m3.49 0h.01m1.49 0h.01m5.99 0h.01m0.49 0h.01m1.49 0h.01m4.49 0h.01m1.49 0h.01m4.49 0h.01m1.39 0h.01m1.49 0h.01m3.49 0h.01m9.99 0h.01m2.99 0h.01m1.99 0h.01m0.49 0h.01m0.49 0h.01m1.49 0h.01m0.49 0h.01m1.39 0h.01m0.49 0h.01m0.99 0h.01m0.99 0h.01m1.49 0h.01m3.49 0h.01m0.99 0h.01m1.49 0h.01m3.49 0h.01m0.49 0h.01m0.99 0h.01m0.49 0h.01m0.99 0h.01m0.49 0h.01m2.49 0h.01m2.49 0h.01m1.89 0h.01m0.99 0h.01m0.49 0h.01m0.49 0h.01m3.99 0h.01m0.49 0h.01m0.99 0h.01m3.99 0h.01m1.99 0h.01m0.49 0h.01m0.99 0h.01m0.99 0h.01m0.99 0h.01m2.49 0h.01m0.49 0h.01m0.49 0h.01m0.49 0h.01m4.39 0h.01m0.49 0h.01m5.99 0h.01m0.99 0h.01m5.49 0h.01m1.49 0h.01m0.49 0h.01m0.49 0h.01m0.99 0h.01m0.49 0h.01m0.49 0h.01m2.99 0h.01m3.39 0h.01m0.49 0h.01m3.49 0h.01m5.49 0h.01m6.99 0h.01m0.49 0h.01m1.49 0h.01m6.39 0h.01m4.49 0h.01m1.99 0h.01m0.99 0h.01m0.99 0h.01m1.99 0h.01m2.49 0h.01m0.99 0h.01m2.49 0h.01m1.49 0h.01m1.49 0h.01m0.99 0h.01m0.99 0h.01m0.49 0h.01m3.89 0h.01m0.49 0h.01m1.49 0h.01m0.49 0h.01m2.49 0h.01m2.49 0h.01m0.99 0h.01m1.49 0h.01m0.99 0h.01m1.49 0h.01m1.49 0h.01m0.49 0h.01m0.99 0h.01m0.99 0h.01m0.49 0h.01m1.49 0h.01m0.99 0h.01m1.99 0h.01m3.89 0h.01m4.49 0h.01m1.99 0h.01m1.49 0h.01m0.99 0h.01m2.49 0h.01m7.99 0h.01m1.99 0h.01m4.39 0h.01m0.99 0h.01m5.49 0h.01m0.49 0h.01m0.49 0h.01m0.49 0h.01m3.99 0h.01m3.49 0h.01m1.49 0h.01m0.49 0h.01m2.49 0h.01m0.39 0h.01m4.49 0h.01m1.49 0h.01m5.49 0h.01m7.49 0h.01m0.99 0h.01m0.49 0h.01m5.39 0h.01m0.99 0h.01m2.49 0h.01m1.49 0h.01m0.99 0h.01m1.99 0h.01m2.99 0h.01m0.49 0h.01m2.49 0h.01m1.49 0h.01m0.99 0h.01m1.49 0h.01m0.49 0h.01m2.49 0h.01m2.39 0h.01m2.49 0h.01m1.99 0h.01m6.99 0h.01m0.99 0h.01m0.49 0h.01m0.99 0h.01m0.99 0h.01m0.49 0h.01m2.49 0h.01m1.49 0h.01m0.49 0h.01m1.49 0h.01m1.99 0h.01m5.89 0h.01m0.49 0h.01m0.99 0h.01m0.49 0h.01m1.49 0h.01m0.49 0h.01m0.49 0h.01m2.99 0h.01m3.99 0h.01m0.99 0h.01m2.49 0h.01m0.99 0h.01m0.49 0h.01m0.99 0h.01m5.89 0h.01m0.99 0h.01m1.99 0h.01m1.49 0h.01m0.49 0h.01m2.99 0h.01m1.49 0h.01m3.99 0h.01m2.49 0h.01m2.99 0h.01m0.49 0h.01m0.89 0h.01m0.49 0h.01m1.49 0h.01m0.99 0h.01m0.49 0h.01m0.49 0h.01m4.49 0h.01m0.99 0h.01m3.49 0h.01m4.99 0h.01m3.49 0h.01m3.39 0h.01m1.99 0h.01m0.49 0h.01m0.99 0h.01m2.99 0h.01m0.49 0h.01m1.49 0h.01m1.99 0h.01m0.49 0h.01m5.99 0h.01m6.99 0h.01m3.89 0h.01m0.49 0h.01m0.99 0h.01m1.49 0h.01m5.99 0h.01m0.49 0h.01m0.49 0h.01m2.99 0h.01m0.99 0h.01m0.49 0h.01m0.99 0h.01m1.49 0h.01m4.89 0h.01m2.49 0h.01m1.49 0h.01m1.49 0h.01m1.99 0h.01m0.49 0h.01m0.49 0h.01m0.99 0h.01m2.49 0h.01m0.99 0h.01m2.49 0h.01m1.99 0h.01m0.99 0h.01m5.89 0h.01m4.49 0h.01m1.49 0h.01m1.49 0h.01m1.99 0h.01m2.49 0h.01m0.49 0h.01m0.99 0h.01m4.99 0h.01M85 322.8h.01m0.49 0h.01m4.89 0h.01m2.99 0h.01m1.49 0h.01m2.99 0h.01m8.99 0h.01m5.89 0h.01m15.49 0h.01m3.99 0h.01m0.99 0h.01m5.89 0h.01m11.49 0h.01m0.49 0h.01m0.99 0h.01m1.99 0h.01m24.39 0h.01m1.49 0h.01m7.89 0h.01m1.49 0h.01m1.99 0h.01m4.99 0h.01m5.99 0h.01m6.89 0h.01m0.99 0h.01m17.99 0h.01m9.39 0h.01m0.49 0h.01m4.99 0h.01m3.99 0h.01m3.99 0h.01m11.39 0h.01m11.49 0h.01m5.49 0h.01m1.99 0h.01m1.39 0h.01m13.99 0h.01m23.39 0h.01m12.89 0h.01m7.99 0h.01m3.99 0h.01m11.39 0h.01m14.49 0h.01m2.99 0h.01m5.99 0h.01m0.89 0h.01m0.49 0h.01m3.49 0h.01m23.39 0h.01m7.49 0h.01m6.49 0h.01m3.99 0h.01m9.39 0h.01m2.49 0h.01m26.39 0h.01m8.49 0h.01m3.99 0h.01m2.39 0h.01m5.49 0h.01m11.99 0h.01m2.99 0h.01m1.49 0h.01m6.89 0h.01m0.99 0h.01m3.99 0h.01m3.49 0h.01m0.49 0h.01m11.39 0h.01m10.49 0h.01m4.49 0h.01m3.99 0h.01m0.49 0h.01m0.49 0h.01m2.99 0h.01m17.89 0h.01m1.49 0h.01m0.49 0h.01M81.5 319.3h.01m4.89 0h.01m1.49 0h.01m0.99 0h.01m2.99 0h.01m6.99 0h.01m1.49 0h.01m5.49 0h.01m3.49 0h.01m1.89 0h.01m5.49 0h.01m2.49 0h.01m1.99 0h.01m1.49 0h.01m1.49 0h.01m0.49 0h.01m0.99 0h.01m1.99 0h.01m0.49 0h.01m0.49 0h.01m10.39 0h.01m1.49 0h.01m0.99 0h.01m0.49 0h.01m2.99 0h.01m2.49 0h.01m2.49 0h.01m1.99 0h.01m0.49 0h.01m3.49 0h.01m1.49 0h.01m6.39 0h.01m12.99 0h.01m4.99 0h.01m4.39 0h.01m2.49 0h.01m3.99 0h.01m2.49 0h.01m0.49 0h.01m1.99 0h.01m0.49 0h.01m1.49 0h.01m1.49 0h.01m4.99 0h.01m0.99 0h.01m0.49 0h.01m1.89 0h.01m3.49 0h.01m2.99 0h.01m1.49 0h.01m1.49 0h.01m2.99 0h.01m1.99 0h.01m0.99 0h.01m3.49 0h.01m0.49 0h.01m1.99 0h.01m0.99 0h.01m1.89 0h.01m0.49 0h.01m0.49 0h.01m0.49 0h.01m0.49 0h.01m0.49 0h.01m4.99 0h.01m7.49 0h.01m1.99 0h.01m6.49 0h.01m0.89 0h.01m0.99 0h.01m0.49 0h.01m2.49 0h.01m0.99 0h.01m5.49 0h.01m0.99 0h.01m1.99 0h.01m6.99 0h.01m0.49 0h.01m1.49 0h.01m9.39 0h.01m7.49 0h.01m7.99 0h.01m4.89 0h.01m3.49 0h.01m0.99 0h.01m3.49 0h.01m2.99 0h.01m3.49 0h.01m0.99 0h.01m2.49 0h.01m0.99 0h.01m3.89 0h.01m0.49 0h.01m0.49 0h.01m1.49 0h.01m0.49 0h.01m0.49 0h.01m0.49 0h.01m5.99 0h.01m2.49 0h.01m4.99 0h.01m0.99 0h.01m1.99 0h.01m0.49 0h.01m5.89 0h.01m1.99 0h.01m0.49 0h.01m1.49 0h.01m1.99 0h.01m0.49 0h.01m0.49 0h.01m1.99 0h.01m1.99 0h.01m0.49 0h.01m1.49 0h.01m0.99 0h.01m2.99 0h.01m0.49 0h.01m0.99 0h.01m3.89 0h.01m2.99 0h.01m5.49 0h.01m0.99 0h.01m1.49 0h.01m2.49 0h.01m0.49 0h.01m1.49 0h.01m3.49 0h.01m0.99 0h.01m10.39 0h.01m0.99 0h.01m1.49 0h.01m0.49 0h.01m1.99 0h.01m1.49 0h.01m0.49 0h.01m7.99 0h.01m0.99 0h.01m5.89 0h.01m0.49 0h.01m3.49 0h.01m3.99 0h.01m0.49 0h.01m2.49 0h.01m0.49 0h.01m4.49 0h.01m8.39 0h.01m3.99 0h.01m2.49 0h.01m0.49 0h.01m1.99 0h.01m0.49 0h.01m5.49 0h.01m2.99 0h.01m1.89 0h.01m0.49 0h.01m1.49 0h.01m1.49 0h.01m2.99 0h.01m2.49 0h.01m1.49 0h.01m0.49 0h.01m1.49 0h.01m2.49 0h.01m2.99 0h.01m1.99 0h.01m0.49 0h.01m0.49 0h.01m1.99 0h.01m0.49 0h.01m1.39 0h.01m1.99 0h.01m3.99 0h.01m0.49 0h.01m3.49 0h.01m0.99 0h.01m1.99 0h.01m0.49 0h.01m15.39 0h.01m4.49 0h.01m2.49 0h.01m0.49 0h.01m2.49 0h.01m9.89 0h.01m4.49 0h.01m4.99 0h.01m2.49 0h.01m3.99 0h.01m1.49 0h.01m0.99 0h.01M79.5 315.8h.01m1.99 0h.01m0.99 0h.01m3.49 0h.01m3.39 0h.01m0.99 0h.01m2.99 0h.01m0.49 0h.01m0.99 0h.01m0.49 0h.01m3.49 0h.01m2.49 0h.01m7.99 0h.01m0.49 0h.01m0.89 0h.01m0.99 0h.01m1.99 0h.01m0.49 0h.01m1.99 0h.01m0.49 0h.01m2.49 0h.01m0.49 0h.01m2.99 0h.01m3.49 0h.01m1.49 0h.01m1.49 0h.01m3.49 0h.01m2.49 0h.01m0.39 0h.01m2.49 0h.01m0.49 0h.01m0.99 0h.01m0.49 0h.01m1.99 0h.01m0.49 0h.01m2.49 0h.01m0.99 0h.01m1.99 0h.01m3.99 0h.01m0.49 0h.01m5.99 0h.01m2.89 0h.01m0.99 0h.01m0.49 0h.01m2.49 0h.01m1.49 0h.01m1.49 0h.01m0.99 0h.01m0.49 0h.01m0.99 0h.01m0.49 0h.01m0.99 0h.01m1.49 0h.01m3.49 0h.01m1.99 0h.01m0.99 0h.01m1.49 0h.01m0.99 0h.01m1.39 0h.01m2.49 0h.01m0.49 0h.01m5.99 0h.01m1.99 0h.01m1.49 0h.01m2.49 0h.01m1.99 0h.01m0.99 0h.01m0.99 0h.01m5.39 0h.01m1.99 0h.01m0.49 0h.01m1.99 0h.01m0.99 0h.01m0.49 0h.01m0.49 0h.01m0.49 0h.01m2.49 0h.01m4.99 0h.01m4.49 0h.01m1.49 0h.01m0.49 0h.01m3.49 0h.01m0.89 0h.01m0.99 0h.01m1.99 0h.01m2.99 0h.01m3.49 0h.01m0.49 0h.01m1.49 0h.01m6.99 0h.01m0.49 0h.01m1.49 0h.01m0.99 0h.01m0.49 0h.01m4.39 0h.01m1.49 0h.01m1.99 0h.01m2.49 0h.01m0.49 0h.01m0.49 0h.01m0.99 0h.01m1.99 0h.01m1.99 0h.01m2.99 0h.01m1.49 0h.01m0.99 0h.01m0.49 0h.01m1.49 0h.01m0.49 0h.01m3.39 0h.01m4.99 0h.01m4.99 0h.01m0.49 0h.01m0.99 0h.01m0.99 0h.01m3.49 0h.01m0.99 0h.01m0.49 0h.01m0.49 0h.01m1.99 0h.01m1.49 0h.01m3.89 0h.01m5.99 0h.01m3.99 0h.01m2.99 0h.01m4.99 0h.01m0.99 0h.01m0.99 0h.01m3.89 0h.01m2.49 0h.01m1.99 0h.01m3.99 0h.01m1.49 0h.01m0.99 0h.01m0.49 0h.01m0.49 0h.01m4.99 0h.01m1.49 0h.01m3.99 0h.01m1.39 0h.01m1.49 0h.01m0.49 0h.01m0.49 0h.01m2.99 0h.01m8.49 0h.01m3.99 0h.01m0.49 0h.01m0.49 0h.01m2.49 0h.01m2.39 0h.01m0.49 0h.01m3.49 0h.01m5.99 0h.01m1.49 0h.01m1.49 0h.01m1.49 0h.01m0.49 0h.01m0.49 0h.01m2.99 0h.01m3.49 0h.01m2.89 0h.01m8.99 0h.01m0.99 0h.01m1.49 0h.01m4.99 0h.01m0.49 0h.01m0.49 0h.01m3.49 0h.01m8.39 0h.01m0.49 0h.01m0.99 0h.01m0.49 0h.01m2.49 0h.01m0.99 0h.01m2.99 0h.01m2.99 0h.01m0.49 0h.01m3.49 0h.01m1.99 0h.01m3.89 0h.01m0.99 0h.01m0.49 0h.01m1.49 0h.01m2.49 0h.01m7.49 0h.01m3.99 0h.01m5.89 0h.01m0.49 0h.01m0.99 0h.01m1.49 0h.01m1.49 0h.01m9.99 0h.01m4.49 0h.01m1.99 0h.01m4.39 0h.01m0.49 0h.01m1.99 0h.01m1.99 0h.01m4.49 0h.01m0.49 0h.01m6.49 0h.01m4.99 0h.01m1.49 0h.01m0.39 0h.01m1.99 0h.01m1.99 0h.01m5.49 0h.01m1.99 0h.01m2.99 0h.01m1.99 0h.01m1.49 0h.01m0.99 0h.01m1.49 0h.01m0.49 0h.01m0.49 0h.01m2.49 0h.01m0.89 0h.01m3.99 0h.01m3.49 0h.01m0.49 0h.01m0.99 0h.01m1.49 0h.01m1.49 0h.01m1.49 0h.01m0.49 0h.01M79 312.3h.01m8.39 0h.01m2.49 0h.01m3.99 0h.01m2.99 0h.01m0.49 0h.01m0.99 0h.01m2.49 0h.01m1.99 0h.01m1.49 0h.01m3.99 0h.01m5.89 0h.01m2.99 0h.01m4.99 0h.01m1.99 0h.01m4.99 0h.01m2.49 0h.01m1.49 0h.01m7.39 0h.01m0.49 0h.01m2.49 0h.01m3.49 0h.01m1.49 0h.01m1.99 0h.01m0.49 0h.01m2.49 0h.01m7.89 0h.01m1.99 0h.01m0.49 0h.01m5.99 0h.01m8.99 0h.01m3.99 0h.01m0.99 0h.01m5.39 0h.01m2.99 0h.01m0.49 0h.01m0.49 0h.01m0.99 0h.01m2.49 0h.01m2.49 0h.01m1.49 0h.01m0.49 0h.01m2.99 0h.01m5.89 0h.01m0.99 0h.01m1.99 0h.01m3.99 0h.01m0.49 0h.01m2.49 0h.01m1.49 0h.01m3.49 0h.01m1.49 0h.01m1.99 0h.01m2.49 0h.01m0.49 0h.01m3.39 0h.01m0.99 0h.01m0.49 0h.01m3.49 0h.01m0.49 0h.01m1.49 0h.01m1.49 0h.01m0.49 0h.01m0.49 0h.01m1.99 0h.01m1.99 0h.01m1.49 0h.01m0.99 0h.01m4.49 0h.01m0.99 0h.01m0.49 0h.01m5.39 0h.01m8.49 0h.01m3.49 0h.01m3.49 0h.01m1.99 0h.01m1.49 0h.01m0.89 0h.01m0.99 0h.01m1.49 0h.01m4.99 0h.01m5.49 0h.01m2.49 0h.01m3.99 0h.01m1.49 0h.01m0.99 0h.01m1.49 0h.01m1.39 0h.01m6.49 0h.01m0.99 0h.01m2.49 0h.01m1.49 0h.01m1.99 0h.01m0.49 0h.01m0.49 0h.01m2.49 0h.01m2.99 0h.01m0.99 0h.01m1.99 0h.01m3.39 0h.01m0.49 0h.01m3.49 0h.01m3.99 0h.01m1.99 0h.01m0.99 0h.01m1.49 0h.01m1.49 0h.01m2.49 0h.01m1.99 0h.01m3.89 0h.01m2.49 0h.01m3.49 0h.01m3.49 0h.01m2.99 0h.01m3.99 0h.01m2.49 0h.01m2.49 0h.01m7.89 0h.01m2.99 0h.01m2.49 0h.01m0.99 0h.01m0.99 0h.01m1.99 0h.01m9.99 0h.01m0.39 0h.01m0.49 0h.01m0.49 0h.01m5.49 0h.01m1.49 0h.01m2.49 0h.01m0.99 0h.01m7.99 0h.01m1.49 0h.01m1.99 0h.01m0.49 0h.01m0.49 0h.01m3.39 0h.01m3.49 0h.01m2.99 0h.01m0.49 0h.01m6.99 0h.01m1.99 0h.01m3.49 0h.01m0.99 0h.01m2.39 0h.01m2.49 0h.01m0.99 0h.01m2.99 0h.01m0.99 0h.01m1.49 0h.01m0.49 0h.01m1.49 0h.01m9.99 0h.01m0.49 0h.01m1.89 0h.01m5.49 0h.01m2.49 0h.01m0.49 0h.01m8.99 0h.01m2.49 0h.01m5.39 0h.01m0.49 0h.01m0.99 0h.01m1.99 0h.01m0.99 0h.01m2.99 0h.01m2.49 0h.01m1.49 0h.01m3.49 0h.01m1.49 0h.01m6.49 0h.01m0.89 0h.01m3.49 0h.01m0.49 0h.01m2.49 0h.01m1.99 0h.01m5.99 0h.01m1.49 0h.01m0.49 0h.01m8.89 0h.01m1.49 0h.01m0.99 0h.01m2.99 0h.01m0.49 0h.01m0.99 0h.01m2.49 0h.01m1.49 0h.01m0.99 0h.01m2.99 0h.01m1.49 0h.01M80 308.8h.01m4.49 0h.01m1.89 0h.01m2.99 0h.01m5.99 0h.01m1.49 0h.01m12.49 0h.01m0.99 0h.01m0.39 0h.01m2.99 0h.01m0.99 0h.01m2.49 0h.01m2.99 0h.01m0.99 0h.01m1.99 0h.01m4.99 0h.01m0.99 0h.01m0.49 0h.01m3.49 0h.01m9.89 0h.01m0.49 0h.01m2.99 0h.01m5.99 0h.01m0.99 0h.01m3.99 0h.01m0.99 0h.01m1.89 0h.01m0.49 0h.01m5.49 0h.01m1.99 0h.01m0.49 0h.01m2.99 0h.01m3.99 0h.01m4.49 0h.01m0.49 0h.01m0.49 0h.01m0.49 0h.01m0.99 0h.01m7.89 0h.01m7.49 0h.01m1.99 0h.01m3.49 0h.01m4.89 0h.01m2.49 0h.01m1.99 0h.01m1.99 0h.01m2.99 0h.01m0.49 0h.01m0.49 0h.01m0.49 0h.01m0.49 0h.01m1.49 0h.01m4.99 0h.01m0.99 0h.01m0.99 0h.01m1.99 0h.01m0.49 0h.01m3.89 0h.01m6.49 0h.01m0.49 0h.01m1.49 0h.01m3.49 0h.01m1.99 0h.01m1.99 0h.01m1.99 0h.01m2.99 0h.01m0.49 0h.01m4.39 0h.01m7.99 0h.01m1.49 0h.01m4.99 0h.01m0.99 0h.01m4.49 0h.01m5.89 0h.01m1.99 0h.01m1.49 0h.01m0.49 0h.01m0.99 0h.01m7.99 0h.01m6.49 0h.01m0.89 0h.01m9.99 0h.01m1.49 0h.01m0.49 0h.01m0.49 0h.01m0.49 0h.01m3.99 0h.01m1.99 0h.01m3.99 0h.01m1.89 0h.01m6.99 0h.01m4.49 0h.01m0.99 0h.01m4.49 0h.01m1.99 0h.01m5.39 0h.01m4.49 0h.01m0.49 0h.01m3.49 0h.01m1.49 0h.01m6.49 0h.01m2.49 0h.01m5.39 0h.01m4.49 0h.01m1.49 0h.01m0.99 0h.01m2.49 0h.01m7.99 0h.01m2.49 0h.01m3.49 0h.01m0.89 0h.01m0.99 0h.01m0.99 0h.01m2.49 0h.01m6.49 0h.01m0.49 0h.01m1.49 0h.01m0.99 0h.01m2.99 0h.01m12.39 0h.01m1.49 0h.01m1.99 0h.01m0.49 0h.01m4.99 0h.01m1.99 0h.01m3.49 0h.01m0.99 0h.01m1.49 0h.01m1.49 0h.01m0.49 0h.01m7.89 0h.01m0.99 0h.01m3.99 0h.01m0.49 0h.01m0.49 0h.01m0.99 0h.01m2.49 0h.01m1.99 0h.01m0.99 0h.01m0.99 0h.01m1.99 0h.01m0.49 0h.01m8.89 0h.01m2.49 0h.01m4.49 0h.01m0.99 0h.01m3.99 0h.01m0.49 0h.01m2.99 0h.01m0.99 0h.01m0.89 0h.01m4.49 0h.01m3.99 0h.01m1.99 0h.01m5.99 0h.01m0.49 0h.01m2.99 0h.01m2.49 0h.01m0.99 0h.01m2.39 0h.01m0.49 0h.01m0.99 0h.01m7.49 0h.01m0.49 0h.01m2.99 0h.01m4.49 0h.01m1.49 0h.01m7.89 0h.01m6.49 0h.01m4.49 0h.01M80 305.3h.01m7.39 0h.01m0.99 0h.01m0.99 0h.01m2.99 0h.01m3.99 0h.01m0.49 0h.01m2.99 0h.01m3.99 0h.01m5.99 0h.01m3.89 0h.01m2.99 0h.01m1.99 0h.01m3.49 0h.01m0.99 0h.01m0.99 0h.01m0.99 0h.01m2.99 0h.01m3.49 0h.01m1.99 0h.01m5.89 0h.01m5.49 0h.01m1.99 0h.01m4.99 0h.01m2.49 0h.01m2.49 0h.01m19.89 0h.01m1.99 0h.01m1.99 0h.01m0.99 0h.01m4.89 0h.01m0.99 0h.01m2.99 0h.01m3.49 0h.01m0.49 0h.01m0.49 0h.01m0.99 0h.01m1.49 0h.01m2.99 0h.01m0.49 0h.01m5.49 0h.01m2.89 0h.01m1.99 0h.01m1.49 0h.01m0.49 0h.01m3.49 0h.01m11.49 0h.01m1.49 0h.01m6.39 0h.01m1.49 0h.01m3.99 0h.01m0.99 0h.01m6.99 0h.01m5.99 0h.01m0.49 0h.01m0.49 0h.01m3.39 0h.01m3.99 0h.01m0.49 0h.01m5.49 0h.01m0.49 0h.01m3.49 0h.01m2.99 0h.01m1.49 0h.01m1.49 0h.01m4.89 0h.01m0.49 0h.01m0.49 0h.01m0.49 0h.01m0.49 0h.01m2.49 0h.01m1.49 0h.01m3.49 0h.01m0.49 0h.01m0.49 0h.01m2.49 0h.01m1.99 0h.01m4.99 0h.01m1.49 0h.01m4.89 0h.01m2.99 0h.01m5.99 0h.01m2.49 0h.01m0.99 0h.01m0.49 0h.01m3.49 0h.01m1.49 0h.01m4.89 0h.01m1.49 0h.01m1.49 0h.01m0.99 0h.01m0.99 0h.01m6.49 0h.01m0.49 0h.01m2.49 0h.01m3.99 0h.01m1.99 0h.01m3.39 0h.01m0.99 0h.01m0.99 0h.01m0.49 0h.01m0.49 0h.01m3.49 0h.01m1.49 0h.01m2.99 0h.01m0.49 0h.01m0.49 0h.01m0.49 0h.01m0.49 0h.01m2.49 0h.01m3.99 0h.01m0.99 0h.01m2.39 0h.01m11.49 0h.01m1.49 0h.01m0.49 0h.01m4.49 0h.01m9.89 0h.01m1.49 0h.01m1.99 0h.01m7.49 0h.01m9.39 0h.01m0.49 0h.01m1.99 0h.01m1.49 0h.01m2.99 0h.01m0.49 0h.01m2.49 0h.01m0.49 0h.01m2.49 0h.01m0.49 0h.01m1.49 0h.01m6.99 0h.01m0.99 0h.01m1.39 0h.01m4.99 0h.01m2.99 0h.01m0.99 0h.01m2.99 0h.01m6.99 0h.01m1.99 0h.01m4.89 0h.01m0.49 0h.01m0.99 0h.01m3.99 0h.01m4.49 0h.01m4.99 0h.01m8.39 0h.01m2.99 0h.01m3.99 0h.01m2.99 0h.01m0.99 0h.01m3.49 0h.01m11.39 0h.01m1.49 0h.01m4.99 0h.01m2.99 0h.01m0.49 0h.01m1.99 0h.01m2.99 0h.01m1.49 0h.01m0.99 0h.01m3.99 0h.01m8.89 0h.01m0.49 0h.01m0.99 0h.01m2.99 0h.01m3.49 0h.01m2.49 0h.01M86.4 301.8h.01m1.49 0h.01m2.99 0h.01m0.49 0h.01m2.49 0h.01m1.99 0h.01m1.99 0h.01m8.99 0h.01m1.99 0h.01m1.49 0h.01m5.89 0h.01m2.99 0h.01m0.49 0h.01m9.49 0h.01m4.49 0h.01m5.39 0h.01m2.99 0h.01m0.99 0h.01m1.99 0h.01m10.49 0h.01m0.99 0h.01m1.49 0h.01m0.99 0h.01m0.49 0h.01m0.89 0h.01m0.49 0h.01m0.99 0h.01m6.99 0h.01m1.49 0h.01m1.99 0h.01m1.49 0h.01m0.99 0h.01m2.99 0h.01m0.49 0h.01m0.49 0h.01m6.39 0h.01m0.49 0h.01m3.99 0h.01m0.99 0h.01m3.99 0h.01m1.49 0h.01m0.49 0h.01m1.49 0h.01m1.99 0h.01m1.99 0h.01m1.49 0h.01m1.99 0h.01m8.89 0h.01m1.99 0h.01m1.49 0h.01m1.99 0h.01m1.49 0h.01m2.49 0h.01m1.49 0h.01m3.49 0h.01m3.99 0h.01m0.39 0h.01m2.99 0h.01m2.49 0h.01m6.49 0h.01m4.99 0h.01m0.99 0h.01m1.99 0h.01m1.49 0h.01m1.99 0h.01m6.39 0h.01m0.49 0h.01m0.99 0h.01m0.49 0h.01m4.49 0h.01m0.49 0h.01m3.99 0h.01m1.49 0h.01m6.89 0h.01m0.99 0h.01m1.49 0h.01m6.99 0h.01m2.49 0h.01m1.49 0h.01m5.49 0h.01m1.49 0h.01m1.49 0h.01m0.49 0h.01m6.89 0h.01m5.49 0h.01m2.49 0h.01m5.49 0h.01m0.49 0h.01m0.49 0h.01m1.49 0h.01m1.49 0h.01m5.89 0h.01m1.99 0h.01m1.49 0h.01m1.99 0h.01m1.99 0h.01m2.49 0h.01m2.99 0h.01m0.99 0h.01m0.49 0h.01m2.99 0h.01m1.99 0h.01m1.39 0h.01m0.49 0h.01m1.99 0h.01m0.49 0h.01m1.49 0h.01m5.49 0h.01m2.99 0h.01m1.49 0h.01m0.99 0h.01m0.49 0h.01m0.49 0h.01m0.49 0h.01m5.49 0h.01m2.89 0h.01m3.49 0h.01m0.49 0h.01m0.49 0h.01m0.49 0h.01m0.49 0h.01m0.49 0h.01m1.49 0h.01m3.99 0h.01m5.99 0h.01m4.99 0h.01m0.89 0h.01m1.49 0h.01m2.99 0h.01m2.49 0h.01m2.49 0h.01m2.99 0h.01m2.99 0h.01m6.49 0h.01m0.99 0h.01m0.99 0h.01m0.89 0h.01m1.99 0h.01m0.49 0h.01m6.99 0h.01m1.49 0h.01m5.49 0h.01m1.99 0h.01m0.49 0h.01m5.39 0h.01m0.49 0h.01m2.99 0h.01m2.49 0h.01m0.49 0h.01m2.49 0h.01m0.99 0h.01m1.49 0h.01m3.99 0h.01m5.49 0h.01m2.49 0h.01m8.89 0h.01m1.99 0h.01m1.49 0h.01m0.49 0h.01m0.99 0h.01m1.99 0h.01m4.99 0h.01m3.99 0h.01m1.39 0h.01m1.49 0h.01m1.99 0h.01m1.49 0h.01m2.99 0h.01m4.99 0h.01m3.49 0h.01m2.99 0h.01m0.99 0h.01m0.49 0h.01m1.99 0h.01m0.39 0h.01m0.49 0h.01m5.49 0h.01m0.99 0h.01m0.99 0h.01m0.99 0h.01m0.49 0h.01m0.49 0h.01m3.99 0h.01m1.49 0h.01m1.99 0h.01m2.99 0h.01m0.99 0h.01m6.89 0h.01m0.99 0h.01m0.99 0h.01m2.49 0h.01m1.99 0h.01m3.99 0h.01m2.49 0h.01M79.5 298.3h.01m1.99 0h.01m12.89 0h.01m4.49 0h.01m1.49 0h.01m0.49 0h.01m0.49 0h.01m1.99 0h.01m5.49 0h.01m2.89 0h.01m0.49 0h.01m3.49 0h.01m1.99 0h.01m1.49 0h.01m4.49 0h.01m5.99 0h.01m2.99 0h.01m2.49 0h.01m1.39 0h.01m6.49 0h.01m2.49 0h.01m1.49 0h.01m0.99 0h.01m6.49 0h.01m1.99 0h.01m1.99 0h.01m11.39 0h.01m0.49 0h.01m7.49 0h.01m0.99 0h.01m0.49 0h.01m0.49 0h.01m10.39 0h.01m0.49 0h.01m0.49 0h.01m0.49 0h.01m0.49 0h.01m4.99 0h.01m0.99 0h.01m0.49 0h.01m1.99 0h.01m8.89 0h.01m9.49 0h.01m2.99 0h.01m5.99 0h.01m2.99 0h.01m2.39 0h.01m1.99 0h.01m3.49 0h.01m15.99 0h.01m1.99 0h.01m10.89 0h.01m3.49 0h.01m2.49 0h.01m2.49 0h.01m8.39 0h.01m0.99 0h.01m1.49 0h.01m1.49 0h.01m0.99 0h.01m0.99 0h.01m3.99 0h.01m4.49 0h.01m0.99 0h.01m1.49 0h.01m5.39 0h.01m0.49 0h.01m4.49 0h.01m9.49 0h.01m3.49 0h.01m1.49 0h.01m0.49 0h.01m0.99 0h.01m1.49 0h.01m2.39 0h.01m4.49 0h.01m1.99 0h.01m1.49 0h.01m2.99 0h.01m8.99 0h.01m2.99 0h.01m5.89 0h.01m3.99 0h.01m2.49 0h.01m2.99 0h.01m6.49 0h.01m1.49 0h.01m2.39 0h.01m1.99 0h.01m0.99 0h.01m0.99 0h.01m2.49 0h.01m2.49 0h.01m2.99 0h.01m1.99 0h.01m4.99 0h.01m4.49 0h.01m1.39 0h.01m4.99 0h.01m0.99 0h.01m4.49 0h.01m2.49 0h.01m1.49 0h.01m0.99 0h.01m0.49 0h.01m3.49 0h.01m13.39 0h.01m7.49 0h.01m1.99 0h.01m1.49 0h.01m3.99 0h.01m4.89 0h.01m7.49 0h.01m10.49 0h.01m1.49 0h.01m0.39 0h.01m7.49 0h.01m3.99 0h.01m0.49 0h.01m1.99 0h.01m4.99 0h.01m0.49 0h.01m1.99 0h.01m5.39 0h.01m2.49 0h.01m1.49 0h.01m3.49 0h.01m2.99 0h.01m2.99 0h.01m0.99 0h.01m5.99 0h.01m21.89 0h.01m3.49 0h.01m6.89 0h.01m3.99 0h.01m3.49 0h.01M80.5 294.8h.01m3.49 0h.01m4.89 0h.01m0.99 0h.01m4.49 0h.01m0.49 0h.01m0.49 0h.01m1.49 0h.01m9.49 0h.01m1.99 0h.01m1.49 0h.01m1.89 0h.01m0.99 0h.01m1.49 0h.01m1.99 0h.01m2.99 0h.01m0.99 0h.01m1.99 0h.01m5.49 0h.01m1.99 0h.01m0.99 0h.01m0.49 0h.01m0.99 0h.01m0.99 0h.01m4.39 0h.01m2.99 0h.01m0.99 0h.01m0.99 0h.01m0.49 0h.01m1.49 0h.01m1.49 0h.01m1.99 0h.01m0.99 0h.01m2.49 0h.01m3.49 0h.01m0.99 0h.01m1.49 0h.01m1.49 0h.01m7.89 0h.01m0.49 0h.01m4.99 0h.01m2.99 0h.01m9.89 0h.01m1.49 0h.01m0.49 0h.01m0.49 0h.01m0.99 0h.01m1.49 0h.01m0.99 0h.01m3.49 0h.01m0.49 0h.01m0.99 0h.01m1.49 0h.01m3.99 0h.01m0.49 0h.01m3.99 0h.01m1.49 0h.01m2.39 0h.01m3.49 0h.01m1.49 0h.01m0.49 0h.01m0.99 0h.01m3.49 0h.01m0.49 0h.01m3.49 0h.01m3.49 0h.01m1.99 0h.01m7.39 0h.01m4.99 0h.01m4.99 0h.01m1.49 0h.01m4.99 0h.01m1.49 0h.01m1.99 0h.01m1.39 0h.01m0.99 0h.01m0.99 0h.01m2.99 0h.01m5.49 0h.01m1.49 0h.01m1.99 0h.01m2.49 0h.01m1.49 0h.01m6.89 0h.01m0.99 0h.01m0.49 0h.01m2.99 0h.01m0.49 0h.01m0.49 0h.01m0.49 0h.01m2.99 0h.01m3.99 0h.01m0.49 0h.01m0.49 0h.01m0.49 0h.01m0.49 0h.01m2.49 0h.01m8.89 0h.01m2.49 0h.01m2.49 0h.01m1.99 0h.01m3.99 0h.01m0.49 0h.01m0.49 0h.01m2.99 0h.01m0.49 0h.01m1.49 0h.01m7.89 0h.01m0.49 0h.01m6.99 0h.01m1.99 0h.01m2.49 0h.01m0.49 0h.01m5.99 0h.01m0.49 0h.01m0.99 0h.01m0.99 0h.01m0.89 0h.01m1.49 0h.01m0.99 0h.01m0.49 0h.01m2.49 0h.01m0.99 0h.01m2.49 0h.01m2.49 0h.01m1.49 0h.01m1.49 0h.01m0.49 0h.01m0.99 0h.01m1.49 0h.01m2.99 0h.01m5.39 0h.01m0.99 0h.01m1.99 0h.01m5.49 0h.01m0.99 0h.01m0.99 0h.01m6.99 0h.01m0.49 0h.01m5.39 0h.01m0.49 0h.01m1.49 0h.01m1.49 0h.01m0.49 0h.01m3.99 0h.01m0.99 0h.01m4.99 0h.01m0.99 0h.01m1.49 0h.01m7.39 0h.01m4.99 0h.01m0.99 0h.01m0.49 0h.01m4.99 0h.01m1.99 0h.01m0.99 0h.01m0.99 0h.01m2.49 0h.01m0.49 0h.01m1.99 0h.01m1.49 0h.01m0.49 0h.01m0.99 0h.01m0.49 0h.01m2.39 0h.01m0.99 0h.01m2.99 0h.01m3.49 0h.01m0.49 0h.01m0.49 0h.01m3.99 0h.01m1.99 0h.01m1.49 0h.01m1.99 0h.01m0.99 0h.01m4.89 0h.01m1.99 0h.01m1.49 0h.01m1.49 0h.01m1.49 0h.01m0.99 0h.01m2.99 0h.01m1.99 0h.01m4.99 0h.01m0.49 0h.01m0.99 0h.01m2.49 0h.01m0.99 0h.01m0.89 0h.01m2.49 0h.01m1.49 0h.01m1.49 0h.01m0.49 0h.01m4.99 0h.01m2.49 0h.01m0.49 0h.01m1.99 0h.01m1.49 0h.01m3.99 0h.01m2.49 0h.01m0.89 0h.01m0.49 0h.01m1.99 0h.01m3.99 0h.01m0.99 0h.01m4.99 0h.01m4.49 0h.01m0.99 0h.01m0.49 0h.01m0.49 0h.01m4.89 0h.01m0.49 0h.01m0.49 0h.01m1.49 0h.01m0.99 0h.01m1.99 0h.01m4.49 0h.01m3.49 0h.01m1.99 0h.01m3.49 0h.01M79 291.3h.01m4.99 0h.01m0.49 0h.01m1.89 0h.01m0.49 0h.01m0.49 0h.01m1.49 0h.01m0.49 0h.01m1.49 0h.01m0.49 0h.01m0.49 0h.01m0.49 0h.01m1.99 0h.01m0.99 0h.01m2.49 0h.01m0.49 0h.01m1.99 0h.01m0.99 0h.01m0.49 0h.01m0.49 0h.01m1.99 0h.01m0.49 0h.01m0.49 0h.01m0.49 0h.01m0.49 0h.01m1.49 0h.01m0.49 0h.01m0.99 0h.01m0.49 0h.01m1.39 0h.01m2.49 0h.01m3.49 0h.01m1.49 0h.01m2.99 0h.01m3.99 0h.01m4.49 0h.01m0.49 0h.01m0.49 0h.01m1.49 0h.01m0.49 0h.01m1.99 0h.01m6.39 0h.01m0.49 0h.01m0.99 0h.01m0.49 0h.01m0.99 0h.01m0.49 0h.01m0.49 0h.01m1.49 0h.01m1.99 0h.01m1.49 0h.01m0.49 0h.01m2.49 0h.01m1.49 0h.01m1.49 0h.01m1.49 0h.01m0.99 0h.01m1.39 0h.01m0.49 0h.01m0.49 0h.01m1.49 0h.01m0.99 0h.01m0.99 0h.01m2.49 0h.01m1.49 0h.01m0.99 0h.01m0.49 0h.01m1.49 0h.01m3.49 0h.01m0.49 0h.01m0.49 0h.01m2.99 0h.01m0.49 0h.01m2.99 0h.01m0.49 0h.01m0.89 0h.01m1.49 0h.01m0.49 0h.01m2.49 0h.01m0.99 0h.01m0.99 0h.01m0.99 0h.01m1.49 0h.01m0.99 0h.01m4.99 0h.01m0.99 0h.01m0.49 0h.01m0.99 0h.01m0.99 0h.01m0.49 0h.01m0.49 0h.01m2.49 0h.01m0.49 0h.01m0.49 0h.01m1.89 0h.01m0.49 0h.01m2.49 0h.01m1.49 0h.01m1.49 0h.01m0.49 0h.01m1.49 0h.01m1.49 0h.01m3.99 0h.01m0.49 0h.01m0.49 0h.01m0.49 0h.01m1.49 0h.01m0.99 0h.01m1.49 0h.01m0.99 0h.01m0.99 0h.01m2.49 0h.01m0.89 0h.01m0.99 0h.01m0.99 0h.01m1.49 0h.01m2.49 0h.01m1.99 0h.01m0.49 0h.01m0.99 0h.01m0.99 0h.01m0.99 0h.01m0.49 0h.01m0.49 0h.01m0.49 0h.01m0.99 0h.01m1.49 0h.01m0.99 0h.01m4.99 0h.01m0.49 0h.01m2.89 0h.01m1.99 0h.01m0.49 0h.01m0.99 0h.01m0.49 0h.01m0.99 0h.01m0.99 0h.01m0.49 0h.01m0.49 0h.01m0.49 0h.01m2.99 0h.01m2.99 0h.01m2.99 0h.01m2.99 0h.01m1.49 0h.01m0.49 0h.01m0.99 0h.01m0.99 0h.01m0.39 0h.01m1.99 0h.01m2.49 0h.01m1.49 0h.01m0.99 0h.01m0.99 0h.01m1.99 0h.01m4.99 0h.01m1.99 0h.01m2.99 0h.01m0.99 0h.01m0.99 0h.01m1.49 0h.01m1.89 0h.01m0.99 0h.01m0.49 0h.01m0.49 0h.01m0.49 0h.01m0.99 0h.01m0.49 0h.01m3.99 0h.01m1.99 0h.01m0.49 0h.01m3.49 0h.01m0.99 0h.01m0.99 0h.01m1.99 0h.01m0.99 0h.01m1.99 0h.01m0.49 0h.01m1.49 0h.01m0.89 0h.01m0.49 0h.01m3.99 0h.01m2.99 0h.01m1.49 0h.01m0.99 0h.01m0.49 0h.01m0.99 0h.01m0.99 0h.01m1.49 0h.01m1.49 0h.01m0.99 0h.01m2.49 0h.01m1.49 0h.01m0.99 0h.01m1.49 0h.01m0.49 0h.01m0.89 0h.01m0.99 0h.01m0.99 0h.01m1.49 0h.01m1.49 0h.01m1.49 0h.01m2.49 0h.01m0.49 0h.01m0.49 0h.01m0.99 0h.01m0.99 0h.01m1.99 0h.01m1.99 0h.01m1.49 0h.01m1.49 0h.01m0.49 0h.01m0.49 0h.01m1.49 0h.01m0.49 0h.01m0.49 0h.01m2.39 0h.01m0.49 0h.01m1.49 0h.01m2.99 0h.01m1.49 0h.01m0.99 0h.01m0.49 0h.01m1.49 0h.01m0.99 0h.01m0.49 0h.01m0.49 0h.01m0.99 0h.01m2.99 0h.01m1.49 0h.01m0.99 0h.01m0.49 0h.01m0.49 0h.01m1.49 0h.01m0.99 0h.01m0.49 0h.01m0.99 0h.01m0.49 0h.01m0.89 0h.01m2.49 0h.01m4.99 0h.01m4.49 0h.01m0.49 0h.01m1.99 0h.01m0.49 0h.01m3.49 0h.01m0.49 0h.01m0.49 0h.01m1.49 0h.01m2.99 0h.01m0.39 0h.01m1.49 0h.01m1.99 0h.01m1.99 0h.01m0.49 0h.01m1.99 0h.01m0.49 0h.01m1.49 0h.01m0.99 0h.01m0.49 0h.01m0.99 0h.01m0.99 0h.01m0.49 0h.01m0.49 0h.01m0.49 0h.01m0.49 0h.01m4.49 0h.01m0.99 0h.01m1.49 0h.01m0.99 0h.01m0.49 0h.01m1.39 0h.01m0.49 0h.01m4.49 0h.01m1.49 0h.01m0.49 0h.01m0.99 0h.01m1.49 0h.01m0.99 0h.01m0.99 0h.01m1.49 0h.01m1.99 0h.01m1.99 0h.01m0.49 0h.01m2.99 0h.01m2.49 0h.01m0.39 0h.01m3.49 0h.01m0.99 0h.01m0.99 0h.01m0.49 0h.01m1.49 0h.01m0.99 0h.01m0.49 0h.01m1.99 0h.01m1.49 0h.01m1.49 0h.01m0.99 0h.01m4.99 0h.01m2.99 0h.01m0.99 0h.01m2.89 0h.01m3.49 0h.01m1.99 0h.01m0.99 0h.01m2.99 0h.01m0.49 0h.01m2.49 0h.01m0.49 0h.01m0.49 0h.01m1.49 0h.01m4.99 0h.01m0.99 0h.01m1.39 0h.01m0.49 0h.01m0.49 0h.01m1.49 0h.01m0.99 0h.01m2.99 0h.01m1.99 0h.01m1.99 0h.01m1.49 0h.01m1.99 0h.01m0.99 0h.01m3.99 0h.01m1.49 0h.01m0.99 0h.01m0.99 0h.01m1.49 0h.01m0.89 0h.01m0.49 0h.01m2.49 0h.01m1.49 0h.01m1.99 0h.01m1.49 0h.01m1.99 0h.01m3.49 0h.01m0.49 0h.01m0.49 0h.01m0.49 0h.01m0.49 0h.01m2.49 0h.01m0.49 0h.01M79 287.8h.01m0.99 0h.01m2.49 0h.01m1.49 0h.01m0.49 0h.01m1.89 0h.01m0.99 0h.01m0.49 0h.01m2.49 0h.01m0.99 0h.01m1.99 0h.01m0.49 0h.01m0.99 0h.01m1.49 0h.01m0.49 0h.01m1.49 0h.01m0.99 0h.01m0.99 0h.01m1.49 0h.01m0.49 0h.01m0.99 0h.01m1.49 0h.01m0.99 0h.01m0.49 0h.01m0.99 0h.01m5.89 0h.01m3.99 0h.01m0.49 0h.01m0.49 0h.01m1.49 0h.01m5.99 0h.01m0.49 0h.01m2.49 0h.01m0.99 0h.01m4.99 0h.01m0.49 0h.01m0.89 0h.01m1.49 0h.01m0.49 0h.01m0.49 0h.01m1.49 0h.01m0.99 0h.01m4.99 0h.01m0.49 0h.01m0.49 0h.01m0.99 0h.01m1.99 0h.01m3.99 0h.01m0.49 0h.01m1.49 0h.01m3.49 0h.01m0.39 0h.01m0.49 0h.01m2.49 0h.01m0.99 0h.01m0.49 0h.01m2.99 0h.01m0.99 0h.01m2.49 0h.01m3.49 0h.01m0.49 0h.01m1.49 0h.01m2.49 0h.01m1.49 0h.01m1.99 0h.01m1.89 0h.01m3.99 0h.01m1.99 0h.01m0.99 0h.01m0.49 0h.01m0.99 0h.01m0.49 0h.01m0.49 0h.01m1.99 0h.01m1.99 0h.01m0.99 0h.01m0.49 0h.01m0.49 0h.01m4.49 0h.01m1.99 0h.01m2.39 0h.01m3.99 0h.01m0.99 0h.01m2.49 0h.01m1.49 0h.01m0.49 0h.01m1.49 0h.01m0.49 0h.01m0.49 0h.01m0.99 0h.01m0.49 0h.01m0.49 0h.01m1.99 0h.01m3.99 0h.01m0.99 0h.01m1.99 0h.01m3.39 0h.01m1.99 0h.01m3.49 0h.01m1.49 0h.01m2.99 0h.01m0.49 0h.01m0.99 0h.01m2.49 0h.01m1.99 0h.01m3.99 0h.01m2.49 0h.01m1.39 0h.01m1.49 0h.01m0.99 0h.01m1.49 0h.01m0.49 0h.01m3.49 0h.01m2.99 0h.01m3.99 0h.01m0.49 0h.01m4.49 0h.01m0.99 0h.01m0.99 0h.01m1.89 0h.01m5.99 0h.01m0.49 0h.01m0.49 0h.01m2.49 0h.01m0.49 0h.01m1.99 0h.01m1.99 0h.01m0.49 0h.01m0.49 0h.01m0.99 0h.01m0.49 0h.01m3.99 0h.01m1.99 0h.01m0.49 0h.01m5.39 0h.01m2.49 0h.01m1.99 0h.01m0.49 0h.01m2.99 0h.01m2.49 0h.01m1.99 0h.01m1.49 0h.01m0.49 0h.01m2.49 0h.01m2.49 0h.01m3.39 0h.01m0.49 0h.01m1.99 0h.01m0.49 0h.01m5.99 0h.01m0.99 0h.01m0.99 0h.01m1.49 0h.01m3.49 0h.01m2.99 0h.01m0.49 0h.01m0.99 0h.01m0.99 0h.01m0.39 0h.01m1.49 0h.01m8.49 0h.01m0.49 0h.01m0.49 0h.01m3.99 0h.01m0.49 0h.01m0.49 0h.01m0.99 0h.01m1.99 0h.01m6.39 0h.01m0.99 0h.01m0.49 0h.01m2.49 0h.01m0.49 0h.01m1.49 0h.01m0.99 0h.01m0.99 0h.01m0.99 0h.01m3.49 0h.01m2.49 0h.01m5.49 0h.01m0.49 0h.01m0.49 0h.01m6.39 0h.01m1.49 0h.01m0.49 0h.01m0.49 0h.01m1.49 0h.01m1.49 0h.01m0.99 0h.01m2.99 0h.01m1.99 0h.01m0.99 0h.01m0.49 0h.01m0.49 0h.01m2.49 0h.01m0.99 0h.01m0.99 0h.01m0.99 0h.01m1.39 0h.01m0.99 0h.01m0.99 0h.01m1.49 0h.01m6.99 0h.01m0.49 0h.01m6.49 0h.01m0.99 0h.01m1.49 0h.01m1.99 0h.01m5.89 0h.01m0.49 0h.01m2.99 0h.01m1.49 0h.01m5.49 0h.01m0.99 0h.01m4.49 0h.01m0.99 0h.01m1.49 0h.01m0.49 0h.01m0.49 0h.01m0.49 0h.01m0.49 0h.01m0.39 0h.01m2.49 0h.01m0.49 0h.01m4.49 0h.01m1.99 0h.01m0.49 0h.01m3.49 0h.01m1.49 0h.01m0.99 0h.01m2.49 0h.01m0.99 0h.01m2.49 0h.01m1.99 0h.01m1.39 0h.01m0.49 0h.01m1.49 0h.01m0.99 0h.01m0.49 0h.01m0.99 0h.01m3.99 0h.01m0.49 0h.01m0.99 0h.01m8.49 0h.01m0.49 0h.01m2.99 0h.01m1.49 0h.01m2.39 0h.01m0.99 0h.01m2.99 0h.01m1.99 0h.01m0.99 0h.01m1.99 0h.01m0.49 0h.01m0.49 0h.01m0.99 0h.01m0.99 0h.01m4.99 0h.01m0.49 0h.01m1.99 0h.01m0.49 0h.01m2.39 0h.01m1.49 0h.01m2.99 0h.01m1.49 0h.01m0.49 0h.01m2.49 0h.01m0.99 0h.01m1.49 0h.01m1.49 0h.01m3.49 0h.01m2.49 0h.01M79.5 284.3h.01m0.49 0h.01m0.99 0h.01m0.49 0h.01m0.49 0h.01m0.99 0h.01m0.99 0h.01m0.49 0h.01m0.49 0h.01m0.49 0h.01m1.39 0h.01m0.49 0h.01m0.99 0h.01m1.99 0h.01m4.49 0h.01m0.99 0h.01m4.99 0h.01m0.99 0h.01m2.49 0h.01m1.99 0h.01m0.49 0h.01m1.49 0h.01m1.49 0h.01m1.89 0h.01m1.49 0h.01m0.49 0h.01m2.99 0h.01m2.99 0h.01m2.49 0h.01m0.49 0h.01m2.49 0h.01m0.99 0h.01m0.99 0h.01m2.99 0h.01m0.49 0h.01m0.49 0h.01m0.99 0h.01m0.49 0h.01m0.99 0h.01m0.49 0h.01m1.89 0h.01m2.49 0h.01m0.49 0h.01m0.99 0h.01m0.49 0h.01m0.99 0h.01m0.99 0h.01m0.99 0h.01m0.49 0h.01m0.49 0h.01m0.99 0h.01m2.49 0h.01m1.49 0h.01m0.99 0h.01m2.99 0h.01m0.49 0h.01m1.99 0h.01m1.99 0h.01m0.49 0h.01m1.89 0h.01m0.99 0h.01m0.49 0h.01m1.99 0h.01m0.99 0h.01m2.49 0h.01m1.49 0h.01m0.49 0h.01m0.99 0h.01m0.99 0h.01m0.49 0h.01m5.49 0h.01m1.49 0h.01m3.49 0h.01m0.49 0h.01m0.99 0h.01m0.39 0h.01m0.49 0h.01m4.99 0h.01m0.99 0h.01m0.49 0h.01m0.49 0h.01m0.49 0h.01m4.49 0h.01m0.99 0h.01m1.99 0h.01m1.49 0h.01m1.49 0h.01m0.49 0h.01m0.49 0h.01m1.99 0h.01m0.49 0h.01m0.99 0h.01m0.49 0h.01m0.89 0h.01m0.49 0h.01m2.49 0h.01m0.99 0h.01m0.49 0h.01m0.49 0h.01m6.49 0h.01m0.49 0h.01m0.99 0h.01m0.49 0h.01m2.49 0h.01m0.49 0h.01m4.99 0h.01m1.49 0h.01m1.89 0h.01m3.99 0h.01m1.49 0h.01m4.49 0h.01m3.49 0h.01m0.99 0h.01m3.99 0h.01m0.49 0h.01m1.99 0h.01m0.49 0h.01m0.49 0h.01m0.49 0h.01m0.49 0h.01m2.89 0h.01m0.49 0h.01m1.49 0h.01m0.49 0h.01m0.49 0h.01m0.49 0h.01m3.99 0h.01m0.49 0h.01m0.99 0h.01m0.49 0h.01m0.99 0h.01m2.49 0h.01m0.49 0h.01m1.49 0h.01m0.99 0h.01m0.99 0h.01m0.49 0h.01m2.49 0h.01m0.49 0h.01m3.39 0h.01m0.49 0h.01m0.99 0h.01m0.49 0h.01m0.99 0h.01m1.99 0h.01m4.99 0h.01m0.49 0h.01m0.99 0h.01m3.49 0h.01m0.99 0h.01m1.49 0h.01m0.99 0h.01m0.99 0h.01m0.99 0h.01m0.49 0h.01m1.99 0h.01m1.39 0h.01m2.49 0h.01m1.49 0h.01m0.49 0h.01m1.49 0h.01m0.99 0h.01m2.49 0h.01m1.49 0h.01m2.49 0h.01m3.99 0h.01m1.49 0h.01m0.49 0h.01m3.49 0h.01m0.49 0h.01m2.39 0h.01m0.99 0h.01m2.49 0h.01m0.49 0h.01m0.49 0h.01m1.49 0h.01m0.49 0h.01m1.49 0h.01m2.49 0h.01m0.99 0h.01m2.49 0h.01m1.99 0h.01m0.99 0h.01m0.99 0h.01m2.99 0h.01m0.49 0h.01m0.89 0h.01m2.49 0h.01m0.49 0h.01m0.99 0h.01m0.99 0h.01m1.99 0h.01m0.49 0h.01m0.99 0h.01m0.99 0h.01m0.99 0h.01m1.49 0h.01m0.49 0h.01m1.49 0h.01m3.49 0h.01m5.99 0h.01m1.39 0h.01m1.99 0h.01m0.99 0h.01m0.49 0h.01m1.99 0h.01m1.49 0h.01m1.49 0h.01m0.49 0h.01m0.49 0h.01m0.99 0h.01m1.49 0h.01m2.49 0h.01m0.99 0h.01m0.49 0h.01m0.49 0h.01m3.49 0h.01m2.99 0h.01m0.99 0h.01m1.39 0h.01m0.99 0h.01m0.49 0h.01m0.99 0h.01m0.49 0h.01m2.49 0h.01m0.49 0h.01m0.99 0h.01m1.49 0h.01m3.49 0h.01m0.49 0h.01m0.49 0h.01m0.99 0h.01m1.99 0h.01m3.99 0h.01m0.49 0h.01m0.99 0h.01m0.99 0h.01m3.39 0h.01m0.49 0h.01m0.99 0h.01m0.99 0h.01m0.99 0h.01m0.99 0h.01m1.49 0h.01m0.99 0h.01m0.99 0h.01m0.49 0h.01m1.99 0h.01m1.99 0h.01m0.49 0h.01m1.49 0h.01m1.99 0h.01m1.49 0h.01m0.49 0h.01m1.49 0h.01m0.99 0h.01m0.49 0h.01m5.89 0h.01m4.49 0h.01m1.49 0h.01m0.49 0h.01m3.49 0h.01m4.49 0h.01m0.49 0h.01m1.49 0h.01m0.49 0h.01m0.99 0h.01m0.49 0h.01m3.89 0h.01m0.99 0h.01m0.49 0h.01m2.49 0h.01m0.49 0h.01m0.99 0h.01m1.99 0h.01m0.49 0h.01m0.49 0h.01m6.99 0h.01m2.49 0h.01m0.99 0h.01m1.99 0h.01m3.89 0h.01m0.49 0h.01m0.99 0h.01m1.99 0h.01m3.99 0h.01m0.99 0h.01m0.49 0h.01m0.49 0h.01m1.49 0h.01m1.49 0h.01m0.99 0h.01m4.49 0h.01m2.89 0h.01m1.99 0h.01m1.49 0h.01m0.49 0h.01m0.49 0h.01m1.99 0h.01m4.49 0h.01m0.49 0h.01m1.49 0h.01m2.99 0h.01m0.99 0h.01m0.49 0h.01m0.99 0h.01m1.49 0h.01m0.49 0h.01m1.99 0h.01m0.49 0h.01m4.89 0h.01m0.49 0h.01m0.49 0h.01m0.49 0h.01m1.99 0h.01m3.49 0h.01m1.99 0h.01M84 280.8h.01m0.49 0h.01m2.39 0h.01m0.99 0h.01m2.99 0h.01m3.49 0h.01m0.99 0h.01m0.49 0h.01m2.99 0h.01m3.49 0h.01m1.49 0h.01m1.99 0h.01m2.49 0h.01m4.39 0h.01m0.99 0h.01m0.99 0h.01m4.49 0h.01m1.99 0h.01m3.99 0h.01m0.49 0h.01m1.99 0h.01m4.49 0h.01m12.39 0h.01m2.49 0h.01m1.99 0h.01m0.49 0h.01m7.99 0h.01m2.89 0h.01m0.99 0h.01m2.49 0h.01m3.99 0h.01m3.49 0h.01m3.49 0h.01m2.49 0h.01m0.49 0h.01m2.99 0h.01m2.99 0h.01m6.89 0h.01m0.49 0h.01m1.99 0h.01m0.99 0h.01m0.49 0h.01m2.99 0h.01m3.99 0h.01m1.49 0h.01m0.99 0h.01m2.99 0h.01m1.39 0h.01m1.99 0h.01m2.99 0h.01m0.99 0h.01m1.49 0h.01m1.49 0h.01m2.49 0h.01m4.99 0h.01m0.99 0h.01m3.99 0h.01m1.49 0h.01m0.49 0h.01m1.89 0h.01m3.99 0h.01m2.49 0h.01m0.49 0h.01m3.99 0h.01m1.49 0h.01m4.49 0h.01m0.99 0h.01m1.99 0h.01m0.49 0h.01m1.99 0h.01m0.49 0h.01m1.39 0h.01m0.99 0h.01m0.99 0h.01m1.49 0h.01m5.99 0h.01m1.49 0h.01m1.99 0h.01m0.49 0h.01m2.99 0h.01m0.99 0h.01m1.99 0h.01m1.49 0h.01m0.49 0h.01m2.39 0h.01m0.49 0h.01m0.99 0h.01m0.99 0h.01m12.99 0h.01m0.99 0h.01m0.99 0h.01m0.49 0h.01m2.99 0h.01m2.99 0h.01m0.49 0h.01m1.39 0h.01m8.49 0h.01m8.49 0h.01m3.99 0h.01m0.49 0h.01m0.49 0h.01m0.49 0h.01m2.89 0h.01m3.49 0h.01m1.49 0h.01m0.49 0h.01m2.99 0h.01m0.99 0h.01m1.49 0h.01m4.99 0h.01m2.99 0h.01m1.49 0h.01m9.39 0h.01m1.49 0h.01m0.99 0h.01m0.99 0h.01m0.99 0h.01m0.49 0h.01m2.99 0h.01m4.99 0h.01m0.99 0h.01m0.99 0h.01m4.39 0h.01m1.99 0h.01m1.49 0h.01m3.49 0h.01m11.99 0h.01m3.89 0h.01m2.99 0h.01m4.49 0h.01m1.99 0h.01m2.99 0h.01m2.99 0h.01m0.49 0h.01m1.49 0h.01m0.99 0h.01m3.49 0h.01m0.49 0h.01m1.89 0h.01m0.49 0h.01m5.99 0h.01m4.49 0h.01m0.99 0h.01m3.99 0h.01m0.49 0h.01m1.99 0h.01m5.39 0h.01m0.99 0h.01m0.49 0h.01m0.49 0h.01m0.49 0h.01m5.49 0h.01m5.49 0h.01m1.99 0h.01m0.49 0h.01m5.99 0h.01m0.49 0h.01m4.89 0h.01m1.99 0h.01m2.99 0h.01m4.49 0h.01m0.99 0h.01m0.49 0h.01m3.49 0h.01m5.49 0h.01m0.49 0h.01m1.39 0h.01m0.49 0h.01m3.49 0h.01m3.99 0h.01m1.49 0h.01m2.99 0h.01m0.99 0h.01m3.99 0h.01m7.39 0h.01m1.99 0h.01m0.49 0h.01m0.49 0h.01m4.49 0h.01m0.49 0h.01m2.49 0h.01m3.49 0h.01m0.99 0h.01m1.49 0h.01m0.49 0h.01m0.49 0h.01m3.49 0h.01m0.99 0h.01m0.99 0h.01m2.39 0h.01m4.99 0h.01m0.49 0h.01m0.49 0h.01m2.49 0h.01m1.99 0h.01m1.99 0h.01m1.49 0h.01m0.99 0h.01M79 277.3h.01m3.99 0h.01m1.49 0h.01m2.89 0h.01m3.49 0h.01m0.49 0h.01m5.49 0h.01m3.49 0h.01m0.99 0h.01m13.39 0h.01m1.49 0h.01m0.99 0h.01m0.99 0h.01m0.99 0h.01m2.99 0h.01m4.49 0h.01m1.49 0h.01m0.49 0h.01m3.49 0h.01m3.39 0h.01m2.49 0h.01m0.99 0h.01m10.99 0h.01m0.99 0h.01m1.99 0h.01m2.49 0h.01m0.99 0h.01m2.49 0h.01m5.39 0h.01m3.99 0h.01m0.49 0h.01m1.49 0h.01m2.99 0h.01m5.49 0h.01m0.49 0h.01m0.49 0h.01m0.49 0h.01m0.49 0h.01m3.39 0h.01m2.49 0h.01m0.99 0h.01m9.49 0h.01m2.99 0h.01m3.49 0h.01m8.89 0h.01m0.49 0h.01m0.49 0h.01m0.49 0h.01m0.49 0h.01m0.99 0h.01m0.49 0h.01m3.49 0h.01m0.49 0h.01m4.49 0h.01m1.49 0h.01m1.99 0h.01m0.49 0h.01m0.99 0h.01m3.89 0h.01m0.99 0h.01m9.49 0h.01m1.99 0h.01m0.99 0h.01m7.99 0h.01m0.99 0h.01m0.99 0h.01m0.89 0h.01m4.99 0h.01m2.99 0h.01m5.49 0h.01m1.99 0h.01m0.49 0h.01m0.49 0h.01m11.89 0h.01m7.99 0h.01m3.99 0h.01m1.49 0h.01m0.49 0h.01m2.49 0h.01m3.49 0h.01m0.89 0h.01m4.99 0h.01m2.99 0h.01m0.99 0h.01m5.49 0h.01m0.49 0h.01m5.99 0h.01m2.99 0h.01m1.39 0h.01m0.99 0h.01m0.49 0h.01m3.99 0h.01m3.99 0h.01m1.99 0h.01m1.49 0h.01m7.99 0h.01m11.89 0h.01m5.99 0h.01m5.49 0h.01m2.49 0h.01m0.49 0h.01m0.89 0h.01m4.99 0h.01m1.99 0h.01m8.99 0h.01m0.99 0h.01m1.99 0h.01m3.49 0h.01m2.89 0h.01m1.49 0h.01m2.49 0h.01m3.99 0h.01m3.99 0h.01m1.99 0h.01m0.99 0h.01m2.99 0h.01m0.99 0h.01m1.99 0h.01m1.99 0h.01m0.89 0h.01m0.49 0h.01m3.49 0h.01m1.49 0h.01m2.49 0h.01m1.99 0h.01m1.49 0h.01m5.49 0h.01m1.99 0h.01m2.49 0h.01m0.49 0h.01m3.89 0h.01m0.49 0h.01m1.49 0h.01m1.49 0h.01m1.49 0h.01m3.49 0h.01m0.49 0h.01m2.99 0h.01m1.99 0h.01m2.99 0h.01m1.99 0h.01m0.49 0h.01m1.49 0h.01m1.39 0h.01m4.49 0h.01m7.49 0h.01m1.99 0h.01m3.49 0h.01m7.39 0h.01m5.99 0h.01m1.99 0h.01m2.99 0h.01m2.49 0h.01m1.49 0h.01m2.49 0h.01m0.49 0h.01m1.49 0h.01m2.99 0h.01m5.39 0h.01m11.49 0h.01m0.49 0h.01m0.99 0h.01m0.99 0h.01m1.49 0h.01m6.39 0h.01m6.49 0h.01m3.99 0h.01m1.99 0h.01M79 273.8h.01m0.49 0h.01m0.99 0h.01m0.99 0h.01m3.49 0h.01m0.99 0h.01m0.39 0h.01m0.99 0h.01m2.99 0h.01m0.49 0h.01m0.99 0h.01m1.49 0h.01m1.49 0h.01m1.99 0h.01m0.99 0h.01m1.49 0h.01m0.49 0h.01m5.99 0h.01m1.99 0h.01m8.39 0h.01m0.99 0h.01m0.49 0h.01m0.99 0h.01m11.99 0h.01m1.49 0h.01m0.99 0h.01m1.99 0h.01m0.39 0h.01m1.99 0h.01m2.49 0h.01m0.99 0h.01m3.49 0h.01m2.49 0h.01m5.49 0h.01m2.99 0h.01m1.99 0h.01m0.99 0h.01m4.89 0h.01m3.99 0h.01m0.49 0h.01m0.99 0h.01m6.49 0h.01m0.99 0h.01m2.49 0h.01m8.89 0h.01m3.49 0h.01m2.99 0h.01m2.49 0h.01m0.49 0h.01m4.99 0h.01m0.99 0h.01m0.99 0h.01m0.49 0h.01m1.99 0h.01m2.39 0h.01m0.99 0h.01m3.49 0h.01m3.49 0h.01m0.49 0h.01m2.49 0h.01m0.49 0h.01m1.49 0h.01m1.49 0h.01m0.99 0h.01m1.99 0h.01m0.49 0h.01m0.99 0h.01m0.49 0h.01m0.49 0h.01m2.49 0h.01m2.39 0h.01m2.99 0h.01m0.99 0h.01m2.99 0h.01m3.99 0h.01m1.49 0h.01m2.99 0h.01m0.49 0h.01m0.49 0h.01m0.49 0h.01m0.49 0h.01m1.49 0h.01m4.49 0h.01m0.39 0h.01m2.99 0h.01m0.99 0h.01m5.49 0h.01m2.99 0h.01m0.99 0h.01m3.49 0h.01m0.49 0h.01m1.49 0h.01m1.49 0h.01m0.99 0h.01m2.89 0h.01m0.49 0h.01m0.49 0h.01m0.49 0h.01m1.49 0h.01m1.99 0h.01m0.99 0h.01m2.99 0h.01m0.49 0h.01m0.99 0h.01m3.99 0h.01m0.99 0h.01m2.49 0h.01m0.49 0h.01m7.89 0h.01m0.99 0h.01m0.99 0h.01m0.49 0h.01m0.99 0h.01m2.99 0h.01m0.99 0h.01m0.49 0h.01m1.99 0h.01m0.49 0h.01m2.99 0h.01m5.99 0h.01m0.49 0h.01m0.49 0h.01m2.89 0h.01m0.49 0h.01m1.99 0h.01m0.99 0h.01m0.99 0h.01m0.49 0h.01m0.49 0h.01m0.49 0h.01m0.49 0h.01m1.49 0h.01m1.99 0h.01m1.99 0h.01m0.49 0h.01m3.49 0h.01m3.49 0h.01m0.99 0h.01m0.49 0h.01m1.49 0h.01m0.49 0h.01m0.49 0h.01m1.89 0h.01m0.99 0h.01m0.49 0h.01m0.99 0h.01m0.99 0h.01m3.49 0h.01m1.99 0h.01m0.99 0h.01m1.49 0h.01m2.99 0h.01m6.49 0h.01m1.89 0h.01m1.99 0h.01m0.99 0h.01m0.99 0h.01m0.99 0h.01m0.49 0h.01m1.99 0h.01m3.49 0h.01m4.49 0h.01m0.49 0h.01m0.49 0h.01m0.49 0h.01m1.49 0h.01m0.99 0h.01m0.99 0h.01m5.39 0h.01m1.99 0h.01m0.99 0h.01m0.49 0h.01m0.49 0h.01m0.49 0h.01m1.99 0h.01m1.99 0h.01m0.49 0h.01m1.49 0h.01m0.49 0h.01m0.99 0h.01m4.49 0h.01m15.89 0h.01m0.49 0h.01m2.49 0h.01m3.49 0h.01m0.49 0h.01m2.49 0h.01m4.49 0h.01m2.39 0h.01m3.49 0h.01m1.99 0h.01m0.99 0h.01m2.99 0h.01m1.99 0h.01m0.99 0h.01m0.49 0h.01m1.99 0h.01m5.49 0h.01m1.99 0h.01m0.49 0h.01m0.89 0h.01m2.99 0h.01m0.49 0h.01m1.49 0h.01m0.99 0h.01m1.99 0h.01m0.49 0h.01m2.49 0h.01m1.49 0h.01m1.49 0h.01m0.49 0h.01m0.49 0h.01m1.99 0h.01m0.99 0h.01m0.49 0h.01m1.49 0h.01m4.39 0h.01m2.49 0h.01m0.49 0h.01m1.49 0h.01m0.49 0h.01m0.99 0h.01m0.99 0h.01m0.49 0h.01m1.49 0h.01m2.99 0h.01m4.49 0h.01m0.49 0h.01m1.49 0h.01m1.49 0h.01m3.49 0h.01m2.89 0h.01m0.49 0h.01m0.49 0h.01m0.99 0h.01m1.49 0h.01m0.49 0h.01m3.99 0h.01m0.49 0h.01m0.49 0h.01m0.49 0h.01m3.99 0h.01m0.49 0h.01m4.49 0h.01m8.89 0h.01m1.49 0h.01m1.99 0h.01m2.49 0h.01m0.99 0h.01m2.99 0h.01m0.99 0h.01m2.99 0h.01m0.49 0h.01M79.5 270.3h.01m0.49 0h.01m0.99 0h.01m2.49 0h.01m2.49 0h.01m2.39 0h.01m0.49 0h.01m5.99 0h.01m0.99 0h.01m0.49 0h.01m0.99 0h.01m1.49 0h.01m4.99 0h.01m2.49 0h.01m2.49 0h.01m0.49 0h.01m1.89 0h.01m0.49 0h.01m3.49 0h.01m0.99 0h.01m2.99 0h.01m0.49 0h.01m0.49 0h.01m3.49 0h.01m1.49 0h.01m0.49 0h.01m0.49 0h.01m0.99 0h.01m4.49 0h.01m2.49 0h.01m0.99 0h.01m1.89 0h.01m0.49 0h.01m0.49 0h.01m0.99 0h.01m2.49 0h.01m0.99 0h.01m0.49 0h.01m0.99 0h.01m1.49 0h.01m0.49 0h.01m0.99 0h.01m0.49 0h.01m2.99 0h.01m0.99 0h.01m3.99 0h.01m0.49 0h.01m0.49 0h.01m0.49 0h.01m1.99 0h.01m0.49 0h.01m0.89 0h.01m3.99 0h.01m3.49 0h.01m1.99 0h.01m2.99 0h.01m0.49 0h.01m1.49 0h.01m1.99 0h.01m0.49 0h.01m0.49 0h.01m0.49 0h.01m0.49 0h.01m0.49 0h.01m0.49 0h.01m0.49 0h.01m7.39 0h.01m2.99 0h.01m2.49 0h.01m0.49 0h.01m1.99 0h.01m3.99 0h.01m1.99 0h.01m0.99 0h.01m3.99 0h.01m0.99 0h.01m4.39 0h.01m2.49 0h.01m0.49 0h.01m1.99 0h.01m2.49 0h.01m0.99 0h.01m0.49 0h.01m0.49 0h.01m0.99 0h.01m0.49 0h.01m0.49 0h.01m2.99 0h.01m2.49 0h.01m1.49 0h.01m3.89 0h.01m3.99 0h.01m0.49 0h.01m1.49 0h.01m0.49 0h.01m0.99 0h.01m0.49 0h.01m1.49 0h.01m0.99 0h.01m1.49 0h.01m1.99 0h.01m0.49 0h.01m0.49 0h.01m0.49 0h.01m0.49 0h.01m0.49 0h.01m1.49 0h.01m0.99 0h.01m0.99 0h.01m2.49 0h.01m0.89 0h.01m1.99 0h.01m0.99 0h.01m1.49 0h.01m1.49 0h.01m0.49 0h.01m0.99 0h.01m0.49 0h.01m2.49 0h.01m0.49 0h.01m0.99 0h.01m0.49 0h.01m2.49 0h.01m0.49 0h.01m0.49 0h.01m1.49 0h.01m2.49 0h.01m0.49 0h.01m3.49 0h.01m1.89 0h.01m0.99 0h.01m1.49 0h.01m0.49 0h.01m2.49 0h.01m0.99 0h.01m0.49 0h.01m0.99 0h.01m0.49 0h.01m0.49 0h.01m0.49 0h.01m0.49 0h.01m1.49 0h.01m1.99 0h.01m0.49 0h.01m3.99 0h.01m0.99 0h.01m0.49 0h.01m0.49 0h.01m2.49 0h.01m1.39 0h.01m1.99 0h.01m0.99 0h.01m0.49 0h.01m2.99 0h.01m0.49 0h.01m1.49 0h.01m0.99 0h.01m3.49 0h.01m2.49 0h.01m0.49 0h.01m3.99 0h.01m1.99 0h.01m0.49 0h.01m1.39 0h.01m0.49 0h.01m2.99 0h.01m0.49 0h.01m0.99 0h.01m3.49 0h.01m0.49 0h.01m2.99 0h.01m0.49 0h.01m1.99 0h.01m0.49 0h.01m1.49 0h.01m0.49 0h.01m0.99 0h.01m0.99 0h.01m0.49 0h.01m0.49 0h.01m1.99 0h.01m0.49 0h.01m1.49 0h.01m1.39 0h.01m0.99 0h.01m0.99 0h.01m0.49 0h.01m0.49 0h.01m0.99 0h.01m0.49 0h.01m0.99 0h.01m0.99 0h.01m1.99 0h.01m0.49 0h.01m0.99 0h.01m1.99 0h.01m7.49 0h.01m0.99 0h.01m1.99 0h.01m0.49 0h.01m1.89 0h.01m0.49 0h.01m2.99 0h.01m1.49 0h.01m3.49 0h.01m1.99 0h.01m1.49 0h.01m7.99 0h.01m5.39 0h.01m0.49 0h.01m0.99 0h.01m1.49 0h.01m3.99 0h.01m1.49 0h.01m0.99 0h.01m0.49 0h.01m1.49 0h.01m0.49 0h.01m0.49 0h.01m0.99 0h.01m0.49 0h.01m1.49 0h.01m0.49 0h.01m1.49 0h.01m4.49 0h.01m1.39 0h.01m0.49 0h.01m1.49 0h.01m1.49 0h.01m0.49 0h.01m0.49 0h.01m0.49 0h.01m1.49 0h.01m0.49 0h.01m0.49 0h.01m1.49 0h.01m0.49 0h.01m0.49 0h.01m0.49 0h.01m0.49 0h.01m1.49 0h.01m1.49 0h.01m0.99 0h.01m0.99 0h.01m2.99 0h.01m0.99 0h.01m1.99 0h.01m1.39 0h.01m0.49 0h.01m1.49 0h.01m0.49 0h.01m2.49 0h.01m0.99 0h.01m1.49 0h.01m1.99 0h.01m4.49 0h.01m0.49 0h.01m2.99 0h.01m2.49 0h.01m1.49 0h.01m2.49 0h.01m1.89 0h.01m0.49 0h.01m0.99 0h.01m1.49 0h.01m2.49 0h.01m2.49 0h.01m1.99 0h.01m1.99 0h.01m2.49 0h.01m0.49 0h.01m2.49 0h.01m2.49 0h.01m0.99 0h.01m0.49 0h.01m0.49 0h.01m0.49 0h.01m2.89 0h.01m1.99 0h.01m0.49 0h.01m1.99 0h.01m2.99 0h.01m10.99 0h.01m2.99 0h.01m1.89 0h.01m3.99 0h.01m0.99 0h.01m0.99 0h.01m0.49 0h.01m3.99 0h.01m2.99 0h.01m0.99 0h.01m0.49 0h.01m2.49 0h.01m1.99 0h.01m1.99 0h.01m0.49 0h.01m1.89 0h.01m1.99 0h.01m2.49 0h.01m2.49 0h.01m1.49 0h.01m0.49 0h.01m0.99 0h.01m0.99 0h.01m1.49 0h.01m0.49 0h.01m2.49 0h.01m0.49 0h.01m2.49 0h.01M80.5 266.8h.01m1.99 0h.01m3.49 0h.01m1.89 0h.01m7.49 0h.01m0.49 0h.01m0.99 0h.01m0.49 0h.01m0.49 0h.01m3.49 0h.01m3.99 0h.01m2.99 0h.01m2.39 0h.01m0.99 0h.01m0.99 0h.01m4.99 0h.01m1.99 0h.01m0.49 0h.01m1.99 0h.01m1.49 0h.01m0.49 0h.01m0.49 0h.01m1.49 0h.01m1.49 0h.01m0.99 0h.01m1.49 0h.01m1.49 0h.01m5.89 0h.01m1.49 0h.01m0.99 0h.01m0.99 0h.01m0.49 0h.01m1.49 0h.01m1.49 0h.01m0.49 0h.01m0.49 0h.01m0.99 0h.01m1.49 0h.01m1.99 0h.01m5.99 0h.01m2.99 0h.01m4.39 0h.01m1.49 0h.01m1.49 0h.01m0.49 0h.01m0.49 0h.01m2.49 0h.01m2.99 0h.01m4.99 0h.01m0.49 0h.01m0.99 0h.01m4.89 0h.01m0.49 0h.01m0.99 0h.01m2.99 0h.01m0.99 0h.01m1.49 0h.01m0.49 0h.01m1.99 0h.01m0.99 0h.01m0.99 0h.01m1.99 0h.01m1.49 0h.01m0.49 0h.01m0.49 0h.01m0.49 0h.01m2.49 0h.01m2.99 0h.01m0.49 0h.01m1.89 0h.01m1.49 0h.01m2.49 0h.01m3.99 0h.01m0.99 0h.01m0.49 0h.01m0.49 0h.01m2.99 0h.01m0.49 0h.01m6.99 0h.01m2.49 0h.01m0.49 0h.01m5.89 0h.01m0.99 0h.01m2.49 0h.01m7.99 0h.01m6.99 0h.01m2.89 0h.01m1.49 0h.01m1.99 0h.01m0.99 0h.01m0.49 0h.01m1.49 0h.01m4.49 0h.01m0.99 0h.01m0.49 0h.01m2.49 0h.01m1.49 0h.01m1.49 0h.01m3.99 0h.01m1.89 0h.01m0.99 0h.01m1.49 0h.01m1.49 0h.01m0.99 0h.01m0.49 0h.01m0.49 0h.01m0.49 0h.01m2.99 0h.01m2.49 0h.01m0.99 0h.01m0.49 0h.01m0.99 0h.01m0.49 0h.01m1.99 0h.01m3.49 0h.01m2.99 0h.01m0.89 0h.01m2.49 0h.01m0.49 0h.01m1.49 0h.01m0.99 0h.01m2.49 0h.01m2.49 0h.01m0.49 0h.01m1.49 0h.01m1.99 0h.01m0.99 0h.01m2.49 0h.01m0.49 0h.01m0.49 0h.01m0.99 0h.01m0.49 0h.01m2.99 0h.01m1.89 0h.01m0.99 0h.01m0.49 0h.01m2.99 0h.01m0.49 0h.01m0.99 0h.01m1.49 0h.01m7.49 0h.01m1.49 0h.01m0.99 0h.01m0.49 0h.01m2.49 0h.01m1.99 0h.01m0.39 0h.01m0.99 0h.01m3.49 0h.01m1.49 0h.01m1.49 0h.01m4.49 0h.01m1.49 0h.01m1.49 0h.01m0.49 0h.01m2.49 0h.01m0.49 0h.01m0.49 0h.01m0.49 0h.01m2.99 0h.01m0.49 0h.01m0.49 0h.01m1.89 0h.01m1.49 0h.01m3.49 0h.01m1.99 0h.01m0.99 0h.01m0.49 0h.01m0.99 0h.01m2.49 0h.01m0.49 0h.01m1.49 0h.01m2.99 0h.01m0.99 0h.01m0.99 0h.01m1.49 0h.01m0.49 0h.01m0.99 0h.01m0.49 0h.01m1.39 0h.01m0.99 0h.01m4.99 0h.01m0.99 0h.01m0.49 0h.01m0.49 0h.01m0.99 0h.01m1.99 0h.01m3.49 0h.01m6.99 0h.01m0.49 0h.01m3.89 0h.01m0.49 0h.01m1.49 0h.01m1.99 0h.01m0.99 0h.01m2.99 0h.01m0.49 0h.01m6.49 0h.01m0.49 0h.01m0.49 0h.01m0.49 0h.01m0.49 0h.01m0.49 0h.01m0.99 0h.01m1.99 0h.01m1.99 0h.01m0.89 0h.01m1.99 0h.01m1.49 0h.01m2.49 0h.01m6.99 0h.01m0.99 0h.01m3.49 0h.01m1.99 0h.01m1.49 0h.01m0.99 0h.01m1.49 0h.01m1.39 0h.01m0.49 0h.01m1.49 0h.01m0.49 0h.01m2.49 0h.01m2.99 0h.01m0.99 0h.01m1.49 0h.01m0.49 0h.01m0.99 0h.01m0.49 0h.01m0.49 0h.01m0.49 0h.01m0.49 0h.01m0.99 0h.01m8.49 0h.01m0.89 0h.01m3.99 0h.01m0.49 0h.01m1.99 0h.01m0.99 0h.01m0.49 0h.01m1.49 0h.01m0.49 0h.01m0.49 0h.01m0.99 0h.01m0.49 0h.01m0.49 0h.01m2.99 0h.01m4.99 0h.01m1.49 0h.01m1.89 0h.01m0.99 0h.01m2.99 0h.01m0.99 0h.01m2.99 0h.01m1.99 0h.01m0.49 0h.01m1.99 0h.01m1.99 0h.01m5.49 0h.01m1.99 0h.01m0.49 0h.01m1.89 0h.01m0.99 0h.01m3.49 0h.01m1.49 0h.01m2.49 0h.01m0.99 0h.01m0.99 0h.01m0.99 0h.01m0.49 0h.01m0.49 0h.01m0.49 0h.01m1.99 0h.01m1.49 0h.01m1.49 0h.01M79 263.3h.01m0.99 0h.01m0.49 0h.01m0.99 0h.01m2.49 0h.01m4.39 0h.01m2.49 0h.01m0.99 0h.01m2.99 0h.01m0.49 0h.01m0.49 0h.01m1.49 0h.01m0.49 0h.01m0.49 0h.01m3.49 0h.01m0.49 0h.01m0.49 0h.01m0.49 0h.01m0.49 0h.01m0.49 0h.01m0.49 0h.01m0.49 0h.01m0.49 0h.01m1.99 0h.01m0.99 0h.01m0.49 0h.01m0.49 0h.01m0.49 0h.01m0.39 0h.01m0.49 0h.01m0.49 0h.01m0.99 0h.01m0.49 0h.01m1.99 0h.01m1.49 0h.01m0.99 0h.01m0.99 0h.01m1.99 0h.01m1.49 0h.01m0.99 0h.01m3.49 0h.01m0.49 0h.01m2.99 0h.01m2.49 0h.01m0.99 0h.01m0.49 0h.01m1.89 0h.01m0.49 0h.01m1.99 0h.01m1.99 0h.01m0.49 0h.01m0.99 0h.01m0.49 0h.01m0.49 0h.01m0.99 0h.01m2.49 0h.01m0.49 0h.01m0.49 0h.01m3.49 0h.01m0.99 0h.01m0.49 0h.01m0.99 0h.01m0.49 0h.01m0.99 0h.01m0.49 0h.01m0.99 0h.01m0.49 0h.01m0.99 0h.01m0.99 0h.01m0.49 0h.01m0.89 0h.01m0.49 0h.01m1.49 0h.01m0.99 0h.01m0.49 0h.01m0.49 0h.01m1.49 0h.01m0.99 0h.01m0.49 0h.01m0.49 0h.01m3.99 0h.01m0.99 0h.01m0.49 0h.01m0.99 0h.01m1.99 0h.01m0.49 0h.01m0.99 0h.01m0.49 0h.01m0.99 0h.01m1.99 0h.01m0.49 0h.01m0.99 0h.01m3.39 0h.01m1.49 0h.01m0.49 0h.01m0.49 0h.01m0.99 0h.01m0.99 0h.01m0.49 0h.01m0.99 0h.01m0.49 0h.01m0.49 0h.01m0.49 0h.01m0.99 0h.01m1.49 0h.01m0.49 0h.01m0.49 0h.01m2.49 0h.01m0.49 0h.01m0.99 0h.01m0.99 0h.01m0.49 0h.01m1.99 0h.01m1.49 0h.01m0.49 0h.01m0.99 0h.01m0.49 0h.01m1.39 0h.01m0.49 0h.01m0.49 0h.01m0.49 0h.01m0.49 0h.01m1.49 0h.01m1.49 0h.01m0.49 0h.01m0.49 0h.01m0.49 0h.01m1.49 0h.01m2.99 0h.01m0.99 0h.01m1.99 0h.01m2.49 0h.01m1.49 0h.01m0.49 0h.01m0.49 0h.01m0.49 0h.01m1.49 0h.01m0.49 0h.01m0.49 0h.01m0.49 0h.01m0.49 0h.01m0.89 0h.01m3.49 0h.01m0.49 0h.01m0.99 0h.01m1.99 0h.01m1.99 0h.01m0.49 0h.01m2.49 0h.01m1.49 0h.01m0.49 0h.01m0.49 0h.01m0.49 0h.01m2.49 0h.01m0.49 0h.01m0.99 0h.01m1.99 0h.01m0.49 0h.01m0.49 0h.01m0.99 0h.01m0.49 0h.01m0.89 0h.01m0.99 0h.01m1.49 0h.01m0.49 0h.01m1.49 0h.01m0.49 0h.01m0.99 0h.01m1.99 0h.01m0.49 0h.01m1.99 0h.01m1.49 0h.01m1.49 0h.01m1.49 0h.01m0.49 0h.01m1.49 0h.01m0.99 0h.01m1.49 0h.01m1.99 0h.01m0.49 0h.01m0.49 0h.01m0.49 0h.01m0.99 0h.01m0.39 0h.01m1.99 0h.01m0.49 0h.01m0.99 0h.01m0.99 0h.01m0.49 0h.01m3.49 0h.01m0.49 0h.01m0.99 0h.01m2.49 0h.01m1.49 0h.01m0.49 0h.01m1.49 0h.01m0.49 0h.01m0.49 0h.01m0.49 0h.01m0.49 0h.01m3.99 0h.01m1.49 0h.01m1.39 0h.01m1.49 0h.01m0.49 0h.01m0.49 0h.01m0.49 0h.01m0.49 0h.01m0.99 0h.01m0.99 0h.01m0.49 0h.01m0.99 0h.01m1.49 0h.01m0.99 0h.01m0.99 0h.01m0.49 0h.01m0.49 0h.01m0.49 0h.01m1.49 0h.01m1.99 0h.01m0.49 0h.01m2.49 0h.01m0.49 0h.01m0.99 0h.01m0.49 0h.01m0.49 0h.01m1.99 0h.01m0.49 0h.01m0.49 0h.01m0.39 0h.01m0.49 0h.01m0.49 0h.01m0.99 0h.01m0.99 0h.01m2.49 0h.01m1.49 0h.01m1.49 0h.01m1.49 0h.01m0.99 0h.01m0.49 0h.01m0.49 0h.01m0.99 0h.01m0.99 0h.01m0.49 0h.01m0.99 0h.01m0.49 0h.01m0.49 0h.01m1.99 0h.01m1.99 0h.01m0.99 0h.01m1.49 0h.01m0.49 0h.01m0.49 0h.01m0.39 0h.01m0.49 0h.01m0.49 0h.01m0.49 0h.01m1.49 0h.01m0.49 0h.01m0.49 0h.01m1.49 0h.01m1.49 0h.01m3.99 0h.01m0.99 0h.01m4.49 0h.01m1.99 0h.01m1.99 0h.01m1.99 0h.01m1.49 0h.01m2.39 0h.01m1.49 0h.01m0.49 0h.01m0.99 0h.01m0.49 0h.01m0.49 0h.01m0.49 0h.01m0.99 0h.01m0.99 0h.01m1.49 0h.01m1.49 0h.01m2.49 0h.01m1.49 0h.01m0.99 0h.01m1.49 0h.01m0.49 0h.01m0.49 0h.01m1.99 0h.01m2.49 0h.01m0.49 0h.01m3.39 0h.01m0.99 0h.01m0.99 0h.01m1.49 0h.01m1.49 0h.01m0.49 0h.01m0.99 0h.01m2.49 0h.01m0.49 0h.01m1.49 0h.01m0.49 0h.01m0.99 0h.01m0.49 0h.01m4.99 0h.01m0.99 0h.01m1.49 0h.01m0.49 0h.01m1.89 0h.01m1.49 0h.01m0.99 0h.01m1.49 0h.01m0.49 0h.01m0.99 0h.01m0.49 0h.01m0.99 0h.01m0.99 0h.01m1.49 0h.01m1.49 0h.01m0.49 0h.01m0.49 0h.01m0.49 0h.01m0.99 0h.01m1.49 0h.01m0.49 0h.01m0.49 0h.01m1.49 0h.01m0.49 0h.01m1.49 0h.01m2.49 0h.01m0.49 0h.01m0.89 0h.01m0.49 0h.01m1.99 0h.01m1.49 0h.01m1.49 0h.01m0.49 0h.01m0.49 0h.01m0.99 0h.01m0.49 0h.01m0.49 0h.01m0.49 0h.01m0.49 0h.01m0.99 0h.01m2.99 0h.01m0.99 0h.01m0.49 0h.01m1.49 0h.01m1.49 0h.01m0.99 0h.01m0.99 0h.01m0.49 0h.01m1.49 0h.01m0.99 0h.01m1.89 0h.01m0.99 0h.01m0.99 0h.01m0.49 0h.01m2.49 0h.01m0.49 0h.01m0.49 0h.01m0.49 0h.01m1.49 0h.01m0.49 0h.01m1.99 0h.01m0.99 0h.01m1.99 0h.01m0.49 0h.01m0.99 0h.01m1.99 0h.01m0.49 0h.01m1.99 0h.01m0.99 0h.01m0.99 0h.01m0.49 0h.01m0.49 0h.01m0.99 0h.01m1.39 0h.01m0.99 0h.01m0.99 0h.01m2.99 0h.01m1.99 0h.01m0.49 0h.01m0.49 0h.01m2.49 0h.01m0.49 0h.01m0.99 0h.01m1.49 0h.01m1.49 0h.01m0.99 0h.01m1.49 0h.01m0.99 0h.01m0.99 0h.01m0.49 0h.01m0.49 0h.01m0.49 0h.01m1.99 0h.01m0.49 0h.01m0.39 0h.01m3.49 0h.01m2.99 0h.01m0.99 0h.01m0.49 0h.01m1.49 0h.01m0.99 0h.01m2.49 0h.01m1.49 0h.01m0.49 0h.01m0.99 0h.01m0.49 0h.01m0.49 0h.01m0.99 0h.01m0.49 0h.01m1.99 0h.01m0.49 0h.01m0.99 0h.01m0.49 0h.01m0.49 0h.01m0.99 0h.01m0.39 0h.01m0.49 0h.01m0.99 0h.01m0.49 0h.01m2.99 0h.01m0.99 0h.01m0.99 0h.01m0.99 0h.01m1.49 0h.01m0.99 0h.01m0.49 0h.01m0.49 0h.01m0.49 0h.01m0.99 0h.01m0.49 0h.01m1.49 0h.01m0.99 0h.01m0.99 0h.01m0.49 0h.01m0.49 0h.01M79 259.8h.01m0.49 0h.01m3.49 0h.01m3.39 0h.01m0.49 0h.01m2.49 0h.01m1.49 0h.01m0.49 0h.01m2.99 0h.01m1.49 0h.01m1.99 0h.01m1.99 0h.01m1.99 0h.01m1.49 0h.01m1.49 0h.01m0.99 0h.01m0.49 0h.01m0.99 0h.01m2.99 0h.01m1.89 0h.01m2.99 0h.01m0.99 0h.01m2.49 0h.01m2.99 0h.01m1.99 0h.01m4.99 0h.01m2.99 0h.01m12.89 0h.01m2.49 0h.01m0.99 0h.01m5.99 0h.01m0.49 0h.01m4.49 0h.01m10.39 0h.01m3.99 0h.01m1.49 0h.01m1.99 0h.01m0.49 0h.01m0.49 0h.01m0.99 0h.01m1.99 0h.01m0.49 0h.01m1.99 0h.01m0.49 0h.01m0.39 0h.01m12.49 0h.01m3.99 0h.01m2.49 0h.01m0.99 0h.01m0.49 0h.01m2.49 0h.01m5.89 0h.01m2.49 0h.01m0.99 0h.01m0.49 0h.01m0.49 0h.01m0.49 0h.01m0.49 0h.01m1.99 0h.01m1.49 0h.01m2.99 0h.01m0.49 0h.01m0.99 0h.01m1.99 0h.01m9.89 0h.01m0.99 0h.01m0.99 0h.01m0.49 0h.01m0.49 0h.01m0.99 0h.01m1.49 0h.01m0.49 0h.01m1.49 0h.01m3.99 0h.01m0.49 0h.01m2.99 0h.01m1.49 0h.01m1.99 0h.01m1.89 0h.01m0.49 0h.01m2.49 0h.01m0.49 0h.01m1.99 0h.01m0.99 0h.01m1.99 0h.01m0.49 0h.01m2.49 0h.01m0.49 0h.01m1.49 0h.01m1.99 0h.01m0.49 0h.01m0.49 0h.01m2.49 0h.01m1.99 0h.01m3.39 0h.01m0.49 0h.01m13.49 0h.01m8.49 0h.01m0.49 0h.01m3.89 0h.01m1.49 0h.01m1.49 0h.01m3.99 0h.01m1.49 0h.01m0.99 0h.01m8.49 0h.01m4.39 0h.01m1.49 0h.01m1.49 0h.01m0.49 0h.01m1.49 0h.01m2.99 0h.01m0.49 0h.01m3.99 0h.01m1.49 0h.01m0.49 0h.01m3.99 0h.01m0.49 0h.01m4.89 0h.01m1.99 0h.01m0.49 0h.01m1.49 0h.01m0.99 0h.01m5.99 0h.01m0.99 0h.01m1.99 0h.01m3.99 0h.01m2.99 0h.01m1.99 0h.01m0.49 0h.01m3.39 0h.01m2.49 0h.01m11.99 0h.01m3.49 0h.01m2.49 0h.01m4.89 0h.01m3.99 0h.01m2.49 0h.01m1.49 0h.01m3.99 0h.01m2.49 0h.01m2.99 0h.01m0.49 0h.01m0.49 0h.01m1.99 0h.01m1.39 0h.01m0.99 0h.01m0.99 0h.01m2.99 0h.01m1.49 0h.01m1.49 0h.01m2.49 0h.01m0.99 0h.01m0.99 0h.01m1.49 0h.01m2.99 0h.01m2.49 0h.01m2.49 0h.01m0.49 0h.01m4.89 0h.01m6.49 0h.01m2.49 0h.01m0.99 0h.01m8.49 0h.01m5.39 0h.01m3.99 0h.01m6.49 0h.01m2.99 0h.01m0.49 0h.01m0.99 0h.01m2.49 0h.01m1.99 0h.01m1.49 0h.01m2.39 0h.01m0.49 0h.01m2.99 0h.01m4.49 0h.01m2.99 0h.01m3.99 0h.01m1.99 0h.01m2.99 0h.01m0.99 0h.01m0.99 0h.01m0.39 0h.01m9.99 0h.01m1.99 0h.01m5.49 0h.01m0.49 0h.01m0.49 0h.01m1.99 0h.01m0.99 0h.01m2.89 0h.01m0.99 0h.01m0.99 0h.01m1.99 0h.01m4.99 0h.01m5.99 0h.01m3.49 0h.01M80 256.3h.01m1.49 0h.01m7.89 0h.01m1.99 0h.01m2.99 0h.01m1.99 0h.01m0.49 0h.01m1.49 0h.01m1.49 0h.01m0.49 0h.01m0.49 0h.01m1.99 0h.01m2.99 0h.01m3.99 0h.01m2.89 0h.01m2.99 0h.01m2.49 0h.01m1.99 0h.01m0.49 0h.01m11.49 0h.01m0.49 0h.01m0.99 0h.01m1.89 0h.01m1.99 0h.01m1.99 0h.01m8.99 0h.01m0.99 0h.01m0.49 0h.01m3.49 0h.01m4.49 0h.01m1.89 0h.01m5.49 0h.01m0.49 0h.01m7.99 0h.01m6.49 0h.01m2.99 0h.01m9.89 0h.01m2.99 0h.01m0.49 0h.01m1.49 0h.01m5.99 0h.01m0.49 0h.01m1.99 0h.01m1.49 0h.01m1.39 0h.01m0.49 0h.01m4.99 0h.01m5.49 0h.01m2.99 0h.01m0.49 0h.01m7.49 0h.01m8.39 0h.01m0.99 0h.01m0.99 0h.01m8.49 0h.01m3.49 0h.01m1.49 0h.01m0.99 0h.01m5.39 0h.01m4.99 0h.01m0.99 0h.01m2.99 0h.01m7.99 0h.01m1.99 0h.01m9.89 0h.01m0.49 0h.01m9.49 0h.01m0.99 0h.01m0.99 0h.01m0.99 0h.01m0.49 0h.01m1.99 0h.01m3.89 0h.01m0.49 0h.01m3.49 0h.01m0.99 0h.01m2.49 0h.01m0.49 0h.01m0.99 0h.01m2.49 0h.01m1.49 0h.01m0.99 0h.01m1.99 0h.01m0.49 0h.01m1.99 0h.01m0.49 0h.01m0.99 0h.01m5.39 0h.01m4.99 0h.01m0.99 0h.01m13.99 0h.01m3.39 0h.01m1.49 0h.01m0.49 0h.01m0.49 0h.01m1.49 0h.01m2.99 0h.01m0.99 0h.01m1.99 0h.01m3.99 0h.01m0.49 0h.01m0.49 0h.01m1.49 0h.01m0.49 0h.01m0.49 0h.01m1.99 0h.01m0.99 0h.01m2.39 0h.01m1.49 0h.01m5.99 0h.01m0.99 0h.01m1.49 0h.01m0.49 0h.01m3.49 0h.01m1.49 0h.01m0.49 0h.01m0.49 0h.01m4.99 0h.01m0.99 0h.01m1.39 0h.01m7.49 0h.01m0.49 0h.01m1.99 0h.01m2.49 0h.01m2.99 0h.01m0.49 0h.01m2.49 0h.01m3.49 0h.01m3.89 0h.01m4.99 0h.01m2.49 0h.01m0.99 0h.01m0.49 0h.01m3.49 0h.01m2.49 0h.01m1.49 0h.01m1.49 0h.01m1.99 0h.01m1.49 0h.01m0.49 0h.01m1.39 0h.01m2.99 0h.01m2.49 0h.01m3.49 0h.01m1.49 0h.01m0.99 0h.01m2.49 0h.01m3.49 0h.01m0.49 0h.01m5.89 0h.01m0.49 0h.01m2.49 0h.01m4.49 0h.01m1.49 0h.01m1.49 0h.01m0.99 0h.01m1.99 0h.01m1.49 0h.01m3.49 0h.01m1.49 0h.01m3.49 0h.01m0.49 0h.01m1.89 0h.01m0.99 0h.01m3.49 0h.01m1.49 0h.01m2.99 0h.01m7.49 0h.01m0.99 0h.01m8.39 0h.01m0.99 0h.01m4.49 0h.01m5.49 0h.01m3.49 0h.01m0.49 0h.01m0.99 0h.01m0.49 0h.01m3.99 0h.01m3.89 0h.01m0.49 0h.01m0.99 0h.01m2.99 0h.01m6.49 0h.01m0.99 0h.01M80 252.8h.01m0.49 0h.01m0.49 0h.01m0.49 0h.01m1.49 0h.01m0.49 0h.01m0.99 0h.01m0.99 0h.01m2.39 0h.01m0.49 0h.01m4.49 0h.01m0.49 0h.01m0.49 0h.01m0.99 0h.01m0.49 0h.01m2.49 0h.01m0.99 0h.01m0.49 0h.01m2.49 0h.01m0.49 0h.01m0.99 0h.01m0.99 0h.01m0.49 0h.01m0.49 0h.01m2.49 0h.01m2.89 0h.01m4.49 0h.01m1.49 0h.01m2.99 0h.01m8.99 0h.01m0.49 0h.01m0.99 0h.01m0.49 0h.01m1.99 0h.01m4.89 0h.01m0.99 0h.01m1.49 0h.01m0.49 0h.01m1.49 0h.01m4.49 0h.01m1.49 0h.01m3.49 0h.01m0.49 0h.01m0.49 0h.01m2.99 0h.01m3.99 0h.01m5.89 0h.01m2.99 0h.01m4.99 0h.01m3.99 0h.01m3.99 0h.01m3.39 0h.01m3.99 0h.01m1.99 0h.01m0.49 0h.01m2.49 0h.01m1.99 0h.01m0.49 0h.01m2.99 0h.01m1.49 0h.01m2.49 0h.01m0.49 0h.01m2.49 0h.01m0.99 0h.01m0.99 0h.01m1.89 0h.01m1.99 0h.01m1.99 0h.01m0.99 0h.01m2.99 0h.01m8.49 0h.01m14.39 0h.01m1.99 0h.01m3.49 0h.01m0.49 0h.01m5.99 0h.01m5.39 0h.01m0.49 0h.01m1.49 0h.01m3.99 0h.01m0.99 0h.01m1.49 0h.01m2.49 0h.01m0.49 0h.01m0.99 0h.01m3.99 0h.01m3.49 0h.01m3.89 0h.01m0.49 0h.01m1.49 0h.01m1.49 0h.01m5.49 0h.01m5.49 0h.01m1.99 0h.01m1.49 0h.01m1.99 0h.01m2.49 0h.01m2.39 0h.01m2.49 0h.01m0.49 0h.01m3.49 0h.01m0.49 0h.01m2.99 0h.01m1.49 0h.01m0.99 0h.01m0.99 0h.01m2.99 0h.01m2.49 0h.01m2.49 0h.01m0.49 0h.01m0.49 0h.01m0.49 0h.01m0.49 0h.01m0.49 0h.01m4.39 0h.01m0.49 0h.01m1.99 0h.01m0.49 0h.01m2.49 0h.01m0.49 0h.01m2.49 0h.01m0.49 0h.01m0.49 0h.01m0.49 0h.01m1.49 0h.01m0.99 0h.01m0.49 0h.01m4.49 0h.01m0.49 0h.01m2.89 0h.01m0.99 0h.01m8.49 0h.01m1.49 0h.01m0.99 0h.01m0.99 0h.01m4.99 0h.01m1.99 0h.01m0.49 0h.01m1.49 0h.01m3.39 0h.01m1.49 0h.01m2.99 0h.01m0.49 0h.01m3.49 0h.01m1.99 0h.01m1.49 0h.01m1.49 0h.01m1.99 0h.01m0.49 0h.01m1.49 0h.01m3.99 0h.01m0.49 0h.01m4.89 0h.01m1.49 0h.01m3.99 0h.01m2.49 0h.01m1.99 0h.01m3.99 0h.01m1.49 0h.01m1.99 0h.01m3.39 0h.01m5.99 0h.01m1.49 0h.01m0.49 0h.01m0.49 0h.01m7.99 0h.01m8.39 0h.01m0.49 0h.01m0.49 0h.01m0.49 0h.01m1.49 0h.01m2.99 0h.01m6.99 0h.01m3.49 0h.01m0.49 0h.01m3.49 0h.01m0.49 0h.01m0.49 0h.01m1.49 0h.01m8.89 0h.01m1.99 0h.01m1.49 0h.01m0.99 0h.01m0.99 0h.01m1.49 0h.01m2.99 0h.01m0.49 0h.01m0.99 0h.01m7.39 0h.01m2.49 0h.01m2.49 0h.01m10.49 0h.01m0.99 0h.01m2.49 0h.01m0.49 0h.01m3.39 0h.01m6.49 0h.01m0.99 0h.01m4.99 0h.01m1.49 0h.01m1.49 0h.01m1.49 0h.01m1.99 0h.01m2.99 0h.01m0.99 0h.01m3.89 0h.01m1.49 0h.01m0.99 0h.01m1.99 0h.01m1.49 0h.01m0.99 0h.01m1.49 0h.01m2.49 0h.01m2.49 0h.01M79.5 249.3h.01m3.99 0h.01m2.49 0h.01m2.89 0h.01m5.49 0h.01m5.49 0h.01m4.49 0h.01m2.49 0h.01m4.39 0h.01m2.99 0h.01m1.49 0h.01m0.49 0h.01m1.49 0h.01m9.49 0h.01m2.99 0h.01m1.49 0h.01m1.99 0h.01m2.89 0h.01m1.49 0h.01m1.49 0h.01m2.49 0h.01m4.49 0h.01m6.99 0h.01m4.99 0h.01m0.49 0h.01m4.89 0h.01m0.49 0h.01m3.49 0h.01m1.49 0h.01m3.99 0h.01m0.99 0h.01m5.99 0h.01m5.89 0h.01m2.49 0h.01m0.99 0h.01m5.99 0h.01m3.99 0h.01m0.99 0h.01m2.99 0h.01m2.99 0h.01m3.89 0h.01m0.99 0h.01m4.99 0h.01m2.49 0h.01m1.99 0h.01m6.49 0h.01m8.39 0h.01m0.99 0h.01m1.99 0h.01m9.99 0h.01m1.99 0h.01m2.99 0h.01m5.39 0h.01m1.49 0h.01m0.49 0h.01m7.49 0h.01m1.99 0h.01m6.49 0h.01m0.99 0h.01m7.39 0h.01m1.99 0h.01m6.49 0h.01m1.49 0h.01m1.49 0h.01m3.99 0h.01m0.99 0h.01m0.49 0h.01m1.99 0h.01m6.39 0h.01m0.99 0h.01m1.99 0h.01m8.99 0h.01m0.49 0h.01m6.49 0h.01m0.49 0h.01m1.89 0h.01m0.49 0h.01m4.49 0h.01m0.49 0h.01m3.49 0h.01m0.49 0h.01m0.49 0h.01m6.99 0h.01m1.49 0h.01m5.89 0h.01m2.99 0h.01m0.49 0h.01m2.49 0h.01m20.39 0h.01m2.49 0h.01m1.49 0h.01m1.99 0h.01m6.49 0h.01m5.99 0h.01m0.99 0h.01m1.49 0h.01m7.39 0h.01m0.49 0h.01m4.49 0h.01m3.49 0h.01m4.49 0h.01m5.39 0h.01m3.49 0h.01m5.49 0h.01m0.49 0h.01m0.99 0h.01m3.49 0h.01m3.99 0h.01m0.49 0h.01m5.39 0h.01m0.99 0h.01m3.49 0h.01m1.49 0h.01m8.49 0h.01m2.49 0h.01m6.99 0h.01m2.39 0h.01m2.99 0h.01m0.99 0h.01m6.99 0h.01m1.99 0h.01m0.49 0h.01m2.49 0h.01m0.49 0h.01m2.99 0h.01m4.89 0h.01m1.49 0h.01m1.99 0h.01m1.49 0h.01m6.99 0h.01m3.49 0h.01m0.99 0h.01m3.99 0h.01m5.39 0h.01m0.99 0h.01m0.99 0h.01m7.49 0h.01m4.99 0h.01m0.99 0h.01m4.99 0h.01m5.39 0h.01m2.99 0h.01m1.99 0h.01m1.49 0h.01m0.99 0h.01M80.5 245.8h.01m3.99 0h.01m1.49 0h.01m0.39 0h.01m1.99 0h.01m1.99 0h.01m0.99 0h.01m0.49 0h.01m0.49 0h.01m0.49 0h.01m3.99 0h.01m1.49 0h.01m1.49 0h.01m1.49 0h.01m4.99 0h.01m0.99 0h.01m2.99 0h.01m1.89 0h.01m0.49 0h.01m3.99 0h.01m2.99 0h.01m0.99 0h.01m0.49 0h.01m0.99 0h.01m0.99 0h.01m0.49 0h.01m0.99 0h.01m1.99 0h.01m1.49 0h.01m1.49 0h.01m2.49 0h.01m0.49 0h.01m0.49 0h.01m0.99 0h.01m1.39 0h.01m1.99 0h.01m1.49 0h.01m3.49 0h.01m3.49 0h.01m2.49 0h.01m0.49 0h.01m0.49 0h.01m1.49 0h.01m1.49 0h.01m0.49 0h.01m0.99 0h.01m1.49 0h.01m0.99 0h.01m1.49 0h.01m0.99 0h.01m0.49 0h.01m1.89 0h.01m0.49 0h.01m0.99 0h.01m0.49 0h.01m2.99 0h.01m0.99 0h.01m3.49 0h.01m0.49 0h.01m0.49 0h.01m2.49 0h.01m0.49 0h.01m0.99 0h.01m0.99 0h.01m0.99 0h.01m0.49 0h.01m0.99 0h.01m1.99 0h.01m1.49 0h.01m0.49 0h.01m2.39 0h.01m1.99 0h.01m0.99 0h.01m3.49 0h.01m0.49 0h.01m1.49 0h.01m0.99 0h.01m0.99 0h.01m0.49 0h.01m0.49 0h.01m0.99 0h.01m0.49 0h.01m0.49 0h.01m2.49 0h.01m0.99 0h.01m1.49 0h.01m0.49 0h.01m0.49 0h.01m0.99 0h.01m0.99 0h.01m0.49 0h.01m0.49 0h.01m0.89 0h.01m1.99 0h.01m0.99 0h.01m1.99 0h.01m5.49 0h.01m0.49 0h.01m1.99 0h.01m1.99 0h.01m1.49 0h.01m0.49 0h.01m1.99 0h.01m6.89 0h.01m5.49 0h.01m0.49 0h.01m0.49 0h.01m0.49 0h.01m0.49 0h.01m0.49 0h.01m1.49 0h.01m2.99 0h.01m1.49 0h.01m0.99 0h.01m0.49 0h.01m1.99 0h.01m0.99 0h.01m0.99 0h.01m0.49 0h.01m1.99 0h.01m4.89 0h.01m1.49 0h.01m0.49 0h.01m1.49 0h.01m0.99 0h.01m0.49 0h.01m0.49 0h.01m3.99 0h.01m2.49 0h.01m0.99 0h.01m9.89 0h.01m0.49 0h.01m3.99 0h.01m0.49 0h.01m2.49 0h.01m0.49 0h.01m0.99 0h.01m1.99 0h.01m0.49 0h.01m0.99 0h.01m1.99 0h.01m1.49 0h.01m1.99 0h.01m1.99 0h.01m0.99 0h.01m0.49 0h.01m0.49 0h.01m0.39 0h.01m0.49 0h.01m2.49 0h.01m2.99 0h.01m1.49 0h.01m1.99 0h.01m2.49 0h.01m0.49 0h.01m7.49 0h.01m3.49 0h.01m0.89 0h.01m0.49 0h.01m0.99 0h.01m0.49 0h.01m0.99 0h.01m2.49 0h.01m0.49 0h.01m0.49 0h.01m0.49 0h.01m2.49 0h.01m1.49 0h.01m0.99 0h.01m2.49 0h.01m0.49 0h.01m0.49 0h.01m1.49 0h.01m0.49 0h.01m0.49 0h.01m1.99 0h.01m2.49 0h.01m4.89 0h.01m0.49 0h.01m0.99 0h.01m0.49 0h.01m0.99 0h.01m1.99 0h.01m0.49 0h.01m3.49 0h.01m4.99 0h.01m0.49 0h.01m0.99 0h.01m1.49 0h.01m0.49 0h.01m0.49 0h.01m0.49 0h.01m2.49 0h.01m3.89 0h.01m0.49 0h.01m0.99 0h.01m1.99 0h.01m0.49 0h.01m0.49 0h.01m3.49 0h.01m0.99 0h.01m0.49 0h.01m0.49 0h.01m0.49 0h.01m0.49 0h.01m1.49 0h.01m0.99 0h.01m0.99 0h.01m2.99 0h.01m1.49 0h.01m2.39 0h.01m2.49 0h.01m0.99 0h.01m3.49 0h.01m0.49 0h.01m0.49 0h.01m0.49 0h.01m1.99 0h.01m2.49 0h.01m2.49 0h.01m0.99 0h.01m0.49 0h.01m3.99 0h.01m1.99 0h.01m0.49 0h.01m0.89 0h.01m0.49 0h.01m1.99 0h.01m0.99 0h.01m0.49 0h.01m0.49 0h.01m0.49 0h.01m0.99 0h.01m1.99 0h.01m0.99 0h.01m3.49 0h.01m0.49 0h.01m3.49 0h.01m3.49 0h.01m0.49 0h.01m0.99 0h.01m1.99 0h.01m0.49 0h.01m0.39 0h.01m0.49 0h.01m0.99 0h.01m2.49 0h.01m0.49 0h.01m2.99 0h.01m0.49 0h.01m0.99 0h.01m4.49 0h.01m0.49 0h.01m0.99 0h.01m2.99 0h.01m3.99 0h.01m1.49 0h.01m1.39 0h.01m1.49 0h.01m1.99 0h.01m2.49 0h.01m0.49 0h.01m0.49 0h.01m0.49 0h.01m0.49 0h.01m0.49 0h.01m0.49 0h.01m0.49 0h.01m0.49 0h.01m0.99 0h.01m1.49 0h.01m2.49 0h.01m0.99 0h.01m0.49 0h.01m0.49 0h.01m1.49 0h.01m0.49 0h.01m1.49 0h.01m0.99 0h.01m0.49 0h.01m0.49 0h.01m0.49 0h.01m0.99 0h.01m0.39 0h.01m5.99 0h.01m1.49 0h.01m1.49 0h.01m3.49 0h.01m2.49 0h.01m3.49 0h.01m0.99 0h.01m0.99 0h.01m1.99 0h.01m1.49 0h.01m0.89 0h.01m0.99 0h.01m1.49 0h.01m2.49 0h.01m2.99 0h.01m0.49 0h.01m0.49 0h.01m0.49 0h.01m0.99 0h.01m2.49 0h.01m1.99 0h.01m2.49 0h.01m2.49 0h.01m5.89 0h.01m2.49 0h.01m1.99 0h.01m2.99 0h.01m0.99 0h.01m1.49 0h.01m2.49 0h.01m1.49 0h.01m0.99 0h.01m0.49 0h.01M80.5 242.3h.01m5.89 0h.01m1.49 0h.01m0.99 0h.01m0.99 0h.01m1.49 0h.01m0.49 0h.01m0.49 0h.01m4.49 0h.01m0.49 0h.01m5.99 0h.01m0.49 0h.01m1.99 0h.01m0.49 0h.01m0.49 0h.01m1.49 0h.01m1.49 0h.01m1.89 0h.01m9.99 0h.01m2.99 0h.01m0.99 0h.01m1.99 0h.01m0.99 0h.01m2.99 0h.01m0.49 0h.01m0.49 0h.01m0.49 0h.01m1.49 0h.01m2.89 0h.01m3.99 0h.01m0.99 0h.01m0.49 0h.01m0.99 0h.01m1.49 0h.01m1.49 0h.01m1.49 0h.01m0.99 0h.01m0.99 0h.01m2.99 0h.01m2.99 0h.01m2.99 0h.01m1.39 0h.01m1.99 0h.01m1.99 0h.01m2.99 0h.01m0.99 0h.01m1.49 0h.01m0.49 0h.01m4.49 0h.01m2.49 0h.01m0.49 0h.01m3.49 0h.01m1.99 0h.01m0.89 0h.01m3.49 0h.01m0.49 0h.01m0.49 0h.01m1.49 0h.01m0.49 0h.01m1.99 0h.01m0.49 0h.01m0.49 0h.01m0.49 0h.01m0.49 0h.01m1.49 0h.01m0.99 0h.01m0.49 0h.01m0.49 0h.01m0.49 0h.01m2.99 0h.01m5.49 0h.01m2.39 0h.01m2.49 0h.01m0.99 0h.01m0.49 0h.01m0.49 0h.01m3.49 0h.01m3.49 0h.01m6.49 0h.01m0.99 0h.01m1.49 0h.01m3.39 0h.01m2.99 0h.01m0.99 0h.01m0.99 0h.01m0.99 0h.01m0.99 0h.01m2.99 0h.01m0.49 0h.01m2.49 0h.01m1.99 0h.01m1.49 0h.01m0.99 0h.01m1.49 0h.01m0.49 0h.01m4.89 0h.01m0.99 0h.01m2.49 0h.01m0.99 0h.01m0.49 0h.01m0.99 0h.01m2.49 0h.01m0.49 0h.01m0.99 0h.01m0.49 0h.01m0.99 0h.01m6.99 0h.01m2.49 0h.01m1.99 0h.01m1.39 0h.01m1.99 0h.01m1.49 0h.01m0.49 0h.01m1.99 0h.01m0.49 0h.01m0.49 0h.01m1.49 0h.01m0.99 0h.01m0.49 0h.01m1.99 0h.01m1.49 0h.01m2.49 0h.01m2.99 0h.01m1.49 0h.01m1.99 0h.01m0.99 0h.01m2.39 0h.01m1.99 0h.01m1.99 0h.01m0.99 0h.01m5.99 0h.01m0.99 0h.01m0.49 0h.01m2.99 0h.01m1.49 0h.01m2.99 0h.01m0.49 0h.01m0.99 0h.01m1.39 0h.01m1.99 0h.01m0.99 0h.01m0.99 0h.01m0.49 0h.01m1.49 0h.01m0.99 0h.01m2.99 0h.01m0.49 0h.01m6.49 0h.01m0.49 0h.01m4.49 0h.01m2.89 0h.01m0.99 0h.01m1.49 0h.01m1.49 0h.01m2.49 0h.01m1.99 0h.01m3.99 0h.01m5.99 0h.01m2.49 0h.01m1.49 0h.01m2.89 0h.01m0.99 0h.01m2.99 0h.01m1.99 0h.01m0.99 0h.01m0.49 0h.01m0.49 0h.01m7.49 0h.01m0.99 0h.01m2.99 0h.01m0.99 0h.01m0.99 0h.01m1.89 0h.01m4.99 0h.01m9.49 0h.01m1.49 0h.01m0.49 0h.01m10.89 0h.01m3.99 0h.01m2.99 0h.01m0.99 0h.01m1.49 0h.01m1.49 0h.01m2.49 0h.01m0.99 0h.01m0.99 0h.01m0.49 0h.01m0.99 0h.01m1.49 0h.01m4.89 0h.01m0.99 0h.01m1.99 0h.01m3.99 0h.01m0.49 0h.01m0.49 0h.01m0.99 0h.01m3.49 0h.01m0.99 0h.01m0.99 0h.01m0.99 0h.01m0.49 0h.01m0.49 0h.01m2.49 0h.01m1.99 0h.01m2.39 0h.01m3.49 0h.01m1.49 0h.01m4.49 0h.01m0.99 0h.01m0.49 0h.01m0.99 0h.01m2.49 0h.01m2.49 0h.01m0.49 0h.01m1.99 0h.01m2.49 0h.01m0.49 0h.01m0.49 0h.01m2.39 0h.01m2.99 0h.01m0.99 0h.01m0.49 0h.01m1.49 0h.01m6.99 0h.01m2.99 0h.01m0.99 0h.01m0.99 0h.01m1.99 0h.01m2.89 0h.01m0.49 0h.01m0.49 0h.01m0.49 0h.01m2.49 0h.01m2.49 0h.01m0.99 0h.01m0.99 0h.01m0.49 0h.01m0.99 0h.01m0.49 0h.01m2.49 0h.01m0.99 0h.01m1.49 0h.01m1.49 0h.01m1.99 0h.01m2.49 0h.01m0.49 0h.01m0.99 0h.01m1.39 0h.01m0.49 0h.01m1.49 0h.01m1.49 0h.01m0.49 0h.01m0.49 0h.01m0.49 0h.01m0.99 0h.01m0.49 0h.01m0.99 0h.01m2.49 0h.01m0.49 0h.01m0.49 0h.01m1.49 0h.01m0.99 0h.01m0.49 0h.01m0.99 0h.01m0.99 0h.01m3.49 0h.01M79 238.9h.01m4.49 0h.01m0.99 0h.01m4.89 0h.01m2.49 0h.01m0.99 0h.01m3.49 0h.01m8.99 0h.01m1.99 0h.01m1.49 0h.01m1.89 0h.01m1.99 0h.01m2.49 0h.01m1.99 0h.01m8.99 0h.01m1.49 0h.01m0.99 0h.01m0.49 0h.01m0.99 0h.01m0.99 0h.01m1.99 0h.01m0.49 0h.01m0.49 0h.01m0.49 0h.01m2.89 0h.01m0.99 0h.01m0.49 0h.01m0.49 0h.01m2.49 0h.01m0.99 0h.01m0.99 0h.01m4.99 0h.01m3.49 0h.01m5.49 0h.01m0.49 0h.01m0.99 0h.01m0.39 0h.01m1.49 0h.01m0.49 0h.01m4.49 0h.01m0.49 0h.01m1.99 0h.01m1.99 0h.01m0.99 0h.01m1.99 0h.01m0.49 0h.01m0.99 0h.01m0.99 0h.01m3.99 0h.01m3.89 0h.01m0.99 0h.01m0.99 0h.01m2.99 0h.01m3.49 0h.01m2.99 0h.01m3.49 0h.01m3.49 0h.01m4.49 0h.01m0.49 0h.01m2.39 0h.01m0.99 0h.01m4.99 0h.01m0.49 0h.01m4.99 0h.01m0.49 0h.01m0.99 0h.01m1.99 0h.01m0.99 0h.01m3.49 0h.01m0.99 0h.01m0.99 0h.01m2.89 0h.01m0.99 0h.01m0.99 0h.01m15.49 0h.01m0.49 0h.01m0.99 0h.01m6.89 0h.01m0.49 0h.01m4.49 0h.01m1.99 0h.01m8.49 0h.01m1.49 0h.01m0.99 0h.01m1.49 0h.01m0.49 0h.01m2.89 0h.01m1.49 0h.01m5.99 0h.01m3.49 0h.01m2.99 0h.01m0.49 0h.01m2.49 0h.01m2.49 0h.01m0.49 0h.01m2.99 0h.01m1.89 0h.01m0.99 0h.01m3.99 0h.01m3.99 0h.01m0.99 0h.01m0.99 0h.01m0.99 0h.01m1.49 0h.01m0.49 0h.01m1.99 0h.01m0.49 0h.01m2.49 0h.01m0.49 0h.01m4.89 0h.01m1.99 0h.01m1.99 0h.01m1.49 0h.01m3.99 0h.01m0.99 0h.01m3.99 0h.01m1.49 0h.01m0.99 0h.01m0.99 0h.01m4.99 0h.01m3.39 0h.01m3.99 0h.01m0.99 0h.01m3.99 0h.01m0.99 0h.01m2.49 0h.01m1.49 0h.01m2.49 0h.01m1.49 0h.01m2.49 0h.01m2.39 0h.01m1.99 0h.01m0.49 0h.01m2.99 0h.01m2.49 0h.01m0.99 0h.01m1.99 0h.01m0.49 0h.01m0.99 0h.01m0.99 0h.01m0.99 0h.01m1.49 0h.01m0.49 0h.01m1.99 0h.01m0.49 0h.01m0.99 0h.01m2.99 0h.01m1.39 0h.01m0.49 0h.01m2.49 0h.01m3.49 0h.01m1.49 0h.01m0.99 0h.01m0.49 0h.01m3.49 0h.01m0.99 0h.01m2.49 0h.01m3.49 0h.01m1.99 0h.01m1.89 0h.01m0.99 0h.01m5.99 0h.01m0.49 0h.01m1.99 0h.01m4.99 0h.01m7.49 0h.01m0.49 0h.01m0.49 0h.01m2.39 0h.01m0.99 0h.01m1.99 0h.01m1.99 0h.01m2.49 0h.01m1.99 0h.01m0.99 0h.01m1.99 0h.01m0.49 0h.01m0.49 0h.01m2.99 0h.01m4.49 0h.01m0.49 0h.01m0.49 0h.01m1.89 0h.01m0.49 0h.01m3.49 0h.01m0.49 0h.01m1.99 0h.01m5.49 0h.01m0.49 0h.01m1.49 0h.01m0.49 0h.01m0.99 0h.01m1.99 0h.01m0.49 0h.01m2.49 0h.01m0.99 0h.01m0.99 0h.01m5.39 0h.01m0.99 0h.01m2.49 0h.01m10.99 0h.01m2.99 0h.01m2.49 0h.01m8.89 0h.01m0.49 0h.01m0.99 0h.01m1.49 0h.01m0.99 0h.01m1.99 0h.01m1.49 0h.01m4.99 0h.01m0.49 0h.01m1.49 0h.01m1.39 0h.01m0.49 0h.01m2.49 0h.01m3.99 0h.01m1.49 0h.01m2.49 0h.01m0.99 0h.01m2.99 0h.01m0.49 0h.01m3.99 0h.01M80.5 235.4h.01m8.39 0h.01m2.49 0h.01m5.99 0h.01m0.49 0h.01m2.49 0h.01m0.99 0h.01m0.99 0h.01m0.49 0h.01m0.49 0h.01m0.99 0h.01m1.49 0h.01m0.99 0h.01m0.49 0h.01m1.49 0h.01m2.89 0h.01m3.49 0h.01m0.49 0h.01m5.49 0h.01m0.99 0h.01m2.49 0h.01m0.99 0h.01m1.49 0h.01m2.99 0h.01m2.49 0h.01m0.49 0h.01m0.49 0h.01m2.39 0h.01m4.99 0h.01m8.99 0h.01m3.49 0h.01m1.99 0h.01m0.49 0h.01m1.99 0h.01m4.39 0h.01m0.99 0h.01m1.99 0h.01m1.49 0h.01m2.99 0h.01m0.99 0h.01m0.49 0h.01m3.99 0h.01m3.99 0h.01m3.99 0h.01m1.39 0h.01m1.49 0h.01m0.49 0h.01m1.99 0h.01m3.49 0h.01m0.99 0h.01m0.49 0h.01m0.99 0h.01m1.49 0h.01m1.99 0h.01m0.49 0h.01m1.99 0h.01m2.49 0h.01m2.49 0h.01m0.99 0h.01m5.39 0h.01m0.49 0h.01m1.99 0h.01m2.99 0h.01m0.49 0h.01m1.99 0h.01m0.49 0h.01m2.49 0h.01m2.49 0h.01m2.99 0h.01m0.99 0h.01m1.99 0h.01m1.89 0h.01m1.49 0h.01m0.49 0h.01m0.49 0h.01m0.49 0h.01m0.99 0h.01m6.49 0h.01m1.99 0h.01m3.99 0h.01m1.99 0h.01m0.49 0h.01m3.49 0h.01m0.49 0h.01m0.49 0h.01m4.89 0h.01m2.99 0h.01m1.99 0h.01m4.49 0h.01m0.49 0h.01m0.99 0h.01m1.99 0h.01m5.49 0h.01m3.39 0h.01m3.49 0h.01m1.99 0h.01m0.49 0h.01m0.99 0h.01m1.99 0h.01m0.99 0h.01m0.99 0h.01m0.99 0h.01m2.99 0h.01m1.49 0h.01m0.49 0h.01m2.99 0h.01m0.99 0h.01m0.49 0h.01m1.89 0h.01m2.49 0h.01m1.49 0h.01m0.49 0h.01m0.49 0h.01m4.49 0h.01m1.49 0h.01m1.49 0h.01m2.99 0h.01m0.49 0h.01m0.99 0h.01m0.99 0h.01m0.99 0h.01m0.99 0h.01m1.49 0h.01m1.49 0h.01m2.39 0h.01m0.49 0h.01m1.49 0h.01m18.49 0h.01m3.89 0h.01m0.49 0h.01m0.99 0h.01m9.99 0h.01m3.49 0h.01m1.99 0h.01m1.49 0h.01m9.89 0h.01m0.99 0h.01m5.99 0h.01m1.99 0h.01m2.99 0h.01m2.49 0h.01m5.89 0h.01m2.99 0h.01m1.49 0h.01m1.99 0h.01m2.99 0h.01m2.49 0h.01m3.99 0h.01m1.49 0h.01m1.49 0h.01m0.99 0h.01m2.49 0h.01m3.89 0h.01m1.99 0h.01m0.99 0h.01m0.99 0h.01m0.49 0h.01m0.99 0h.01m0.99 0h.01m1.49 0h.01m1.49 0h.01m0.99 0h.01m1.99 0h.01m2.99 0h.01m3.49 0h.01m1.99 0h.01m5.89 0h.01m2.49 0h.01m1.99 0h.01m0.49 0h.01m4.99 0h.01m1.49 0h.01m1.99 0h.01m2.99 0h.01m2.49 0h.01m1.39 0h.01m0.49 0h.01m1.49 0h.01m2.49 0h.01m1.99 0h.01m0.99 0h.01m3.49 0h.01m4.99 0h.01m2.99 0h.01m11.39 0h.01m1.99 0h.01m1.49 0h.01m4.49 0h.01m0.49 0h.01m2.99 0h.01m7.39 0h.01m1.99 0h.01m0.49 0h.01m3.49 0h.01m0.49 0h.01m10.99 0h.01m2.49 0h.01m2.99 0h.01m2.89 0h.01m0.49 0h.01m3.49 0h.01m0.49 0h.01m3.49 0h.01m3.99 0h.01m2.49 0h.01m0.49 0h.01M81 231.9h.01m3.49 0h.01m0.49 0h.01m0.99 0h.01m3.89 0h.01m5.49 0h.01m9.99 0h.01m0.49 0h.01m0.99 0h.01m4.39 0h.01m0.99 0h.01m1.49 0h.01m4.49 0h.01m0.99 0h.01m0.49 0h.01m1.99 0h.01m0.49 0h.01m1.49 0h.01m2.49 0h.01m1.99 0h.01m2.49 0h.01m3.99 0h.01m2.39 0h.01m10.99 0h.01m5.99 0h.01m0.99 0h.01m3.49 0h.01m11.39 0h.01m3.99 0h.01m8.49 0h.01m0.49 0h.01m4.39 0h.01m13.99 0h.01m2.99 0h.01m2.99 0h.01m9.39 0h.01m6.49 0h.01m6.49 0h.01m5.89 0h.01m3.49 0h.01m1.99 0h.01m1.49 0h.01m5.49 0h.01m9.49 0h.01m5.39 0h.01m2.99 0h.01m1.49 0h.01m2.99 0h.01m3.99 0h.01m14.39 0h.01m0.49 0h.01m1.49 0h.01m5.49 0h.01m5.99 0h.01m2.99 0h.01m5.89 0h.01m3.49 0h.01m1.49 0h.01m4.99 0h.01m1.99 0h.01m3.99 0h.01m2.99 0h.01m1.39 0h.01m0.99 0h.01m0.49 0h.01m5.49 0h.01m5.49 0h.01m4.99 0h.01m2.49 0h.01m2.99 0h.01m0.49 0h.01m1.39 0h.01m0.99 0h.01m0.99 0h.01m5.49 0h.01m0.49 0h.01m0.49 0h.01m1.49 0h.01m3.49 0h.01m2.99 0h.01m5.99 0h.01m0.49 0h.01m4.39 0h.01m2.49 0h.01m5.49 0h.01m14.39 0h.01m3.99 0h.01m1.99 0h.01m9.49 0h.01m8.39 0h.01m8.99 0h.01m3.99 0h.01m0.49 0h.01m5.49 0h.01m2.49 0h.01m3.39 0h.01m2.49 0h.01m0.99 0h.01m1.49 0h.01m0.49 0h.01m0.49 0h.01m2.99 0h.01m13.99 0h.01m2.39 0h.01m4.49 0h.01m0.49 0h.01m10.49 0h.01m1.99 0h.01m8.89 0h.01m0.99 0h.01m1.49 0h.01m9.99 0h.01m7.49 0h.01m10.89 0h.01m0.99 0h.01m0.99 0h.01m0.99 0h.01m3.49 0h.01m1.99 0h.01m8.89 0h.01m4.99 0h.01m4.49 0h.01M80 228.4h.01m0.99 0h.01m3.99 0h.01m0.99 0h.01m0.89 0h.01m2.49 0h.01m4.49 0h.01m4.99 0h.01m0.49 0h.01m4.49 0h.01m0.49 0h.01m1.49 0h.01m6.89 0h.01m1.99 0h.01m2.99 0h.01m7.99 0h.01m5.49 0h.01m1.49 0h.01m4.39 0h.01m3.49 0h.01m1.99 0h.01m5.99 0h.01m0.49 0h.01m2.49 0h.01m1.49 0h.01m6.89 0h.01m0.49 0h.01m8.49 0h.01m5.49 0h.01m2.49 0h.01m0.49 0h.01m8.39 0h.01m1.99 0h.01m2.49 0h.01m4.99 0h.01m5.49 0h.01m3.49 0h.01m4.39 0h.01m2.49 0h.01m1.99 0h.01m0.99 0h.01m0.49 0h.01m2.49 0h.01m1.49 0h.01m2.99 0h.01m2.99 0h.01m0.49 0h.01m3.99 0h.01m3.99 0h.01m7.89 0h.01m2.49 0h.01m18.39 0h.01m2.49 0h.01m0.99 0h.01m1.99 0h.01m1.99 0h.01m6.99 0h.01m4.49 0h.01m3.39 0h.01m0.49 0h.01m1.49 0h.01m1.99 0h.01m0.49 0h.01m0.49 0h.01m0.99 0h.01m13.49 0h.01m2.49 0h.01m1.89 0h.01m1.49 0h.01m2.49 0h.01m5.99 0h.01m0.49 0h.01m1.99 0h.01m1.49 0h.01m4.99 0h.01m6.39 0h.01m0.49 0h.01m8.99 0h.01m14.39 0h.01m17.99 0h.01m4.49 0h.01m2.39 0h.01m0.99 0h.01m0.99 0h.01m7.99 0h.01m20.89 0h.01m9.99 0h.01m11.39 0h.01m3.49 0h.01m6.49 0h.01m4.99 0h.01m9.89 0h.01m2.99 0h.01m5.49 0h.01m1.49 0h.01m2.49 0h.01m2.49 0h.01m7.39 0h.01m2.99 0h.01m5.49 0h.01m0.49 0h.01m7.49 0h.01m5.39 0h.01m1.49 0h.01m6.49 0h.01m11.99 0h.01m8.39 0h.01m10.49 0h.01m1.99 0h.01m2.49 0h.01m7.39 0h.01m0.49 0h.01m5.49 0h.01m2.99 0h.01M79 224.9h.01m1.49 0h.01m0.49 0h.01m0.49 0h.01m2.49 0h.01m1.49 0h.01m1.89 0h.01m0.99 0h.01m7.99 0h.01m2.49 0h.01m2.99 0h.01m2.49 0h.01m2.49 0h.01m2.99 0h.01m1.89 0h.01m1.49 0h.01m0.49 0h.01m4.99 0h.01m1.49 0h.01m0.49 0h.01m0.49 0h.01m5.49 0h.01m0.49 0h.01m0.49 0h.01m0.49 0h.01m0.99 0h.01m1.49 0h.01m0.49 0h.01m0.49 0h.01m0.99 0h.01m0.99 0h.01m0.49 0h.01m1.89 0h.01m0.49 0h.01m0.49 0h.01m0.49 0h.01m1.99 0h.01m1.99 0h.01m2.49 0h.01m1.49 0h.01m1.99 0h.01m0.99 0h.01m1.49 0h.01m1.49 0h.01m0.49 0h.01m0.49 0h.01m6.49 0h.01m2.39 0h.01m0.99 0h.01m0.49 0h.01m2.49 0h.01m0.99 0h.01m0.99 0h.01m2.49 0h.01m0.99 0h.01m0.99 0h.01m0.49 0h.01m2.49 0h.01m1.99 0h.01m0.99 0h.01m0.49 0h.01m0.99 0h.01m0.49 0h.01m0.99 0h.01m0.49 0h.01m0.99 0h.01m0.99 0h.01m1.39 0h.01m1.99 0h.01m1.49 0h.01m2.49 0h.01m0.49 0h.01m1.99 0h.01m0.99 0h.01m0.99 0h.01m0.49 0h.01m0.49 0h.01m2.49 0h.01m1.49 0h.01m1.99 0h.01m0.49 0h.01m0.49 0h.01m0.49 0h.01m1.49 0h.01m1.49 0h.01m0.49 0h.01m2.39 0h.01m0.49 0h.01m1.49 0h.01m1.49 0h.01m0.99 0h.01m1.49 0h.01m3.49 0h.01m2.99 0h.01m2.99 0h.01m8.89 0h.01m0.49 0h.01m3.99 0h.01m0.99 0h.01m3.49 0h.01m1.99 0h.01m1.99 0h.01m2.49 0h.01m0.99 0h.01m0.49 0h.01m1.99 0h.01m1.99 0h.01m0.49 0h.01m1.99 0h.01m1.39 0h.01m4.99 0h.01m0.99 0h.01m1.99 0h.01m1.49 0h.01m1.49 0h.01m0.99 0h.01m1.49 0h.01m1.49 0h.01m0.49 0h.01m0.49 0h.01m3.99 0h.01m4.89 0h.01m1.49 0h.01m0.99 0h.01m1.49 0h.01m2.49 0h.01m3.49 0h.01m3.49 0h.01m0.49 0h.01m1.99 0h.01m0.49 0h.01m1.49 0h.01m1.99 0h.01m0.49 0h.01m1.99 0h.01m1.39 0h.01m0.49 0h.01m0.99 0h.01m1.99 0h.01m0.99 0h.01m1.99 0h.01m0.49 0h.01m0.99 0h.01m3.49 0h.01m1.99 0h.01m1.49 0h.01m0.99 0h.01m0.49 0h.01m0.99 0h.01m1.49 0h.01m0.49 0h.01m0.99 0h.01m0.99 0h.01m0.49 0h.01m0.49 0h.01m1.39 0h.01m0.49 0h.01m5.49 0h.01m3.49 0h.01m1.99 0h.01m0.99 0h.01m0.99 0h.01m2.49 0h.01m0.49 0h.01m1.49 0h.01m0.49 0h.01m0.49 0h.01m5.89 0h.01m1.49 0h.01m1.49 0h.01m3.99 0h.01m0.99 0h.01m0.49 0h.01m0.49 0h.01m1.49 0h.01m2.49 0h.01m0.49 0h.01m0.99 0h.01m0.99 0h.01m1.49 0h.01m2.99 0h.01m0.49 0h.01m1.49 0h.01m0.49 0h.01m0.99 0h.01m1.89 0h.01m1.49 0h.01m3.99 0h.01m4.49 0h.01m0.99 0h.01m3.99 0h.01m0.49 0h.01m2.49 0h.01m0.49 0h.01m0.99 0h.01m0.49 0h.01m0.99 0h.01m1.99 0h.01m2.89 0h.01m2.49 0h.01m0.49 0h.01m3.99 0h.01m0.49 0h.01m3.49 0h.01m1.99 0h.01m0.49 0h.01m1.49 0h.01m2.49 0h.01m4.89 0h.01m2.99 0h.01m1.49 0h.01m0.49 0h.01m2.49 0h.01m1.49 0h.01m5.99 0h.01m4.99 0h.01m1.49 0h.01m0.49 0h.01m0.99 0h.01m0.89 0h.01m0.99 0h.01m2.49 0h.01m0.49 0h.01m0.49 0h.01m3.99 0h.01m1.99 0h.01m0.49 0h.01m0.49 0h.01m1.49 0h.01m1.99 0h.01m0.99 0h.01m1.49 0h.01m0.49 0h.01m2.49 0h.01m0.49 0h.01m0.49 0h.01m5.39 0h.01m0.99 0h.01m2.49 0h.01m0.99 0h.01m2.49 0h.01m1.99 0h.01m0.49 0h.01m0.99 0h.01m2.49 0h.01m2.49 0h.01m0.99 0h.01m2.99 0h.01m0.99 0h.01m2.39 0h.01m0.99 0h.01m2.99 0h.01m0.99 0h.01m5.49 0h.01m0.49 0h.01m1.99 0h.01m0.49 0h.01m0.99 0h.01m1.49 0h.01m1.49 0h.01m3.99 0h.01m2.89 0h.01m0.49 0h.01m1.49 0h.01m3.49 0h.01m0.49 0h.01m1.99 0h.01m0.99 0h.01m0.49 0h.01m2.49 0h.01m1.99 0h.01m4.99 0h.01m3.49 0h.01m0.99 0h.01m0.39 0h.01m1.99 0h.01m0.49 0h.01m0.49 0h.01m0.49 0h.01m1.49 0h.01m1.49 0h.01m0.99 0h.01m0.49 0h.01m0.49 0h.01m1.99 0h.01m0.49 0h.01m0.99 0h.01m0.49 0h.01m2.99 0h.01m1.49 0h.01m2.49 0h.01M100.4 221.4h.01m4.99 0h.01m16.39 0h.01m1.99 0h.01m1.99 0h.01m2.99 0h.01m3.49 0h.01m3.39 0h.01m5.49 0h.01m3.99 0h.01m2.99 0h.01m0.49 0h.01m1.99 0h.01m11.89 0h.01m3.99 0h.01m16.99 0h.01m6.89 0h.01m0.49 0h.01m0.49 0h.01m6.49 0h.01m0.99 0h.01m16.89 0h.01m1.49 0h.01m2.99 0h.01m10.99 0h.01m1.99 0h.01m7.89 0h.01m5.49 0h.01m3.99 0h.01m12.39 0h.01m1.99 0h.01m10.49 0h.01m3.99 0h.01m3.89 0h.01m4.49 0h.01m5.49 0h.01m14.89 0h.01m2.49 0h.01m2.49 0h.01m1.49 0h.01m4.99 0h.01m3.49 0h.01m4.49 0h.01m4.39 0h.01m4.99 0h.01m9.99 0h.01m2.99 0h.01m2.99 0h.01m20.89 0h.01m7.39 0h.01m2.49 0h.01m3.49 0h.01m0.99 0h.01m3.49 0h.01m4.49 0h.01m1.99 0h.01m0.49 0h.01m0.99 0h.01m13.89 0h.01m8.99 0h.01m1.49 0h.01m2.99 0h.01m3.89 0h.01m2.49 0h.01m1.99 0h.01m0.49 0h.01m8.99 0h.01m3.99 0h.01m0.49 0h.01m2.49 0h.01m0.49 0h.01m1.39 0h.01m3.99 0h.01m0.99 0h.01m1.49 0h.01m0.99 0h.01m0.49 0h.01m2.49 0h.01m8.49 0h.01m3.49 0h.01m6.39 0h.01m11.99 0h.01m5.99 0h.01m3.39 0h.01m4.49 0h.01m2.49 0h.01m1.49 0h.01m4.49 0h.01m7.99 0h.01m4.89 0h.01m8.49 0h.01m0.49 0h.01m0.49 0h.01m0.49 0h.01m4.49 0h.01m8.89 0h.01m0.49 0h.01m11.49 0h.01m0.99 0h.01m3.49 0h.01M79 217.9h.01m0.49 0h.01m0.99 0h.01m1.49 0h.01m2.99 0h.01m0.49 0h.01m0.89 0h.01m1.49 0h.01m0.99 0h.01m0.49 0h.01m0.99 0h.01m0.49 0h.01m0.49 0h.01m0.99 0h.01m2.99 0h.01m1.99 0h.01m2.49 0h.01m4.49 0h.01m4.99 0h.01m3.89 0h.01m4.49 0h.01m1.49 0h.01m0.49 0h.01m3.99 0h.01m1.99 0h.01m2.49 0h.01m1.99 0h.01m0.99 0h.01m1.49 0h.01m0.99 0h.01m0.99 0h.01m0.89 0h.01m1.49 0h.01m0.49 0h.01m5.99 0h.01m3.99 0h.01m0.49 0h.01m2.49 0h.01m0.99 0h.01m1.99 0h.01m1.99 0h.01m0.99 0h.01m1.99 0h.01m1.39 0h.01m0.99 0h.01m2.99 0h.01m1.99 0h.01m0.99 0h.01m1.49 0h.01m0.49 0h.01m1.49 0h.01m0.49 0h.01m4.99 0h.01m0.49 0h.01m2.49 0h.01m2.49 0h.01m2.49 0h.01m0.39 0h.01m1.99 0h.01m0.49 0h.01m2.49 0h.01m1.49 0h.01m2.99 0h.01m0.49 0h.01m3.99 0h.01m0.99 0h.01m3.99 0h.01m0.99 0h.01m7.39 0h.01m2.49 0h.01m0.99 0h.01m0.49 0h.01m1.49 0h.01m3.49 0h.01m0.49 0h.01m2.49 0h.01m0.99 0h.01m0.49 0h.01m0.49 0h.01m2.49 0h.01m0.99 0h.01m2.49 0h.01m2.39 0h.01m5.49 0h.01m0.49 0h.01m2.99 0h.01m0.49 0h.01m1.99 0h.01m2.99 0h.01m0.99 0h.01m3.99 0h.01m0.49 0h.01m2.99 0h.01m0.49 0h.01m1.89 0h.01m1.49 0h.01m0.99 0h.01m0.99 0h.01m0.99 0h.01m0.99 0h.01m0.99 0h.01m1.99 0h.01m5.49 0h.01m1.49 0h.01m0.49 0h.01m0.99 0h.01m0.49 0h.01m0.99 0h.01m5.39 0h.01m1.49 0h.01m0.99 0h.01m5.49 0h.01m0.99 0h.01m0.99 0h.01m2.49 0h.01m1.49 0h.01m1.99 0h.01m5.49 0h.01m0.99 0h.01m1.39 0h.01m0.49 0h.01m2.99 0h.01m0.99 0h.01m3.99 0h.01m0.99 0h.01m4.99 0h.01m0.99 0h.01m1.99 0h.01m1.49 0h.01m0.99 0h.01m0.99 0h.01m0.49 0h.01m1.99 0h.01m4.39 0h.01m1.49 0h.01m0.49 0h.01m0.49 0h.01m0.99 0h.01m0.49 0h.01m2.99 0h.01m2.49 0h.01m0.99 0h.01m1.99 0h.01m0.49 0h.01m1.49 0h.01m0.49 0h.01m0.49 0h.01m1.49 0h.01m0.49 0h.01m0.49 0h.01m0.49 0h.01m2.39 0h.01m1.99 0h.01m0.99 0h.01m1.99 0h.01m0.49 0h.01m1.49 0h.01m1.49 0h.01m2.99 0h.01m0.49 0h.01m1.49 0h.01m1.49 0h.01m5.49 0h.01m0.49 0h.01m0.49 0h.01m0.99 0h.01m0.99 0h.01m6.39 0h.01m2.49 0h.01m0.49 0h.01m1.99 0h.01m3.49 0h.01m1.49 0h.01m0.49 0h.01m0.99 0h.01m0.99 0h.01m5.99 0h.01m0.49 0h.01m0.89 0h.01m1.49 0h.01m1.99 0h.01m0.99 0h.01m0.99 0h.01m0.49 0h.01m0.99 0h.01m1.49 0h.01m3.49 0h.01m1.49 0h.01m0.49 0h.01m0.49 0h.01m2.99 0h.01m3.49 0h.01m1.49 0h.01m1.89 0h.01m10.49 0h.01m3.99 0h.01m1.49 0h.01m0.49 0h.01m1.99 0h.01m0.99 0h.01m1.49 0h.01m0.49 0h.01m0.99 0h.01m0.99 0h.01m0.39 0h.01m0.99 0h.01m1.49 0h.01m2.99 0h.01m0.99 0h.01m2.49 0h.01m0.49 0h.01m1.49 0h.01m2.99 0h.01m4.49 0h.01m0.49 0h.01m6.39 0h.01m0.49 0h.01m2.49 0h.01m7.49 0h.01m2.49 0h.01m0.49 0h.01m0.99 0h.01m1.99 0h.01m0.49 0h.01m0.99 0h.01m0.99 0h.01m1.49 0h.01m1.99 0h.01m0.49 0h.01m0.49 0h.01m0.89 0h.01m0.49 0h.01m1.99 0h.01m1.49 0h.01m1.49 0h.01m1.99 0h.01m0.49 0h.01m0.49 0h.01m4.49 0h.01m3.99 0h.01m2.49 0h.01m1.99 0h.01m0.49 0h.01m2.39 0h.01m2.49 0h.01m0.49 0h.01m0.49 0h.01m2.49 0h.01m1.99 0h.01m1.49 0h.01m0.49 0h.01m1.49 0h.01m3.49 0h.01m0.49 0h.01m0.49 0h.01m4.99 0h.01m0.49 0h.01m1.49 0h.01m1.39 0h.01m0.49 0h.01m0.49 0h.01m0.49 0h.01m0.49 0h.01m0.49 0h.01m0.49 0h.01m1.49 0h.01m3.49 0h.01m0.49 0h.01m0.99 0h.01m2.49 0h.01m2.99 0h.01m0.49 0h.01m1.49 0h.01m0.99 0h.01m0.99 0h.01M79.5 214.4h.01m1.99 0h.01m4.49 0h.01m0.39 0h.01m1.99 0h.01m1.49 0h.01m0.49 0h.01m0.49 0h.01m1.49 0h.01m3.49 0h.01m0.49 0h.01m1.49 0h.01m1.99 0h.01m5.49 0h.01m1.49 0h.01m0.99 0h.01m1.49 0h.01m1.89 0h.01m2.49 0h.01m0.99 0h.01m1.49 0h.01m2.99 0h.01m2.99 0h.01m1.99 0h.01m2.49 0h.01m4.49 0h.01m8.89 0h.01m0.49 0h.01m1.49 0h.01m2.99 0h.01m0.49 0h.01m0.49 0h.01m6.99 0h.01m0.49 0h.01m0.49 0h.01m2.49 0h.01m0.49 0h.01m0.49 0h.01m2.39 0h.01m2.99 0h.01m2.49 0h.01m0.99 0h.01m0.49 0h.01m1.99 0h.01m0.49 0h.01m8.49 0h.01m0.49 0h.01m0.99 0h.01m0.99 0h.01m5.39 0h.01m0.49 0h.01m0.49 0h.01m0.99 0h.01m1.49 0h.01m0.49 0h.01m0.49 0h.01m4.49 0h.01m0.49 0h.01m5.49 0h.01m1.49 0h.01m4.49 0h.01m0.49 0h.01m2.89 0h.01m1.49 0h.01m3.49 0h.01m0.49 0h.01m1.49 0h.01m2.49 0h.01m3.99 0h.01m0.49 0h.01m0.49 0h.01m0.99 0h.01m0.99 0h.01m5.49 0h.01m1.39 0h.01m2.49 0h.01m2.49 0h.01m0.99 0h.01m2.99 0h.01m2.49 0h.01m0.99 0h.01m0.99 0h.01m0.49 0h.01m0.99 0h.01m10.89 0h.01m0.99 0h.01m0.99 0h.01m2.49 0h.01m3.49 0h.01m0.49 0h.01m0.49 0h.01m0.99 0h.01m2.99 0h.01m0.49 0h.01m2.49 0h.01m0.49 0h.01m0.99 0h.01m1.49 0h.01m0.99 0h.01m2.49 0h.01m3.39 0h.01m3.99 0h.01m3.99 0h.01m0.49 0h.01m1.99 0h.01m2.49 0h.01m1.99 0h.01m0.49 0h.01m1.49 0h.01m1.49 0h.01m0.99 0h.01m11.39 0h.01m0.99 0h.01m0.49 0h.01m0.99 0h.01m0.99 0h.01m1.49 0h.01m0.99 0h.01m0.99 0h.01m6.49 0h.01m1.49 0h.01m0.39 0h.01m0.99 0h.01m2.49 0h.01m5.99 0h.01m3.49 0h.01m0.49 0h.01m0.99 0h.01m3.99 0h.01m0.99 0h.01m0.49 0h.01m2.49 0h.01m1.49 0h.01m3.89 0h.01m0.49 0h.01m1.99 0h.01m1.49 0h.01m0.49 0h.01m2.49 0h.01m3.99 0h.01m0.99 0h.01m0.99 0h.01m1.99 0h.01m3.49 0h.01m0.49 0h.01m1.49 0h.01m0.89 0h.01m1.49 0h.01m1.99 0h.01m0.49 0h.01m0.49 0h.01m1.99 0h.01m1.49 0h.01m1.99 0h.01m0.49 0h.01m0.99 0h.01m2.99 0h.01m2.99 0h.01m1.49 0h.01m1.49 0h.01m0.49 0h.01m0.99 0h.01m0.49 0h.01m2.39 0h.01m7.99 0h.01m1.99 0h.01m4.99 0h.01m0.99 0h.01m2.49 0h.01m0.49 0h.01m0.49 0h.01m1.49 0h.01m1.49 0h.01m1.39 0h.01m2.99 0h.01m2.49 0h.01m7.99 0h.01m0.49 0h.01m2.99 0h.01m1.49 0h.01m4.49 0h.01m3.39 0h.01m1.49 0h.01m3.49 0h.01m0.49 0h.01m0.99 0h.01m3.99 0h.01m2.99 0h.01m1.49 0h.01m3.99 0h.01m3.39 0h.01m2.99 0h.01m1.99 0h.01m0.99 0h.01m0.99 0h.01m0.99 0h.01m0.99 0h.01m1.49 0h.01m0.99 0h.01m1.49 0h.01m2.99 0h.01m6.49 0h.01m4.89 0h.01m2.49 0h.01m0.99 0h.01m3.99 0h.01m3.49 0h.01m0.99 0h.01m0.49 0h.01m0.99 0h.01m1.49 0h.01m0.49 0h.01m0.49 0h.01m1.49 0h.01m3.49 0h.01m1.89 0h.01m2.49 0h.01m0.99 0h.01m1.49 0h.01m3.49 0h.01m0.49 0h.01m1.49 0h.01m1.99 0h.01m0.49 0h.01m1.99 0h.01m0.49 0h.01m1.99 0h.01m1.99 0h.01m3.49 0h.01m1.89 0h.01m0.49 0h.01m1.99 0h.01m0.99 0h.01m2.49 0h.01m2.99 0h.01m0.99 0h.01m1.49 0h.01m0.49 0h.01m2.49 0h.01m0.99 0h.01m1.49 0h.01M83 210.9h.01m4.39 0h.01m0.49 0h.01m3.49 0h.01m7.49 0h.01m11.89 0h.01m15.49 0h.01m3.99 0h.01m1.49 0h.01m6.39 0h.01m4.99 0h.01m2.49 0h.01m1.49 0h.01m6.49 0h.01m5.49 0h.01m6.39 0h.01m7.49 0h.01m15.39 0h.01m4.49 0h.01m8.99 0h.01m3.49 0h.01m4.89 0h.01m1.99 0h.01m4.49 0h.01m6.49 0h.01m0.49 0h.01m0.99 0h.01m1.49 0h.01m2.99 0h.01m2.49 0h.01m8.39 0h.01m0.99 0h.01m4.49 0h.01m4.99 0h.01m1.49 0h.01m2.99 0h.01m2.89 0h.01m15.49 0h.01m15.39 0h.01m0.49 0h.01m6.99 0h.01m0.99 0h.01m1.49 0h.01m0.99 0h.01m17.89 0h.01m4.49 0h.01m2.49 0h.01m5.49 0h.01m9.89 0h.01m1.99 0h.01m1.99 0h.01m1.99 0h.01m6.99 0h.01m2.89 0h.01m1.49 0h.01m5.99 0h.01m2.99 0h.01m6.99 0h.01m3.49 0h.01m7.89 0h.01m4.99 0h.01m6.99 0h.01m2.49 0h.01m2.49 0h.01m1.99 0h.01m5.89 0h.01m1.99 0h.01m0.99 0h.01m0.49 0h.01m0.49 0h.01m6.49 0h.01m1.99 0h.01m10.89 0h.01m11.49 0h.01m4.99 0h.01m2.49 0h.01m6.39 0h.01m2.49 0h.01m2.49 0h.01m15.39 0h.01m6.49 0h.01m2.49 0h.01m1.49 0h.01m1.49 0h.01m21.39 0h.01m2.99 0h.01m0.99 0h.01m0.49 0h.01m1.49 0h.01m0.49 0h.01m0.49 0h.01m1.49 0h.01m6.89 0h.01m0.99 0h.01m1.99 0h.01m4.49 0h.01m0.99 0h.01m7.99 0h.01m7.89 0h.01m1.49 0h.01m1.49 0h.01m7.99 0h.01m2.49 0h.01m3.99 0h.01M80 207.4h.01m0.99 0h.01m1.49 0h.01m2.49 0h.01m2.39 0h.01m6.49 0h.01m3.49 0h.01m3.49 0h.01m4.99 0h.01m2.99 0h.01m1.49 0h.01m5.89 0h.01m0.99 0h.01m6.99 0h.01m3.99 0h.01m1.99 0h.01m0.49 0h.01m2.49 0h.01m1.99 0h.01m1.89 0h.01m0.49 0h.01m4.49 0h.01m3.99 0h.01m10.99 0h.01m1.99 0h.01m1.89 0h.01m0.99 0h.01m0.99 0h.01m2.49 0h.01m0.49 0h.01m0.49 0h.01m1.49 0h.01m4.99 0h.01m0.49 0h.01m0.49 0h.01m0.49 0h.01m3.99 0h.01m0.49 0h.01m5.39 0h.01m0.49 0h.01m0.49 0h.01m0.49 0h.01m0.49 0h.01m11.49 0h.01m12.39 0h.01m4.99 0h.01m0.99 0h.01m1.49 0h.01m0.99 0h.01m7.49 0h.01m0.99 0h.01m1.99 0h.01m2.49 0h.01m5.39 0h.01m4.49 0h.01m1.99 0h.01m3.49 0h.01m3.49 0h.01m0.99 0h.01m0.49 0h.01m1.49 0h.01m0.49 0h.01m4.39 0h.01m5.49 0h.01m2.49 0h.01m0.49 0h.01m2.99 0h.01m0.49 0h.01m1.99 0h.01m1.99 0h.01m0.99 0h.01m2.99 0h.01m2.49 0h.01m0.99 0h.01m1.39 0h.01m1.99 0h.01m2.99 0h.01m5.99 0h.01m0.49 0h.01m2.49 0h.01m1.49 0h.01m9.39 0h.01m2.49 0h.01m4.99 0h.01m0.49 0h.01m3.49 0h.01m4.49 0h.01m2.49 0h.01m2.99 0h.01m2.89 0h.01m3.99 0h.01m13.49 0h.01m6.39 0h.01m4.49 0h.01m5.49 0h.01m2.99 0h.01m0.99 0h.01m3.49 0h.01m4.49 0h.01m1.49 0h.01m1.39 0h.01m0.49 0h.01m1.99 0h.01m7.49 0h.01m4.99 0h.01m1.49 0h.01m1.49 0h.01m0.99 0h.01m0.49 0h.01m0.99 0h.01m1.49 0h.01m1.49 0h.01m0.89 0h.01m0.49 0h.01m2.99 0h.01m3.49 0h.01m8.99 0h.01m3.99 0h.01m3.49 0h.01m0.89 0h.01m0.99 0h.01m2.49 0h.01m3.49 0h.01m11.49 0h.01m4.99 0h.01m2.39 0h.01m0.49 0h.01m0.99 0h.01m0.49 0h.01m3.99 0h.01m1.49 0h.01m0.49 0h.01m0.49 0h.01m1.99 0h.01m2.99 0h.01m1.49 0h.01m2.49 0h.01m6.39 0h.01m2.99 0h.01m1.99 0h.01m0.49 0h.01m0.99 0h.01m4.99 0h.01m1.99 0h.01m3.99 0h.01m5.49 0h.01m6.39 0h.01m0.49 0h.01m0.49 0h.01m2.99 0h.01m13.49 0h.01m0.89 0h.01m4.49 0h.01m1.49 0h.01m0.49 0h.01m0.99 0h.01m0.49 0h.01m1.99 0h.01m2.99 0h.01m2.99 0h.01m0.49 0h.01m2.99 0h.01m2.99 0h.01m0.99 0h.01m1.89 0h.01m3.49 0h.01m0.49 0h.01m2.49 0h.01m6.49 0h.01M80.5 203.9h.01m7.89 0h.01m5.99 0h.01m5.49 0h.01m7.49 0h.01m1.99 0h.01m9.89 0h.01m5.49 0h.01m12.89 0h.01m3.49 0h.01m43.79 0h.01m5.99 0h.01m10.99 0h.01m1.99 0h.01m6.89 0h.01m0.99 0h.01m16.49 0h.01m19.89 0h.01m9.89 0h.01m3.49 0h.01m18.49 0h.01m24.89 0h.01m2.39 0h.01m9.49 0h.01m17.89 0h.01m1.49 0h.01m1.99 0h.01m41.89 0h.01m2.89 0h.01m7.99 0h.01m11.99 0h.01m13.39 0h.01m0.99 0h.01m11.49 0h.01m28.79 0h.01m1.99 0h.01m6.99 0h.01m25.89 0h.01m15.89 0h.01m4.49 0h.01m2.99 0h.01m4.99 0h.01m14.39 0h.01m5.99 0h.01m4.49 0h.01m2.99 0h.01m1.49 0h.01m7.39 0h.01m0.99 0h.01m8.99 0h.01M83.5 200.4h.01m0.49 0h.01m1.49 0h.01m19.89 0h.01m1.99 0h.01m3.39 0h.01m1.99 0h.01m3.49 0h.01m2.49 0h.01m18.39 0h.01m4.99 0h.01m0.49 0h.01m11.49 0h.01m14.89 0h.01m1.99 0h.01m0.99 0h.01m13.39 0h.01m4.49 0h.01m6.99 0h.01m17.89 0h.01m13.49 0h.01m2.49 0h.01m2.49 0h.01m2.39 0h.01m3.49 0h.01m13.99 0h.01m3.99 0h.01m1.39 0h.01m12.49 0h.01m5.99 0h.01m3.99 0h.01m6.39 0h.01m0.49 0h.01m8.49 0h.01m7.99 0h.01m1.99 0h.01m7.89 0h.01m0.49 0h.01m2.99 0h.01m4.49 0h.01m28.89 0h.01m0.99 0h.01m30.29 0h.01m2.49 0h.01m11.99 0h.01m2.99 0h.01m3.99 0h.01m1.39 0h.01m6.99 0h.01m15.49 0h.01m2.89 0h.01m16.49 0h.01m4.99 0h.01m8.89 0h.01m15.49 0h.01m0.99 0h.01m3.89 0h.01m3.49 0h.01m3.99 0h.01m9.99 0h.01m2.99 0h.01m5.39 0h.01m4.49 0h.01m2.99 0h.01m0.99 0h.01m5.99 0h.01m0.49 0h.01m0.49 0h.01m7.39 0h.01m2.49 0h.01m5.99 0h.01m4.49 0h.01m4.49 0h.01m1.99 0h.01m8.39 0h.01m0.99 0h.01m1.49 0h.01M81.5 196.9h.01m0.49 0h.01m1.99 0h.01m1.49 0h.01m0.49 0h.01m0.89 0h.01m0.49 0h.01m0.99 0h.01m0.49 0h.01m2.49 0h.01m1.99 0h.01m3.49 0h.01m1.99 0h.01m1.49 0h.01m0.49 0h.01m0.49 0h.01m0.99 0h.01m0.49 0h.01m1.99 0h.01m0.49 0h.01m0.49 0h.01m0.99 0h.01m1.49 0h.01m0.99 0h.01m0.49 0h.01m1.89 0h.01m1.99 0h.01m2.99 0h.01m2.99 0h.01m0.49 0h.01m0.99 0h.01m2.49 0h.01m0.49 0h.01m8.49 0h.01m0.49 0h.01m2.39 0h.01m0.49 0h.01m0.49 0h.01m0.99 0h.01m1.49 0h.01m1.99 0h.01m0.99 0h.01m0.99 0h.01m0.49 0h.01m0.99 0h.01m0.99 0h.01m3.49 0h.01m3.99 0h.01m1.49 0h.01m1.49 0h.01m1.99 0h.01m0.49 0h.01m0.99 0h.01m0.39 0h.01m5.49 0h.01m0.49 0h.01m1.49 0h.01m0.49 0h.01m2.99 0h.01m0.99 0h.01m3.49 0h.01m0.49 0h.01m0.99 0h.01m0.99 0h.01m0.49 0h.01m2.49 0h.01m1.49 0h.01m6.39 0h.01m1.99 0h.01m1.49 0h.01m1.99 0h.01m2.49 0h.01m1.99 0h.01m1.49 0h.01m0.49 0h.01m2.49 0h.01m0.49 0h.01m0.49 0h.01m0.99 0h.01m1.99 0h.01m0.99 0h.01m1.39 0h.01m0.49 0h.01m0.99 0h.01m0.99 0h.01m0.49 0h.01m0.49 0h.01m2.49 0h.01m0.99 0h.01m0.49 0h.01m0.49 0h.01m0.49 0h.01m0.99 0h.01m0.49 0h.01m3.99 0h.01m3.49 0h.01m0.49 0h.01m0.99 0h.01m1.49 0h.01m0.49 0h.01m1.49 0h.01m0.99 0h.01m1.89 0h.01m0.49 0h.01m2.49 0h.01m0.49 0h.01m0.49 0h.01m0.99 0h.01m0.99 0h.01m0.99 0h.01m2.99 0h.01m0.49 0h.01m1.99 0h.01m0.99 0h.01m0.99 0h.01m3.49 0h.01m0.49 0h.01m1.49 0h.01m1.49 0h.01m1.39 0h.01m1.49 0h.01m0.99 0h.01m6.49 0h.01m0.49 0h.01m1.49 0h.01m5.49 0h.01m0.49 0h.01m3.49 0h.01m2.49 0h.01m0.49 0h.01m1.39 0h.01m0.99 0h.01m1.49 0h.01m1.99 0h.01m4.49 0h.01m0.99 0h.01m1.49 0h.01m0.49 0h.01m3.49 0h.01m0.99 0h.01m1.99 0h.01m0.99 0h.01m2.49 0h.01m0.99 0h.01m1.39 0h.01m1.49 0h.01m0.49 0h.01m2.99 0h.01m4.49 0h.01m1.49 0h.01m1.99 0h.01m0.99 0h.01m1.49 0h.01m0.49 0h.01m2.49 0h.01m0.49 0h.01m3.99 0h.01m0.49 0h.01m0.49 0h.01m0.39 0h.01m0.99 0h.01m0.49 0h.01m0.49 0h.01m1.99 0h.01m2.99 0h.01m2.99 0h.01m0.49 0h.01m1.99 0h.01m3.49 0h.01m0.49 0h.01m0.49 0h.01m4.99 0h.01m0.49 0h.01m4.39 0h.01m0.99 0h.01m1.49 0h.01m1.49 0h.01m0.99 0h.01m3.49 0h.01m1.99 0h.01m3.49 0h.01m1.99 0h.01m1.49 0h.01m1.49 0h.01m0.99 0h.01m0.99 0h.01m4.39 0h.01m1.99 0h.01m2.49 0h.01m0.49 0h.01m1.49 0h.01m1.49 0h.01m1.99 0h.01m4.49 0h.01m0.99 0h.01m1.99 0h.01m1.49 0h.01m0.99 0h.01m1.39 0h.01m1.49 0h.01m10.99 0h.01m1.49 0h.01m2.99 0h.01m0.49 0h.01m2.49 0h.01m3.49 0h.01m1.39 0h.01m0.99 0h.01m0.99 0h.01m4.49 0h.01m1.49 0h.01m1.49 0h.01m5.99 0h.01m2.99 0h.01m1.49 0h.01m3.49 0h.01m2.39 0h.01m0.49 0h.01m1.49 0h.01m3.99 0h.01m0.99 0h.01m1.49 0h.01m1.49 0h.01m0.49 0h.01m2.49 0h.01m0.99 0h.01m1.49 0h.01m1.99 0h.01m1.49 0h.01m0.49 0h.01m2.49 0h.01m2.39 0h.01m0.49 0h.01m2.49 0h.01m6.49 0h.01m2.49 0h.01m3.99 0h.01m0.49 0h.01m2.99 0h.01m4.39 0h.01m0.49 0h.01m2.99 0h.01m0.99 0h.01m8.49 0h.01m0.99 0h.01m0.49 0h.01m2.49 0h.01m2.49 0h.01m3.89 0h.01m0.99 0h.01m1.99 0h.01m0.49 0h.01m5.99 0h.01m0.49 0h.01m1.49 0h.01m0.49 0h.01m1.99 0h.01m9.99 0h.01m0.89 0h.01m0.49 0h.01m0.99 0h.01m0.49 0h.01m1.49 0h.01m0.99 0h.01m5.99 0h.01m0.49 0h.01m0.49 0h.01m0.49 0h.01m5.49 0h.01m0.99 0h.01m0.49 0h.01M79.5 193.4h.01m6.49 0h.01m0.39 0h.01m0.99 0h.01m1.99 0h.01m1.49 0h.01m2.49 0h.01m0.99 0h.01m0.49 0h.01m5.99 0h.01m1.49 0h.01m10.39 0h.01m0.49 0h.01m3.99 0h.01m1.49 0h.01m1.49 0h.01m3.49 0h.01m0.49 0h.01m4.49 0h.01m4.49 0h.01m6.39 0h.01m7.49 0h.01m0.99 0h.01m8.49 0h.01m1.99 0h.01m4.39 0h.01m2.49 0h.01m0.99 0h.01m1.99 0h.01m2.99 0h.01m4.49 0h.01m0.99 0h.01m1.49 0h.01m0.99 0h.01m0.99 0h.01m2.49 0h.01m2.39 0h.01m2.99 0h.01m23.39 0h.01m6.99 0h.01m9.49 0h.01m2.49 0h.01m9.39 0h.01m0.49 0h.01m14.99 0h.01m15.89 0h.01m3.99 0h.01m11.39 0h.01m1.49 0h.01m0.49 0h.01m4.49 0h.01m2.49 0h.01m0.99 0h.01m16.89 0h.01m5.49 0h.01m2.49 0h.01m0.49 0h.01m4.49 0h.01m3.49 0h.01m3.39 0h.01m1.99 0h.01m0.99 0h.01m6.49 0h.01m2.99 0h.01m6.49 0h.01m1.49 0h.01m0.49 0h.01m0.49 0h.01m6.39 0h.01m4.99 0h.01m0.99 0h.01m1.49 0h.01m2.99 0h.01m10.89 0h.01m7.99 0h.01m14.89 0h.01m3.49 0h.01m8.99 0h.01m0.49 0h.01m9.49 0h.01m6.89 0h.01m5.49 0h.01m1.49 0h.01m0.99 0h.01m2.49 0h.01m0.99 0h.01m0.99 0h.01m7.39 0h.01m18.49 0h.01m2.49 0h.01m3.89 0h.01m12.49 0h.01m1.99 0h.01m0.99 0h.01m1.99 0h.01m3.99 0h.01m6.89 0h.01m0.49 0h.01m12.99 0h.01m4.99 0h.01m8.89 0h.01m2.99 0h.01m7.99 0h.01m2.49 0h.01m0.99 0h.01m8.89 0h.01m2.49 0h.01m1.49 0h.01m4.99 0h.01m0.49 0h.01M79 189.9h.01m4.49 0h.01m0.99 0h.01m0.99 0h.01m0.49 0h.01m2.39 0h.01m0.49 0h.01m3.99 0h.01m0.99 0h.01m0.49 0h.01m2.99 0h.01m1.99 0h.01m0.49 0h.01m0.99 0h.01m3.99 0h.01m1.49 0h.01m1.49 0h.01m1.99 0h.01m0.89 0h.01m1.49 0h.01m1.49 0h.01m1.49 0h.01m2.49 0h.01m1.99 0h.01m1.99 0h.01m0.99 0h.01m0.49 0h.01m1.49 0h.01m0.49 0h.01m2.49 0h.01m1.99 0h.01m3.49 0h.01m2.89 0h.01m0.49 0h.01m1.49 0h.01m1.99 0h.01m0.49 0h.01m1.49 0h.01m2.49 0h.01m0.49 0h.01m2.99 0h.01m0.49 0h.01m0.49 0h.01m2.49 0h.01m0.99 0h.01m0.99 0h.01m1.49 0h.01m2.99 0h.01m7.39 0h.01m1.49 0h.01m0.49 0h.01m0.49 0h.01m5.49 0h.01m2.99 0h.01m0.99 0h.01m0.99 0h.01m0.99 0h.01m3.49 0h.01m3.89 0h.01m0.99 0h.01m3.99 0h.01m0.49 0h.01m0.49 0h.01m0.99 0h.01m0.49 0h.01m0.49 0h.01m3.49 0h.01m0.49 0h.01m3.99 0h.01m6.39 0h.01m2.49 0h.01m0.49 0h.01m0.49 0h.01m6.49 0h.01m0.49 0h.01m0.99 0h.01m4.99 0h.01m1.99 0h.01m0.49 0h.01m0.49 0h.01m1.49 0h.01m1.99 0h.01m1.39 0h.01m0.49 0h.01m1.99 0h.01m2.99 0h.01m1.49 0h.01m2.49 0h.01m2.49 0h.01m0.49 0h.01m3.49 0h.01m5.49 0h.01m0.49 0h.01m0.99 0h.01m0.49 0h.01m2.39 0h.01m2.99 0h.01m0.49 0h.01m0.49 0h.01m3.49 0h.01m0.49 0h.01m1.49 0h.01m4.99 0h.01m1.99 0h.01m1.49 0h.01m5.89 0h.01m2.99 0h.01m0.49 0h.01m0.49 0h.01m2.99 0h.01m2.99 0h.01m0.99 0h.01m3.99 0h.01m1.49 0h.01m0.99 0h.01m2.99 0h.01m0.49 0h.01m2.49 0h.01m1.39 0h.01m0.49 0h.01m1.99 0h.01m5.99 0h.01m2.99 0h.01m0.99 0h.01m6.49 0h.01m0.49 0h.01m0.49 0h.01m0.99 0h.01m1.49 0h.01m0.89 0h.01m1.49 0h.01m4.49 0h.01m1.99 0h.01m2.49 0h.01m0.99 0h.01m3.49 0h.01m0.49 0h.01m1.49 0h.01m1.99 0h.01m1.49 0h.01m2.49 0h.01m7.39 0h.01m2.49 0h.01m0.49 0h.01m3.99 0h.01m1.99 0h.01m1.49 0h.01m0.99 0h.01m1.99 0h.01m0.49 0h.01m0.49 0h.01m3.49 0h.01m0.39 0h.01m0.99 0h.01m1.49 0h.01m1.99 0h.01m0.49 0h.01m2.99 0h.01m3.99 0h.01m3.49 0h.01m0.99 0h.01m0.99 0h.01m2.99 0h.01m0.99 0h.01m3.89 0h.01m1.49 0h.01m0.49 0h.01m4.99 0h.01m2.49 0h.01m0.99 0h.01m3.49 0h.01m3.49 0h.01m2.99 0h.01m0.99 0h.01m5.39 0h.01m3.49 0h.01m3.99 0h.01m1.49 0h.01m2.99 0h.01m1.49 0h.01m0.49 0h.01m6.49 0h.01m3.89 0h.01m0.99 0h.01m3.49 0h.01m0.99 0h.01m4.49 0h.01m0.99 0h.01m0.99 0h.01m4.99 0h.01m0.99 0h.01m1.99 0h.01m5.39 0h.01m8.49 0h.01m1.49 0h.01m3.49 0h.01m0.49 0h.01m0.99 0h.01m2.99 0h.01m0.49 0h.01m5.89 0h.01m3.49 0h.01m0.49 0h.01m3.49 0h.01m1.49 0h.01m0.49 0h.01m1.99 0h.01m0.49 0h.01m1.99 0h.01m1.49 0h.01m0.99 0h.01m2.49 0h.01m0.49 0h.01m0.49 0h.01m3.39 0h.01m0.49 0h.01m0.49 0h.01m0.49 0h.01m1.49 0h.01m0.49 0h.01m1.49 0h.01m0.49 0h.01m1.99 0h.01m5.99 0h.01m1.49 0h.01m0.49 0h.01m1.49 0h.01m4.49 0h.01m0.89 0h.01m0.49 0h.01m3.49 0h.01m1.99 0h.01m2.99 0h.01m2.49 0h.01m1.49 0h.01m4.49 0h.01M79 186.4h.01m3.99 0h.01m0.99 0h.01m23.39 0h.01m7.89 0h.01m7.49 0h.01m7.49 0h.01m8.39 0h.01m3.49 0h.01m7.99 0h.01m1.99 0h.01m2.49 0h.01m0.99 0h.01m9.39 0h.01m1.49 0h.01m2.99 0h.01m0.49 0h.01m1.99 0h.01m3.99 0h.01m0.99 0h.01m3.99 0h.01m1.99 0h.01m5.89 0h.01m0.99 0h.01m2.49 0h.01m3.99 0h.01m0.99 0h.01m1.99 0h.01m7.49 0h.01m3.39 0h.01m4.49 0h.01m1.49 0h.01m3.99 0h.01m1.49 0h.01m3.49 0h.01m7.49 0h.01m14.89 0h.01m24.39 0h.01m7.49 0h.01m14.39 0h.01m2.99 0h.01m3.99 0h.01m2.49 0h.01m1.99 0h.01m2.39 0h.01m0.99 0h.01m3.49 0h.01m0.49 0h.01m10.99 0h.01m0.49 0h.01m0.49 0h.01m4.49 0h.01m11.89 0h.01m8.49 0h.01m2.49 0h.01m0.99 0h.01m0.99 0h.01m6.89 0h.01m1.99 0h.01m8.49 0h.01m1.99 0h.01m0.49 0h.01m9.39 0h.01m2.49 0h.01m14.49 0h.01m5.39 0h.01m3.99 0h.01m0.99 0h.01m5.99 0h.01m4.99 0h.01m2.49 0h.01m1.49 0h.01m1.99 0h.01m16.39 0h.01m3.49 0h.01m4.99 0h.01m3.89 0h.01m11.49 0h.01m4.49 0h.01m0.99 0h.01m0.99 0h.01m10.89 0h.01m4.49 0h.01m11.99 0h.01m2.39 0h.01m0.49 0h.01m3.49 0h.01m4.49 0h.01m3.49 0h.01m1.49 0h.01m15.89 0h.01m7.49 0h.01m0.49 0h.01m0.49 0h.01m5.49 0h.01m18.89 0h.01m3.49 0h.01M103.9 182.9h.01m23.39 0h.01m0.49 0h.01m5.49 0h.01m2.89 0h.01m2.49 0h.01m4.99 0h.01m3.99 0h.01m5.99 0h.01m0.99 0h.01m3.49 0h.01m10.89 0h.01m9.49 0h.01m15.89 0h.01m12.99 0h.01m14.89 0h.01m0.99 0h.01m0.99 0h.01m3.49 0h.01m4.49 0h.01m6.39 0h.01m3.99 0h.01m5.99 0h.01m2.49 0h.01m2.99 0h.01m11.89 0h.01m2.49 0h.01m4.49 0h.01m0.49 0h.01m6.99 0h.01m1.49 0h.01m2.39 0h.01m6.99 0h.01m3.99 0h.01m5.99 0h.01m0.99 0h.01m6.39 0h.01m17.49 0h.01m1.49 0h.01m2.99 0h.01m0.49 0h.01m18.89 0h.01m0.99 0h.01m8.89 0h.01m6.49 0h.01m12.49 0h.01m1.89 0h.01m2.49 0h.01m2.49 0h.01m4.99 0h.01m1.49 0h.01m0.49 0h.01m5.99 0h.01m4.99 0h.01m14.39 0h.01m1.49 0h.01m7.49 0h.01m2.89 0h.01m2.99 0h.01m4.99 0h.01m3.49 0h.01m4.49 0h.01m4.99 0h.01m3.39 0h.01m0.49 0h.01m7.49 0h.01m7.99 0h.01m2.99 0h.01m1.49 0h.01m1.49 0h.01m2.89 0h.01m4.99 0h.01m16.99 0h.01m2.39 0h.01m2.49 0h.01m0.99 0h.01m1.49 0h.01m1.99 0h.01m6.49 0h.01m0.99 0h.01m10.89 0h.01m12.99 0h.01m4.49 0h.01m6.89 0h.01m10.99 0h.01M81.5 179.4h.01m3.99 0h.01m5.39 0h.01m6.49 0h.01m0.99 0h.01m3.49 0h.01m4.49 0h.01m27.39 0h.01m34.29 0h.01m21.89 0h.01m9.99 0h.01m21.89 0h.01m21.39 0h.01m3.99 0h.01m10.49 0h.01m9.89 0h.01m10.99 0h.01m31.29 0h.01m3.49 0h.01m4.99 0h.01m6.99 0h.01m1.99 0h.01m0.49 0h.01m18.89 0h.01m6.49 0h.01m24.89 0h.01m2.89 0h.01m5.49 0h.01m2.49 0h.01m0.49 0h.01m18.39 0h.01m11.99 0h.01m18.89 0h.01m8.99 0h.01m19.89 0h.01m38.29 0h.01m2.99 0h.01m9.49 0h.01m36.29 0h.01m10.99 0h.01M82 175.9h.01m3.99 0h.01m5.89 0h.01m1.99 0h.01m1.49 0h.01m1.49 0h.01m0.49 0h.01m0.49 0h.01m5.99 0h.01m0.49 0h.01m0.99 0h.01m0.49 0h.01m2.49 0h.01m4.39 0h.01m0.49 0h.01m0.99 0h.01m0.99 0h.01m3.49 0h.01m0.99 0h.01m0.99 0h.01m0.49 0h.01m3.49 0h.01m0.99 0h.01m3.49 0h.01m0.49 0h.01m3.49 0h.01m1.99 0h.01m2.39 0h.01m1.49 0h.01m0.99 0h.01m0.49 0h.01m0.49 0h.01m1.49 0h.01m0.49 0h.01m4.49 0h.01m1.99 0h.01m1.49 0h.01m0.49 0h.01m2.49 0h.01m3.99 0h.01m0.99 0h.01m4.89 0h.01m2.49 0h.01m0.49 0h.01m2.99 0h.01m4.99 0h.01m1.99 0h.01m2.49 0h.01m6.89 0h.01m0.99 0h.01m0.49 0h.01m0.99 0h.01m1.49 0h.01m0.49 0h.01m2.49 0h.01m1.99 0h.01m3.49 0h.01m0.49 0h.01m1.49 0h.01m5.99 0h.01m0.49 0h.01m2.39 0h.01m3.49 0h.01m0.49 0h.01m1.99 0h.01m0.49 0h.01m2.49 0h.01m0.49 0h.01m3.99 0h.01m2.99 0h.01m0.49 0h.01m2.99 0h.01m2.99 0h.01m0.49 0h.01m1.89 0h.01m2.49 0h.01m4.49 0h.01m3.99 0h.01m4.49 0h.01m0.49 0h.01m1.99 0h.01m1.49 0h.01m1.49 0h.01m2.89 0h.01m0.99 0h.01m2.49 0h.01m5.49 0h.01m1.99 0h.01m1.99 0h.01m2.99 0h.01m0.49 0h.01m1.99 0h.01m2.49 0h.01m1.99 0h.01m5.39 0h.01m2.49 0h.01m8.99 0h.01m0.99 0h.01m3.99 0h.01m0.99 0h.01m0.49 0h.01m1.49 0h.01m4.89 0h.01m12.99 0h.01m0.99 0h.01m0.99 0h.01m1.99 0h.01m2.89 0h.01m2.99 0h.01m1.49 0h.01m2.49 0h.01m3.49 0h.01m1.99 0h.01m2.49 0h.01m0.49 0h.01m1.99 0h.01m0.49 0h.01m2.99 0h.01m2.49 0h.01m2.39 0h.01m8.49 0h.01m8.49 0h.01m0.99 0h.01m3.49 0h.01m7.39 0h.01m0.49 0h.01m3.49 0h.01m10.49 0h.01m0.49 0h.01m2.99 0h.01m5.39 0h.01m0.99 0h.01m0.49 0h.01m6.49 0h.01m3.49 0h.01m3.49 0h.01m0.49 0h.01m0.49 0h.01m5.89 0h.01m0.99 0h.01m3.49 0h.01m1.49 0h.01m0.99 0h.01m0.99 0h.01m0.99 0h.01m2.49 0h.01m1.49 0h.01m3.49 0h.01m0.49 0h.01m1.49 0h.01m0.99 0h.01m1.49 0h.01m1.39 0h.01m3.49 0h.01m5.49 0h.01m6.99 0h.01m1.49 0h.01m1.99 0h.01m0.49 0h.01m0.49 0h.01m5.39 0h.01m4.49 0h.01m0.99 0h.01m1.99 0h.01m0.49 0h.01m1.99 0h.01m3.49 0h.01m3.49 0h.01m0.99 0h.01m0.49 0h.01m0.49 0h.01m1.49 0h.01m1.99 0h.01m1.39 0h.01m2.49 0h.01m0.49 0h.01m0.49 0h.01m3.49 0h.01m2.49 0h.01m3.49 0h.01m0.49 0h.01m1.49 0h.01m3.99 0h.01m1.49 0h.01m2.99 0h.01m1.39 0h.01m0.99 0h.01m0.49 0h.01m1.99 0h.01m2.49 0h.01m1.99 0h.01m0.49 0h.01m1.49 0h.01m1.49 0h.01m0.99 0h.01m0.49 0h.01m0.99 0h.01m0.49 0h.01m0.99 0h.01m0.99 0h.01m0.49 0h.01m2.49 0h.01m0.49 0h.01m0.99 0h.01m2.39 0h.01m0.99 0h.01m0.49 0h.01m0.49 0h.01m0.99 0h.01m0.49 0h.01m5.99 0h.01m0.49 0h.01m2.49 0h.01m0.49 0h.01m2.49 0h.01M80 172.4h.01m2.99 0h.01m8.39 0h.01m1.49 0h.01m0.99 0h.01m0.49 0h.01m3.99 0h.01m1.49 0h.01m3.99 0h.01m10.39 0h.01m0.49 0h.01m0.99 0h.01m4.49 0h.01m3.99 0h.01m0.99 0h.01m2.99 0h.01m0.99 0h.01m10.89 0h.01m0.99 0h.01m7.99 0h.01m2.49 0h.01m2.99 0h.01m1.49 0h.01m3.89 0h.01m7.99 0h.01m5.49 0h.01m6.49 0h.01m15.39 0h.01m0.49 0h.01m6.49 0h.01m0.49 0h.01m1.49 0h.01m4.89 0h.01m2.49 0h.01m3.99 0h.01m0.99 0h.01m2.99 0h.01m4.49 0h.01m0.49 0h.01m4.99 0h.01m0.99 0h.01m4.89 0h.01m5.99 0h.01m9.99 0h.01m1.49 0h.01m2.99 0h.01m0.99 0h.01m2.39 0h.01m2.49 0h.01m1.49 0h.01m0.99 0h.01m0.99 0h.01m2.99 0h.01m4.49 0h.01m2.99 0h.01m1.49 0h.01m2.99 0h.01m0.99 0h.01m2.39 0h.01m3.99 0h.01m7.49 0h.01m0.99 0h.01m4.49 0h.01m5.99 0h.01m0.89 0h.01m1.49 0h.01m0.49 0h.01m0.49 0h.01m6.49 0h.01m0.99 0h.01m0.99 0h.01m3.49 0h.01m10.39 0h.01m4.99 0h.01m0.99 0h.01m4.99 0h.01m0.49 0h.01m0.49 0h.01m2.99 0h.01m3.49 0h.01m0.49 0h.01m7.39 0h.01m2.49 0h.01m0.99 0h.01m0.99 0h.01m3.49 0h.01m0.99 0h.01m10.99 0h.01m3.39 0h.01m4.99 0h.01m0.49 0h.01m8.49 0h.01m10.39 0h.01m3.49 0h.01m0.49 0h.01m2.99 0h.01m2.49 0h.01m0.49 0h.01m1.49 0h.01m8.49 0h.01m3.39 0h.01m0.99 0h.01m2.49 0h.01m2.49 0h.01m3.49 0h.01m3.49 0h.01m1.99 0h.01m3.99 0h.01m2.99 0h.01m4.89 0h.01m2.49 0h.01m0.49 0h.01m2.49 0h.01m0.49 0h.01m4.99 0h.01m12.89 0h.01m2.49 0h.01m0.49 0h.01m4.99 0h.01m9.99 0h.01m1.99 0h.01m0.99 0h.01m2.89 0h.01m1.99 0h.01m3.49 0h.01m5.49 0h.01m19.39 0h.01m4.49 0h.01m0.49 0h.01m4.99 0h.01m7.39 0h.01m6.49 0h.01m8.99 0h.01m0.99 0h.01M81 168.9h.01m0.49 0h.01m1.99 0h.01m3.89 0h.01m0.49 0h.01m0.49 0h.01m1.99 0h.01m0.99 0h.01m6.99 0h.01m1.99 0h.01m4.49 0h.01m2.49 0h.01m0.49 0h.01m1.49 0h.01m0.99 0h.01m2.39 0h.01m0.49 0h.01m2.49 0h.01m0.49 0h.01m1.49 0h.01m0.49 0h.01m1.49 0h.01m0.49 0h.01m1.49 0h.01m0.99 0h.01m3.99 0h.01m0.99 0h.01m2.99 0h.01m1.49 0h.01m0.99 0h.01m1.99 0h.01m3.89 0h.01m0.99 0h.01m0.49 0h.01m1.49 0h.01m1.49 0h.01m3.99 0h.01m2.49 0h.01m1.49 0h.01m3.49 0h.01m2.99 0h.01m5.89 0h.01m1.49 0h.01m3.49 0h.01m0.99 0h.01m0.49 0h.01m0.49 0h.01m1.49 0h.01m2.99 0h.01m2.49 0h.01m0.99 0h.01m0.49 0h.01m2.49 0h.01m2.39 0h.01m2.49 0h.01m0.49 0h.01m1.99 0h.01m2.99 0h.01m0.99 0h.01m0.49 0h.01m2.49 0h.01m2.49 0h.01m3.49 0h.01m4.99 0h.01m0.49 0h.01m1.89 0h.01m3.49 0h.01m1.49 0h.01m0.49 0h.01m0.99 0h.01m1.49 0h.01m1.49 0h.01m1.49 0h.01m1.49 0h.01m0.49 0h.01m1.99 0h.01m1.49 0h.01m2.99 0h.01m1.49 0h.01m1.99 0h.01m7.39 0h.01m1.99 0h.01m2.49 0h.01m0.99 0h.01m3.49 0h.01m0.49 0h.01m0.99 0h.01m1.99 0h.01m0.49 0h.01m0.99 0h.01m0.99 0h.01m1.99 0h.01m1.89 0h.01m0.49 0h.01m1.99 0h.01m4.99 0h.01m0.49 0h.01m0.49 0h.01m1.49 0h.01m3.99 0h.01m2.49 0h.01m0.49 0h.01m1.49 0h.01m3.99 0h.01m2.89 0h.01m1.49 0h.01m1.49 0h.01m0.99 0h.01m3.49 0h.01m1.49 0h.01m0.49 0h.01m0.99 0h.01m4.99 0h.01m1.99 0h.01m0.99 0h.01m0.49 0h.01m6.39 0h.01m1.49 0h.01m0.49 0h.01m1.99 0h.01m0.99 0h.01m0.49 0h.01m0.49 0h.01m2.49 0h.01m2.99 0h.01m1.49 0h.01m6.49 0h.01m0.49 0h.01m0.49 0h.01m0.49 0h.01m4.39 0h.01m0.99 0h.01m1.49 0h.01m0.99 0h.01m0.49 0h.01m3.99 0h.01m0.99 0h.01m0.49 0h.01m0.99 0h.01m0.49 0h.01m0.99 0h.01m1.49 0h.01m0.99 0h.01m0.49 0h.01m2.99 0h.01m2.89 0h.01m0.99 0h.01m1.99 0h.01m1.49 0h.01m3.99 0h.01m6.49 0h.01m4.49 0h.01m0.49 0h.01m0.49 0h.01m1.49 0h.01m4.39 0h.01m6.99 0h.01m4.99 0h.01m0.49 0h.01m4.99 0h.01m4.99 0h.01m1.39 0h.01m0.49 0h.01m0.49 0h.01m4.99 0h.01m2.49 0h.01m0.49 0h.01m1.49 0h.01m0.49 0h.01m0.99 0h.01m0.99 0h.01m0.49 0h.01m5.99 0h.01m2.49 0h.01m0.99 0h.01m0.89 0h.01m5.49 0h.01m0.99 0h.01m1.49 0h.01m1.99 0h.01m1.49 0h.01m1.49 0h.01m1.99 0h.01m1.49 0h.01m0.99 0h.01m1.49 0h.01m3.49 0h.01m0.99 0h.01m5.39 0h.01m3.99 0h.01m4.49 0h.01m1.99 0h.01m2.99 0h.01m1.99 0h.01m1.49 0h.01m3.89 0h.01m2.99 0h.01m3.49 0h.01m1.99 0h.01m0.99 0h.01m1.49 0h.01m1.49 0h.01m5.49 0h.01m0.49 0h.01m0.49 0h.01m0.49 0h.01m0.49 0h.01m1.99 0h.01m1.39 0h.01m2.99 0h.01m0.49 0h.01m1.99 0h.01m3.49 0h.01m2.49 0h.01m0.49 0h.01m6.99 0h.01m4.99 0h.01m2.39 0h.01m1.99 0h.01m2.49 0h.01m0.99 0h.01m0.49 0h.01m0.99 0h.01m1.49 0h.01m2.99 0h.01m0.49 0h.01m1.49 0h.01m2.99 0h.01m2.49 0h.01m10.89 0h.01m2.49 0h.01m1.49 0h.01m3.49 0h.01m0.99 0h.01m0.99 0h.01m0.99 0h.01m0.49 0h.01m0.49 0h.01m0.49 0h.01M93.9 165.4h.01m22.89 0h.01m3.99 0h.01m1.99 0h.01m2.99 0h.01m1.49 0h.01m4.49 0h.01m2.49 0h.01m2.39 0h.01m1.49 0h.01m15.49 0h.01m10.89 0h.01m0.99 0h.01m8.49 0h.01m4.99 0h.01m5.39 0h.01m1.99 0h.01m0.99 0h.01m2.49 0h.01m0.99 0h.01m0.99 0h.01m1.99 0h.01m0.49 0h.01m1.99 0h.01m8.49 0h.01m0.99 0h.01m7.89 0h.01m9.49 0h.01m14.39 0h.01m5.99 0h.01m2.49 0h.01m2.99 0h.01m1.99 0h.01m19.39 0h.01m1.99 0h.01m11.39 0h.01m3.49 0h.01m19.89 0h.01m8.49 0h.01m9.99 0h.01m8.89 0h.01m3.49 0h.01m0.99 0h.01m2.49 0h.01m5.49 0h.01m4.49 0h.01m2.49 0h.01m0.49 0h.01m6.39 0h.01m14.99 0h.01m8.39 0h.01m6.49 0h.01m13.99 0h.01m5.39 0h.01m11.49 0h.01m7.49 0h.01m15.39 0h.01m7.49 0h.01m7.39 0h.01m5.99 0h.01m3.49 0h.01m2.49 0h.01m3.99 0h.01m0.49 0h.01m1.49 0h.01m0.89 0h.01m8.99 0h.01m5.49 0h.01m2.99 0h.01m0.49 0h.01m3.99 0h.01m0.49 0h.01m2.89 0h.01m0.99 0h.01m3.49 0h.01m21.89 0h.01m0.99 0h.01m2.99 0h.01m0.99 0h.01m0.99 0h.01m5.99 0h.01m5.49 0h.01m4.89 0h.01m6.49 0h.01m5.99 0h.01m0.49 0h.01m4.49 0h.01M86.4 161.9h.01m6.99 0h.01m3.49 0h.01m6.99 0h.01m2.99 0h.01m0.49 0h.01m7.89 0h.01m15.99 0h.01m9.89 0h.01m2.49 0h.01m6.49 0h.01m1.99 0h.01m1.99 0h.01m0.49 0h.01m0.99 0h.01m3.99 0h.01m0.39 0h.01m10.49 0h.01m1.99 0h.01m3.99 0h.01m3.99 0h.01m9.89 0h.01m1.99 0h.01m1.49 0h.01m5.49 0h.01m0.49 0h.01m0.99 0h.01m7.49 0h.01m6.89 0h.01m0.49 0h.01m2.49 0h.01m4.49 0h.01m1.99 0h.01m5.49 0h.01m4.89 0h.01m10.99 0h.01m1.49 0h.01m6.49 0h.01m3.49 0h.01m2.89 0h.01m2.49 0h.01m0.49 0h.01m0.99 0h.01m9.49 0h.01m0.49 0h.01m1.99 0h.01m0.49 0h.01m11.89 0h.01m1.49 0h.01m5.99 0h.01m3.49 0h.01m8.89 0h.01m3.99 0h.01m11.99 0h.01m2.99 0h.01m10.89 0h.01m10.99 0h.01m6.39 0h.01m1.49 0h.01m7.49 0h.01m0.99 0h.01m4.99 0h.01m0.49 0h.01m13.39 0h.01m0.49 0h.01m2.99 0h.01m5.49 0h.01m5.99 0h.01m1.49 0h.01m20.39 0h.01m0.49 0h.01m8.89 0h.01m1.49 0h.01m20.49 0h.01m5.89 0h.01m16.99 0h.01m3.39 0h.01m11.99 0h.01m3.99 0h.01m0.49 0h.01m14.39 0h.01m3.49 0h.01m0.49 0h.01m2.99 0h.01m3.49 0h.01m7.39 0h.01m3.49 0h.01m10.49 0h.01m0.49 0h.01m6.49 0h.01m0.99 0h.01m3.89 0h.01m4.99 0h.01m11.49 0h.01M79.5 158.4h.01m16.89 0h.01m8.49 0h.01m1.49 0h.01m4.89 0h.01m6.49 0h.01m14.49 0h.01m5.39 0h.01m7.49 0h.01m5.99 0h.01m3.99 0h.01m10.89 0h.01m14.49 0h.01m16.89 0h.01m6.99 0h.01m0.49 0h.01m6.89 0h.01m1.49 0h.01m8.49 0h.01m8.49 0h.01m2.99 0h.01m6.89 0h.01m1.49 0h.01m13.99 0h.01m14.39 0h.01m1.99 0h.01m0.49 0h.01m4.49 0h.01m5.89 0h.01m12.49 0h.01m5.49 0h.01m8.39 0h.01m20.99 0h.01m9.39 0h.01m12.99 0h.01m10.89 0h.01m1.49 0h.01m5.49 0h.01m3.99 0h.01m6.39 0h.01m20.99 0h.01m0.49 0h.01m21.89 0h.01m4.49 0h.01m1.89 0h.01m15.99 0h.01m2.49 0h.01m5.89 0h.01m0.49 0h.01m8.49 0h.01m2.99 0h.01m11.39 0h.01m2.99 0h.01m31.89 0h.01m11.99 0h.01m7.39 0h.01m0.49 0h.01m1.49 0h.01m3.99 0h.01m2.99 0h.01m19.89 0h.01m8.49 0h.01m0.99 0h.01M97.9 154.9h.01m14.89 0h.01m18.99 0h.01m29.29 0h.01m8.49 0h.01m2.49 0h.01m1.49 0h.01m12.89 0h.01m2.99 0h.01m16.49 0h.01m27.39 0h.01m12.39 0h.01m3.49 0h.01m14.39 0h.01m0.49 0h.01m2.49 0h.01m0.49 0h.01m14.49 0h.01m11.89 0h.01m4.99 0h.01m4.99 0h.01m29.29 0h.01m1.99 0h.01m4.99 0h.01m0.49 0h.01m18.89 0h.01m0.99 0h.01m13.99 0h.01m6.89 0h.01m3.49 0h.01m8.99 0h.01m0.99 0h.01m2.99 0h.01m23.89 0h.01m7.49 0h.01m2.89 0h.01m5.99 0h.01m11.49 0h.01m4.49 0h.01m11.39 0h.01m2.99 0h.01m12.89 0h.01m20.49 0h.01m3.89 0h.01m5.99 0h.01m9.49 0h.01m4.99 0h.01m0.49 0h.01m0.49 0h.01m25.29 0h.01m9.49 0h.01M79.5 151.4h.01m1.49 0h.01m3.99 0h.01m2.39 0h.01m0.99 0h.01m2.99 0h.01m1.49 0h.01m0.49 0h.01m0.99 0h.01m5.49 0h.01m1.99 0h.01m3.49 0h.01m1.99 0h.01m1.49 0h.01m1.49 0h.01m2.39 0h.01m1.99 0h.01m0.49 0h.01m0.49 0h.01m4.49 0h.01m0.99 0h.01m0.49 0h.01m1.99 0h.01m7.49 0h.01m14.89 0h.01m0.49 0h.01m4.99 0h.01m0.99 0h.01m1.99 0h.01m1.99 0h.01m1.99 0h.01m3.39 0h.01m7.49 0h.01m2.99 0h.01m1.99 0h.01m0.99 0h.01m0.99 0h.01m0.99 0h.01m2.99 0h.01m0.99 0h.01m0.49 0h.01m0.49 0h.01m1.49 0h.01m1.89 0h.01m3.49 0h.01m12.49 0h.01m3.49 0h.01m2.99 0h.01m10.89 0h.01m6.49 0h.01m15.89 0h.01m1.49 0h.01m8.49 0h.01m2.99 0h.01m5.39 0h.01m6.99 0h.01m5.49 0h.01m1.49 0h.01m5.99 0h.01m0.49 0h.01m2.89 0h.01m4.99 0h.01m2.49 0h.01m3.49 0h.01m0.49 0h.01m1.99 0h.01m6.99 0h.01m2.99 0h.01m0.89 0h.01m15.99 0h.01m0.49 0h.01m0.49 0h.01m1.99 0h.01m4.49 0h.01m4.89 0h.01m5.99 0h.01m0.99 0h.01m2.49 0h.01m0.99 0h.01m0.99 0h.01m3.99 0h.01m1.99 0h.01m1.49 0h.01m0.89 0h.01m2.49 0h.01m0.49 0h.01m0.99 0h.01m2.49 0h.01m0.99 0h.01m1.99 0h.01m2.99 0h.01m5.49 0h.01m0.49 0h.01m0.99 0h.01m0.99 0h.01m0.49 0h.01m0.49 0h.01m4.89 0h.01m0.49 0h.01m1.49 0h.01m3.49 0h.01m4.99 0h.01m4.49 0h.01m1.99 0h.01m5.89 0h.01m1.99 0h.01m2.49 0h.01m0.99 0h.01m4.99 0h.01m3.99 0h.01m0.49 0h.01m1.49 0h.01m0.49 0h.01m1.99 0h.01m0.49 0h.01m1.49 0h.01m2.49 0h.01m3.39 0h.01m0.49 0h.01m4.49 0h.01m1.49 0h.01m1.49 0h.01m0.49 0h.01m0.99 0h.01m1.99 0h.01m0.99 0h.01m0.99 0h.01m0.99 0h.01m3.99 0h.01m0.99 0h.01m5.89 0h.01m10.49 0h.01m4.99 0h.01m0.49 0h.01m0.49 0h.01m4.39 0h.01m1.99 0h.01m0.49 0h.01m7.49 0h.01m4.99 0h.01m1.99 0h.01m3.49 0h.01m0.49 0h.01m4.89 0h.01m5.49 0h.01m1.49 0h.01m0.99 0h.01m1.49 0h.01m0.49 0h.01m4.99 0h.01m0.49 0h.01m0.99 0h.01m1.99 0h.01m1.99 0h.01m2.49 0h.01m0.39 0h.01m1.99 0h.01m2.99 0h.01m0.49 0h.01m1.49 0h.01m2.99 0h.01m0.49 0h.01m1.99 0h.01m1.99 0h.01m2.49 0h.01m6.49 0h.01m0.49 0h.01m0.39 0h.01m0.99 0h.01m0.99 0h.01m1.49 0h.01m0.99 0h.01m0.99 0h.01m1.49 0h.01m1.49 0h.01m2.99 0h.01m0.49 0h.01m5.49 0h.01m0.49 0h.01M81.5 147.9h.01m3.49 0h.01m24.39 0h.01m17.39 0h.01m3.99 0h.01m8.39 0h.01m3.99 0h.01m5.99 0h.01m13.39 0h.01m6.49 0h.01m7.99 0h.01m1.49 0h.01m2.49 0h.01m35.79 0h.01m17.89 0h.01m32.89 0h.01m17.89 0h.01m20.99 0h.01m28.29 0h.01m0.99 0h.01m0.99 0h.01m1.99 0h.01m0.49 0h.01m6.49 0h.01m8.99 0h.01m5.89 0h.01m37.39 0h.01m4.49 0h.01m3.89 0h.01m7.99 0h.01m2.49 0h.01m5.49 0h.01m2.99 0h.01m2.49 0h.01m5.39 0h.01m15.99 0h.01m4.49 0h.01m1.39 0h.01m32.39 0h.01m5.49 0h.01m6.99 0h.01m7.39 0h.01m2.99 0h.01m19.39 0h.01m5.49 0h.01m2.99 0h.01m2.99 0h.01m8.49 0h.01m12.39 0h.01m8.99 0h.01M80.5 144.5h.01m0.49 0h.01m1.99 0h.01m1.49 0h.01m2.39 0h.01m0.49 0h.01m0.99 0h.01m4.99 0h.01m0.49 0h.01m1.49 0h.01m2.99 0h.01m1.49 0h.01m0.49 0h.01m1.49 0h.01m0.99 0h.01m1.99 0h.01m0.99 0h.01m0.99 0h.01m0.49 0h.01m2.99 0h.01m1.89 0h.01m1.49 0h.01m3.49 0h.01m1.49 0h.01m1.99 0h.01m0.99 0h.01m1.49 0h.01m4.99 0h.01m0.49 0h.01m1.99 0h.01m0.49 0h.01m0.49 0h.01m0.49 0h.01m7.89 0h.01m2.49 0h.01m1.99 0h.01m0.49 0h.01m1.99 0h.01m1.49 0h.01m1.99 0h.01m1.49 0h.01m0.99 0h.01m1.99 0h.01m0.99 0h.01m0.49 0h.01m1.49 0h.01m0.49 0h.01m0.99 0h.01m0.89 0h.01m2.49 0h.01m5.99 0h.01m3.49 0h.01m0.99 0h.01m0.99 0h.01m1.49 0h.01m1.49 0h.01m4.49 0h.01m2.39 0h.01m1.99 0h.01m0.99 0h.01m0.49 0h.01m0.99 0h.01m2.49 0h.01m6.49 0h.01m0.99 0h.01m0.49 0h.01m2.49 0h.01m6.49 0h.01m2.39 0h.01m6.49 0h.01m0.49 0h.01m2.49 0h.01m2.99 0h.01m0.49 0h.01m3.49 0h.01m2.49 0h.01m1.99 0h.01m2.39 0h.01m0.99 0h.01m0.99 0h.01m0.49 0h.01m4.49 0h.01m0.49 0h.01m0.49 0h.01m4.99 0h.01m4.49 0h.01m4.49 0h.01m2.89 0h.01m0.49 0h.01m1.99 0h.01m5.49 0h.01m0.99 0h.01m1.49 0h.01m0.49 0h.01m2.49 0h.01m2.49 0h.01m0.49 0h.01m1.99 0h.01m0.99 0h.01m0.49 0h.01m0.49 0h.01m10.89 0h.01m1.99 0h.01m3.99 0h.01m0.49 0h.01m1.49 0h.01m0.49 0h.01m0.49 0h.01m2.49 0h.01m2.99 0h.01m1.49 0h.01m0.49 0h.01m0.39 0h.01m3.49 0h.01m3.49 0h.01m2.49 0h.01m3.49 0h.01m0.49 0h.01m0.49 0h.01m1.99 0h.01m1.99 0h.01m0.99 0h.01m0.99 0h.01m11.89 0h.01m0.49 0h.01m2.99 0h.01m4.49 0h.01m3.49 0h.01m2.49 0h.01m0.49 0h.01m3.89 0h.01m2.49 0h.01m0.49 0h.01m3.49 0h.01m1.99 0h.01m1.99 0h.01m1.49 0h.01m1.49 0h.01m1.99 0h.01m0.99 0h.01m0.99 0h.01m2.49 0h.01m0.49 0h.01m2.39 0h.01m9.49 0h.01m1.99 0h.01m0.99 0h.01m6.49 0h.01m2.49 0h.01m6.89 0h.01m1.49 0h.01m1.49 0h.01m11.99 0h.01m3.49 0h.01m4.89 0h.01m0.49 0h.01m1.49 0h.01m5.99 0h.01m2.99 0h.01m0.49 0h.01m0.99 0h.01m0.49 0h.01m2.49 0h.01m1.49 0h.01m4.49 0h.01m0.89 0h.01m2.99 0h.01m3.49 0h.01m2.99 0h.01m1.49 0h.01m0.49 0h.01m0.49 0h.01m1.49 0h.01m1.99 0h.01m2.99 0h.01m1.49 0h.01m0.49 0h.01m1.49 0h.01m0.49 0h.01m0.99 0h.01m3.89 0h.01m11.49 0h.01m3.99 0h.01m1.99 0h.01m0.49 0h.01m3.89 0h.01m3.49 0h.01m7.49 0h.01m2.99 0h.01m3.49 0h.01m0.49 0h.01m1.49 0h.01m0.99 0h.01m3.39 0h.01m2.99 0h.01m0.49 0h.01m2.49 0h.01m0.99 0h.01m3.99 0h.01m2.99 0h.01m0.99 0h.01m5.99 0h.01m6.39 0h.01m2.49 0h.01m2.99 0h.01m2.49 0h.01m0.99 0h.01m0.49 0h.01m3.49 0h.01M97.9 141h.01m16.89 0h.01m4.99 0h.01m19.89 0h.01m6.49 0h.01m16.89 0h.01m3.49 0h.01m16.99 0h.01m31.29 0h.01m20.89 0h.01m29.39 0h.01m2.99 0h.01m12.49 0h.01m4.39 0h.01m6.49 0h.01m15.89 0h.01m14.49 0h.01m31.39 0h.01m11.89 0h.01m5.49 0h.01m5.99 0h.01m3.89 0h.01m36.39 0h.01m9.99 0h.01m5.89 0h.01m2.99 0h.01m1.99 0h.01m6.49 0h.01m6.99 0h.01m2.89 0h.01m5.99 0h.01m10.99 0h.01m7.89 0h.01m0.99 0h.01m6.99 0h.01m2.99 0h.01m4.49 0h.01m12.39 0h.01m38.89 0h.01m0.99 0h.01m22.39 0h.01M102.9 137.5h.01m29.39 0h.01m2.99 0h.01m32.29 0h.01m45.29 0h.01m193.69 0h.01m18.99 0h.01m30.79 0h.01m11.99 0h.01m8.49 0h.01m15.39 0h.01m77.69 0h.01M103.4 134h.01m0.99 0h.01m5.99 0h.01m18.89 0h.01m3.99 0h.01m6.89 0h.01m8.99 0h.01m1.49 0h.01m3.49 0h.01m9.89 0h.01m17.99 0h.01m6.89 0h.01m9.99 0h.01m1.99 0h.01m2.99 0h.01m3.49 0h.01m1.39 0h.01m2.49 0h.01m3.99 0h.01m24.39 0h.01m16.99 0h.01m3.89 0h.01m41.89 0h.01m7.39 0h.01m9.49 0h.01m1.49 0h.01m4.49 0h.01m20.39 0h.01m12.39 0h.01m2.99 0h.01m12.99 0h.01m21.89 0h.01m21.39 0h.01m8.49 0h.01m18.39 0h.01m31.39 0h.01m1.99 0h.01m4.39 0h.01m2.49 0h.01m2.99 0h.01m8.99 0h.01m44.29 0h.01M82 130.5h.01m1.99 0h.01m0.99 0h.01m3.89 0h.01m2.49 0h.01m1.99 0h.01m5.49 0h.01m2.99 0h.01m10.39 0h.01m10.49 0h.01m9.99 0h.01m1.99 0h.01m1.89 0h.01m1.49 0h.01m0.49 0h.01m5.99 0h.01m0.99 0h.01m0.99 0h.01m6.99 0h.01m1.49 0h.01m4.49 0h.01m5.89 0h.01m4.99 0h.01m2.49 0h.01m4.49 0h.01m1.99 0h.01m4.49 0h.01m3.89 0h.01m2.49 0h.01m9.99 0h.01m5.99 0h.01m12.89 0h.01m5.99 0h.01m21.89 0h.01m6.99 0h.01m6.89 0h.01m1.49 0h.01m13.49 0h.01m1.49 0h.01m6.89 0h.01m2.49 0h.01m0.49 0h.01m10.49 0h.01m1.99 0h.01m0.99 0h.01m0.99 0h.01m10.39 0h.01m1.49 0h.01m0.99 0h.01m1.49 0h.01m3.99 0h.01m1.99 0h.01m2.99 0h.01m9.89 0h.01m12.99 0h.01m21.89 0h.01m13.39 0h.01m4.49 0h.01m0.49 0h.01m13.99 0h.01m2.89 0h.01m3.99 0h.01m9.49 0h.01m0.49 0h.01m15.39 0h.01m2.49 0h.01m6.49 0h.01m9.99 0h.01m7.39 0h.01m24.39 0h.01m1.49 0h.01m4.49 0h.01m1.49 0h.01m8.49 0h.01m5.39 0h.01m9.99 0h.01m4.49 0h.01m7.39 0h.01m8.99 0h.01m3.49 0h.01m5.49 0h.01m8.89 0h.01m10.99 0h.01m1.49 0h.01M84 127h.01m0.49 0h.01m3.39 0h.01m5.99 0h.01m0.99 0h.01m5.49 0h.01m4.99 0h.01m0.99 0h.01m0.49 0h.01m0.99 0h.01m1.49 0h.01m1.89 0h.01m1.99 0h.01m2.99 0h.01m1.99 0h.01m1.99 0h.01m0.99 0h.01m1.49 0h.01m0.99 0h.01m0.49 0h.01m1.99 0h.01m3.99 0h.01m3.49 0h.01m2.39 0h.01m2.49 0h.01m1.49 0h.01m8.99 0h.01m0.49 0h.01m6.49 0h.01m5.89 0h.01m6.49 0h.01m5.49 0h.01m0.99 0h.01m2.99 0h.01m2.99 0h.01m2.99 0h.01m2.39 0h.01m0.49 0h.01m0.49 0h.01m2.99 0h.01m1.99 0h.01m1.49 0h.01m1.49 0h.01m1.99 0h.01m1.49 0h.01m1.49 0h.01m0.99 0h.01m0.49 0h.01m0.49 0h.01m8.39 0h.01m1.49 0h.01m0.49 0h.01m1.49 0h.01m0.99 0h.01m2.49 0h.01m0.49 0h.01m2.49 0h.01m3.99 0h.01m0.49 0h.01m0.99 0h.01m3.49 0h.01m0.49 0h.01m8.39 0h.01m0.49 0h.01m1.49 0h.01m3.99 0h.01m8.49 0h.01m5.89 0h.01m3.49 0h.01m7.99 0h.01m0.49 0h.01m1.99 0h.01m5.49 0h.01m1.99 0h.01m4.39 0h.01m2.99 0h.01m2.49 0h.01m0.99 0h.01m0.49 0h.01m3.49 0h.01m5.49 0h.01m1.99 0h.01m2.49 0h.01m0.49 0h.01m0.49 0h.01m0.49 0h.01m0.39 0h.01m0.99 0h.01m2.99 0h.01m3.99 0h.01m0.99 0h.01m0.99 0h.01m3.99 0h.01m1.49 0h.01m4.49 0h.01m0.99 0h.01m6.89 0h.01m2.99 0h.01m1.99 0h.01m0.99 0h.01m0.49 0h.01m0.49 0h.01m3.99 0h.01m0.49 0h.01m7.99 0h.01m0.49 0h.01m2.39 0h.01m4.99 0h.01m3.99 0h.01m5.49 0h.01m3.49 0h.01m6.89 0h.01m0.99 0h.01m2.99 0h.01m0.99 0h.01m2.49 0h.01m0.49 0h.01m1.99 0h.01m0.99 0h.01m1.49 0h.01m0.49 0h.01m3.49 0h.01m0.49 0h.01m0.99 0h.01m0.99 0h.01m3.89 0h.01m0.99 0h.01m0.99 0h.01m4.99 0h.01m0.49 0h.01m8.49 0h.01m1.99 0h.01m0.49 0h.01m0.99 0h.01m1.99 0h.01m0.49 0h.01m0.49 0h.01m0.99 0h.01m0.49 0h.01m3.89 0h.01m14.49 0h.01m0.49 0h.01m1.99 0h.01m4.89 0h.01m3.49 0h.01m1.99 0h.01m0.49 0h.01m2.49 0h.01m0.99 0h.01m1.99 0h.01m0.49 0h.01m0.99 0h.01m1.49 0h.01m0.99 0h.01m7.89 0h.01m11.99 0h.01m9.99 0h.01m0.49 0h.01m0.49 0h.01m2.89 0h.01m1.99 0h.01m0.49 0h.01m0.49 0h.01m0.99 0h.01m0.49 0h.01m5.99 0h.01m1.99 0h.01m0.49 0h.01m2.99 0h.01m7.39 0h.01m1.99 0h.01m1.99 0h.01m4.99 0h.01m1.49 0h.01m0.49 0h.01m4.49 0h.01m1.49 0h.01m8.39 0h.01m0.49 0h.01m0.99 0h.01m1.49 0h.01m2.49 0h.01m3.49 0h.01m6.99 0h.01M87.4 123.5h.01m1.99 0h.01m22.89 0h.01m7.99 0h.01m0.99 0h.01m4.49 0h.01m7.99 0h.01m1.89 0h.01m1.99 0h.01m11.99 0h.01m0.49 0h.01m0.99 0h.01m10.89 0h.01m7.49 0h.01m8.49 0h.01m2.49 0h.01m9.39 0h.01m3.99 0h.01m4.49 0h.01m2.99 0h.01m4.49 0h.01m3.39 0h.01m12.49 0h.01m4.49 0h.01m4.99 0h.01m0.49 0h.01m17.39 0h.01m9.89 0h.01m0.99 0h.01m0.49 0h.01m1.99 0h.01m11.49 0h.01m15.89 0h.01m18.89 0h.01m1.49 0h.01m0.99 0h.01m1.49 0h.01m3.99 0h.01m0.49 0h.01m1.99 0h.01m1.49 0h.01m0.99 0h.01m1.49 0h.01m5.99 0h.01m0.49 0h.01m0.49 0h.01m13.39 0h.01m11.99 0h.01m16.89 0h.01m8.39 0h.01m0.49 0h.01m3.99 0h.01m6.49 0h.01m14.39 0h.01m0.99 0h.01m2.99 0h.01m4.49 0h.01m2.49 0h.01m20.39 0h.01m2.99 0h.01m5.99 0h.01m4.49 0h.01m9.89 0h.01m13.49 0h.01m8.39 0h.01m2.99 0h.01m4.99 0h.01m2.49 0h.01m2.49 0h.01m3.49 0h.01m4.39 0h.01m2.99 0h.01m1.99 0h.01m5.49 0h.01m7.49 0h.01m4.49 0h.01m1.39 0h.01m0.99 0h.01m4.49 0h.01m0.49 0h.01m6.99 0h.01m14.39 0h.01m2.99 0h.01m0.99 0h.01M105.9 120h.01M122.8 116.5h.01m94.09 0h.01m12.99 0h.01m1.49 0h.01m16.39 0h.01m54.29 0h.01m2.99 0h.01m7.39 0h.01m161.89 0h.01m57.69 0h.01m18.49 0h.01m5.89 0h.01M82.5 113h.01m60.69 0h.01m30.39 0h.01m9.99 0h.01m149.79 0h.01m43.39 0h.01m10.39 0h.01m36.39 0h.01m56.19 0h.01m9.49 0h.01m41.79 0h.01m11.49 0h.01M124.8 109.5h.01m51.79 0h.01m77.19 0h.01m28.39 0h.01m3.39 0h.01m3.99 0h.01m19.89 0h.01m40.39 0h.01m21.39 0h.01m9.39 0h.01m4.99 0h.01m183.29 0h.01M79 106h.01m0.49 0h.01m2.99 0h.01m2.49 0h.01m0.49 0h.01m0.89 0h.01m3.99 0h.01m0.49 0h.01m0.99 0h.01m2.99 0h.01m1.49 0h.01m0.99 0h.01m5.49 0h.01m3.49 0h.01m2.99 0h.01m1.39 0h.01m0.99 0h.01m5.99 0h.01m1.49 0h.01m3.49 0h.01m6.99 0h.01m0.99 0h.01m0.99 0h.01m0.49 0h.01m1.99 0h.01m0.99 0h.01m0.39 0h.01m0.49 0h.01m0.49 0h.01m1.49 0h.01m0.49 0h.01m0.99 0h.01m1.49 0h.01m2.99 0h.01m2.99 0h.01m0.99 0h.01m1.99 0h.01m0.99 0h.01m0.99 0h.01m1.49 0h.01m0.99 0h.01m3.49 0h.01m1.49 0h.01m2.39 0h.01m2.99 0h.01m7.49 0h.01m0.49 0h.01m0.99 0h.01m4.99 0h.01m1.99 0h.01m0.49 0h.01m3.89 0h.01m1.99 0h.01m1.49 0h.01m1.99 0h.01m0.99 0h.01m2.99 0h.01m0.99 0h.01m10.99 0h.01m9.39 0h.01m2.49 0h.01m3.99 0h.01m0.49 0h.01m0.49 0h.01m2.49 0h.01m0.99 0h.01m1.99 0h.01m1.99 0h.01m1.49 0h.01m2.39 0h.01m1.99 0h.01m8.49 0h.01m4.49 0h.01m0.49 0h.01m1.99 0h.01m0.49 0h.01m0.49 0h.01m7.39 0h.01m1.49 0h.01m6.49 0h.01m5.99 0h.01m9.89 0h.01m6.49 0h.01m3.99 0h.01m4.99 0h.01m3.99 0h.01m1.99 0h.01m0.89 0h.01m2.99 0h.01m1.49 0h.01m0.49 0h.01m2.99 0h.01m1.49 0h.01m1.99 0h.01m1.99 0h.01m0.99 0h.01m0.49 0h.01m0.99 0h.01m2.49 0h.01m0.49 0h.01m0.99 0h.01m0.99 0h.01m0.99 0h.01m1.99 0h.01m3.89 0h.01m4.99 0h.01m0.99 0h.01m5.49 0h.01m12.89 0h.01m10.99 0h.01m4.49 0h.01m1.99 0h.01m4.39 0h.01m0.49 0h.01m1.49 0h.01m4.99 0h.01m3.99 0h.01m5.99 0h.01m2.49 0h.01m3.99 0h.01m0.89 0h.01m3.49 0h.01m1.49 0h.01m0.99 0h.01m3.49 0h.01m0.49 0h.01m0.49 0h.01m3.99 0h.01m5.99 0h.01m0.49 0h.01m2.49 0h.01m3.89 0h.01m1.49 0h.01m1.99 0h.01m2.49 0h.01m7.49 0h.01m7.39 0h.01m1.99 0h.01m7.49 0h.01m1.99 0h.01m3.49 0h.01m0.49 0h.01m0.49 0h.01m2.49 0h.01m7.39 0h.01m0.99 0h.01m6.99 0h.01m1.99 0h.01m0.99 0h.01m3.49 0h.01m2.49 0h.01m2.99 0h.01m0.49 0h.01m0.49 0h.01m0.49 0h.01m0.49 0h.01m6.89 0h.01m2.49 0h.01m0.49 0h.01m2.49 0h.01m9.99 0h.01m0.99 0h.01m2.89 0h.01m7.49 0h.01m3.49 0h.01m3.49 0h.01m0.99 0h.01m1.49 0h.01m0.49 0h.01m2.99 0h.01m2.99 0h.01m0.39 0h.01m1.49 0h.01m5.99 0h.01m1.49 0h.01m1.99 0h.01m1.49 0h.01m0.49 0h.01m0.99 0h.01m1.49 0h.01M165.6 102.5h.01m90.69 0h.01m94.09 0h.01m167.79 0h.01M107.9 92h.01m53.19 0h.01m86.19 0h.01m19.39 0h.01m26.39 0h.01m152.39 0h.01M90.4 88.5h.01m9.99 0h.01m1.49 0h.01m1.49 0h.01m19.89 0h.01m18.89 0h.01m14.99 0h.01m0.99 0h.01m0.99 0h.01m6.39 0h.01m5.49 0h.01m6.99 0h.01m8.39 0h.01m2.99 0h.01m12.49 0h.01m0.49 0h.01m4.99 0h.01m7.89 0h.01m4.49 0h.01m6.49 0h.01m2.49 0h.01m2.99 0h.01m2.89 0h.01m1.99 0h.01m0.99 0h.01m4.99 0h.01m5.49 0h.01m6.99 0h.01m8.39 0h.01m3.49 0h.01m8.99 0h.01m5.99 0h.01m0.89 0h.01m11.99 0h.01m3.99 0h.01m1.99 0h.01m21.39 0h.01m20.39 0h.01m2.99 0h.01m9.49 0h.01m3.39 0h.01m9.49 0h.01m4.99 0h.01m15.39 0h.01m5.99 0h.01m11.89 0h.01m0.49 0h.01m0.49 0h.01m8.99 0h.01m1.49 0h.01m2.49 0h.01m1.49 0h.01m6.99 0h.01m4.89 0h.01m3.99 0h.01m0.99 0h.01m3.99 0h.01m1.49 0h.01m1.99 0h.01m2.49 0h.01m0.99 0h.01m2.49 0h.01m7.39 0h.01m1.99 0h.01m6.99 0h.01m8.99 0h.01m0.49 0h.01m0.39 0h.01m9.49 0h.01m2.49 0h.01m0.49 0h.01m0.99 0h.01m1.99 0h.01m11.39 0h.01m5.49 0h.01m11.49 0h.01m7.89 0h.01m10.49 0h.01m7.49 0h.01m4.39 0h.01m3.49 0h.01m6.99 0h.01m7.49 0h.01m0.99 0h.01M94.9 85h.01m1.99 0h.01m26.89 0h.01m10.99 0h.01m32.29 0h.01m2.99 0h.01m11.49 0h.01m13.39 0h.01m13.49 0h.01m0.39 0h.01m22.49 0h.01m7.89 0h.01m7.49 0h.01m10.49 0h.01m11.89 0h.01m2.99 0h.01m15.39 0h.01m16.99 0h.01m18.89 0h.01m0.49 0h.01m1.49 0h.01m0.49 0h.01m4.99 0h.01m3.39 0h.01m12.99 0h.01m2.99 0h.01m4.49 0h.01m9.89 0h.01m14.49 0h.01m1.89 0h.01m10.99 0h.01m2.49 0h.01m70.19 0h.01m6.49 0h.01m1.99 0h.01m1.99 0h.01m20.39 0h.01m0.49 0h.01m36.79 0h.01m7.49 0h.01m16.89 0h.01m10.99 0h.01M79 67.5h.01m13.89 0h.01m6.99 0h.01m1.49 0h.01m23.39 0h.01m13.89 0h.01m15.49 0h.01m21.89 0h.01m27.39 0h.01m18.89 0h.01m40.29 0h.01m1.99 0h.01m7.99 0h.01m2.49 0h.01m10.39 0h.01m5.99 0h.01m71.69 0h.01m4.49 0h.01m32.89 0h.01m17.39 0h.01m79.19 0h.01m1.49 0h.01m21.39 0h.01" fill="none" stroke="#000" stroke-width="1.7" stroke-linecap="round"/>
<rect x="59.76" y="47.81" width="532.43" height="532.43" fill="none" stroke="#000" stroke-width="0.75"/>
<text x="322.98" y="31.9" text-anchor="middle" font-weight="bold" font-size="21.4">Top hit for each peak</text>
<text x="325.98" y="625.5" text-anchor="middle" font-size="15.9">Distance to peak summit</text>
<text transform="translate(21.5,314.02) rotate(-90)" text-anchor="middle" font-size="15.9">Motif score</text>
<path d="M126.29 580.24H524.66M126.29 580.24v5.98M225.88 580.24v5.98M325.48 580.24v5.98M425.07 580.24v5.98M524.66 580.24v5.98" fill="none" stroke="#000" stroke-width="0.75" stroke-linecap="square"/>
<text x="126.39" y="601.7" text-anchor="middle" font-size="10.2">-400</text>
<text x="225.98" y="601.7" text-anchor="middle" font-size="10.2">-200</text>
<text x="325.58" y="601.7" text-anchor="middle" font-size="10.2">0</text>
<text x="425.17" y="601.7" text-anchor="middle" font-size="10.2">200</text>
<text x="524.76" y="601.7" text-anchor="middle" font-size="10.2">400</text>
<path d="M59.76 557.02V67.53M59.76 557.02h-5.98M59.76 487.1h-5.98M59.76 417.17h-5.98M59.76 347.24h-5.98M59.76 277.31h-5.98M59.76 207.39h-5.98M59.76 137.46h-5.98M59.76 67.53h-5.98" fill="none" stroke="#000" stroke-width="0.75" stroke-linecap="square"/>
<text transform="translate(45.4,557.02) rotate(-90)" text-anchor="middle" font-size="10.2">86</text>
<text transform="translate(45.4,487.1) rotate(-90)" text-anchor="middle" font-size="10.2">88</text>
<text transform="translate(45.4,417.17) rotate(-90)" text-anchor="middle" font-size="10.2">90</text>
<text transform="translate(45.4,347.24) rotate(-90)" text-anchor="middle" font-size="10.2">92</text>
<text transform="translate(45.4,277.31) rotate(-90)" text-anchor="middle" font-size="10.2">94</text>
<text transform="translate(45.4,207.39) rotate(-90)" text-anchor="middle" font-size="10.2">96</text>
<text transform="translate(45.4,137.46) rotate(-90)" text-anchor="middle" font-size="10.2">98</text>
<text transform="translate(45.4,67.53) rotate(-90)" text-anchor="middle" font-size="10.2">100</text>
<g clip-path="url(#c1)"><path d="M59.76 361.38H592.19" stroke="#d03030" stroke-width="2.25" stroke-dasharray="9 9" stroke-linecap="round" fill="none"/>
<path d="M324.73 580.24V47.81M326.22 580.24V47.81" stroke="#006400" stroke-width="2.25" stroke-dasharray="9 9" stroke-linecap="round" fill="none"/></g>
<path d="M851.3 47.81V580.24M1048.62 47.81V580.24" stroke="#fff" stroke-width="1" fill="none" opacity="0.9"/>
<g clip-path="url(#c2)"><path d="M699.76 365H1232.19" stroke="#d03030" stroke-width="1.5" stroke-dasharray="6 6" stroke-linecap="round" fill="none"/>
<path d="M964.67 580.24V47.81M966.28 580.24V47.81" stroke="#006400" stroke-width="1.5" stroke-dasharray="6 6" stroke-linecap="round" fill="none"/></g>
<path d="M79 1200.4 80 1200.3 81 1200.3 82 1200.2 83 1200.2 84 1200.2 85 1200.1 86 1200.1 87 1200 88 1200 89 1200 90 1200 91 1199.9 92 1199.9 93 1199.9 94 1199.9 95 1199.9 96 1199.8 97 1199.8 98 1199.8 99 1199.8 100 1199.8 101 1199.8 102 1199.8 103 1199.8 104 1199.8 105 1199.8 106 1199.8 107 1199.9 108 1199.9 109 1199.9 110 1200 111 1200 112 1200 113 1200.1 114 1200.1 115 1200.2 116 1200.2 117 1200.2 118 1200.3 119 1200.3 120 1200.3 121 1200.3 122 1200.3 123 1200.3 124 1200.3 125 1200.3 126 1200.3 127 1200.3 128 1200.3 129 1200.3 130 1200.3 131 1200.3 132 1200.3 133 1200.3 134 1200.3 135 1200.3 136 1200.3 137 1200.3 138 1200.3 139 1200.3 140 1200.3 141 1200.3 142 1200.3 143 1200.3 144 1200.3 145 1200.3 146 1200.2 147 1200.2 148 1200.2 149 1200.2 150 1200.2 151 1200.2 152 1200.2 153 1200.2 154 1200.2 155 1200.2 156 1200.2 157 1200.2 158 1200.2 159 1200.2 160 1200.1 161 1200.1 162 1200.1 163 1200.1 164 1200 165 1200 166 1200 167 1199.9 168 1199.9 169 1199.8 170 1199.8 171 1199.7 172 1199.7 173 1199.7 174 1199.6 175 1199.6 176 1199.5 177 1199.5 178 1199.4 179 1199.3 180 1199.3 181 1199.2 182 1199.1 183 1199.1 184 1199 185 1198.9 186 1198.8 187 1198.7 188 1198.6 189 1198.5 190 1198.4 191 1198.3 192 1198.1 193 1197.9 194 1197.7 195 1197.5 196 1197.3 197 1197.1 198 1196.8 199 1196.6 200 1196.4 201 1196.2 202 1196 203 1195.8 204 1195.5 205 1195.3 206 1195.1 207 1194.9 208 1194.6 209 1194.4 210 1194.2 211 1194 212 1193.8 213 1193.6 214 1193.4 215 1193.2 216 1193 217 1192.8 218 1192.5 219 1192.3 220 1192 221 1191.6 222 1191.2 223 1190.7 224 1190.2 225 1189.6 226 1189 227 1188.3 228 1187.5 229 1186.7 230 1185.9 231 1184.9 232 1184 233 1182.9 234 1181.9 235 1180.7 236 1179.5 237 1178.3 238 1177 239 1175.6 240 1174.2 241 1172.7 242 1171.1 243 1169.6 244 1168 245 1166.4 246 1164.8 247 1163.2 248 1161.6 249 1159.8 250 1157.9 251 1155.9 252 1153.7 253 1151.4 254 1148.9 255 1146.3 256 1143.6 257 1140.8 258 1137.9 259 1135 260 1132 261 1129 262 1126.1 263 1123.2 264 1120.4 265 1117.7 266 1115 267 1112.4 268 1109.9 269 1107.5 270 1105.1 271 1102.8 272 1100.5 273 1098.3 274 1095.9 275 1093.4 276 1090.7 277 1087.9 278 1084.8 279 1081.4 280 1077.8 281 1073.9 282 1069.9 283 1065.9 284 1061.7 285 1057.4 286 1052.9 287 1048.3 288 1043.6 289 1038.8 290 1033.9 291 1029 292 1024 293 1019 294 1014.2 295 1009.5 296 1004.6 297 999.3 298 993 299 985.8 300 977.9 301 969.7 302 961.5 303 953.7 304 946.4 305 939.6 306 933.2 307 927.2 308 921.6 309 916.3 310 911.5 311 907 312 902.8 313 898.7 314 894.6 315 890.3 316 885.8 317 881.1 318 876.1 319 870.9 320 865.5 321 859.7 322 853.6 323 847.2 324 840.7 325 834 326 827.5 327 820.9 328 814.5 329 808.1 330 802 331 795.9 332 790 333 784 334 778.1 335 772.1 336 766 337 759.8 338 753.3 339 746.7 340 740.1 341 733.8 342 727.8 343 722.4 344 717.8 345 714.1 346 711.4 347 709.5 348 708.4 349 708 350 708.5 351 709.6 352 711.2 353 713.3 354 715.6 355 718 356 720.4 357 722.7 358 724.7 359 726.3 360 727.5 361 728.4 362 729.1 363 729.5 364 730 365 730.5 366 731 367 731.7 368 732.7 369 734.1 370 736 371 738.1 372 740.6 373 743.3 374 746.3 375 749.6 376 753.2 377 757 378 760.8 379 764.4 380 767.7 381 770.7 382 773.4 383 775.8 384 778 385 780 386 782 387 784 388 786 389 788.2 390 790.6 391 793.3 392 796.3 393 799.6 394 803.2 395 807 396 810.7 397 814.3 398 817.9 399 821.4 400 824.7 401 827.8 402 830.7 403 833.4 404 835.9 405 838.1 406 840.3 407 842.4 408 844.5 409 846.8 410 849.2 411 851.9 412 854.9 413 858.2 414 861.6 415 865.3 416 869 417 872.7 418 876.3 419 880 420 883.7 421 887.4 422 890.9 423 894.1 424 897.1 425 899.7 426 901.9 427 903.8 428 905.4 429 906.8 430 908.2 431 909.6 432 911.2 433 913.1 434 915.1 435 917.3 436 919.6 437 922.2 438 924.9 439 927.6 440 930.3 441 932.8 442 934.9 443 936.8 444 938.4 445 939.8 446 941 447 941.9 448 942.8 449 943.7 450 944.7 451 945.8 452 947.1 453 948.5 454 950.3 455 952.5 456 955.2 457 958.2 458 961.6 459 965.2 460 969 461 972.7 462 976.4 463 979.8 464 983.1 465 986.1 466 988.7 467 991.1 468 993.1 469 995.1 470 997 471 998.9 472 1000.9 473 1003 474 1005.2 475 1007.6 476 1010.3 477 1013.1 478 1016 479 1019 480 1022 481 1024.9 482 1027.8 483 1030.4 484 1032.7 485 1034.7 486 1036.4 487 1037.9 488 1039.3 489 1040.7 490 1042.1 491 1043.6 492 1045.3 493 1047.3 494 1049.7 495 1052.4 496 1055.5 497 1058.9 498 1062.4 499 1065.9 500 1069.3 501 1072.7 502 1075.8 503 1078.8 504 1081.6 505 1084.3 506 1086.8 507 1089.4 508 1092.1 509 1094.9 510 1097.8 511 1100.9 512 1104.1 513 1107.5 514 1111.1 515 1114.8 516 1118.6 517 1122.4 518 1126.2 519 1129.8 520 1133.4 521 1136.7 522 1139.9 523 1143.1 524 1146 525 1148.9 526 1151.5 527 1154 528 1156.5 529 1158.9 530 1161.2 531 1163.5 532 1165.7 533 1167.9 534 1170 535 1172.2 536 1174.3 537 1176.4 538 1178.4 539 1180.3 540 1182.1 541 1183.8 542 1185.4 543 1186.9 544 1188.3 545 1189.6 546 1190.7 547 1191.8 548 1192.8 549 1193.6 550 1194.5 551 1195.2 552 1195.9 553 1196.6 554 1197.2 555 1197.6 556 1198.1 557 1198.4 558 1198.8 559 1199 560 1199.3 561 1199.5 562 1199.7 563 1199.9 564 1200 565 1200.1 566 1200.2 567 1200.2 568 1200.3 569 1200.3 570 1200.3 571 1200.4 572 1200.4 573 1200.4Z" fill="#f5deb3" stroke="#000" stroke-width="1.3" stroke-linejoin="round"/>
<rect x="59.76" y="687.81" width="532.43" height="532.43" fill="none" stroke="#000" stroke-width="0.75"/>
<text x="326.38" y="671.9" text-anchor="middle" font-weight="bold" font-size="21.54">Motif score threshold: 91.600</text>
<text x="325.98" y="1265.5" text-anchor="middle" font-size="15.9">Motif score</text>
<text transform="translate(21.5,954.02) rotate(-90)" text-anchor="middle" font-size="15.9">Density</text>
<path d="M77.5 1220.24H545.95M77.5 1220.24v5.98M233.65 1220.24v5.98M389.8 1220.24v5.98M545.95 1220.24v5.98" fill="none" stroke="#000" stroke-width="0.75" stroke-linecap="square"/>
<text x="77.6" y="1241.7" text-anchor="middle" font-size="10.2">85</text>
<text x="233.75" y="1241.7" text-anchor="middle" font-size="10.2">90</text>
<text x="389.9" y="1241.7" text-anchor="middle" font-size="10.2">95</text>
<text x="546.05" y="1241.7" text-anchor="middle" font-size="10.2">100</text>
<path d="M59.76 1200.52V719.79M59.76 1200.52h-5.98M59.76 1080.34h-5.98M59.76 960.15h-5.98M59.76 839.97h-5.98M59.76 719.79h-5.98" fill="none" stroke="#000" stroke-width="0.75" stroke-linecap="square"/>
<text transform="translate(45.4,1200.52) rotate(-90)" text-anchor="middle" font-size="10.2">0.00</text>
<text transform="translate(45.4,1080.34) rotate(-90)" text-anchor="middle" font-size="10.2">0.05</text>
<text transform="translate(45.4,960.15) rotate(-90)" text-anchor="middle" font-size="10.2">0.10</text>
<text transform="translate(45.4,839.97) rotate(-90)" text-anchor="middle" font-size="10.2">0.15</text>
<text transform="translate(45.4,719.79) rotate(-90)" text-anchor="middle" font-size="10.2">0.20</text>
<g clip-path="url(#c3)"><path d="M283.62 1220.24V687.81" stroke="#d03030" stroke-width="1.5" stroke-dasharray="6 6" stroke-linecap="round" fill="none"/></g>
<path d="M719.2 1200.3 720.2 1200.2 721.2 1200 722.2 1199.7 723.2 1199.4 724.2 1199 725.2 1198.5 726.2 1198 727.2 1197.5 728.2 1196.8 729.2 1196 730.2 1195.1 731.2 1194.2 732.2 1193.1 733.2 1191.9 734.2 1190.5 735.2 1188.9 736.2 1187.1 737.2 1185.1 738.2 1183 739.2 1180.6 740.2 1178 741.2 1175.1 742.2 1171.9 743.2 1168.4 744.2 1164.6 745.2 1160.4 746.2 1155.8 747.2 1150.7 748.2 1145.1 749.2 1139.1 750.2 1132.6 751.2 1125.8 752.2 1118.7 753.2 1111 754.2 1102.7 755.2 1093.9 756.2 1084.6 757.2 1074.9 758.2 1064.9 759.2 1054.3 760.2 1043.4 761.2 1032.4 762.2 1021.5 763.2 1010.6 764.2 999.6 765.2 988.4 766.2 976.9 767.2 965.1 768.2 952.7 769.2 939.4 770.2 925.6 771.2 911.8 772.2 898.8 773.2 887 774.2 876.3 775.2 866.3 776.2 856.7 777.2 847.3 778.2 838 779.2 828.6 780.2 819.5 781.2 810.9 782.2 803 783.2 795.7 784.2 789.1 785.2 783 786.2 777.4 787.2 772.3 788.2 767.6 789.2 763.4 790.2 759.5 791.2 755.9 792.2 752.6 793.2 749.5 794.2 746.7 795.2 744.1 796.2 741.8 797.2 739.7 798.2 737.8 799.2 736.2 800.2 734.7 801.2 733.4 802.2 732.3 803.2 731.4 804.2 730.6 805.2 729.9 806.2 729.4 807.2 729 808.2 728.8 809.2 728.6 810.2 728.4 811.2 728.3 812.2 728.3 813.2 728.2 814.2 728.3 815.2 728.4 816.2 728.5 817.2 728.8 818.2 729.1 819.2 729.5 820.2 729.9 821.2 730.4 822.2 730.9 823.2 731.4 824.2 731.9 825.2 732.5 826.2 733 827.2 733.6 828.2 734.1 829.2 734.7 830.2 735.4 831.2 736 832.2 736.6 833.2 737.1 834.2 737.7 835.2 738.2 836.2 738.6 837.2 739 838.2 739.4 839.2 739.7 840.2 740 841.2 740.3 842.2 740.5 843.2 740.7 844.2 740.8 845.2 740.9 846.2 741 847.2 741 848.2 741 849.2 740.9 850.2 740.9 851.2 740.8 852.2 740.8 853.2 740.7 854.2 740.5 855.2 740.4 856.2 740.2 857.2 740 858.2 739.8 859.2 739.6 860.2 739.4 861.2 739.1 862.2 738.9 863.2 738.7 864.2 738.4 865.2 738.2 866.2 737.9 867.2 737.6 868.2 737.3 869.2 737 870.2 736.7 871.2 736.3 872.2 736 873.2 735.6 874.2 735.2 875.2 734.7 876.2 734.3 877.2 733.8 878.2 733.3 879.2 732.7 880.2 732.2 881.2 731.6 882.2 731 883.2 730.4 884.2 729.9 885.2 729.4 886.2 728.9 887.2 728.4 888.2 727.9 889.2 727.4 890.2 726.9 891.2 726.4 892.2 725.9 893.2 725.5 894.2 725 895.2 724.7 896.2 724.4 897.2 724.1 898.2 723.9 899.2 723.7 900.2 723.6 901.2 723.5 902.2 723.4 903.2 723.5 904.2 723.5 905.2 723.6 906.2 723.7 907.2 723.9 908.2 724.1 909.2 724.3 910.2 724.7 911.2 725.1 912.2 725.5 913.2 726 914.2 726.5 915.2 727 916.2 727.5 917.2 728 918.2 728.6 919.2 729.2 920.2 729.7 921.2 730.3 922.2 730.8 923.2 731.4 924.2 732 925.2 732.5 926.2 733.1 927.2 733.7 928.2 734.3 929.2 734.9 930.2 735.4 931.2 736 932.2 736.5 933.2 737 934.2 737.5 935.2 738 936.2 738.4 937.2 738.7 938.2 739 939.2 739.3 940.2 739.5 941.2 739.6 942.2 739.7 943.2 739.7 944.2 739.6 945.2 739.4 946.2 739.2 947.2 738.9 948.2 738.5 949.2 738 950.2 737.5 951.2 736.9 952.2 736.2 953.2 735.4 954.2 734.5 955.2 733.6 956.2 732.5 957.2 731.3 958.2 730.1 959.2 728.7 960.2 727.4 961.2 726.1 962.2 724.8 963.2 723.6 964.2 722.4 965.2 721.2 966.2 720 967.2 718.9 968.2 717.8 969.2 716.6 970.2 715.5 971.2 714.4 972.2 713.3 973.2 712.4 974.2 711.5 975.2 710.6 976.2 709.9 977.2 709.2 978.2 708.6 979.2 708.2 980.2 707.9 981.2 707.6 982.2 707.4 983.2 707.3 984.2 707.3 985.2 707.4 986.2 707.6 987.2 707.9 988.2 708.3 989.2 708.8 990.2 709.4 991.2 710.1 992.2 710.9 993.2 711.7 994.2 712.6 995.2 713.5 996.2 714.4 997.2 715.3 998.2 716.3 999.2 717.2 1000.2 718.2 1001.2 719.2 1002.2 720.1 1003.2 721.1 1004.2 722 1005.2 722.9 1006.2 723.7 1007.2 724.5 1008.2 725.2 1009.2 725.9 1010.2 726.6 1011.2 727.1 1012.2 727.7 1013.2 728.2 1014.2 728.6 1015.2 729 1016.2 729.4 1017.2 729.7 1018.2 730 1019.2 730.3 1020.2 730.5 1021.2 730.8 1022.2 731 1023.2 731.2 1024.2 731.5 1025.2 731.7 1026.2 732 1027.2 732.4 1028.2 732.7 1029.2 733.1 1030.2 733.6 1031.2 734 1032.2 734.6 1033.2 735.1 1034.2 735.8 1035.2 736.4 1036.2 737.1 1037.2 737.9 1038.2 738.6 1039.2 739.4 1040.2 740.2 1041.2 740.9 1042.2 741.7 1043.2 742.4 1044.2 743.2 1045.2 743.8 1046.2 744.5 1047.2 745.1 1048.2 745.7 1049.2 746.3 1050.2 746.8 1051.2 747.2 1052.2 747.6 1053.2 748 1054.2 748.3 1055.2 748.6 1056.2 748.8 1057.2 749 1058.2 749.2 1059.2 749.4 1060.2 749.5 1061.2 749.5 1062.2 749.6 1063.2 749.5 1064.2 749.4 1065.2 749.2 1066.2 749 1067.2 748.8 1068.2 748.5 1069.2 748.1 1070.2 747.7 1071.2 747.2 1072.2 746.6 1073.2 746.1 1074.2 745.5 1075.2 744.8 1076.2 744.2 1077.2 743.5 1078.2 742.8 1079.2 742.1 1080.2 741.5 1081.2 740.8 1082.2 740.2 1083.2 739.6 1084.2 739 1085.2 738.4 1086.2 737.9 1087.2 737.5 1088.2 737 1089.2 736.6 1090.2 736.2 1091.2 735.9 1092.2 735.5 1093.2 735.2 1094.2 734.9 1095.2 734.6 1096.2 734.3 1097.2 734.1 1098.2 734 1099.2 733.9 1100.2 733.9 1101.2 733.8 1102.2 733.8 1103.2 733.7 1104.2 733.7 1105.2 733.6 1106.2 733.6 1107.2 733.5 1108.2 733.5 1109.2 733.4 1110.2 733.3 1111.2 733.3 1112.2 733.2 1113.2 733.1 1114.2 733 1115.2 732.8 1116.2 732.6 1117.2 732.5 1118.2 732.3 1119.2 732.1 1120.2 732 1121.2 731.9 1122.2 731.8 1123.2 731.7 1124.2 731.7 1125.2 731.6 1126.2 731.7 1127.2 731.8 1128.2 731.9 1129.2 732.2 1130.2 732.6 1131.2 733 1132.2 733.6 1133.2 734.4 1134.2 735.3 1135.2 736.5 1136.2 737.9 1137.2 739.5 1138.2 741.3 1139.2 743.4 1140.2 745.7 1141.2 748.5 1142.2 751.5 1143.2 754.9 1144.2 758.6 1145.2 762.7 1146.2 767.2 1147.2 772.2 1148.2 777.6 1149.2 783.7 1150.2 790.5 1151.2 798 1152.2 806.4 1153.2 815.7 1154.2 825.8 1155.2 836.7 1156.2 848.2 1157.2 860.2 1158.2 872.7 1159.2 885.8 1160.2 899.6 1161.2 913.7 1162.2 927.6 1163.2 940.7 1164.2 952.8 1165.2 964.3 1166.2 975.7 1167.2 987.4 1168.2 999.3 1169.2 1011.3 1170.2 1023.1 1171.2 1034.6 1172.2 1045.5 1173.2 1055.9 1174.2 1065.9 1175.2 1075.5 1176.2 1084.8 1177.2 1093.8 1178.2 1102.6 1179.2 1111 1180.2 1119 1181.2 1126.5 1182.2 1133.3 1183.2 1139.7 1184.2 1145.6 1185.2 1151.1 1186.2 1156.2 1187.2 1160.8 1188.2 1165.1 1189.2 1169.1 1190.2 1172.8 1191.2 1176.2 1192.2 1179.2 1193.2 1182 1194.2 1184.5 1195.2 1186.7 1196.2 1188.8 1197.2 1190.6 1198.2 1192.1 1199.2 1193.4 1200.2 1194.5 1201.2 1195.5 1202.2 1196.4 1203.2 1197.2 1204.2 1197.9 1205.2 1198.4 1206.2 1198.8 1207.2 1199.2 1208.2 1199.5 1209.2 1199.8 1210.2 1200.1 1211.2 1200.2 1212.2 1200.3Z" fill="#f5deb3" stroke="#000" stroke-width="1.3" stroke-linejoin="round"/>
<rect x="699.76" y="687.81" width="532.43" height="532.43" fill="none" stroke="#000" stroke-width="0.75"/>
<text x="965.98" y="671.9" text-anchor="middle" font-weight="bold" font-size="21.6">Enrichment zone: 1.50</text>
<text x="965.98" y="1265.5" text-anchor="middle" font-size="15.9">Distance to peak summit</text>
<text transform="translate(661.5,954.02) rotate(-90)" text-anchor="middle" font-size="15.9">Density</text>
<path d="M724.5 1220.24H1206.45M724.5 1220.24v5.98M804.83 1220.24v5.98M885.15 1220.24v5.98M965.48 1220.24v5.98M1045.8 1220.24v5.98M1126.12 1220.24v5.98M1206.45 1220.24v5.98" fill="none" stroke="#000" stroke-width="0.75" stroke-linecap="square"/>
<text x="724.6" y="1241.7" text-anchor="middle" font-size="10.2">-600</text>
<text x="804.93" y="1241.7" text-anchor="middle" font-size="10.2">-400</text>
<text x="885.25" y="1241.7" text-anchor="middle" font-size="10.2">-200</text>
<text x="965.58" y="1241.7" text-anchor="middle" font-size="10.2">0</text>
<text x="1045.9" y="1241.7" text-anchor="middle" font-size="10.2">200</text>
<text x="1126.22" y="1241.7" text-anchor="middle" font-size="10.2">400</text>
<text x="1206.55" y="1241.7" text-anchor="middle" font-size="10.2">600</text>
<path d="M699.76 1200.52V735.6M699.76 1200.52h-5.98M699.76 1107.54h-5.98M699.76 1014.55h-5.98M699.76 921.57h-5.98M699.76 828.58h-5.98M699.76 735.6h-5.98" fill="none" stroke="#000" stroke-width="0.75" stroke-linecap="square"/>
<text transform="translate(685.4,1200.52) rotate(-90)" text-anchor="middle" font-size="10.2">0e+00</text>
<text transform="translate(685.4,1107.54) rotate(-90)" text-anchor="middle" font-size="10.2">2e-04</text>
<text transform="translate(685.4,1014.55) rotate(-90)" text-anchor="middle" font-size="10.2">4e-04</text>
<text transform="translate(685.4,921.57) rotate(-90)" text-anchor="middle" font-size="10.2">6e-04</text>
<text transform="translate(685.4,828.58) rotate(-90)" text-anchor="middle" font-size="10.2">8e-04</text>
<text transform="translate(685.4,735.6) rotate(-90)" text-anchor="middle" font-size="10.2">1e-03</text>
<g clip-path="url(#c4)"><path d="M964.87 1220.24V687.81M966.08 1220.24V687.81" stroke="#006400" stroke-width="1.5" stroke-dasharray="6 6" stroke-linecap="round" fill="none"/></g>
<circle cx="1029" cy="734.3" r="3" fill="#0000ff"/>
<path d="M1017.6 703.2H1041.5" stroke="#006400" stroke-width="1.125" stroke-dasharray="1.125 3.375" stroke-linecap="round" fill="none"/>
<text x="1052.2" y="707.8" font-size="12.92">enrichment zone = 1.5</text>
<path d="M1017.6 719.2H1041.5" stroke="#e03030" stroke-width="1.125" stroke-dasharray="1.125 3.375" stroke-linecap="round" fill="none"/>
<text x="1052.2" y="723.8" font-size="12.92">motif score threshold = 91.600</text>
<text x="1052.2" y="738.8" font-size="12.92">centrality p-val = NS</text>
</svg>
</div>
</body></html>
